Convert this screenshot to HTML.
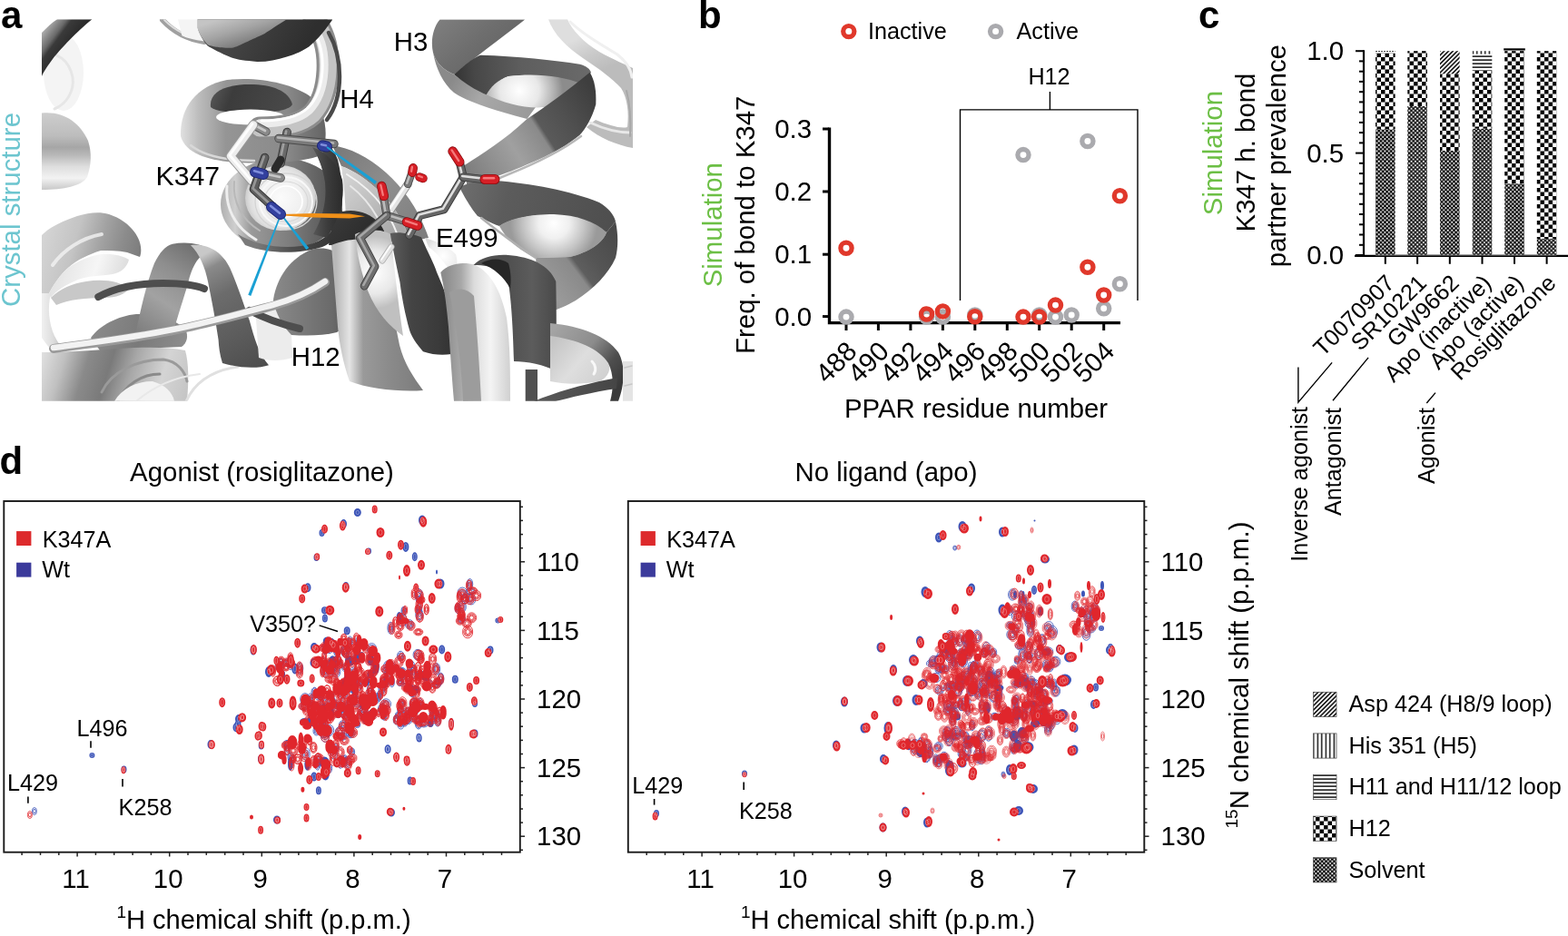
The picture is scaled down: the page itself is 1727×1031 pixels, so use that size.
<!DOCTYPE html>
<html><head><meta charset="utf-8"><style>
html,body{margin:0;padding:0;background:#fff;overflow:hidden;}
svg{display:block;font-family:'Liberation Sans', Arial, Helvetica, sans-serif;}
</style></head><body>
<svg width="1727" height="1031" viewBox="0 0 1727 1031">
<defs><clipPath id="clipA"><rect x="46" y="21.3" width="651" height="420.5"/></clipPath><linearGradient id="gFR" gradientUnits="userSpaceOnUse" x1="640" y1="40" x2="660" y2="80"><stop offset="0" stop-color="#dedede"/><stop offset="0.5" stop-color="#cacaca"/><stop offset="1" stop-color="#bcbcbc"/></linearGradient><linearGradient id="gH3a" gradientUnits="userSpaceOnUse" x1="480" y1="25" x2="540" y2="90"><stop offset="0" stop-color="#7e7e7e"/><stop offset="0.5" stop-color="#6e6e6e"/><stop offset="1" stop-color="#626262"/></linearGradient><linearGradient id="gH3r" gradientUnits="userSpaceOnUse" x1="500" y1="85" x2="580" y2="130"><stop offset="0" stop-color="#8a8a8a"/><stop offset="0.4" stop-color="#a8a8a8"/><stop offset="1" stop-color="#9a9a9a"/></linearGradient><linearGradient id="gH3b" gradientUnits="userSpaceOnUse" x1="500" y1="80" x2="650" y2="70"><stop offset="0" stop-color="#333333"/><stop offset="0.15" stop-color="#474747"/><stop offset="0.5" stop-color="#5e5e5e"/><stop offset="1" stop-color="#6a6a6a"/></linearGradient><radialGradient id="gH3h" gradientUnits="userSpaceOnUse" cx="572" cy="100" r="48"><stop offset="0" stop-color="#ffffff"/><stop offset="0.45" stop-color="#e8e8e8"/><stop offset="0.8" stop-color="#b0b0b0"/><stop offset="1" stop-color="#8c8c8c"/></radialGradient><linearGradient id="gH3c" gradientUnits="userSpaceOnUse" x1="660" y1="110" x2="520" y2="200"><stop offset="0" stop-color="#3e3e3e"/><stop offset="0.25" stop-color="#505050"/><stop offset="0.42" stop-color="#5a5a5a"/><stop offset="0.45" stop-color="#8a8a8a"/><stop offset="0.65" stop-color="#a0a0a0"/><stop offset="0.85" stop-color="#8c8c8c"/><stop offset="1" stop-color="#7c7c7c"/></linearGradient><linearGradient id="gTL" gradientUnits="userSpaceOnUse" x1="48" y1="30" x2="75" y2="50"><stop offset="0" stop-color="#b8b8b8"/><stop offset="0.45" stop-color="#6a6a6a"/><stop offset="0.6" stop-color="#3a3a3a"/><stop offset="1" stop-color="#2c2c2c"/></linearGradient><linearGradient id="gLD" gradientUnits="userSpaceOnUse" x1="46" y1="124" x2="46" y2="209"><stop offset="0" stop-color="#cdcdcd"/><stop offset="0.3" stop-color="#bdbdbd"/><stop offset="0.45" stop-color="#a6a6a6"/><stop offset="0.55" stop-color="#b8b8b8"/><stop offset="0.7" stop-color="#dedede"/><stop offset="0.85" stop-color="#f2f2f2"/><stop offset="1" stop-color="#c8c8c8"/></linearGradient><linearGradient id="gLR" gradientUnits="userSpaceOnUse" x1="243" y1="0" x2="377" y2="0"><stop offset="0" stop-color="#b0b0b0"/><stop offset="0.12" stop-color="#cfcfcf"/><stop offset="0.25" stop-color="#9a9a9a"/><stop offset="0.6" stop-color="#7a7a7a"/><stop offset="1" stop-color="#4a4a4a"/></linearGradient><linearGradient id="gLRd" gradientUnits="userSpaceOnUse" x1="280" y1="250" x2="377" y2="240"><stop offset="0" stop-color="#7a7a7a"/><stop offset="0.4" stop-color="#4e4e4e"/><stop offset="1" stop-color="#2e2e2e"/></linearGradient><radialGradient id="gLRh" gradientUnits="userSpaceOnUse" cx="309" cy="218" r="40"><stop offset="0" stop-color="#fbfbfb"/><stop offset="0.6" stop-color="#f0f0f0"/><stop offset="0.85" stop-color="#dedede"/><stop offset="1" stop-color="#c8c8c8"/></radialGradient><linearGradient id="gH4R" gradientUnits="userSpaceOnUse" x1="345" y1="0" x2="377" y2="0"><stop offset="0" stop-color="#6a6a6a"/><stop offset="0.35" stop-color="#4a4a4a"/><stop offset="1" stop-color="#2c2c2c"/></linearGradient><linearGradient id="gRing" gradientUnits="userSpaceOnUse" x1="199" y1="0" x2="365" y2="0"><stop offset="0" stop-color="#e0e0e0"/><stop offset="0.12" stop-color="#bcbcbc"/><stop offset="0.3" stop-color="#959595"/><stop offset="0.7" stop-color="#8a8a8a"/><stop offset="1" stop-color="#5e5e5e"/></linearGradient><linearGradient id="gRingIn" gradientUnits="userSpaceOnUse" x1="230" y1="90" x2="320" y2="125"><stop offset="0" stop-color="#5e5e5e"/><stop offset="0.3" stop-color="#3c3c3c"/><stop offset="1" stop-color="#4a4a4a"/></linearGradient><linearGradient id="gTD" gradientUnits="userSpaceOnUse" x1="260" y1="30" x2="330" y2="65"><stop offset="0" stop-color="#454545"/><stop offset="1" stop-color="#2e2e2e"/></linearGradient><linearGradient id="gTDl" gradientUnits="userSpaceOnUse" x1="240" y1="22" x2="250" y2="55"><stop offset="0" stop-color="#c4c4c4"/><stop offset="0.5" stop-color="#a4a4a4"/><stop offset="1" stop-color="#7c7c7c"/></linearGradient><linearGradient id="gL1" gradientUnits="userSpaceOnUse" x1="508" y1="200" x2="677" y2="245"><stop offset="0" stop-color="#6e6e6e"/><stop offset="0.3" stop-color="#5c5c5c"/><stop offset="1" stop-color="#4e4e4e"/></linearGradient><radialGradient id="gL2" gradientUnits="userSpaceOnUse" cx="610" cy="246" r="48"><stop offset="0" stop-color="#ffffff"/><stop offset="0.35" stop-color="#f0f0f0"/><stop offset="0.7" stop-color="#c4c4c4"/><stop offset="1" stop-color="#9a9a9a"/></radialGradient><linearGradient id="gL3" gradientUnits="userSpaceOnUse" x1="678" y1="260" x2="585" y2="330"><stop offset="0" stop-color="#4a4a4a"/><stop offset="0.3" stop-color="#555555"/><stop offset="0.45" stop-color="#5e5e5e"/><stop offset="0.5" stop-color="#8a8a8a"/><stop offset="0.8" stop-color="#9a9a9a"/><stop offset="1" stop-color="#8a8a8a"/></linearGradient><linearGradient id="gBL1" gradientUnits="userSpaceOnUse" x1="46" y1="250" x2="155" y2="280"><stop offset="0" stop-color="#d6d6d6"/><stop offset="0.35" stop-color="#c4c4c4"/><stop offset="0.6" stop-color="#a2a2a2"/><stop offset="0.8" stop-color="#8c8c8c"/><stop offset="1" stop-color="#7c7c7c"/></linearGradient><linearGradient id="gBL2" gradientUnits="userSpaceOnUse" x1="54" y1="300" x2="145" y2="330"><stop offset="0" stop-color="#e0e0e0"/><stop offset="0.5" stop-color="#f6f6f6"/><stop offset="1" stop-color="#d0d0d0"/></linearGradient><linearGradient id="gBL3" gradientUnits="userSpaceOnUse" x1="46" y1="0" x2="72" y2="0"><stop offset="0" stop-color="#f0f0f0"/><stop offset="0.5" stop-color="#dcdcdc"/><stop offset="1" stop-color="#b4b4b4"/></linearGradient><linearGradient id="gBL4" gradientUnits="userSpaceOnUse" x1="110" y1="345" x2="206" y2="380"><stop offset="0" stop-color="#8a8a8a"/><stop offset="0.5" stop-color="#7a7a7a"/><stop offset="1" stop-color="#8e8e8e"/></linearGradient><linearGradient id="gBL5" gradientUnits="userSpaceOnUse" x1="46" y1="390" x2="206" y2="440"><stop offset="0" stop-color="#e0e0e0"/><stop offset="0.15" stop-color="#c0c0c0"/><stop offset="0.3" stop-color="#8a8a8a"/><stop offset="0.45" stop-color="#7a7a7a"/><stop offset="0.6" stop-color="#a8a8a8"/><stop offset="0.8" stop-color="#d4d4d4"/><stop offset="1" stop-color="#c4c4c4"/></linearGradient><linearGradient id="gH12b" gradientUnits="userSpaceOnUse" x1="150" y1="370" x2="215" y2="270"><stop offset="0" stop-color="#7a7a7a"/><stop offset="0.4" stop-color="#a2a2a2"/><stop offset="0.7" stop-color="#8e8e8e"/><stop offset="1" stop-color="#6e6e6e"/></linearGradient><linearGradient id="gH12f" gradientUnits="userSpaceOnUse" x1="225" y1="280" x2="290" y2="400"><stop offset="0" stop-color="#c8c8c8"/><stop offset="0.12" stop-color="#8a8a8a"/><stop offset="0.35" stop-color="#6c6c6c"/><stop offset="0.75" stop-color="#5a5a5a"/><stop offset="1" stop-color="#4e4e4e"/></linearGradient><linearGradient id="gH12r" gradientUnits="userSpaceOnUse" x1="300" y1="300" x2="382" y2="300"><stop offset="0" stop-color="#8a8a8a"/><stop offset="0.4" stop-color="#7a7a7a"/><stop offset="0.8" stop-color="#6a6a6a"/><stop offset="1" stop-color="#5a5a5a"/></linearGradient><linearGradient id="gArc" gradientUnits="userSpaceOnUse" x1="370" y1="165" x2="470" y2="255"><stop offset="0" stop-color="#7a7a7a"/><stop offset="0.5" stop-color="#8e8e8e"/><stop offset="1" stop-color="#7e7e7e"/></linearGradient><linearGradient id="gArcIn" gradientUnits="userSpaceOnUse" x1="377" y1="185" x2="440" y2="250"><stop offset="0" stop-color="#d8d8d8"/><stop offset="0.5" stop-color="#c0c0c0"/><stop offset="1" stop-color="#a8a8a8"/></linearGradient><linearGradient id="gArcD" gradientUnits="userSpaceOnUse" x1="372" y1="230" x2="420" y2="268"><stop offset="0" stop-color="#3a3a3a"/><stop offset="1" stop-color="#262626"/></linearGradient><linearGradient id="gRT" gradientUnits="userSpaceOnUse" x1="343" y1="0" x2="378" y2="0"><stop offset="0" stop-color="#5a5a5a"/><stop offset="0.5" stop-color="#3c3c3c"/><stop offset="1" stop-color="#2a2a2a"/></linearGradient><linearGradient id="gBR1" gradientUnits="userSpaceOnUse" x1="370" y1="0" x2="470" y2="0"><stop offset="0" stop-color="#b8b8b8"/><stop offset="0.15" stop-color="#e4e4e4"/><stop offset="0.3" stop-color="#9a9a9a"/><stop offset="0.6" stop-color="#8a8a8a"/><stop offset="1" stop-color="#7a7a7a"/></linearGradient><radialGradient id="gBR2" gradientUnits="userSpaceOnUse" cx="412" cy="300" r="40"><stop offset="0" stop-color="#ffffff"/><stop offset="0.6" stop-color="#e8e8e8"/><stop offset="1" stop-color="#c0c0c0"/></radialGradient><linearGradient id="gBR3" gradientUnits="userSpaceOnUse" x1="430" y1="0" x2="507" y2="0"><stop offset="0" stop-color="#5e5e5e"/><stop offset="0.3" stop-color="#444444"/><stop offset="0.7" stop-color="#3a3a3a"/><stop offset="1" stop-color="#2e2e2e"/></linearGradient><radialGradient id="gBR4" gradientUnits="userSpaceOnUse" cx="488" cy="282" r="22"><stop offset="0" stop-color="#ffffff"/><stop offset="0.7" stop-color="#eeeeee"/><stop offset="1" stop-color="#dddddd"/></radialGradient><linearGradient id="gBR5" gradientUnits="userSpaceOnUse" x1="490" y1="0" x2="562" y2="0"><stop offset="0" stop-color="#8c8c8c"/><stop offset="0.25" stop-color="#a8a8a8"/><stop offset="0.45" stop-color="#dcdcdc"/><stop offset="0.7" stop-color="#f4f4f4"/><stop offset="1" stop-color="#d0d0d0"/></linearGradient><linearGradient id="gBR6" gradientUnits="userSpaceOnUse" x1="560" y1="0" x2="612" y2="0"><stop offset="0" stop-color="#505050"/><stop offset="0.5" stop-color="#5c5c5c"/><stop offset="1" stop-color="#4a4a4a"/></linearGradient><linearGradient id="gBR8i" gradientUnits="userSpaceOnUse" x1="612" y1="372" x2="668" y2="420"><stop offset="0" stop-color="#c4c4c4"/><stop offset="0.5" stop-color="#dedede"/><stop offset="1" stop-color="#cfcfcf"/></linearGradient><linearGradient id="gBR8" gradientUnits="userSpaceOnUse" x1="612" y1="360" x2="686" y2="420"><stop offset="0" stop-color="#a4a4a4"/><stop offset="0.45" stop-color="#8c8c8c"/><stop offset="0.75" stop-color="#4e4e4e"/><stop offset="1" stop-color="#3a3a3a"/></linearGradient><linearGradient id="gBR9" gradientUnits="userSpaceOnUse" x1="590" y1="440" x2="684" y2="420"><stop offset="0" stop-color="#5a5a5a"/><stop offset="1" stop-color="#444444"/></linearGradient></defs>
<g clip-path="url(#clipA)"><path d="M604,21.3 L625,21.3 C630,33 642,46 660,57 C676,66 689,71 697,75 L697,163 C680,160 660,152 646,140 L656,132 C670,138 684,142 691,140 C693,124 691,108 684,97 C674,86 660,76 642,64 C624,52 610,38 604,21.3 Z" fill="url(#gFR)" />
<path d="M628,24 C640,36 660,48 680,60 C690,68 695,76 696,85" fill="none" stroke="#f0f0f0" stroke-width="3" stroke-linecap="round" stroke-linejoin="round" />
<path d="M650,135 C665,142 680,146 694,146" fill="none" stroke="#e8e8e8" stroke-width="3" stroke-linecap="round" stroke-linejoin="round" />
<path d="M690,100 C694,115 695,130 694,150" fill="none" stroke="#a8a8a8" stroke-width="2" stroke-linecap="round" stroke-linejoin="round" />
<path d="M484.5,21.5 L578.2,21.5 C560,36 530,58 500.2,82 C490,78 480,70 477,58 C474,45 477,30 484.5,21.5 Z" fill="url(#gH3a)" />
<path d="M477,58 C480,75 488,92 500,102 C515,112 540,120 580.5,131 L590,118 C560,110 530,100 512,90 C505,86 502,84 500.2,82 C490,78 480,70 477,58 Z" fill="url(#gH3r)" />
<path d="M500.2,82 C512,72 520,64 529.2,60.7 C570,62 610,66 638.5,70.8 C646,73 650,76 651,80 L640,92 C610,85 580,82 560,84 C548,88 540,100 535.8,104.2 C525,100 512,92 500.2,82 Z" fill="url(#gH3b)" />
<path d="M535.8,104.2 C540,96 548,88 560,84 C590,80 620,84 640,92 C636,104 620,112 600,118 C580,120 555,114 535.8,104.2 Z" fill="url(#gH3h)" />
<path d="M649.6,79.7 C655,88 657,100 656.3,115 C652,130 645,142 638.5,148.8 C625,160 610,168 593.8,175.6 C575,184 560,190 549.2,193.5 C535,200 522,208 515.8,215.8 L511.3,182.3 C530,170 555,155 580.5,131 C600,118 625,100 649.6,79.7 Z" fill="url(#gH3c)" />
<path d="M640,150 C620,165 595,178 560,192 C540,200 525,208 516,216" fill="none" stroke="#b8b8b8" stroke-width="2.5" stroke-linecap="round" stroke-linejoin="round" />
<ellipse cx="70" cy="80" rx="22" ry="42" fill="#f4f4f4" />
<path d="M50,62 C62,56 76,66 80,85 C82,100 74,114 60,120" fill="none" stroke="#e6e6e6" stroke-width="3" stroke-linecap="round" stroke-linejoin="round" />
<path d="M63,21.3 L101.5,21.3 C90,30 70,50 58,65 C52,73 48,79 46,84 L46,36 C52,30 57,25 63,21.3 Z" fill="url(#gTL)" />
<path d="M46,124.5 C70,122 88,135 97,155 C101,168 101,180 96,195 C90,205 70,209 46,209 Z" fill="url(#gLD)" />
<path d="M179,22 C190,34 205,43 225,46" fill="none" stroke="#a0a0a0" stroke-width="6" stroke-linecap="round" stroke-linejoin="round" />
<path d="M181,22 C192,33 206,41 225,43.5" fill="none" stroke="#dedede" stroke-width="1.8" stroke-linecap="round" stroke-linejoin="round" />
<ellipse cx="310" cy="225" rx="67" ry="51" fill="url(#gLR)" />
<path d="M262,258 C285,272 320,276 345,268 C362,262 374,248 377,228 C378,250 372,265 355,272 C330,280 295,280 270,270 Z" fill="url(#gLRd)" />
<path d="M250,205 C248,228 258,250 282,264" fill="none" stroke="#eeeeee" stroke-width="3" stroke-linecap="round" stroke-linejoin="round" />
<path d="M258,200 C256,222 266,242 286,254" fill="none" stroke="#b8b8b8" stroke-width="2" stroke-linecap="round" stroke-linejoin="round" />
<ellipse cx="309" cy="218" rx="39" ry="36" fill="url(#gLRh)" />
<ellipse cx="315" cy="222" rx="34" ry="31" fill="none" stroke="#d4d4d4" stroke-width="1.4"/>
<ellipse cx="315" cy="222" rx="29" ry="27" fill="none" stroke="#f8f8f8" stroke-width="2"/>
<ellipse cx="315" cy="222" rx="24" ry="22" fill="none" stroke="#d8d8d8" stroke-width="1.2"/>
<ellipse cx="315" cy="222" rx="18" ry="17" fill="none" stroke="#ffffff" stroke-width="1.6"/>
<path d="M342,146 C356,150 366,160 372,176 C378,200 378,225 374,245 L356,250 C362,225 360,195 350,172 C346,164 342,156 342,146 Z" fill="url(#gH4R)" />
<path d="M199,150 C198,120 215,95 250,88 C285,84 320,92 340,105 C360,120 362,150 355,170 C340,178 300,181 262,179 C230,177 205,170 199,150 Z" fill="url(#gRing)" />
<path d="M232,118 C230,100 250,93 275,93 C300,93 318,100 322,115 C318,122 300,124 280,124 C260,124 240,124 232,118 Z" fill="url(#gRingIn)" />
<ellipse cx="276" cy="129" rx="38" ry="8.5" fill="#ffffff" />
<path d="M210,160 C225,172 250,177 280,177" fill="none" stroke="#d8d8d8" stroke-width="2.5" stroke-linecap="round" stroke-linejoin="round" />
<path d="M346,22 C358,38 362,58 361,78 C360,98 355,114 344,126 C332,137 312,141 286,141" fill="none" stroke="#8c8c8c" stroke-width="25" stroke-linecap="round" stroke-linejoin="round" />
<path d="M346,22 C358,38 362,58 361,78 C360,98 355,114 344,126 C332,137 312,141 286,141" fill="none" stroke="#c4c4c4" stroke-width="19" stroke-linecap="round" stroke-linejoin="round" />
<path d="M347,33 C355,45 358,60 357,78 C356,96 351,111 340,122 C329,132 310,136 286,136" fill="none" stroke="#ececec" stroke-width="9" stroke-linecap="round" stroke-linejoin="round" />
<path d="M346,36 C353,47 356,61 355,78 C354,95 349,109 339,119 C328,129 310,133 288,133" fill="none" stroke="#ffffff" stroke-width="3" stroke-linecap="round" stroke-linejoin="round" />
<path d="M362,36 C370,50 374,66 374,84 C374,104 369,120 360,132" fill="none" stroke="#4a4a4a" stroke-width="4.5" stroke-linecap="round" stroke-linejoin="round" />
<path d="M217.4,21.3 L366,21.3 L365.8,22.3 C355,38 345,48 340.2,51.5 C330,58 322,61 315.9,62.4 C305,66 295,68 283.1,67.9 C270,67 262,66 255.1,63.6 C242,58 234,54 228.4,50.3 C222,43 219,37 217.4,30.8 Z" fill="url(#gTD)" />
<path d="M217.4,21.3 L315.9,21.3 C305,28 298,33 291.6,36.9 C283,41 278,43 273.4,45.4 C265,49 260,52 255.1,52.7 C245,53 240,52 236.9,51.5 C232,50.5 230,50 228.4,49 C222,42 219,36 217.4,30.8 Z" fill="url(#gTDl)" />
<path d="M196,21.3 L217.4,21.3 L217.4,30.8 C219,36 222,42 224.7,45.4 C214,44 206,42 200.4,39.3 Z" fill="#f4f4f4" />
<path d="M506,206 C520,200 532,198 545,199 C585,202 628,210 660,223 C670,229 676,236 678,244 L668,256 C650,244 622,237 595,237 C575,238 560,243 550,249 C540,246 532,240 526,238 C518,228 512,218 506,206 Z" fill="url(#gL1)" />
<path d="M550,249 C562,240 585,236 610,236 C635,237 656,244 668,256 C664,268 648,278 628,283 L590,284 C572,276 558,264 550,249 Z" fill="url(#gL2)" />
<path d="M678,244 C681,258 681,272 678,284 C670,302 654,318 634,331 C624,337 615,340 608,343 L586,336 C590,320 592,300 590,284 L628,283 C648,278 664,268 668,256 Z" fill="url(#gL3)" />
<path d="M530,240 C545,252 565,268 590,284" fill="none" stroke="#b0b0b0" stroke-width="2.5" stroke-linecap="round" stroke-linejoin="round" />
<path d="M46,259 C55,250 68,244 85,238 C98,234 110,233 120,236 C135,241 146,250 152,262 C156,270 156,278 154,283 L140,278 C130,276 120,276 111,276 C98,280 85,286 75,295 C66,303 60,312 54,323 L46,323 Z" fill="url(#gBL1)" />
<path d="M58,292 C70,275 90,262 112,258" fill="none" stroke="#f2f2f2" stroke-width="4" stroke-linecap="round" stroke-linejoin="round" opacity="0.8"/>
<path d="M54,323 C60,312 66,303 75,295 C85,288 98,282 111,280 C122,279 134,281 142,286 C140,294 134,300 124,302 C110,304 96,304 86,308 C72,314 62,320 56,328 Z" fill="url(#gBL2)" />
<path d="M56,328 C66,318 80,312 95,310 C115,307 132,310 142,318 C138,324 128,328 115,328 C95,328 75,330 62,336 Z" fill="#c8c8c8" />
<path d="M46,323 L56,323 C52,340 54,356 60,370 C64,378 68,383 72,386 L60,388 C54,383 50,378 46,372 Z" fill="url(#gBL3)" />
<path d="M100,372 C110,358 130,348 150,346 C170,345 190,350 204,362 C208,370 206,378 200,382 L110,386 Z" fill="url(#gBL4)" />
<path d="M46,388 C70,388 100,386 130,384 C160,382 185,382 204,386 C208,400 208,420 206,442 L46,442 Z" fill="url(#gBL5)" />
<path d="M112,432 C122,410 150,396 180,396 C196,398 204,410 206,420" fill="none" stroke="#9a9a9a" stroke-width="3" stroke-linecap="round" stroke-linejoin="round" />
<path d="M130,442 C138,424 156,412 176,412" fill="none" stroke="#8a8a8a" stroke-width="3" stroke-linecap="round" stroke-linejoin="round" />
<path d="M126,442 C134,428 150,420 168,420 C182,424 190,432 192,442 Z" fill="#f2f2f2" />
<path d="M205,442 C215,420 235,408 262,404" fill="none" stroke="#e0e0e0" stroke-width="3" stroke-linecap="round" stroke-linejoin="round" />
<path d="M150,442 C170,425 195,415 220,412" fill="none" stroke="#e8e8e8" stroke-width="2" stroke-linecap="round" stroke-linejoin="round" />
<path d="M148.9,370 C155,340 162,310 170,290 C176,278 182,271 190,268.8 C205,266 222,268 232,276 C220,280 212,290 206.5,314.6 C200,335 194,355 189.4,370 Z" fill="url(#gH12b)" />
<path d="M108.3,327 C125,318 150,312 180,312 C200,312 215,314 225,318" fill="none" stroke="#4e4e4e" stroke-width="8" stroke-linecap="round"/>
<path d="M210,270 C230,268 245,278 253.4,295.4 C262,315 270,340 274.8,353 C280,372 285,390 296,402.2 C285,406 265,406 245,400 C242,390 241,382 240.6,374.4 C237,350 233,330 229,310 C226,295 220,280 210,270 Z" fill="url(#gH12f)" />
<path d="M281,337 C290,334 305,334 320,338 L322,394 C310,398 295,398 285,394 Z" fill="#ececec" />
<path d="M301,330 C305,305 320,284 343,275 C355,272 366,274 372,280 C378,292 382,310 382,330 C382,350 378,362 371,366 C355,370 338,370 321,369 C312,360 303,345 301,330 Z" fill="url(#gH12r)" />
<path d="M275,342 C290,350 305,356 330,362" fill="none" stroke="#4e4e4e" stroke-width="8" stroke-linecap="round" stroke-linejoin="round" />
<path d="M59,384 C100,378 140,374 190,364 C230,356 270,345 300,337 C325,330 345,320 358,311" fill="none" stroke="#9a9a9a" stroke-width="10" stroke-linecap="round" stroke-linejoin="round" />
<path d="M59,383 C100,377 140,373 190,363 C230,355 270,344 300,336 C325,329 345,319 358,310" fill="none" stroke="#f2f2f2" stroke-width="6.5" stroke-linecap="round" stroke-linejoin="round" />
<path d="M366,160 C385,163 405,172 425,190 C445,208 462,232 472,262 L452,266 C445,245 435,228 420,213 C405,198 390,188 376,183 Z" fill="url(#gArc)" />
<path d="M376,183 C390,188 405,198 420,213 C435,228 445,245 452,266 L380,266 C382,240 380,210 376,183 Z" fill="url(#gArcIn)" />
<path d="M382,192 C395,200 410,212 422,228 C430,240 436,252 440,266" fill="none" stroke="#f2f2f2" stroke-width="2" stroke-linecap="round" stroke-linejoin="round" />
<path d="M386,205 C398,214 408,226 416,240" fill="none" stroke="#e8e8e8" stroke-width="2" stroke-linecap="round" stroke-linejoin="round" />
<path d="M368,236 C385,228 405,232 418,246 C424,254 426,262 426,270 L362,270 C364,258 366,246 368,236 Z" fill="url(#gArcD)" />
<path d="M344,162 C360,168 372,180 377,198 C380,220 374,240 360,262 L345,258 C356,240 360,220 358,200 C356,185 350,172 344,162 Z" fill="url(#gRT)" />
<path d="M365,270 C385,262 400,262 412,268 C425,300 432,340 440,380 C445,400 455,415 466,430 C440,432 405,428 385,420 C378,400 374,380 372,360 Z" fill="url(#gBR1)" />
<path d="M391,258 C405,252 420,252 430,258 C434,290 438,330 444,370 C430,360 415,345 405,320 C398,300 393,280 391,258 Z" fill="url(#gBR2)" />
<path d="M429.8,257 C440,255 455,258 464,261.3 C472,280 478,290 481,299.7 C490,320 495,335 498,353 C502,368 505,378 506.6,387.2 C495,392 480,392 466,387.2 C458,378 453,370 451.1,363.7 C446,345 443,330 440.4,310.4 C436,290 432,270 429.8,257 Z" fill="url(#gBR3)" />
<path d="M468,262 C480,266 492,270 502,280 C505,290 503,298 498,300 C490,292 484,280 472,272 Z" fill="url(#gBR4)" />
<path d="M485.3,300 C495,290 510,288 523.7,292 C540,300 552,320 558,350 C562,380 562,410 562,442 L500,442 C498,420 496,390 494,360 C492,340 490,320 485.3,300 Z" fill="url(#gBR5)" />
<path d="M495,322 C505,316 515,318 522,326 C525,360 528,400 530,442 L510,442 C508,400 503,360 495,322 Z" fill="#9c9c9c" />
<path d="M521.5,292 C530,283 545,280 560,281 C585,283 605,292 612.3,310 C613,340 613,380 612.3,408.6 C600,402 580,398 566,398 C565,360 563,330 560,312 C555,298 545,292 521.5,292 Z" fill="url(#gBR6)" />
<path d="M530,290 C540,284 552,284 560,290 C563,300 563,310 562,318 C555,305 545,296 530,290 Z" fill="#262626" />
<path d="M606,368 C636,372 658,382 670,396 C674,406 670,416 660,420 C640,424 620,423 606,420 Z" fill="url(#gBR8i)" />
<path d="M652,398 C656,402 657,408 654,412" fill="none" stroke="#f8f8f8" stroke-width="3" stroke-linecap="round" stroke-linejoin="round" />
<path d="M606,356 C640,359 668,370 681,388 C689,402 688,424 681,442 L672,442 C676,428 676,412 670,400 C660,384 636,374 606,370 Z" fill="url(#gBR8)" fill-rule="evenodd"/>
<path d="M588,442 C612,432 640,424 670,418 L680,416 L679,428 C652,432 628,438 612,442 Z" fill="url(#gBR9)" />
<path d="M686,398 L697,398 L697,442 L686,442 Z" fill="#e4e4e4" />
<path d="M688,405 L696,403" fill="none" stroke="#c8c8c8" stroke-width="1.5" stroke-linecap="round" stroke-linejoin="round" />
<path d="M688,425 L696,423" fill="none" stroke="#c8c8c8" stroke-width="1.5" stroke-linecap="round" stroke-linejoin="round" />
<path d="M578.7,407 L592,407 L592,442 L578.7,442 Z" fill="#505050" />
<path d="M293,145 L279,137.5" fill="none" stroke="#5a5a5a" stroke-width="9.5" stroke-linecap="round" stroke-linejoin="round" />
<path d="M293,145 L279,137.5" fill="none" stroke="#8a8a8a" stroke-width="7.6000000000000005" stroke-linecap="round" stroke-linejoin="round" />
<path d="M293,145 L279,137.5" fill="none" stroke="#d0d0d0" stroke-width="2.66" stroke-linecap="round" stroke-linejoin="round" opacity="0.85" transform="translate(-1,-1)"/>
<path d="M279,137.5 L254,172 L277.7,199.6" fill="none" stroke="#9a9a9a" stroke-width="10.5" stroke-linecap="round" stroke-linejoin="round" />
<path d="M279,137.5 L254,172 L277.7,199.6" fill="none" stroke="#ededed" stroke-width="8.4" stroke-linecap="round" stroke-linejoin="round" />
<path d="M279,137.5 L254,172 L277.7,199.6" fill="none" stroke="#ffffff" stroke-width="2.9400000000000004" stroke-linecap="round" stroke-linejoin="round" opacity="0.85" transform="translate(-1,-1)"/>
<path d="M316.2,145.5 L309,180" fill="none" stroke="#3a3a3a" stroke-width="9.5" stroke-linecap="round" stroke-linejoin="round" />
<path d="M316.2,145.5 L309,180" fill="none" stroke="#6a6a6a" stroke-width="7.6000000000000005" stroke-linecap="round" stroke-linejoin="round" />
<path d="M316.2,145.5 L309,180" fill="none" stroke="#a8a8a8" stroke-width="2.66" stroke-linecap="round" stroke-linejoin="round" opacity="0.85" transform="translate(-1,-1)"/>
<path d="M309,176 L303,186" fill="none" stroke="#2a2a2a" stroke-width="9" stroke-linecap="round" stroke-linejoin="round" />
<path d="M291.7,173.5 L279.5,208.4 L300.4,227.6" fill="none" stroke="#333333" stroke-width="9.5" stroke-linecap="round" stroke-linejoin="round" />
<path d="M291.7,173.5 L279.5,208.4 L300.4,227.6" fill="none" stroke="#5e5e5e" stroke-width="7.6000000000000005" stroke-linecap="round" stroke-linejoin="round" />
<path d="M291.7,173.5 L279.5,208.4 L300.4,227.6" fill="none" stroke="#a0a0a0" stroke-width="2.66" stroke-linecap="round" stroke-linejoin="round" opacity="0.85" transform="translate(-1,-1)"/>
<path d="M307,152.5 L368,158.5" fill="none" stroke="#4a4a4a" stroke-width="9.5" stroke-linecap="round" stroke-linejoin="round" />
<path d="M307,152.5 L368,158.5" fill="none" stroke="#7a7a7a" stroke-width="7.6000000000000005" stroke-linecap="round" stroke-linejoin="round" />
<path d="M307,152.5 L368,158.5" fill="none" stroke="#c0c0c0" stroke-width="2.66" stroke-linecap="round" stroke-linejoin="round" opacity="0.85" transform="translate(-1,-1)"/>
<path d="M355,160.5 L360,161.5" fill="none" stroke="#1c2570" stroke-width="12" stroke-linecap="round" stroke-linejoin="round" />
<path d="M355,160.5 L360,161.5" fill="none" stroke="#33409e" stroke-width="10.2" stroke-linecap="round" stroke-linejoin="round" />
<path d="M355,160.5 L360,161.5" fill="none" stroke="#9aa8f0" stroke-width="2.64" stroke-linecap="round" stroke-linejoin="round" opacity="0.75" transform="translate(-1,-1.2)"/>
<path d="M288,191.5 L309.2,196" fill="none" stroke="#5a5a5a" stroke-width="9.5" stroke-linecap="round" stroke-linejoin="round" />
<path d="M288,191.5 L309.2,196" fill="none" stroke="#8a8a8a" stroke-width="7.6000000000000005" stroke-linecap="round" stroke-linejoin="round" />
<path d="M288,191.5 L309.2,196" fill="none" stroke="#d0d0d0" stroke-width="2.66" stroke-linecap="round" stroke-linejoin="round" opacity="0.85" transform="translate(-1,-1)"/>
<path d="M281,189.5 L290,192" fill="none" stroke="#1c2570" stroke-width="12" stroke-linecap="round" stroke-linejoin="round" />
<path d="M281,189.5 L290,192" fill="none" stroke="#33409e" stroke-width="10.2" stroke-linecap="round" stroke-linejoin="round" />
<path d="M281,189.5 L290,192" fill="none" stroke="#9aa8f0" stroke-width="2.64" stroke-linecap="round" stroke-linejoin="round" opacity="0.75" transform="translate(-1,-1.2)"/>
<path d="M450.8,258.9 L462.4,237.4 L488.8,230.8 L510.2,195" fill="none" stroke="#3a3a3a" stroke-width="9.2" stroke-linecap="round" stroke-linejoin="round" />
<path d="M450.8,258.9 L462.4,237.4 L488.8,230.8 L510.2,195" fill="none" stroke="#666666" stroke-width="7.359999999999999" stroke-linecap="round" stroke-linejoin="round" />
<path d="M450.8,258.9 L462.4,237.4 L488.8,230.8 L510.2,195" fill="none" stroke="#f4f4f4" stroke-width="2.576" stroke-linecap="round" stroke-linejoin="round" opacity="0.85" transform="translate(-1,-1)"/>
<path d="M510.2,195 L506.2,178.3" fill="none" stroke="#3a3a3a" stroke-width="9.2" stroke-linecap="round" stroke-linejoin="round" />
<path d="M510.2,195 L506.2,178.3" fill="none" stroke="#666666" stroke-width="7.359999999999999" stroke-linecap="round" stroke-linejoin="round" />
<path d="M510.2,195 L506.2,178.3" fill="none" stroke="#f4f4f4" stroke-width="2.576" stroke-linecap="round" stroke-linejoin="round" opacity="0.85" transform="translate(-1,-1)"/>
<path d="M506.2,178.3 L498.6,166.6" fill="none" stroke="#8a0c10" stroke-width="10.5" stroke-linecap="round" stroke-linejoin="round" />
<path d="M506.2,178.3 L498.6,166.6" fill="none" stroke="#d61f26" stroke-width="8.924999999999999" stroke-linecap="round" stroke-linejoin="round" />
<path d="M506.2,178.3 L498.6,166.6" fill="none" stroke="#ff9a9a" stroke-width="2.31" stroke-linecap="round" stroke-linejoin="round" opacity="0.75" transform="translate(-1,-1.2)"/>
<path d="M510.2,195 L532,197.5" fill="none" stroke="#3a3a3a" stroke-width="9.2" stroke-linecap="round" stroke-linejoin="round" />
<path d="M510.2,195 L532,197.5" fill="none" stroke="#666666" stroke-width="7.359999999999999" stroke-linecap="round" stroke-linejoin="round" />
<path d="M510.2,195 L532,197.5" fill="none" stroke="#f4f4f4" stroke-width="2.576" stroke-linecap="round" stroke-linejoin="round" opacity="0.85" transform="translate(-1,-1)"/>
<path d="M534,197.5 L545,197.5" fill="none" stroke="#8a0c10" stroke-width="11" stroke-linecap="round" stroke-linejoin="round" />
<path d="M534,197.5 L545,197.5" fill="none" stroke="#d61f26" stroke-width="9.35" stroke-linecap="round" stroke-linejoin="round" />
<path d="M534,197.5 L545,197.5" fill="none" stroke="#ff9a9a" stroke-width="2.42" stroke-linecap="round" stroke-linejoin="round" opacity="0.75" transform="translate(-1,-1.2)"/>
<path d="M426,237.4 L449.2,202.8" fill="none" stroke="#8a8a8a" stroke-width="9" stroke-linecap="round" stroke-linejoin="round" />
<path d="M426,237.4 L449.2,202.8" fill="none" stroke="#e4e4e4" stroke-width="7.2" stroke-linecap="round" stroke-linejoin="round" />
<path d="M426,237.4 L449.2,202.8" fill="none" stroke="#ffffff" stroke-width="2.5200000000000005" stroke-linecap="round" stroke-linejoin="round" opacity="0.85" transform="translate(-1,-1)"/>
<path d="M449.2,202.8 L453,192" fill="none" stroke="#4a4a4a" stroke-width="8.5" stroke-linecap="round" stroke-linejoin="round" />
<path d="M449.2,202.8 L453,192" fill="none" stroke="#7a7a7a" stroke-width="6.800000000000001" stroke-linecap="round" stroke-linejoin="round" />
<path d="M449.2,202.8 L453,192" fill="none" stroke="#c8c8c8" stroke-width="2.3800000000000003" stroke-linecap="round" stroke-linejoin="round" opacity="0.85" transform="translate(-1,-1)"/>
<path d="M454.1,190 L455,185" fill="none" stroke="#8a0c10" stroke-width="10" stroke-linecap="round" stroke-linejoin="round" />
<path d="M454.1,190 L455,185" fill="none" stroke="#d61f26" stroke-width="8.5" stroke-linecap="round" stroke-linejoin="round" />
<path d="M454.1,190 L455,185" fill="none" stroke="#ff9a9a" stroke-width="2.2" stroke-linecap="round" stroke-linejoin="round" opacity="0.75" transform="translate(-1,-1.2)"/>
<path d="M462,195 L466,196.5" fill="none" stroke="#8a0c10" stroke-width="9.5" stroke-linecap="round" stroke-linejoin="round" />
<path d="M462,195 L466,196.5" fill="none" stroke="#d61f26" stroke-width="8.075" stroke-linecap="round" stroke-linejoin="round" />
<path d="M462,195 L466,196.5" fill="none" stroke="#ff9a9a" stroke-width="2.09" stroke-linecap="round" stroke-linejoin="round" opacity="0.75" transform="translate(-1,-1.2)"/>
<path d="M426,237.4 L422.8,219.3" fill="none" stroke="#4a4a4a" stroke-width="9" stroke-linecap="round" stroke-linejoin="round" />
<path d="M426,237.4 L422.8,219.3" fill="none" stroke="#7a7a7a" stroke-width="7.2" stroke-linecap="round" stroke-linejoin="round" />
<path d="M426,237.4 L422.8,219.3" fill="none" stroke="#c8c8c8" stroke-width="2.5200000000000005" stroke-linecap="round" stroke-linejoin="round" opacity="0.85" transform="translate(-1,-1)"/>
<path d="M422.8,216 L420.3,205" fill="none" stroke="#8a0c10" stroke-width="10.5" stroke-linecap="round" stroke-linejoin="round" />
<path d="M422.8,216 L420.3,205" fill="none" stroke="#d61f26" stroke-width="8.924999999999999" stroke-linecap="round" stroke-linejoin="round" />
<path d="M422.8,216 L420.3,205" fill="none" stroke="#ff9a9a" stroke-width="2.31" stroke-linecap="round" stroke-linejoin="round" opacity="0.75" transform="translate(-1,-1.2)"/>
<path d="M426,237.4 L446,243.5" fill="none" stroke="#4a4a4a" stroke-width="9" stroke-linecap="round" stroke-linejoin="round" />
<path d="M426,237.4 L446,243.5" fill="none" stroke="#7a7a7a" stroke-width="7.2" stroke-linecap="round" stroke-linejoin="round" />
<path d="M426,237.4 L446,243.5" fill="none" stroke="#c8c8c8" stroke-width="2.5200000000000005" stroke-linecap="round" stroke-linejoin="round" opacity="0.85" transform="translate(-1,-1)"/>
<path d="M448,244.5 L460,248.5" fill="none" stroke="#8a0c10" stroke-width="10.5" stroke-linecap="round" stroke-linejoin="round" />
<path d="M448,244.5 L460,248.5" fill="none" stroke="#d61f26" stroke-width="8.924999999999999" stroke-linecap="round" stroke-linejoin="round" />
<path d="M448,244.5 L460,248.5" fill="none" stroke="#ff9a9a" stroke-width="2.31" stroke-linecap="round" stroke-linejoin="round" opacity="0.75" transform="translate(-1,-1.2)"/>
<path d="M426,237.4 L396.4,262.2 L412.9,293.5 L401.3,315" fill="none" stroke="#3e3e3e" stroke-width="9" stroke-linecap="round" stroke-linejoin="round" />
<path d="M426,237.4 L396.4,262.2 L412.9,293.5 L401.3,315" fill="none" stroke="#6e6e6e" stroke-width="7.2" stroke-linecap="round" stroke-linejoin="round" />
<path d="M426,237.4 L396.4,262.2 L412.9,293.5 L401.3,315" fill="none" stroke="#b0b0b0" stroke-width="2.5200000000000005" stroke-linecap="round" stroke-linejoin="round" opacity="0.85" transform="translate(-1,-1)"/>
<path d="M421,287 L431,272" fill="none" stroke="#aaaaaa" stroke-width="7" stroke-linecap="round" stroke-linejoin="round" />
<path d="M421,287 L431,272" fill="none" stroke="#e0e0e0" stroke-width="5.6000000000000005" stroke-linecap="round" stroke-linejoin="round" />
<path d="M421,287 L431,272" fill="none" stroke="#ffffff" stroke-width="1.9600000000000002" stroke-linecap="round" stroke-linejoin="round" opacity="0.85" transform="translate(-1,-1)"/>
<path d="M308.3,236.7 L273.3,324.7 L276.3,325.9 L309.7,237.3 Z" fill="#1aa0d4"/>
<path d="M310.4,238.5 L337.4,275.2 L340.2,273.0 L311.6,237.5 Z" fill="#1aa0d4"/>
<path d="M359.5,162.7 L412.9,203.0 L415.1,200.0 L360.5,161.3 Z" fill="#1aa0d4"/>
<path d="M312,236 L345,235 L385,235.6 L402,238.3 L385,240.6 L345,239.4 L312,237.6 Z" fill="#f09018"/>
<path d="M299,228 L309,236" fill="none" stroke="#1c2570" stroke-width="12" stroke-linecap="round" stroke-linejoin="round" />
<path d="M299,228 L309,236" fill="none" stroke="#33409e" stroke-width="10.2" stroke-linecap="round" stroke-linejoin="round" />
<path d="M299,228 L309,236" fill="none" stroke="#9aa8f0" stroke-width="2.64" stroke-linecap="round" stroke-linejoin="round" opacity="0.75" transform="translate(-1,-1.2)"/></g>
<text x="1.0" y="30.5" font-size="42" text-anchor="start" fill="#000" font-weight="bold" >a</text>
<text x="22.3" y="231.0" font-size="29.4" text-anchor="middle" fill="#6cc5cf" transform="rotate(-90 22.3 231.0)" >Crystal structure</text>
<text x="433.7" y="55.7" font-size="29.4" text-anchor="start" fill="#000" >H3</text>
<text x="374.3" y="119.3" font-size="29.4" text-anchor="start" fill="#000" >H4</text>
<text x="171.5" y="204.0" font-size="30.2" text-anchor="start" fill="#000" >K347</text>
<text x="480.0" y="272.0" font-size="29.4" text-anchor="start" fill="#000" >E499</text>
<text x="320.8" y="403.2" font-size="29.4" text-anchor="start" fill="#000" >H12</text>
<text x="769.0" y="31.0" font-size="42" text-anchor="start" fill="#000" font-weight="bold" >b</text>
<circle cx="934.8" cy="34.6" r="6.1" fill="none" stroke="#e0382b" stroke-width="5.2"/>
<text x="956.0" y="43.4" font-size="25.2" text-anchor="start" fill="#000" >Inactive</text>
<circle cx="1096.6" cy="34.6" r="6.1" fill="none" stroke="#aaaaae" stroke-width="5.2"/>
<text x="1119.5" y="43.4" font-size="25.2" text-anchor="start" fill="#000" >Active</text>
<path d="M1057.5 331 V120.9 H1253 V331 M1156.4 120.9 V101" fill="none" stroke="#000" stroke-width="1.4"/>
<text x="1155.5" y="93.4" font-size="25.2" text-anchor="middle" fill="#000" >H12</text>
<path d="M913.5 140.5 V357.3 M912 355.6 H1234" fill="none" stroke="#000" stroke-width="3.4"/>
<path d="M906 142 H913" stroke="#000" stroke-width="3"/>
<text x="894.0" y="152.0" font-size="29.4" text-anchor="end" fill="#000" >0.3</text>
<path d="M906 211 H913" stroke="#000" stroke-width="3"/>
<text x="894.0" y="221.0" font-size="29.4" text-anchor="end" fill="#000" >0.2</text>
<path d="M906 280.2 H913" stroke="#000" stroke-width="3"/>
<text x="894.0" y="290.2" font-size="29.4" text-anchor="end" fill="#000" >0.1</text>
<path d="M906 348.6 H913" stroke="#000" stroke-width="3"/>
<text x="894.0" y="358.6" font-size="29.4" text-anchor="end" fill="#000" >0.0</text>
<path d="M932.0 355 V364" stroke="#000" stroke-width="3"/>
<text x="945.4" y="388.7" font-size="29.5" text-anchor="end" fill="#000" transform="rotate(-45 945.4 388.7)" >488</text>
<path d="M967.4 355 V364" stroke="#000" stroke-width="3"/>
<text x="980.8" y="388.7" font-size="29.5" text-anchor="end" fill="#000" transform="rotate(-45 980.8 388.7)" >490</text>
<path d="M1002.9 355 V364" stroke="#000" stroke-width="3"/>
<text x="1016.3" y="388.7" font-size="29.5" text-anchor="end" fill="#000" transform="rotate(-45 1016.3 388.7)" >492</text>
<path d="M1038.4 355 V364" stroke="#000" stroke-width="3"/>
<text x="1051.8" y="388.7" font-size="29.5" text-anchor="end" fill="#000" transform="rotate(-45 1051.8 388.7)" >494</text>
<path d="M1073.8 355 V364" stroke="#000" stroke-width="3"/>
<text x="1087.2" y="388.7" font-size="29.5" text-anchor="end" fill="#000" transform="rotate(-45 1087.2 388.7)" >496</text>
<path d="M1109.3 355 V364" stroke="#000" stroke-width="3"/>
<text x="1122.7" y="388.7" font-size="29.5" text-anchor="end" fill="#000" transform="rotate(-45 1122.7 388.7)" >498</text>
<path d="M1144.7 355 V364" stroke="#000" stroke-width="3"/>
<text x="1158.1" y="388.7" font-size="29.5" text-anchor="end" fill="#000" transform="rotate(-45 1158.1 388.7)" >500</text>
<path d="M1180.2 355 V364" stroke="#000" stroke-width="3"/>
<text x="1193.6" y="388.7" font-size="29.5" text-anchor="end" fill="#000" transform="rotate(-45 1193.6 388.7)" >502</text>
<path d="M1215.7 355 V364" stroke="#000" stroke-width="3"/>
<text x="1229.1" y="388.7" font-size="29.5" text-anchor="end" fill="#000" transform="rotate(-45 1229.1 388.7)" >504</text>
<text x="1075.0" y="460.0" font-size="29.4" text-anchor="middle" fill="#000" >PPAR residue number</text>
<text x="795.5" y="247.7" font-size="29.4" text-anchor="middle" fill="#6cbf45" transform="rotate(-90 795.5 247.7)" >Simulation</text>
<text x="831.3" y="247.8" font-size="29.4" text-anchor="middle" fill="#000" transform="rotate(-90 831.3 247.8)" >Freq. of bond to K347</text>
<circle cx="932.0" cy="349.1" r="6.1" fill="none" stroke="#aaaaae" stroke-width="5.3"/>
<circle cx="932.0" cy="273.3" r="6.1" fill="none" stroke="#e0382b" stroke-width="5.3"/>
<circle cx="1020.6" cy="349.1" r="6.1" fill="none" stroke="#aaaaae" stroke-width="5.3"/>
<circle cx="1020.6" cy="346.0" r="6.1" fill="none" stroke="#e0382b" stroke-width="5.3"/>
<circle cx="1038.4" cy="349.1" r="6.1" fill="none" stroke="#aaaaae" stroke-width="5.3"/>
<circle cx="1038.4" cy="342.9" r="6.1" fill="none" stroke="#e0382b" stroke-width="5.3"/>
<circle cx="1073.8" cy="347.0" r="6.1" fill="none" stroke="#aaaaae" stroke-width="5.3"/>
<circle cx="1073.8" cy="348.8" r="6.1" fill="none" stroke="#e0382b" stroke-width="5.3"/>
<circle cx="1127.0" cy="349.1" r="6.1" fill="none" stroke="#e0382b" stroke-width="5.3"/>
<circle cx="1144.7" cy="347.0" r="6.1" fill="none" stroke="#aaaaae" stroke-width="5.3"/>
<circle cx="1144.7" cy="349.1" r="6.1" fill="none" stroke="#e0382b" stroke-width="5.3"/>
<circle cx="1162.5" cy="349.1" r="6.1" fill="none" stroke="#aaaaae" stroke-width="5.3"/>
<circle cx="1162.5" cy="336.1" r="6.1" fill="none" stroke="#e0382b" stroke-width="5.3"/>
<circle cx="1180.2" cy="347.0" r="6.1" fill="none" stroke="#aaaaae" stroke-width="5.3"/>
<circle cx="1127.0" cy="170.6" r="6.1" fill="none" stroke="#aaaaae" stroke-width="5.3"/>
<circle cx="1197.9" cy="155.5" r="6.1" fill="none" stroke="#aaaaae" stroke-width="5.3"/>
<circle cx="1197.9" cy="294.3" r="6.1" fill="none" stroke="#e0382b" stroke-width="5.3"/>
<circle cx="1215.7" cy="339.8" r="6.1" fill="none" stroke="#aaaaae" stroke-width="5.3"/>
<circle cx="1215.7" cy="325.0" r="6.1" fill="none" stroke="#e0382b" stroke-width="5.3"/>
<circle cx="1233.4" cy="312.7" r="6.1" fill="none" stroke="#aaaaae" stroke-width="5.3"/>
<circle cx="1233.4" cy="215.8" r="6.1" fill="none" stroke="#e0382b" stroke-width="5.3"/>
<defs>
<pattern id="pSol" width="4.47" height="4.47" patternUnits="userSpaceOnUse"><rect width="4.47" height="4.47" fill="#000"/><rect x="0.2" y="0.2" width="1.9" height="1.9" fill="#fff"/><rect x="2.43" y="2.43" width="1.9" height="1.9" fill="#fff"/></pattern>
<pattern id="pH12" width="9" height="9" patternUnits="userSpaceOnUse"><rect width="9" height="9" fill="#fff"/><rect width="4.5" height="4.5" fill="#000"/><rect x="4.5" y="4.5" width="4.5" height="4.5" fill="#000"/></pattern>
<pattern id="pH11" width="9" height="4" patternUnits="userSpaceOnUse"><rect width="9" height="4" fill="#fff"/><rect y="1.4" width="9" height="1.4" fill="#000"/></pattern>
<pattern id="pHis" width="4.5" height="9" patternUnits="userSpaceOnUse"><rect width="4.5" height="9" fill="#fff"/><rect x="1.6" width="1.4" height="9" fill="#000"/></pattern>
<pattern id="pAsp" width="3.4" height="3.4" patternUnits="userSpaceOnUse" patternTransform="rotate(45)"><rect width="3.4" height="3.4" fill="#fff"/><rect x="1.0" width="1.5" height="3.4" fill="#000"/></pattern>
</defs>
<text x="1320.0" y="31.0" font-size="42" text-anchor="start" fill="#000" font-weight="bold" >c</text>
<path d="M1502 55.2 V282.5" stroke="#000" stroke-width="2.2"/>
<path d="M1493 281.0 H1502" stroke="#000" stroke-width="2"/>
<path d="M1497 269.8 H1502" stroke="#000" stroke-width="2"/>
<path d="M1497 258.5 H1502" stroke="#000" stroke-width="2"/>
<path d="M1497 247.3 H1502" stroke="#000" stroke-width="2"/>
<path d="M1497 236.0 H1502" stroke="#000" stroke-width="2"/>
<path d="M1497 224.8 H1502" stroke="#000" stroke-width="2"/>
<path d="M1497 213.6 H1502" stroke="#000" stroke-width="2"/>
<path d="M1497 202.3 H1502" stroke="#000" stroke-width="2"/>
<path d="M1497 191.1 H1502" stroke="#000" stroke-width="2"/>
<path d="M1497 179.8 H1502" stroke="#000" stroke-width="2"/>
<path d="M1493 168.6 H1502" stroke="#000" stroke-width="2"/>
<path d="M1497 157.4 H1502" stroke="#000" stroke-width="2"/>
<path d="M1497 146.1 H1502" stroke="#000" stroke-width="2"/>
<path d="M1497 134.9 H1502" stroke="#000" stroke-width="2"/>
<path d="M1497 123.6 H1502" stroke="#000" stroke-width="2"/>
<path d="M1497 112.4 H1502" stroke="#000" stroke-width="2"/>
<path d="M1497 101.2 H1502" stroke="#000" stroke-width="2"/>
<path d="M1497 89.9 H1502" stroke="#000" stroke-width="2"/>
<path d="M1497 78.7 H1502" stroke="#000" stroke-width="2"/>
<path d="M1497 67.4 H1502" stroke="#000" stroke-width="2"/>
<path d="M1493 56.2 H1502" stroke="#000" stroke-width="2"/>
<text x="1480.0" y="66.4" font-size="29.4" text-anchor="end" fill="#000" >1.0</text>
<text x="1480.0" y="178.8" font-size="29.4" text-anchor="end" fill="#000" >0.5</text>
<text x="1480.0" y="291.2" font-size="29.4" text-anchor="end" fill="#000" >0.0</text>
<path d="M1492 281.8 H1727" stroke="#000" stroke-width="2.2"/>
<rect x="1515.0" y="142.30" width="21.6" height="138.70" fill="url(#pSol)"/>
<rect x="1515.0" y="58.45" width="21.6" height="83.85" fill="url(#pH12)"/>
<path d="M1525.8 282 V290.8" stroke="#000" stroke-width="2"/>
<rect x="1550.3" y="116.90" width="21.6" height="164.10" fill="url(#pSol)"/>
<rect x="1550.3" y="56.20" width="21.6" height="60.70" fill="url(#pH12)"/>
<path d="M1561.1 282 V290.8" stroke="#000" stroke-width="2"/>
<rect x="1586.0" y="165.90" width="21.6" height="115.10" fill="url(#pSol)"/>
<rect x="1586.0" y="81.38" width="21.6" height="84.52" fill="url(#pH12)"/>
<rect x="1586.0" y="56.20" width="21.6" height="25.18" fill="url(#pAsp)"/>
<path d="M1596.8 282 V290.8" stroke="#000" stroke-width="2"/>
<rect x="1621.7" y="141.62" width="21.6" height="139.38" fill="url(#pSol)"/>
<rect x="1621.7" y="78.01" width="21.6" height="63.62" fill="url(#pH12)"/>
<rect x="1621.7" y="59.57" width="21.6" height="18.43" fill="url(#pH11)"/>
<rect x="1621.7" y="56.20" width="21.6" height="3.37" fill="url(#pHis)"/>
<path d="M1632.5 282 V290.8" stroke="#000" stroke-width="2"/>
<rect x="1657.2" y="202.32" width="21.6" height="78.68" fill="url(#pSol)"/>
<rect x="1657.2" y="56.20" width="21.6" height="146.12" fill="url(#pH12)"/>
<path d="M1668.0 282 V290.8" stroke="#000" stroke-width="2"/>
<rect x="1692.8" y="263.02" width="21.6" height="17.98" fill="url(#pSol)"/>
<rect x="1692.8" y="56.20" width="21.6" height="206.82" fill="url(#pH12)"/>
<path d="M1703.6 282 V290.8" stroke="#000" stroke-width="2"/>
<path d="M1515.0 56.6 h21.6" stroke="#000" stroke-width="0.8" stroke-dasharray="2 1"/>
<path d="M1656.2 54.4 h23.6" stroke="#000" stroke-width="2.2"/>
<path d="M1515.0 281 H1714.4" stroke="#888" stroke-width="1"/>
<text x="1537.3" y="313.3" font-size="25.2" text-anchor="end" fill="#000" transform="rotate(-45 1537.3 313.3)" >T0070907</text>
<text x="1572.6" y="313.3" font-size="25.2" text-anchor="end" fill="#000" transform="rotate(-45 1572.6 313.3)" >SR10221</text>
<text x="1608.3" y="313.3" font-size="25.2" text-anchor="end" fill="#000" transform="rotate(-45 1608.3 313.3)" >GW9662</text>
<text x="1644.0" y="313.3" font-size="25.2" text-anchor="end" fill="#000" transform="rotate(-45 1644.0 313.3)" >Apo (inactive)</text>
<text x="1679.5" y="313.3" font-size="25.2" text-anchor="end" fill="#000" transform="rotate(-45 1679.5 313.3)" >Apo (active)</text>
<text x="1715.1" y="313.3" font-size="25.2" text-anchor="end" fill="#000" transform="rotate(-45 1715.1 313.3)" >Rosiglitazone</text>
<path d="M1429.9 404.4 V443.1 L1467.1 399.4 M1468 441.3 L1507.1 393.9 M1571.3 444 L1581 432.6" fill="none" stroke="#000" stroke-width="1.4"/>
<text x="1439.8" y="533.3" font-size="25.2" text-anchor="middle" fill="#000" transform="rotate(-90 1439.8 533.3)" >Inverse agonist</text>
<text x="1476.6" y="508.5" font-size="25.2" text-anchor="middle" fill="#000" transform="rotate(-90 1476.6 508.5)" >Antagonist</text>
<text x="1580.4" y="491.1" font-size="25.2" text-anchor="middle" fill="#000" transform="rotate(-90 1580.4 491.1)" >Agonist</text>
<text x="1346.5" y="168.6" font-size="29.4" text-anchor="middle" fill="#6cbf45" transform="rotate(-90 1346.5 168.6)" >Simulation</text>
<text x="1381.8" y="168.0" font-size="29.4" text-anchor="middle" fill="#000" transform="rotate(-90 1381.8 168.0)" >K347 h. bond</text>
<text x="1415.8" y="171.6" font-size="29.4" text-anchor="middle" fill="#000" transform="rotate(-90 1415.8 171.6)" >partner prevalence</text>
<rect x="1446.5" y="762.3" width="25.5" height="27.2" fill="url(#pAsp)" stroke="#444" stroke-width="0.7"/>
<text x="1485.5" y="784.1" font-size="25.2" text-anchor="start" fill="#000" >Asp 424 (H8/9 loop)</text>
<rect x="1446.5" y="807.9" width="25.5" height="27.2" fill="url(#pHis)" stroke="#444" stroke-width="0.7"/>
<text x="1485.5" y="829.7" font-size="25.2" text-anchor="start" fill="#000" >His 351 (H5)</text>
<rect x="1446.5" y="853.5" width="25.5" height="27.2" fill="url(#pH11)" stroke="#444" stroke-width="0.7"/>
<text x="1485.5" y="875.3" font-size="25.2" text-anchor="start" fill="#000" >H11 and H11/12 loop</text>
<rect x="1446.5" y="899.1" width="25.5" height="27.2" fill="url(#pH12)" stroke="#444" stroke-width="0.7"/>
<text x="1485.5" y="920.9" font-size="25.2" text-anchor="start" fill="#000" >H12</text>
<rect x="1446.5" y="944.7" width="25.5" height="27.2" fill="url(#pSol)" stroke="#444" stroke-width="0.7"/>
<text x="1485.5" y="966.5" font-size="25.2" text-anchor="start" fill="#000" >Solvent</text>
<text x="-0.5" y="522.0" font-size="42" text-anchor="start" fill="#000" font-weight="bold" >d</text>
<rect x="4.3" y="552.0" width="568.5" height="386.7" fill="none" stroke="#1a1a1a" stroke-width="1.9"/>
<path d="M24.1 938.7 V941.9" stroke="#222" stroke-width="1.5"/>
<path d="M44.5 938.7 V941.9" stroke="#222" stroke-width="1.5"/>
<path d="M64.8 938.7 V941.9" stroke="#222" stroke-width="1.5"/>
<path d="M85.1 938.7 V943.5" stroke="#222" stroke-width="1.5"/>
<text x="83.6" y="977.5" font-size="29.4" text-anchor="middle" fill="#000" >11</text>
<path d="M105.4 938.7 V941.9" stroke="#222" stroke-width="1.5"/>
<path d="M125.7 938.7 V941.9" stroke="#222" stroke-width="1.5"/>
<path d="M146.1 938.7 V941.9" stroke="#222" stroke-width="1.5"/>
<path d="M166.4 938.7 V941.9" stroke="#222" stroke-width="1.5"/>
<path d="M186.7 938.7 V943.5" stroke="#222" stroke-width="1.5"/>
<text x="185.2" y="977.5" font-size="29.4" text-anchor="middle" fill="#000" >10</text>
<path d="M207.0 938.7 V941.9" stroke="#222" stroke-width="1.5"/>
<path d="M227.3 938.7 V941.9" stroke="#222" stroke-width="1.5"/>
<path d="M247.7 938.7 V941.9" stroke="#222" stroke-width="1.5"/>
<path d="M268.0 938.7 V941.9" stroke="#222" stroke-width="1.5"/>
<path d="M288.3 938.7 V943.5" stroke="#222" stroke-width="1.5"/>
<text x="286.8" y="977.5" font-size="29.4" text-anchor="middle" fill="#000" >9</text>
<path d="M308.6 938.7 V941.9" stroke="#222" stroke-width="1.5"/>
<path d="M328.9 938.7 V941.9" stroke="#222" stroke-width="1.5"/>
<path d="M349.3 938.7 V941.9" stroke="#222" stroke-width="1.5"/>
<path d="M369.6 938.7 V941.9" stroke="#222" stroke-width="1.5"/>
<path d="M389.9 938.7 V943.5" stroke="#222" stroke-width="1.5"/>
<text x="388.4" y="977.5" font-size="29.4" text-anchor="middle" fill="#000" >8</text>
<path d="M410.2 938.7 V941.9" stroke="#222" stroke-width="1.5"/>
<path d="M430.5 938.7 V941.9" stroke="#222" stroke-width="1.5"/>
<path d="M450.9 938.7 V941.9" stroke="#222" stroke-width="1.5"/>
<path d="M471.2 938.7 V941.9" stroke="#222" stroke-width="1.5"/>
<path d="M491.5 938.7 V943.5" stroke="#222" stroke-width="1.5"/>
<text x="490.0" y="977.5" font-size="29.4" text-anchor="middle" fill="#000" >7</text>
<path d="M511.8 938.7 V941.9" stroke="#222" stroke-width="1.5"/>
<path d="M532.1 938.7 V941.9" stroke="#222" stroke-width="1.5"/>
<path d="M552.5 938.7 V941.9" stroke="#222" stroke-width="1.5"/>
<path d="M572.8 558.3 H576.0" stroke="#222" stroke-width="1.5"/>
<path d="M572.8 573.4 H576.0" stroke="#222" stroke-width="1.5"/>
<path d="M572.8 588.6 H576.0" stroke="#222" stroke-width="1.5"/>
<path d="M572.8 603.7 H576.0" stroke="#222" stroke-width="1.5"/>
<path d="M572.8 618.8 H578.0" stroke="#222" stroke-width="1.5"/>
<text x="591.1" y="629.0" font-size="29.4" text-anchor="start" fill="#000" >110</text>
<path d="M572.8 633.9 H576.0" stroke="#222" stroke-width="1.5"/>
<path d="M572.8 649.0 H576.0" stroke="#222" stroke-width="1.5"/>
<path d="M572.8 664.2 H576.0" stroke="#222" stroke-width="1.5"/>
<path d="M572.8 679.3 H576.0" stroke="#222" stroke-width="1.5"/>
<path d="M572.8 694.4 H578.0" stroke="#222" stroke-width="1.5"/>
<text x="591.1" y="704.6" font-size="29.4" text-anchor="start" fill="#000" >115</text>
<path d="M572.8 709.5 H576.0" stroke="#222" stroke-width="1.5"/>
<path d="M572.8 724.6 H576.0" stroke="#222" stroke-width="1.5"/>
<path d="M572.8 739.8 H576.0" stroke="#222" stroke-width="1.5"/>
<path d="M572.8 754.9 H576.0" stroke="#222" stroke-width="1.5"/>
<path d="M572.8 770.0 H578.0" stroke="#222" stroke-width="1.5"/>
<text x="591.1" y="780.2" font-size="29.4" text-anchor="start" fill="#000" >120</text>
<path d="M572.8 785.1 H576.0" stroke="#222" stroke-width="1.5"/>
<path d="M572.8 800.2 H576.0" stroke="#222" stroke-width="1.5"/>
<path d="M572.8 815.4 H576.0" stroke="#222" stroke-width="1.5"/>
<path d="M572.8 830.5 H576.0" stroke="#222" stroke-width="1.5"/>
<path d="M572.8 845.6 H578.0" stroke="#222" stroke-width="1.5"/>
<text x="591.1" y="855.8" font-size="29.4" text-anchor="start" fill="#000" >125</text>
<path d="M572.8 860.7 H576.0" stroke="#222" stroke-width="1.5"/>
<path d="M572.8 875.8 H576.0" stroke="#222" stroke-width="1.5"/>
<path d="M572.8 891.0 H576.0" stroke="#222" stroke-width="1.5"/>
<path d="M572.8 906.1 H576.0" stroke="#222" stroke-width="1.5"/>
<path d="M572.8 921.2 H578.0" stroke="#222" stroke-width="1.5"/>
<text x="591.1" y="931.4" font-size="29.4" text-anchor="start" fill="#000" >130</text>
<path d="M572.8 936.3 H576.0" stroke="#222" stroke-width="1.5"/>
<text x="288.5" y="529.5" font-size="29.4" text-anchor="middle" fill="#000" >Agonist (rosiglitazone)</text>
<text x="290.5" y="1023.0" font-size="29.1" text-anchor="middle" fill="#000" ><tspan font-size="19" dy="-12">1</tspan><tspan dy="12">H chemical shift (p.p.m.)</tspan></text>
<rect x="18.1" y="585.1" width="16.3" height="15.9" fill="#dd2a2c"/>
<rect x="18.1" y="619.7" width="16.3" height="15.9" fill="#3b3a9b"/>
<text x="46.8" y="603.4" font-size="25.2" text-anchor="start" fill="#000" >K347A</text>
<text x="46.3" y="635.9" font-size="25.2" text-anchor="start" fill="#000" >Wt</text>
<rect x="691.8" y="552.0" width="568.5" height="386.7" fill="none" stroke="#1a1a1a" stroke-width="1.9"/>
<path d="M712.2 938.7 V941.9" stroke="#222" stroke-width="1.5"/>
<path d="M732.5 938.7 V941.9" stroke="#222" stroke-width="1.5"/>
<path d="M752.8 938.7 V941.9" stroke="#222" stroke-width="1.5"/>
<path d="M773.1 938.7 V943.5" stroke="#222" stroke-width="1.5"/>
<text x="771.6" y="977.5" font-size="29.4" text-anchor="middle" fill="#000" >11</text>
<path d="M793.4 938.7 V941.9" stroke="#222" stroke-width="1.5"/>
<path d="M813.7 938.7 V941.9" stroke="#222" stroke-width="1.5"/>
<path d="M834.0 938.7 V941.9" stroke="#222" stroke-width="1.5"/>
<path d="M854.3 938.7 V941.9" stroke="#222" stroke-width="1.5"/>
<path d="M874.6 938.7 V943.5" stroke="#222" stroke-width="1.5"/>
<text x="873.1" y="977.5" font-size="29.4" text-anchor="middle" fill="#000" >10</text>
<path d="M895.0 938.7 V941.9" stroke="#222" stroke-width="1.5"/>
<path d="M915.3 938.7 V941.9" stroke="#222" stroke-width="1.5"/>
<path d="M935.6 938.7 V941.9" stroke="#222" stroke-width="1.5"/>
<path d="M955.9 938.7 V941.9" stroke="#222" stroke-width="1.5"/>
<path d="M976.2 938.7 V943.5" stroke="#222" stroke-width="1.5"/>
<text x="974.7" y="977.5" font-size="29.4" text-anchor="middle" fill="#000" >9</text>
<path d="M996.5 938.7 V941.9" stroke="#222" stroke-width="1.5"/>
<path d="M1016.8 938.7 V941.9" stroke="#222" stroke-width="1.5"/>
<path d="M1037.1 938.7 V941.9" stroke="#222" stroke-width="1.5"/>
<path d="M1057.4 938.7 V941.9" stroke="#222" stroke-width="1.5"/>
<path d="M1077.8 938.7 V943.5" stroke="#222" stroke-width="1.5"/>
<text x="1076.2" y="977.5" font-size="29.4" text-anchor="middle" fill="#000" >8</text>
<path d="M1098.1 938.7 V941.9" stroke="#222" stroke-width="1.5"/>
<path d="M1118.4 938.7 V941.9" stroke="#222" stroke-width="1.5"/>
<path d="M1138.7 938.7 V941.9" stroke="#222" stroke-width="1.5"/>
<path d="M1159.0 938.7 V941.9" stroke="#222" stroke-width="1.5"/>
<path d="M1179.3 938.7 V943.5" stroke="#222" stroke-width="1.5"/>
<text x="1177.8" y="977.5" font-size="29.4" text-anchor="middle" fill="#000" >7</text>
<path d="M1199.6 938.7 V941.9" stroke="#222" stroke-width="1.5"/>
<path d="M1219.9 938.7 V941.9" stroke="#222" stroke-width="1.5"/>
<path d="M1240.2 938.7 V941.9" stroke="#222" stroke-width="1.5"/>
<path d="M1260.3 558.3 H1263.5" stroke="#222" stroke-width="1.5"/>
<path d="M1260.3 573.4 H1263.5" stroke="#222" stroke-width="1.5"/>
<path d="M1260.3 588.6 H1263.5" stroke="#222" stroke-width="1.5"/>
<path d="M1260.3 603.7 H1263.5" stroke="#222" stroke-width="1.5"/>
<path d="M1260.3 618.8 H1265.5" stroke="#222" stroke-width="1.5"/>
<text x="1278.6" y="629.0" font-size="29.4" text-anchor="start" fill="#000" >110</text>
<path d="M1260.3 633.9 H1263.5" stroke="#222" stroke-width="1.5"/>
<path d="M1260.3 649.0 H1263.5" stroke="#222" stroke-width="1.5"/>
<path d="M1260.3 664.2 H1263.5" stroke="#222" stroke-width="1.5"/>
<path d="M1260.3 679.3 H1263.5" stroke="#222" stroke-width="1.5"/>
<path d="M1260.3 694.4 H1265.5" stroke="#222" stroke-width="1.5"/>
<text x="1278.6" y="704.6" font-size="29.4" text-anchor="start" fill="#000" >115</text>
<path d="M1260.3 709.5 H1263.5" stroke="#222" stroke-width="1.5"/>
<path d="M1260.3 724.6 H1263.5" stroke="#222" stroke-width="1.5"/>
<path d="M1260.3 739.8 H1263.5" stroke="#222" stroke-width="1.5"/>
<path d="M1260.3 754.9 H1263.5" stroke="#222" stroke-width="1.5"/>
<path d="M1260.3 770.0 H1265.5" stroke="#222" stroke-width="1.5"/>
<text x="1278.6" y="780.2" font-size="29.4" text-anchor="start" fill="#000" >120</text>
<path d="M1260.3 785.1 H1263.5" stroke="#222" stroke-width="1.5"/>
<path d="M1260.3 800.2 H1263.5" stroke="#222" stroke-width="1.5"/>
<path d="M1260.3 815.4 H1263.5" stroke="#222" stroke-width="1.5"/>
<path d="M1260.3 830.5 H1263.5" stroke="#222" stroke-width="1.5"/>
<path d="M1260.3 845.6 H1265.5" stroke="#222" stroke-width="1.5"/>
<text x="1278.6" y="855.8" font-size="29.4" text-anchor="start" fill="#000" >125</text>
<path d="M1260.3 860.7 H1263.5" stroke="#222" stroke-width="1.5"/>
<path d="M1260.3 875.8 H1263.5" stroke="#222" stroke-width="1.5"/>
<path d="M1260.3 891.0 H1263.5" stroke="#222" stroke-width="1.5"/>
<path d="M1260.3 906.1 H1263.5" stroke="#222" stroke-width="1.5"/>
<path d="M1260.3 921.2 H1265.5" stroke="#222" stroke-width="1.5"/>
<text x="1278.6" y="931.4" font-size="29.4" text-anchor="start" fill="#000" >130</text>
<path d="M1260.3 936.3 H1263.5" stroke="#222" stroke-width="1.5"/>
<text x="976.0" y="529.5" font-size="29.4" text-anchor="middle" fill="#000" >No ligand (apo)</text>
<text x="978.0" y="1023.0" font-size="29.1" text-anchor="middle" fill="#000" ><tspan font-size="19" dy="-12">1</tspan><tspan dy="12">H chemical shift (p.p.m.)</tspan></text>
<rect x="705.6" y="585.1" width="16.3" height="15.9" fill="#dd2a2c"/>
<rect x="705.6" y="619.7" width="16.3" height="15.9" fill="#3b3a9b"/>
<text x="734.3" y="603.4" font-size="25.2" text-anchor="start" fill="#000" >K347A</text>
<text x="733.8" y="635.9" font-size="25.2" text-anchor="start" fill="#000" >Wt</text>
<g><path d="M404.4,728.3a4.2,5.0 0 1,0 8.4,0a4.2,5.0 0 1,0 -8.4,0M355.9,706.8a4.4,4.7 0 1,0 8.7,0a4.4,4.7 0 1,0 -8.7,0M394.9,724.2a3.5,5.2 0 1,0 6.9,0a3.5,5.2 0 1,0 -6.9,0M409.8,734.7a4.0,6.9 0 1,0 7.9,0a4.0,6.9 0 1,0 -7.9,0M362.1,728.0a4.2,5.6 0 1,0 8.5,0a4.2,5.6 0 1,0 -8.5,0M380.1,727.9a5.1,5.1 0 1,0 10.1,0a5.1,5.1 0 1,0 -10.1,0M389.3,723.7a4.6,6.1 0 1,0 9.1,0a4.6,6.1 0 1,0 -9.1,0M405.3,725.8a3.0,4.6 0 1,0 6.0,0a3.0,4.6 0 1,0 -6.0,0M404.3,742.5a4.2,4.8 0 1,0 8.4,0a4.2,4.8 0 1,0 -8.4,0M452.8,759.6a5.0,4.5 0 1,0 10.0,0a5.0,4.5 0 1,0 -10.0,0M446.3,758.6a4.9,5.5 0 1,0 9.8,0a4.9,5.5 0 1,0 -9.8,0M463.4,744.0a5.4,6.0 0 1,0 10.8,0a5.4,6.0 0 1,0 -10.8,0M422.2,749.6a2.8,4.6 0 1,0 5.6,0a2.8,4.6 0 1,0 -5.6,0M362.7,785.8a2.7,5.1 0 1,0 5.3,0a2.7,5.1 0 1,0 -5.3,0M370.4,778.4a4.0,5.0 0 1,0 8.0,0a4.0,5.0 0 1,0 -8.0,0M387.4,772.0a2.9,4.4 0 1,0 5.9,0a2.9,4.4 0 1,0 -5.9,0M362.9,768.1a2.8,6.4 0 1,0 5.6,0a2.8,6.4 0 1,0 -5.6,0M396.1,777.9a5.4,4.2 0 1,0 10.8,0a5.4,4.2 0 1,0 -10.8,0M341.7,790.7a3.4,6.8 0 1,0 6.8,0a3.4,6.8 0 1,0 -6.8,0M337.7,794.4a5.4,5.6 0 1,0 10.8,0a5.4,5.6 0 1,0 -10.8,0M330.3,795.1a5.1,3.7 0 1,0 10.1,0a5.1,3.7 0 1,0 -10.1,0M338.8,786.6a5.1,6.0 0 1,0 10.2,0a5.1,6.0 0 1,0 -10.2,0M354.2,779.0a2.6,3.7 0 1,0 5.2,0a2.6,3.7 0 1,0 -5.2,0M403.0,789.3a3.4,5.4 0 1,0 6.8,0a3.4,5.4 0 1,0 -6.8,0M402.9,789.9a4.9,4.5 0 1,0 9.7,0a4.9,4.5 0 1,0 -9.7,0M386.7,759.6a3.7,5.1 0 1,0 7.3,0a3.7,5.1 0 1,0 -7.3,0M471.0,796.0a3.4,4.3 0 1,0 6.7,0a3.4,4.3 0 1,0 -6.7,0M450.4,783.4a5.2,5.3 0 1,0 10.5,0a5.2,5.3 0 1,0 -10.5,0M419.7,754.2a3.4,3.5 0 1,0 6.8,0a3.4,3.5 0 1,0 -6.8,0M378.5,749.1a4.3,6.7 0 1,0 8.6,0a4.3,6.7 0 1,0 -8.6,0M375.7,754.0a5.0,6.8 0 1,0 10.0,0a5.0,6.8 0 1,0 -10.0,0M401.1,750.2a3.0,5.2 0 1,0 6.1,0a3.0,5.2 0 1,0 -6.1,0M368.1,759.3a2.9,4.9 0 1,0 5.8,0a2.9,4.9 0 1,0 -5.8,0M354.3,852.5a4.2,6.9 0 1,0 8.5,0a4.2,6.9 0 1,0 -8.5,0M352.0,839.7a5.3,5.4 0 1,0 10.5,0a5.3,5.4 0 1,0 -10.5,0M335.3,842.0a3.1,6.7 0 1,0 6.3,0a3.1,6.7 0 1,0 -6.3,0M317.1,841.3a2.8,6.3 0 1,0 5.5,0a2.8,6.3 0 1,0 -5.5,0M307.3,742.8a3.4,5.0 0 1,0 6.8,0a3.4,5.0 0 1,0 -6.8,0M436.6,679.8a3.1,5.9 0 1,0 6.2,0a3.1,5.9 0 1,0 -6.2,0M389.8,564.5a4.0,4.5 0 1,0 8.0,0a4.0,4.5 0 1,0 -8.0,0M351.5,587.1a3.0,4.0 0 1,0 6.0,0a3.0,4.0 0 1,0 -6.0,0M375.0,577.0a3.5,5.0 0 1,0 7.0,0a3.5,5.0 0 1,0 -7.0,0M345.5,614.0a3.0,4.0 0 1,0 6.0,0a3.0,4.0 0 1,0 -6.0,0M403.0,607.0a3.0,3.5 0 1,0 6.0,0a3.0,3.5 0 1,0 -6.0,0M335.5,647.2a3.5,5.0 0 1,0 7.0,0a3.5,5.0 0 1,0 -7.0,0M377.5,646.0a3.5,5.0 0 1,0 7.0,0a3.5,5.0 0 1,0 -7.0,0M354.0,672.2a3.5,4.0 0 1,0 7.0,0a3.5,4.0 0 1,0 -7.0,0M354.9,680.9a3.0,4.5 0 1,0 6.0,0a3.0,4.5 0 1,0 -6.0,0M378.7,694.7a3.5,4.5 0 1,0 7.0,0a3.5,4.5 0 1,0 -7.0,0M461.0,573.0a4.0,5.5 0 1,0 8.0,0a4.0,5.5 0 1,0 -8.0,0M443.4,602.4a3.5,5.5 0 1,0 7.0,0a3.5,5.5 0 1,0 -7.0,0M453.8,613.3a3.0,5.0 0 1,0 6.0,0a3.0,5.0 0 1,0 -6.0,0M480.5,643.0a4.5,5.5 0 1,0 9.0,0a4.5,5.5 0 1,0 -9.0,0M545.4,683.6a3.0,3.0 0 1,0 6.0,0a3.0,3.0 0 1,0 -6.0,0M480.0,630.0a1.0,2.5 0 1,0 2.0,0a1.0,2.5 0 1,0 -2.0,0M275.5,716.0a3.5,5.5 0 1,0 7.0,0a3.5,5.5 0 1,0 -7.0,0M292.0,740.0a4.0,6.0 0 1,0 8.0,0a4.0,6.0 0 1,0 -8.0,0M321.3,736.6a3.5,6.0 0 1,0 7.0,0a3.5,6.0 0 1,0 -7.0,0M342.0,713.0a4.0,5.0 0 1,0 8.0,0a4.0,5.0 0 1,0 -8.0,0M341.5,730.0a4.5,5.0 0 1,0 9.0,0a4.5,5.0 0 1,0 -9.0,0M361.0,708.0a4.0,5.0 0 1,0 8.0,0a4.0,5.0 0 1,0 -8.0,0M259.0,792.0a4.0,5.0 0 1,0 8.0,0a4.0,5.0 0 1,0 -8.0,0M256.5,801.3a3.5,5.0 0 1,0 7.0,0a3.5,5.0 0 1,0 -7.0,0M284.7,821.0a3.0,4.5 0 1,0 6.0,0a3.0,4.5 0 1,0 -6.0,0M228.5,820.0a3.5,5.0 0 1,0 7.0,0a3.5,5.0 0 1,0 -7.0,0M536.5,716.0a3.5,4.5 0 1,0 7.0,0a3.5,4.5 0 1,0 -7.0,0M497.8,748.2a3.5,4.5 0 1,0 7.0,0a3.5,4.5 0 1,0 -7.0,0M520.0,775.0a3.0,4.0 0 1,0 6.0,0a3.0,4.0 0 1,0 -6.0,0M519.5,808.0a3.5,4.5 0 1,0 7.0,0a3.5,4.5 0 1,0 -7.0,0M494.0,797.0a3.0,6.0 0 1,0 6.0,0a3.0,6.0 0 1,0 -6.0,0M483.2,715.5a3.5,5.0 0 1,0 7.0,0a3.5,5.0 0 1,0 -7.0,0M458.3,812.2a3.0,4.5 0 1,0 6.0,0a3.0,4.5 0 1,0 -6.0,0M423.6,825.3a3.5,4.5 0 1,0 7.0,0a3.5,4.5 0 1,0 -7.0,0M258.5,798.0a3.5,5.0 0 1,0 7.0,0a3.5,5.0 0 1,0 -7.0,0M284.0,836.0a3.5,5.0 0 1,0 7.0,0a3.5,5.0 0 1,0 -7.0,0M301.0,903.0a4.0,4.5 0 1,0 8.0,0a4.0,4.5 0 1,0 -8.0,0M347.9,870.7a3.0,4.5 0 1,0 6.0,0a3.0,4.5 0 1,0 -6.0,0M342.4,855.6a3.5,5.0 0 1,0 7.0,0a3.5,5.0 0 1,0 -7.0,0M427.0,895.0a4.0,4.5 0 1,0 8.0,0a4.0,4.5 0 1,0 -8.0,0M448.6,859.9a3.0,4.5 0 1,0 6.0,0a3.0,4.5 0 1,0 -6.0,0M423.6,825.3a3.5,5.0 0 1,0 7.0,0a3.5,5.0 0 1,0 -7.0,0M458.7,812.9a3.0,4.5 0 1,0 6.0,0a3.0,4.5 0 1,0 -6.0,0M98.4,832.0a3.0,3.0 0 1,0 6.0,0a3.0,3.0 0 1,0 -6.0,0M133.5,847.5a3.0,4.0 0 1,0 6.0,0a3.0,4.0 0 1,0 -6.0,0" fill="#3d55b8"/><path d="M405.2,722.1a4.8,3.5 0 1,0 9.6,0a4.8,3.5 0 1,0 -9.6,0M406.6,722.1a3.4,2.5 0 1,0 6.7,0a3.4,2.5 0 1,0 -6.7,0M408.1,722.1a1.9,1.4 0 1,0 3.8,0a1.9,1.4 0 1,0 -3.8,0M379.3,748.4a3.6,4.3 0 1,0 7.3,0a3.6,4.3 0 1,0 -7.3,0M380.4,748.4a2.6,3.0 0 1,0 5.1,0a2.6,3.0 0 1,0 -5.1,0M381.5,748.4a1.5,1.7 0 1,0 2.9,0a1.5,1.7 0 1,0 -2.9,0M355.1,714.7a3.2,5.1 0 1,0 6.3,0a3.2,5.1 0 1,0 -6.3,0M356.0,714.7a2.2,3.6 0 1,0 4.4,0a2.2,3.6 0 1,0 -4.4,0M357.0,714.7a1.3,2.0 0 1,0 2.5,0a1.3,2.0 0 1,0 -2.5,0M365.6,739.4a4.6,6.8 0 1,0 9.3,0a4.6,6.8 0 1,0 -9.3,0M367.0,739.4a3.2,4.7 0 1,0 6.5,0a3.2,4.7 0 1,0 -6.5,0M368.4,739.4a1.9,2.7 0 1,0 3.7,0a1.9,2.7 0 1,0 -3.7,0M350.9,729.6a4.6,5.9 0 1,0 9.2,0a4.6,5.9 0 1,0 -9.2,0M352.3,729.6a3.2,4.1 0 1,0 6.5,0a3.2,4.1 0 1,0 -6.5,0M353.7,729.6a1.8,2.3 0 1,0 3.7,0a1.8,2.3 0 1,0 -3.7,0M376.0,716.6a4.1,6.8 0 1,0 8.3,0a4.1,6.8 0 1,0 -8.3,0M377.2,716.6a2.9,4.8 0 1,0 5.8,0a2.9,4.8 0 1,0 -5.8,0M378.5,716.6a1.7,2.7 0 1,0 3.3,0a1.7,2.7 0 1,0 -3.3,0M404.1,714.7a5.3,6.1 0 1,0 10.6,0a5.3,6.1 0 1,0 -10.6,0M405.7,714.7a3.7,4.3 0 1,0 7.4,0a3.7,4.3 0 1,0 -7.4,0M407.3,714.7a2.1,2.4 0 1,0 4.3,0a2.1,2.4 0 1,0 -4.3,0M367.6,717.1a3.1,5.9 0 1,0 6.2,0a3.1,5.9 0 1,0 -6.2,0M368.5,717.1a2.2,4.1 0 1,0 4.4,0a2.2,4.1 0 1,0 -4.4,0M369.5,717.1a1.2,2.3 0 1,0 2.5,0a1.2,2.3 0 1,0 -2.5,0M375.4,717.1a5.1,6.6 0 1,0 10.2,0a5.1,6.6 0 1,0 -10.2,0M376.9,717.1a3.6,4.7 0 1,0 7.2,0a3.6,4.7 0 1,0 -7.2,0M378.4,717.1a2.0,2.7 0 1,0 4.1,0a2.0,2.7 0 1,0 -4.1,0M353.9,739.4a4.3,6.4 0 1,0 8.6,0a4.3,6.4 0 1,0 -8.6,0M355.2,739.4a3.0,4.5 0 1,0 6.0,0a3.0,4.5 0 1,0 -6.0,0M356.5,739.4a1.7,2.6 0 1,0 3.4,0a1.7,2.6 0 1,0 -3.4,0M351.8,731.1a2.8,3.6 0 1,0 5.6,0a2.8,3.6 0 1,0 -5.6,0M352.7,731.1a2.0,2.5 0 1,0 3.9,0a2.0,2.5 0 1,0 -3.9,0M353.5,731.1a1.1,1.5 0 1,0 2.3,0a1.1,1.5 0 1,0 -2.3,0M385.5,740.5a3.6,5.5 0 1,0 7.3,0a3.6,5.5 0 1,0 -7.3,0M386.6,740.5a2.5,3.8 0 1,0 5.1,0a2.5,3.8 0 1,0 -5.1,0M387.7,740.5a1.5,2.2 0 1,0 2.9,0a1.5,2.2 0 1,0 -2.9,0M391.5,708.2a2.8,6.6 0 1,0 5.7,0a2.8,6.6 0 1,0 -5.7,0M392.3,708.2a2.0,4.6 0 1,0 4.0,0a2.0,4.6 0 1,0 -4.0,0M393.2,708.2a1.1,2.6 0 1,0 2.3,0a1.1,2.6 0 1,0 -2.3,0M363.9,734.4a3.8,4.6 0 1,0 7.7,0a3.8,4.6 0 1,0 -7.7,0M365.0,734.4a2.7,3.2 0 1,0 5.4,0a2.7,3.2 0 1,0 -5.4,0M366.2,734.4a1.5,1.8 0 1,0 3.1,0a1.5,1.8 0 1,0 -3.1,0M358.2,731.6a3.4,4.4 0 1,0 6.8,0a3.4,4.4 0 1,0 -6.8,0M359.2,731.6a2.4,3.1 0 1,0 4.8,0a2.4,3.1 0 1,0 -4.8,0M360.3,731.6a1.4,1.7 0 1,0 2.7,0a1.4,1.7 0 1,0 -2.7,0M388.9,751.7a3.7,4.6 0 1,0 7.3,0a3.7,4.6 0 1,0 -7.3,0M390.0,751.7a2.6,3.2 0 1,0 5.1,0a2.6,3.2 0 1,0 -5.1,0M391.1,751.7a1.5,1.8 0 1,0 2.9,0a1.5,1.8 0 1,0 -2.9,0M380.8,744.8a2.7,6.8 0 1,0 5.5,0a2.7,6.8 0 1,0 -5.5,0M381.6,744.8a1.9,4.8 0 1,0 3.8,0a1.9,4.8 0 1,0 -3.8,0M382.4,744.8a1.1,2.7 0 1,0 2.2,0a1.1,2.7 0 1,0 -2.2,0M370.8,729.5a2.7,4.7 0 1,0 5.4,0a2.7,4.7 0 1,0 -5.4,0M371.6,729.5a1.9,3.3 0 1,0 3.8,0a1.9,3.3 0 1,0 -3.8,0M372.4,729.5a1.1,1.9 0 1,0 2.1,0a1.1,1.9 0 1,0 -2.1,0M358.7,713.4a4.2,6.2 0 1,0 8.4,0a4.2,6.2 0 1,0 -8.4,0M360.0,713.4a2.9,4.3 0 1,0 5.9,0a2.9,4.3 0 1,0 -5.9,0M361.3,713.4a1.7,2.5 0 1,0 3.4,0a1.7,2.5 0 1,0 -3.4,0M380.8,751.5a4.8,6.9 0 1,0 9.6,0a4.8,6.9 0 1,0 -9.6,0M382.3,751.5a3.3,4.8 0 1,0 6.7,0a3.3,4.8 0 1,0 -6.7,0M383.7,751.5a1.9,2.8 0 1,0 3.8,0a1.9,2.8 0 1,0 -3.8,0M367.1,728.0a2.5,5.0 0 1,0 5.0,0a2.5,5.0 0 1,0 -5.0,0M367.8,728.0a1.8,3.5 0 1,0 3.5,0a1.8,3.5 0 1,0 -3.5,0M368.6,728.0a1.0,2.0 0 1,0 2.0,0a1.0,2.0 0 1,0 -2.0,0M376.6,735.2a3.6,4.2 0 1,0 7.3,0a3.6,4.2 0 1,0 -7.3,0M377.7,735.2a2.5,2.9 0 1,0 5.1,0a2.5,2.9 0 1,0 -5.1,0M378.8,735.2a1.5,1.7 0 1,0 2.9,0a1.5,1.7 0 1,0 -2.9,0M380.2,754.8a3.9,6.4 0 1,0 7.8,0a3.9,6.4 0 1,0 -7.8,0M381.4,754.8a2.7,4.5 0 1,0 5.4,0a2.7,4.5 0 1,0 -5.4,0M382.5,754.8a1.6,2.6 0 1,0 3.1,0a1.6,2.6 0 1,0 -3.1,0M387.7,728.1a3.6,3.5 0 1,0 7.2,0a3.6,3.5 0 1,0 -7.2,0M388.7,728.1a2.5,2.5 0 1,0 5.0,0a2.5,2.5 0 1,0 -5.0,0M389.8,728.1a1.4,1.4 0 1,0 2.9,0a1.4,1.4 0 1,0 -2.9,0M359.7,737.7a5.1,5.4 0 1,0 10.2,0a5.1,5.4 0 1,0 -10.2,0M361.2,737.7a3.6,3.8 0 1,0 7.2,0a3.6,3.8 0 1,0 -7.2,0M362.8,737.7a2.0,2.2 0 1,0 4.1,0a2.0,2.2 0 1,0 -4.1,0M355.2,711.9a5.2,4.4 0 1,0 10.3,0a5.2,4.4 0 1,0 -10.3,0M356.8,711.9a3.6,3.1 0 1,0 7.2,0a3.6,3.1 0 1,0 -7.2,0M358.3,711.9a2.1,1.8 0 1,0 4.1,0a2.1,1.8 0 1,0 -4.1,0M356.3,734.7a3.0,6.9 0 1,0 6.0,0a3.0,6.9 0 1,0 -6.0,0M357.2,734.7a2.1,4.8 0 1,0 4.2,0a2.1,4.8 0 1,0 -4.2,0M358.1,734.7a1.2,2.8 0 1,0 2.4,0a1.2,2.8 0 1,0 -2.4,0M382.5,706.9a2.9,6.0 0 1,0 5.8,0a2.9,6.0 0 1,0 -5.8,0M383.3,706.9a2.0,4.2 0 1,0 4.1,0a2.0,4.2 0 1,0 -4.1,0M384.2,706.9a1.2,2.4 0 1,0 2.3,0a1.2,2.4 0 1,0 -2.3,0M437.5,722.5a3.7,5.2 0 1,0 7.4,0a3.7,5.2 0 1,0 -7.4,0M438.6,722.5a2.6,3.7 0 1,0 5.2,0a2.6,3.7 0 1,0 -5.2,0M439.7,722.5a1.5,2.1 0 1,0 3.0,0a1.5,2.1 0 1,0 -3.0,0M466.2,753.9a5.4,5.6 0 1,0 10.8,0a5.4,5.6 0 1,0 -10.8,0M467.8,753.9a3.8,4.0 0 1,0 7.5,0a3.8,4.0 0 1,0 -7.5,0M469.4,753.9a2.2,2.3 0 1,0 4.3,0a2.2,2.3 0 1,0 -4.3,0M447.1,741.6a3.6,4.1 0 1,0 7.3,0a3.6,4.1 0 1,0 -7.3,0M448.2,741.6a2.5,2.9 0 1,0 5.1,0a2.5,2.9 0 1,0 -5.1,0M449.3,741.6a1.5,1.6 0 1,0 2.9,0a1.5,1.6 0 1,0 -2.9,0M429.0,751.0a2.7,4.8 0 1,0 5.3,0a2.7,4.8 0 1,0 -5.3,0M429.8,751.0a1.9,3.4 0 1,0 3.7,0a1.9,3.4 0 1,0 -3.7,0M430.6,751.0a1.1,1.9 0 1,0 2.1,0a1.1,1.9 0 1,0 -2.1,0M440.9,749.9a5.4,5.7 0 1,0 10.8,0a5.4,5.7 0 1,0 -10.8,0M442.5,749.9a3.8,4.0 0 1,0 7.6,0a3.8,4.0 0 1,0 -7.6,0M444.1,749.9a2.2,2.3 0 1,0 4.3,0a2.2,2.3 0 1,0 -4.3,0M458.7,743.1a4.1,3.7 0 1,0 8.1,0a4.1,3.7 0 1,0 -8.1,0M459.9,743.1a2.8,2.6 0 1,0 5.7,0a2.8,2.6 0 1,0 -5.7,0M461.1,743.1a1.6,1.5 0 1,0 3.3,0a1.6,1.5 0 1,0 -3.3,0M426.2,735.3a4.6,6.6 0 1,0 9.2,0a4.6,6.6 0 1,0 -9.2,0M427.6,735.3a3.2,4.6 0 1,0 6.5,0a3.2,4.6 0 1,0 -6.5,0M429.0,735.3a1.8,2.6 0 1,0 3.7,0a1.8,2.6 0 1,0 -3.7,0M421.1,738.4a4.7,4.6 0 1,0 9.4,0a4.7,4.6 0 1,0 -9.4,0M422.5,738.4a3.3,3.2 0 1,0 6.6,0a3.3,3.2 0 1,0 -6.6,0M423.9,738.4a1.9,1.8 0 1,0 3.8,0a1.9,1.8 0 1,0 -3.8,0M448.1,733.1a4.2,4.7 0 1,0 8.3,0a4.2,4.7 0 1,0 -8.3,0M449.4,733.1a2.9,3.3 0 1,0 5.8,0a2.9,3.3 0 1,0 -5.8,0M450.6,733.1a1.7,1.9 0 1,0 3.3,0a1.7,1.9 0 1,0 -3.3,0M455.1,721.2a4.9,5.8 0 1,0 9.9,0a4.9,5.8 0 1,0 -9.9,0M456.6,721.2a3.5,4.0 0 1,0 6.9,0a3.5,4.0 0 1,0 -6.9,0M458.1,721.2a2.0,2.3 0 1,0 4.0,0a2.0,2.3 0 1,0 -4.0,0M452.3,741.0a2.9,6.7 0 1,0 5.9,0a2.9,6.7 0 1,0 -5.9,0M453.1,741.0a2.1,4.7 0 1,0 4.1,0a2.1,4.7 0 1,0 -4.1,0M454.0,741.0a1.2,2.7 0 1,0 2.4,0a1.2,2.7 0 1,0 -2.4,0M450.4,763.4a4.1,4.1 0 1,0 8.2,0a4.1,4.1 0 1,0 -8.2,0M451.7,763.4a2.9,2.9 0 1,0 5.7,0a2.9,2.9 0 1,0 -5.7,0M452.9,763.4a1.6,1.6 0 1,0 3.3,0a1.6,1.6 0 1,0 -3.3,0M422.7,733.3a4.4,5.3 0 1,0 8.8,0a4.4,5.3 0 1,0 -8.8,0M424.1,733.3a3.1,3.7 0 1,0 6.2,0a3.1,3.7 0 1,0 -6.2,0M425.4,733.3a1.8,2.1 0 1,0 3.5,0a1.8,2.1 0 1,0 -3.5,0M476.9,736.8a3.9,6.3 0 1,0 7.8,0a3.9,6.3 0 1,0 -7.8,0M478.1,736.8a2.7,4.4 0 1,0 5.5,0a2.7,4.4 0 1,0 -5.5,0M479.2,736.8a1.6,2.5 0 1,0 3.1,0a1.6,2.5 0 1,0 -3.1,0M425.0,737.4a3.7,3.6 0 1,0 7.5,0a3.7,3.6 0 1,0 -7.5,0M426.1,737.4a2.6,2.5 0 1,0 5.2,0a2.6,2.5 0 1,0 -5.2,0M427.2,737.4a1.5,1.4 0 1,0 3.0,0a1.5,1.4 0 1,0 -3.0,0M424.1,743.2a3.8,5.9 0 1,0 7.5,0a3.8,5.9 0 1,0 -7.5,0M425.2,743.2a2.6,4.1 0 1,0 5.3,0a2.6,4.1 0 1,0 -5.3,0M426.3,743.2a1.5,2.3 0 1,0 3.0,0a1.5,2.3 0 1,0 -3.0,0M476.6,753.6a4.5,3.8 0 1,0 9.1,0a4.5,3.8 0 1,0 -9.1,0M478.0,753.6a3.2,2.7 0 1,0 6.3,0a3.2,2.7 0 1,0 -6.3,0M479.4,753.6a1.8,1.5 0 1,0 3.6,0a1.8,1.5 0 1,0 -3.6,0M437.7,740.9a5.2,5.4 0 1,0 10.4,0a5.2,5.4 0 1,0 -10.4,0M439.3,740.9a3.6,3.8 0 1,0 7.3,0a3.6,3.8 0 1,0 -7.3,0M440.8,740.9a2.1,2.2 0 1,0 4.1,0a2.1,2.2 0 1,0 -4.1,0M437.2,751.6a3.7,4.0 0 1,0 7.5,0a3.7,4.0 0 1,0 -7.5,0M438.4,751.6a2.6,2.8 0 1,0 5.2,0a2.6,2.8 0 1,0 -5.2,0M439.5,751.6a1.5,1.6 0 1,0 3.0,0a1.5,1.6 0 1,0 -3.0,0M478.7,751.3a4.1,3.7 0 1,0 8.2,0a4.1,3.7 0 1,0 -8.2,0M479.9,751.3a2.9,2.6 0 1,0 5.7,0a2.9,2.6 0 1,0 -5.7,0M481.1,751.3a1.6,1.5 0 1,0 3.3,0a1.6,1.5 0 1,0 -3.3,0M438.7,739.7a3.5,3.9 0 1,0 7.0,0a3.5,3.9 0 1,0 -7.0,0M439.8,739.7a2.4,2.8 0 1,0 4.9,0a2.4,2.8 0 1,0 -4.9,0M440.8,739.7a1.4,1.6 0 1,0 2.8,0a1.4,1.6 0 1,0 -2.8,0M459.1,744.2a2.6,4.7 0 1,0 5.1,0a2.6,4.7 0 1,0 -5.1,0M459.8,744.2a1.8,3.3 0 1,0 3.6,0a1.8,3.3 0 1,0 -3.6,0M460.6,744.2a1.0,1.9 0 1,0 2.1,0a1.0,1.9 0 1,0 -2.1,0M482.3,747.2a3.2,5.9 0 1,0 6.5,0a3.2,5.9 0 1,0 -6.5,0M483.3,747.2a2.3,4.1 0 1,0 4.5,0a2.3,4.1 0 1,0 -4.5,0M484.3,747.2a1.3,2.4 0 1,0 2.6,0a1.3,2.4 0 1,0 -2.6,0M344.1,777.9a4.1,4.4 0 1,0 8.3,0a4.1,4.4 0 1,0 -8.3,0M345.3,777.9a2.9,3.1 0 1,0 5.8,0a2.9,3.1 0 1,0 -5.8,0M346.6,777.9a1.7,1.8 0 1,0 3.3,0a1.7,1.8 0 1,0 -3.3,0M354.8,791.5a3.0,6.7 0 1,0 5.9,0a3.0,6.7 0 1,0 -5.9,0M355.7,791.5a2.1,4.7 0 1,0 4.2,0a2.1,4.7 0 1,0 -4.2,0M356.6,791.5a1.2,2.7 0 1,0 2.4,0a1.2,2.7 0 1,0 -2.4,0M354.9,803.4a3.0,6.5 0 1,0 6.0,0a3.0,6.5 0 1,0 -6.0,0M355.8,803.4a2.1,4.5 0 1,0 4.2,0a2.1,4.5 0 1,0 -4.2,0M356.7,803.4a1.2,2.6 0 1,0 2.4,0a1.2,2.6 0 1,0 -2.4,0M381.2,775.3a4.2,6.6 0 1,0 8.4,0a4.2,6.6 0 1,0 -8.4,0M382.5,775.3a2.9,4.6 0 1,0 5.9,0a2.9,4.6 0 1,0 -5.9,0M383.7,775.3a1.7,2.6 0 1,0 3.3,0a1.7,2.6 0 1,0 -3.3,0M364.1,775.3a3.4,6.4 0 1,0 6.8,0a3.4,6.4 0 1,0 -6.8,0M365.2,775.3a2.4,4.4 0 1,0 4.7,0a2.4,4.4 0 1,0 -4.7,0M366.2,775.3a1.4,2.5 0 1,0 2.7,0a1.4,2.5 0 1,0 -2.7,0M382.7,806.5a3.0,5.7 0 1,0 6.0,0a3.0,5.7 0 1,0 -6.0,0M383.6,806.5a2.1,4.0 0 1,0 4.2,0a2.1,4.0 0 1,0 -4.2,0M384.5,806.5a1.2,2.3 0 1,0 2.4,0a1.2,2.3 0 1,0 -2.4,0M353.6,810.2a4.5,6.2 0 1,0 8.9,0a4.5,6.2 0 1,0 -8.9,0M354.9,810.2a3.1,4.4 0 1,0 6.3,0a3.1,4.4 0 1,0 -6.3,0M356.3,810.2a1.8,2.5 0 1,0 3.6,0a1.8,2.5 0 1,0 -3.6,0M338.2,775.9a2.8,3.6 0 1,0 5.7,0a2.8,3.6 0 1,0 -5.7,0M339.0,775.9a2.0,2.5 0 1,0 4.0,0a2.0,2.5 0 1,0 -4.0,0M339.9,775.9a1.1,1.4 0 1,0 2.3,0a1.1,1.4 0 1,0 -2.3,0M346.0,765.6a4.9,5.4 0 1,0 9.8,0a4.9,5.4 0 1,0 -9.8,0M347.4,765.6a3.4,3.8 0 1,0 6.9,0a3.4,3.8 0 1,0 -6.9,0M348.9,765.6a2.0,2.2 0 1,0 3.9,0a2.0,2.2 0 1,0 -3.9,0M388.3,772.8a4.5,5.6 0 1,0 9.1,0a4.5,5.6 0 1,0 -9.1,0M389.7,772.8a3.2,3.9 0 1,0 6.4,0a3.2,3.9 0 1,0 -6.4,0M391.1,772.8a1.8,2.2 0 1,0 3.6,0a1.8,2.2 0 1,0 -3.6,0M389.0,766.7a2.5,3.9 0 1,0 5.0,0a2.5,3.9 0 1,0 -5.0,0M389.7,766.7a1.8,2.7 0 1,0 3.5,0a1.8,2.7 0 1,0 -3.5,0M390.5,766.7a1.0,1.6 0 1,0 2.0,0a1.0,1.6 0 1,0 -2.0,0M394.7,782.0a5.3,6.7 0 1,0 10.5,0a5.3,6.7 0 1,0 -10.5,0M396.3,782.0a3.7,4.7 0 1,0 7.4,0a3.7,4.7 0 1,0 -7.4,0M397.9,782.0a2.1,2.7 0 1,0 4.2,0a2.1,2.7 0 1,0 -4.2,0M356.8,804.4a5.4,6.2 0 1,0 10.9,0a5.4,6.2 0 1,0 -10.9,0M358.4,804.4a3.8,4.4 0 1,0 7.6,0a3.8,4.4 0 1,0 -7.6,0M360.1,804.4a2.2,2.5 0 1,0 4.4,0a2.2,2.5 0 1,0 -4.4,0M399.2,791.0a3.7,6.7 0 1,0 7.4,0a3.7,6.7 0 1,0 -7.4,0M400.3,791.0a2.6,4.7 0 1,0 5.2,0a2.6,4.7 0 1,0 -5.2,0M401.4,791.0a1.5,2.7 0 1,0 2.9,0a1.5,2.7 0 1,0 -2.9,0M351.0,805.4a4.9,6.2 0 1,0 9.7,0a4.9,6.2 0 1,0 -9.7,0M352.4,805.4a3.4,4.4 0 1,0 6.8,0a3.4,4.4 0 1,0 -6.8,0M353.9,805.4a1.9,2.5 0 1,0 3.9,0a1.9,2.5 0 1,0 -3.9,0M373.2,753.6a5.2,4.7 0 1,0 10.4,0a5.2,4.7 0 1,0 -10.4,0M374.8,753.6a3.6,3.3 0 1,0 7.3,0a3.6,3.3 0 1,0 -7.3,0M376.4,753.6a2.1,1.9 0 1,0 4.2,0a2.1,1.9 0 1,0 -4.2,0M338.4,770.6a3.1,6.6 0 1,0 6.3,0a3.1,6.6 0 1,0 -6.3,0M339.3,770.6a2.2,4.6 0 1,0 4.4,0a2.2,4.6 0 1,0 -4.4,0M340.3,770.6a1.3,2.7 0 1,0 2.5,0a1.3,2.7 0 1,0 -2.5,0M405.5,787.2a4.2,5.7 0 1,0 8.4,0a4.2,5.7 0 1,0 -8.4,0M406.8,787.2a3.0,4.0 0 1,0 5.9,0a3.0,4.0 0 1,0 -5.9,0M408.1,787.2a1.7,2.3 0 1,0 3.4,0a1.7,2.3 0 1,0 -3.4,0M350.3,796.8a3.3,4.2 0 1,0 6.6,0a3.3,4.2 0 1,0 -6.6,0M351.3,796.8a2.3,3.0 0 1,0 4.6,0a2.3,3.0 0 1,0 -4.6,0M352.3,796.8a1.3,1.7 0 1,0 2.6,0a1.3,1.7 0 1,0 -2.6,0M330.7,770.2a5.3,6.5 0 1,0 10.6,0a5.3,6.5 0 1,0 -10.6,0M332.3,770.2a3.7,4.6 0 1,0 7.4,0a3.7,4.6 0 1,0 -7.4,0M333.9,770.2a2.1,2.6 0 1,0 4.2,0a2.1,2.6 0 1,0 -4.2,0M407.6,769.6a5.4,6.0 0 1,0 10.8,0a5.4,6.0 0 1,0 -10.8,0M409.2,769.6a3.8,4.2 0 1,0 7.5,0a3.8,4.2 0 1,0 -7.5,0M410.8,769.6a2.2,2.4 0 1,0 4.3,0a2.2,2.4 0 1,0 -4.3,0M350.3,782.8a2.5,6.2 0 1,0 5.1,0a2.5,6.2 0 1,0 -5.1,0M351.1,782.8a1.8,4.3 0 1,0 3.5,0a1.8,4.3 0 1,0 -3.5,0M351.9,782.8a1.0,2.5 0 1,0 2.0,0a1.0,2.5 0 1,0 -2.0,0M373.5,798.1a4.3,4.4 0 1,0 8.6,0a4.3,4.4 0 1,0 -8.6,0M374.8,798.1a3.0,3.1 0 1,0 6.1,0a3.0,3.1 0 1,0 -6.1,0M376.1,798.1a1.7,1.8 0 1,0 3.5,0a1.7,1.8 0 1,0 -3.5,0M390.1,798.0a3.4,3.6 0 1,0 6.8,0a3.4,3.6 0 1,0 -6.8,0M391.2,798.0a2.4,2.5 0 1,0 4.8,0a2.4,2.5 0 1,0 -4.8,0M392.2,798.0a1.4,1.4 0 1,0 2.7,0a1.4,1.4 0 1,0 -2.7,0M368.9,786.2a3.6,4.5 0 1,0 7.2,0a3.6,4.5 0 1,0 -7.2,0M370.0,786.2a2.5,3.2 0 1,0 5.0,0a2.5,3.2 0 1,0 -5.0,0M371.0,786.2a1.4,1.8 0 1,0 2.9,0a1.4,1.8 0 1,0 -2.9,0M375.2,787.3a4.4,4.4 0 1,0 8.8,0a4.4,4.4 0 1,0 -8.8,0M376.5,787.3a3.1,3.0 0 1,0 6.1,0a3.1,3.0 0 1,0 -6.1,0M377.9,787.3a1.8,1.7 0 1,0 3.5,0a1.8,1.7 0 1,0 -3.5,0M384.5,770.7a4.0,5.9 0 1,0 8.0,0a4.0,5.9 0 1,0 -8.0,0M385.7,770.7a2.8,4.1 0 1,0 5.6,0a2.8,4.1 0 1,0 -5.6,0M386.9,770.7a1.6,2.3 0 1,0 3.2,0a1.6,2.3 0 1,0 -3.2,0M343.0,762.6a3.4,5.4 0 1,0 6.8,0a3.4,5.4 0 1,0 -6.8,0M344.1,762.6a2.4,3.8 0 1,0 4.7,0a2.4,3.8 0 1,0 -4.7,0M345.1,762.6a1.4,2.2 0 1,0 2.7,0a1.4,2.2 0 1,0 -2.7,0M371.6,779.9a3.5,4.9 0 1,0 7.0,0a3.5,4.9 0 1,0 -7.0,0M372.6,779.9a2.4,3.4 0 1,0 4.9,0a2.4,3.4 0 1,0 -4.9,0M373.7,779.9a1.4,2.0 0 1,0 2.8,0a1.4,2.0 0 1,0 -2.8,0M349.0,765.6a3.8,4.4 0 1,0 7.5,0a3.8,4.4 0 1,0 -7.5,0M350.2,765.6a2.6,3.1 0 1,0 5.3,0a2.6,3.1 0 1,0 -5.3,0M351.3,765.6a1.5,1.7 0 1,0 3.0,0a1.5,1.7 0 1,0 -3.0,0M398.7,790.3a4.3,6.5 0 1,0 8.7,0a4.3,6.5 0 1,0 -8.7,0M400.0,790.3a3.0,4.6 0 1,0 6.1,0a3.0,4.6 0 1,0 -6.1,0M401.3,790.3a1.7,2.6 0 1,0 3.5,0a1.7,2.6 0 1,0 -3.5,0M369.2,806.5a5.3,6.1 0 1,0 10.6,0a5.3,6.1 0 1,0 -10.6,0M370.8,806.5a3.7,4.3 0 1,0 7.4,0a3.7,4.3 0 1,0 -7.4,0M372.4,806.5a2.1,2.5 0 1,0 4.2,0a2.1,2.5 0 1,0 -4.2,0M372.5,811.1a4.7,4.2 0 1,0 9.4,0a4.7,4.2 0 1,0 -9.4,0M373.9,811.1a3.3,2.9 0 1,0 6.5,0a3.3,2.9 0 1,0 -6.5,0M375.3,811.1a1.9,1.7 0 1,0 3.7,0a1.9,1.7 0 1,0 -3.7,0M393.4,787.3a4.5,4.7 0 1,0 9.0,0a4.5,4.7 0 1,0 -9.0,0M394.8,787.3a3.1,3.3 0 1,0 6.3,0a3.1,3.3 0 1,0 -6.3,0M396.1,787.3a1.8,1.9 0 1,0 3.6,0a1.8,1.9 0 1,0 -3.6,0M345.0,805.1a3.5,4.9 0 1,0 7.0,0a3.5,4.9 0 1,0 -7.0,0M346.1,805.1a2.4,3.4 0 1,0 4.9,0a2.4,3.4 0 1,0 -4.9,0M347.1,805.1a1.4,2.0 0 1,0 2.8,0a1.4,2.0 0 1,0 -2.8,0M358.1,807.4a2.9,4.3 0 1,0 5.8,0a2.9,4.3 0 1,0 -5.8,0M359.0,807.4a2.0,3.0 0 1,0 4.1,0a2.0,3.0 0 1,0 -4.1,0M359.9,807.4a1.2,1.7 0 1,0 2.3,0a1.2,1.7 0 1,0 -2.3,0M370.5,777.2a5.1,5.5 0 1,0 10.2,0a5.1,5.5 0 1,0 -10.2,0M372.0,777.2a3.6,3.9 0 1,0 7.2,0a3.6,3.9 0 1,0 -7.2,0M373.5,777.2a2.0,2.2 0 1,0 4.1,0a2.0,2.2 0 1,0 -4.1,0M343.7,795.5a2.9,4.2 0 1,0 5.8,0a2.9,4.2 0 1,0 -5.8,0M344.5,795.5a2.0,3.0 0 1,0 4.1,0a2.0,3.0 0 1,0 -4.1,0M345.4,795.5a1.2,1.7 0 1,0 2.3,0a1.2,1.7 0 1,0 -2.3,0M383.4,804.4a2.8,5.8 0 1,0 5.5,0a2.8,5.8 0 1,0 -5.5,0M384.2,804.4a1.9,4.0 0 1,0 3.9,0a1.9,4.0 0 1,0 -3.9,0M385.1,804.4a1.1,2.3 0 1,0 2.2,0a1.1,2.3 0 1,0 -2.2,0M352.4,773.0a5.0,4.4 0 1,0 10.0,0a5.0,4.4 0 1,0 -10.0,0M353.9,773.0a3.5,3.1 0 1,0 7.0,0a3.5,3.1 0 1,0 -7.0,0M355.4,773.0a2.0,1.8 0 1,0 4.0,0a2.0,1.8 0 1,0 -4.0,0M329.6,778.2a5.3,4.3 0 1,0 10.6,0a5.3,4.3 0 1,0 -10.6,0M331.2,778.2a3.7,3.0 0 1,0 7.4,0a3.7,3.0 0 1,0 -7.4,0M332.7,778.2a2.1,1.7 0 1,0 4.2,0a2.1,1.7 0 1,0 -4.2,0M381.4,807.3a4.9,5.5 0 1,0 9.8,0a4.9,5.5 0 1,0 -9.8,0M382.9,807.3a3.4,3.8 0 1,0 6.8,0a3.4,3.8 0 1,0 -6.8,0M384.4,807.3a2.0,2.2 0 1,0 3.9,0a2.0,2.2 0 1,0 -3.9,0M378.3,785.0a5.5,7.0 0 1,0 10.9,0a5.5,7.0 0 1,0 -10.9,0M380.0,785.0a3.8,4.9 0 1,0 7.6,0a3.8,4.9 0 1,0 -7.6,0M381.6,785.0a2.2,2.8 0 1,0 4.4,0a2.2,2.8 0 1,0 -4.4,0M473.0,786.6a5.2,3.9 0 1,0 10.3,0a5.2,3.9 0 1,0 -10.3,0M474.5,786.6a3.6,2.7 0 1,0 7.2,0a3.6,2.7 0 1,0 -7.2,0M476.1,786.6a2.1,1.5 0 1,0 4.1,0a2.1,1.5 0 1,0 -4.1,0M419.8,775.4a5.4,5.6 0 1,0 10.8,0a5.4,5.6 0 1,0 -10.8,0M421.4,775.4a3.8,3.9 0 1,0 7.6,0a3.8,3.9 0 1,0 -7.6,0M423.0,775.4a2.2,2.3 0 1,0 4.3,0a2.2,2.3 0 1,0 -4.3,0M437.6,782.6a3.3,3.5 0 1,0 6.7,0a3.3,3.5 0 1,0 -6.7,0M438.6,782.6a2.3,2.5 0 1,0 4.7,0a2.3,2.5 0 1,0 -4.7,0M439.6,782.6a1.3,1.4 0 1,0 2.7,0a1.3,1.4 0 1,0 -2.7,0M433.2,792.8a3.0,5.2 0 1,0 6.0,0a3.0,5.2 0 1,0 -6.0,0M434.1,792.8a2.1,3.6 0 1,0 4.2,0a2.1,3.6 0 1,0 -4.2,0M435.0,792.8a1.2,2.1 0 1,0 2.4,0a1.2,2.1 0 1,0 -2.4,0M444.2,783.7a4.1,4.3 0 1,0 8.2,0a4.1,4.3 0 1,0 -8.2,0M445.4,783.7a2.9,3.0 0 1,0 5.8,0a2.9,3.0 0 1,0 -5.8,0M446.6,783.7a1.6,1.7 0 1,0 3.3,0a1.6,1.7 0 1,0 -3.3,0M478.4,793.2a3.5,6.8 0 1,0 7.0,0a3.5,6.8 0 1,0 -7.0,0M479.5,793.2a2.4,4.8 0 1,0 4.9,0a2.4,4.8 0 1,0 -4.9,0M480.5,793.2a1.4,2.7 0 1,0 2.8,0a1.4,2.7 0 1,0 -2.8,0M454.7,792.7a5.0,4.3 0 1,0 10.0,0a5.0,4.3 0 1,0 -10.0,0M456.2,792.7a3.5,3.0 0 1,0 7.0,0a3.5,3.0 0 1,0 -7.0,0M457.7,792.7a2.0,1.7 0 1,0 4.0,0a2.0,1.7 0 1,0 -4.0,0M443.2,795.2a2.8,4.9 0 1,0 5.6,0a2.8,4.9 0 1,0 -5.6,0M444.1,795.2a1.9,3.4 0 1,0 3.9,0a1.9,3.4 0 1,0 -3.9,0M444.9,795.2a1.1,2.0 0 1,0 2.2,0a1.1,2.0 0 1,0 -2.2,0M419.9,789.2a2.9,4.0 0 1,0 5.8,0a2.9,4.0 0 1,0 -5.8,0M420.8,789.2a2.0,2.8 0 1,0 4.0,0a2.0,2.8 0 1,0 -4.0,0M421.7,789.2a1.2,1.6 0 1,0 2.3,0a1.2,1.6 0 1,0 -2.3,0M438.9,775.5a3.2,5.2 0 1,0 6.4,0a3.2,5.2 0 1,0 -6.4,0M439.8,775.5a2.2,3.7 0 1,0 4.5,0a2.2,3.7 0 1,0 -4.5,0M440.8,775.5a1.3,2.1 0 1,0 2.6,0a1.3,2.1 0 1,0 -2.6,0M418.0,782.2a2.9,6.6 0 1,0 5.8,0a2.9,6.6 0 1,0 -5.8,0M418.9,782.2a2.0,4.6 0 1,0 4.1,0a2.0,4.6 0 1,0 -4.1,0M419.8,782.2a1.2,2.7 0 1,0 2.3,0a1.2,2.7 0 1,0 -2.3,0M435.2,788.1a3.1,3.7 0 1,0 6.2,0a3.1,3.7 0 1,0 -6.2,0M436.1,788.1a2.2,2.6 0 1,0 4.4,0a2.2,2.6 0 1,0 -4.4,0M437.1,788.1a1.2,1.5 0 1,0 2.5,0a1.2,1.5 0 1,0 -2.5,0M451.0,775.8a4.9,6.4 0 1,0 9.9,0a4.9,6.4 0 1,0 -9.9,0M452.5,775.8a3.5,4.5 0 1,0 6.9,0a3.5,4.5 0 1,0 -6.9,0M454.0,775.8a2.0,2.5 0 1,0 4.0,0a2.0,2.5 0 1,0 -4.0,0M445.1,789.6a4.1,5.5 0 1,0 8.1,0a4.1,5.5 0 1,0 -8.1,0M446.3,789.6a2.8,3.9 0 1,0 5.7,0a2.8,3.9 0 1,0 -5.7,0M447.5,789.6a1.6,2.2 0 1,0 3.3,0a1.6,2.2 0 1,0 -3.3,0M419.7,782.9a3.9,3.6 0 1,0 7.8,0a3.9,3.6 0 1,0 -7.8,0M420.9,782.9a2.7,2.5 0 1,0 5.5,0a2.7,2.5 0 1,0 -5.5,0M422.0,782.9a1.6,1.4 0 1,0 3.1,0a1.6,1.4 0 1,0 -3.1,0M458.0,775.8a4.0,6.7 0 1,0 8.1,0a4.0,6.7 0 1,0 -8.1,0M459.2,775.8a2.8,4.7 0 1,0 5.7,0a2.8,4.7 0 1,0 -5.7,0M460.4,775.8a1.6,2.7 0 1,0 3.2,0a1.6,2.7 0 1,0 -3.2,0M443.9,792.2a5.2,5.4 0 1,0 10.5,0a5.2,5.4 0 1,0 -10.5,0M445.5,792.2a3.7,3.8 0 1,0 7.3,0a3.7,3.8 0 1,0 -7.3,0M447.1,792.2a2.1,2.2 0 1,0 4.2,0a2.1,2.2 0 1,0 -4.2,0M452.3,778.9a4.9,4.1 0 1,0 9.7,0a4.9,4.1 0 1,0 -9.7,0M453.7,778.9a3.4,2.8 0 1,0 6.8,0a3.4,2.8 0 1,0 -6.8,0M455.2,778.9a1.9,1.6 0 1,0 3.9,0a1.9,1.6 0 1,0 -3.9,0M454.8,778.8a2.9,5.5 0 1,0 5.8,0a2.9,5.5 0 1,0 -5.8,0M455.6,778.8a2.0,3.9 0 1,0 4.1,0a2.0,3.9 0 1,0 -4.1,0M456.5,778.8a1.2,2.2 0 1,0 2.3,0a1.2,2.2 0 1,0 -2.3,0M457.2,796.5a3.8,6.5 0 1,0 7.6,0a3.8,6.5 0 1,0 -7.6,0M458.3,796.5a2.7,4.5 0 1,0 5.3,0a2.7,4.5 0 1,0 -5.3,0M459.4,796.5a1.5,2.6 0 1,0 3.0,0a1.5,2.6 0 1,0 -3.0,0M438.0,798.0a3.5,4.3 0 1,0 6.9,0a3.5,4.3 0 1,0 -6.9,0M439.0,798.0a2.4,3.0 0 1,0 4.9,0a2.4,3.0 0 1,0 -4.9,0M440.1,798.0a1.4,1.7 0 1,0 2.8,0a1.4,1.7 0 1,0 -2.8,0M461.9,797.4a4.8,3.5 0 1,0 9.7,0a4.8,3.5 0 1,0 -9.7,0M463.4,797.4a3.4,2.5 0 1,0 6.8,0a3.4,2.5 0 1,0 -6.8,0M464.9,797.4a1.9,1.4 0 1,0 3.9,0a1.9,1.4 0 1,0 -3.9,0M473.8,787.8a5.2,6.0 0 1,0 10.3,0a5.2,6.0 0 1,0 -10.3,0M475.3,787.8a3.6,4.2 0 1,0 7.2,0a3.6,4.2 0 1,0 -7.2,0M476.9,787.8a2.1,2.4 0 1,0 4.1,0a2.1,2.4 0 1,0 -4.1,0M416.4,781.1a4.3,5.7 0 1,0 8.7,0a4.3,5.7 0 1,0 -8.7,0M417.7,781.1a3.0,4.0 0 1,0 6.1,0a3.0,4.0 0 1,0 -6.1,0M419.0,781.1a1.7,2.3 0 1,0 3.5,0a1.7,2.3 0 1,0 -3.5,0M418.9,751.5a4.4,6.6 0 1,0 8.8,0a4.4,6.6 0 1,0 -8.8,0M420.2,751.5a3.1,4.6 0 1,0 6.1,0a3.1,4.6 0 1,0 -6.1,0M421.6,751.5a1.8,2.6 0 1,0 3.5,0a1.8,2.6 0 1,0 -3.5,0M416.9,758.5a3.4,6.7 0 1,0 6.9,0a3.4,6.7 0 1,0 -6.9,0M418.0,758.5a2.4,4.7 0 1,0 4.8,0a2.4,4.7 0 1,0 -4.8,0M419.0,758.5a1.4,2.7 0 1,0 2.8,0a1.4,2.7 0 1,0 -2.8,0M380.4,757.4a4.6,5.4 0 1,0 9.3,0a4.6,5.4 0 1,0 -9.3,0M381.8,757.4a3.3,3.8 0 1,0 6.5,0a3.3,3.8 0 1,0 -6.5,0M383.2,757.4a1.9,2.2 0 1,0 3.7,0a1.9,2.2 0 1,0 -3.7,0M392.2,754.3a3.2,6.5 0 1,0 6.5,0a3.2,6.5 0 1,0 -6.5,0M393.1,754.3a2.3,4.6 0 1,0 4.5,0a2.3,4.6 0 1,0 -4.5,0M394.1,754.3a1.3,2.6 0 1,0 2.6,0a1.3,2.6 0 1,0 -2.6,0M369.1,758.2a3.1,3.5 0 1,0 6.2,0a3.1,3.5 0 1,0 -6.2,0M370.1,758.2a2.2,2.5 0 1,0 4.3,0a2.2,2.5 0 1,0 -4.3,0M371.0,758.2a1.2,1.4 0 1,0 2.5,0a1.2,1.4 0 1,0 -2.5,0M415.0,766.7a2.6,5.6 0 1,0 5.2,0a2.6,5.6 0 1,0 -5.2,0M415.8,766.7a1.8,3.9 0 1,0 3.7,0a1.8,3.9 0 1,0 -3.7,0M416.6,766.7a1.0,2.2 0 1,0 2.1,0a1.0,2.2 0 1,0 -2.1,0M407.8,765.3a2.7,4.7 0 1,0 5.4,0a2.7,4.7 0 1,0 -5.4,0M408.6,765.3a1.9,3.3 0 1,0 3.8,0a1.9,3.3 0 1,0 -3.8,0M409.4,765.3a1.1,1.9 0 1,0 2.2,0a1.1,1.9 0 1,0 -2.2,0M373.5,763.8a4.6,6.1 0 1,0 9.3,0a4.6,6.1 0 1,0 -9.3,0M374.9,763.8a3.3,4.2 0 1,0 6.5,0a3.3,4.2 0 1,0 -6.5,0M376.3,763.8a1.9,2.4 0 1,0 3.7,0a1.9,2.4 0 1,0 -3.7,0M404.2,761.6a3.2,6.1 0 1,0 6.3,0a3.2,6.1 0 1,0 -6.3,0M405.2,761.6a2.2,4.3 0 1,0 4.4,0a2.2,4.3 0 1,0 -4.4,0M406.1,761.6a1.3,2.4 0 1,0 2.5,0a1.3,2.4 0 1,0 -2.5,0M332.4,830.3a4.4,5.9 0 1,0 8.7,0a4.4,5.9 0 1,0 -8.7,0M333.7,830.3a3.0,4.1 0 1,0 6.1,0a3.0,4.1 0 1,0 -6.1,0M335.0,830.3a1.7,2.4 0 1,0 3.5,0a1.7,2.4 0 1,0 -3.5,0M377.5,838.0a2.6,5.3 0 1,0 5.1,0a2.6,5.3 0 1,0 -5.1,0M378.3,838.0a1.8,3.7 0 1,0 3.6,0a1.8,3.7 0 1,0 -3.6,0M379.0,838.0a1.0,2.1 0 1,0 2.1,0a1.0,2.1 0 1,0 -2.1,0M365.3,824.0a4.0,4.5 0 1,0 8.1,0a4.0,4.5 0 1,0 -8.1,0M366.5,824.0a2.8,3.1 0 1,0 5.6,0a2.8,3.1 0 1,0 -5.6,0M367.7,824.0a1.6,1.8 0 1,0 3.2,0a1.6,1.8 0 1,0 -3.2,0M346.7,842.5a3.1,5.6 0 1,0 6.2,0a3.1,5.6 0 1,0 -6.2,0M347.6,842.5a2.2,3.9 0 1,0 4.4,0a2.2,3.9 0 1,0 -4.4,0M348.5,842.5a1.2,2.2 0 1,0 2.5,0a1.2,2.2 0 1,0 -2.5,0M356.4,846.3a4.6,6.2 0 1,0 9.3,0a4.6,6.2 0 1,0 -9.3,0M357.8,846.3a3.2,4.3 0 1,0 6.5,0a3.2,4.3 0 1,0 -6.5,0M359.2,846.3a1.9,2.5 0 1,0 3.7,0a1.9,2.5 0 1,0 -3.7,0M313.5,823.8a3.0,6.7 0 1,0 5.9,0a3.0,6.7 0 1,0 -5.9,0M314.4,823.8a2.1,4.7 0 1,0 4.2,0a2.1,4.7 0 1,0 -4.2,0M315.3,823.8a1.2,2.7 0 1,0 2.4,0a1.2,2.7 0 1,0 -2.4,0M329.4,824.0a2.8,4.9 0 1,0 5.6,0a2.8,4.9 0 1,0 -5.6,0M330.3,824.0a2.0,3.4 0 1,0 3.9,0a2.0,3.4 0 1,0 -3.9,0M331.1,824.0a1.1,2.0 0 1,0 2.3,0a1.1,2.0 0 1,0 -2.3,0M363.2,828.8a4.3,6.2 0 1,0 8.5,0a4.3,6.2 0 1,0 -8.5,0M364.5,828.8a3.0,4.3 0 1,0 6.0,0a3.0,4.3 0 1,0 -6.0,0M365.8,828.8a1.7,2.5 0 1,0 3.4,0a1.7,2.5 0 1,0 -3.4,0M378.4,839.8a4.3,6.2 0 1,0 8.6,0a4.3,6.2 0 1,0 -8.6,0M379.7,839.8a3.0,4.3 0 1,0 6.0,0a3.0,4.3 0 1,0 -6.0,0M381.0,839.8a1.7,2.5 0 1,0 3.4,0a1.7,2.5 0 1,0 -3.4,0M384.7,828.2a2.9,4.1 0 1,0 5.9,0a2.9,4.1 0 1,0 -5.9,0M385.6,828.2a2.1,2.9 0 1,0 4.1,0a2.1,2.9 0 1,0 -4.1,0M386.5,828.2a1.2,1.6 0 1,0 2.4,0a1.2,1.6 0 1,0 -2.4,0M345.4,837.4a4.3,6.8 0 1,0 8.6,0a4.3,6.8 0 1,0 -8.6,0M346.7,837.4a3.0,4.8 0 1,0 6.0,0a3.0,4.8 0 1,0 -6.0,0M348.0,837.4a1.7,2.7 0 1,0 3.5,0a1.7,2.7 0 1,0 -3.5,0M317.0,834.0a3.3,4.5 0 1,0 6.6,0a3.3,4.5 0 1,0 -6.6,0M318.0,834.0a2.3,3.1 0 1,0 4.6,0a2.3,3.1 0 1,0 -4.6,0M319.0,834.0a1.3,1.8 0 1,0 2.6,0a1.3,1.8 0 1,0 -2.6,0M311.9,819.7a4.0,4.2 0 1,0 8.1,0a4.0,4.2 0 1,0 -8.1,0M313.1,819.7a2.8,2.9 0 1,0 5.7,0a2.8,2.9 0 1,0 -5.7,0M314.3,819.7a1.6,1.7 0 1,0 3.2,0a1.6,1.7 0 1,0 -3.2,0M372.6,836.5a4.9,4.1 0 1,0 9.8,0a4.9,4.1 0 1,0 -9.8,0M374.1,836.5a3.4,2.8 0 1,0 6.8,0a3.4,2.8 0 1,0 -6.8,0M375.6,836.5a2.0,1.6 0 1,0 3.9,0a2.0,1.6 0 1,0 -3.9,0M371.6,839.6a3.3,6.7 0 1,0 6.6,0a3.3,6.7 0 1,0 -6.6,0M372.5,839.6a2.3,4.7 0 1,0 4.6,0a2.3,4.7 0 1,0 -4.6,0M373.5,839.6a1.3,2.7 0 1,0 2.6,0a1.3,2.7 0 1,0 -2.6,0M326.8,736.2a3.5,6.3 0 1,0 7.0,0a3.5,6.3 0 1,0 -7.0,0M327.9,736.2a2.4,4.4 0 1,0 4.9,0a2.4,4.4 0 1,0 -4.9,0M328.9,736.2a1.4,2.5 0 1,0 2.8,0a1.4,2.5 0 1,0 -2.8,0M316.7,732.2a3.4,5.5 0 1,0 6.9,0a3.4,5.5 0 1,0 -6.9,0M317.7,732.2a2.4,3.8 0 1,0 4.8,0a2.4,3.8 0 1,0 -4.8,0M318.7,732.2a1.4,2.2 0 1,0 2.7,0a1.4,2.2 0 1,0 -2.7,0M305.3,729.9a3.5,4.6 0 1,0 7.0,0a3.5,4.6 0 1,0 -7.0,0M306.3,729.9a2.5,3.2 0 1,0 4.9,0a2.5,3.2 0 1,0 -4.9,0M307.4,729.9a1.4,1.8 0 1,0 2.8,0a1.4,1.8 0 1,0 -2.8,0M303.0,734.3a4.9,4.7 0 1,0 9.8,0a4.9,4.7 0 1,0 -9.8,0M304.5,734.3a3.4,3.3 0 1,0 6.9,0a3.4,3.3 0 1,0 -6.9,0M305.9,734.3a2.0,1.9 0 1,0 3.9,0a2.0,1.9 0 1,0 -3.9,0M312.6,730.0a4.9,4.5 0 1,0 9.8,0a4.9,4.5 0 1,0 -9.8,0M314.0,730.0a3.4,3.2 0 1,0 6.8,0a3.4,3.2 0 1,0 -6.8,0M315.5,730.0a2.0,1.8 0 1,0 3.9,0a2.0,1.8 0 1,0 -3.9,0M458.5,670.8a3.1,5.3 0 1,0 6.2,0a3.1,5.3 0 1,0 -6.2,0M459.4,670.8a2.2,3.7 0 1,0 4.4,0a2.2,3.7 0 1,0 -4.4,0M460.3,670.8a1.2,2.1 0 1,0 2.5,0a1.2,2.1 0 1,0 -2.5,0M458.0,660.4a3.4,3.7 0 1,0 6.8,0a3.4,3.7 0 1,0 -6.8,0M459.1,660.4a2.4,2.6 0 1,0 4.7,0a2.4,2.6 0 1,0 -4.7,0M460.1,660.4a1.4,1.5 0 1,0 2.7,0a1.4,1.5 0 1,0 -2.7,0M442.0,673.2a2.5,4.8 0 1,0 5.0,0a2.5,4.8 0 1,0 -5.0,0M442.8,673.2a1.8,3.4 0 1,0 3.5,0a1.8,3.4 0 1,0 -3.5,0M443.5,673.2a1.0,1.9 0 1,0 2.0,0a1.0,1.9 0 1,0 -2.0,0M457.8,676.9a4.1,6.0 0 1,0 8.2,0a4.1,6.0 0 1,0 -8.2,0M459.0,676.9a2.9,4.2 0 1,0 5.7,0a2.9,4.2 0 1,0 -5.7,0M460.2,676.9a1.6,2.4 0 1,0 3.3,0a1.6,2.4 0 1,0 -3.3,0M456.6,654.8a4.3,6.4 0 1,0 8.6,0a4.3,6.4 0 1,0 -8.6,0M457.9,654.8a3.0,4.5 0 1,0 6.0,0a3.0,4.5 0 1,0 -6.0,0M459.2,654.8a1.7,2.5 0 1,0 3.4,0a1.7,2.5 0 1,0 -3.4,0M514.3,659.9a4.7,5.3 0 1,0 9.3,0a4.7,5.3 0 1,0 -9.3,0M515.7,659.9a3.3,3.7 0 1,0 6.5,0a3.3,3.7 0 1,0 -6.5,0M517.1,659.9a1.9,2.1 0 1,0 3.7,0a1.9,2.1 0 1,0 -3.7,0M504.2,653.0a5.1,5.2 0 1,0 10.1,0a5.1,5.2 0 1,0 -10.1,0M505.7,653.0a3.5,3.6 0 1,0 7.1,0a3.5,3.6 0 1,0 -7.1,0M507.3,653.0a2.0,2.1 0 1,0 4.1,0a2.0,2.1 0 1,0 -4.1,0M513.0,651.4a5.1,3.6 0 1,0 10.2,0a5.1,3.6 0 1,0 -10.2,0M514.6,651.4a3.6,2.5 0 1,0 7.1,0a3.6,2.5 0 1,0 -7.1,0M516.1,651.4a2.0,1.5 0 1,0 4.1,0a2.0,1.5 0 1,0 -4.1,0M507.5,659.5a4.3,5.2 0 1,0 8.7,0a4.3,5.2 0 1,0 -8.7,0M508.8,659.5a3.0,3.6 0 1,0 6.1,0a3.0,3.6 0 1,0 -6.1,0M510.1,659.5a1.7,2.1 0 1,0 3.5,0a1.7,2.1 0 1,0 -3.5,0M514.3,643.4a3.2,5.9 0 1,0 6.4,0a3.2,5.9 0 1,0 -6.4,0M515.3,643.4a2.2,4.1 0 1,0 4.5,0a2.2,4.1 0 1,0 -4.5,0M516.2,643.4a1.3,2.4 0 1,0 2.6,0a1.3,2.4 0 1,0 -2.6,0M504.2,668.5a4.5,6.2 0 1,0 9.1,0a4.5,6.2 0 1,0 -9.1,0M505.6,668.5a3.2,4.3 0 1,0 6.4,0a3.2,4.3 0 1,0 -6.4,0M507.0,668.5a1.8,2.5 0 1,0 3.6,0a1.8,2.5 0 1,0 -3.6,0M504.1,682.2a4.3,4.3 0 1,0 8.6,0a4.3,4.3 0 1,0 -8.6,0M505.4,682.2a3.0,3.0 0 1,0 6.0,0a3.0,3.0 0 1,0 -6.0,0M506.7,682.2a1.7,1.7 0 1,0 3.4,0a1.7,1.7 0 1,0 -3.4,0M501.1,670.1a3.0,5.5 0 1,0 6.1,0a3.0,5.5 0 1,0 -6.1,0M502.1,670.1a2.1,3.8 0 1,0 4.3,0a2.1,3.8 0 1,0 -4.3,0M503.0,670.1a1.2,2.2 0 1,0 2.4,0a1.2,2.2 0 1,0 -2.4,0M437.3,682.7a5.2,6.1 0 1,0 10.3,0a5.2,6.1 0 1,0 -10.3,0M438.8,682.7a3.6,4.3 0 1,0 7.2,0a3.6,4.3 0 1,0 -7.2,0M440.4,682.7a2.1,2.4 0 1,0 4.1,0a2.1,2.4 0 1,0 -4.1,0M446.4,687.8a4.5,5.1 0 1,0 9.0,0a4.5,5.1 0 1,0 -9.0,0M447.8,687.8a3.1,3.6 0 1,0 6.3,0a3.1,3.6 0 1,0 -6.3,0M449.1,687.8a1.8,2.1 0 1,0 3.6,0a1.8,2.1 0 1,0 -3.6,0M426.9,691.8a3.3,6.4 0 1,0 6.7,0a3.3,6.4 0 1,0 -6.7,0M427.9,691.8a2.3,4.5 0 1,0 4.7,0a2.3,4.5 0 1,0 -4.7,0M429.0,691.8a1.3,2.6 0 1,0 2.7,0a1.3,2.6 0 1,0 -2.7,0M35.4,893.5a2.5,4.0 0 1,0 5.0,0a2.5,4.0 0 1,0 -5.0,0M36.5,893.5a1.4,2.2 0 1,0 2.8,0a1.4,2.2 0 1,0 -2.8,0" fill="none" stroke="#3d55b8" stroke-width="0.85"/><path d="M399.1,714.3a4.0,5.1 0 1,0 8.0,0a4.0,5.1 0 1,0 -8.0,0M399.9,714.3a3.2,4.1 0 1,0 6.4,0a3.2,4.1 0 1,0 -6.4,0M400.7,714.3a2.4,3.0 0 1,0 4.8,0a2.4,3.0 0 1,0 -4.8,0M401.5,714.3a1.6,2.0 0 1,0 3.2,0a1.6,2.0 0 1,0 -3.2,0M404.1,723.5a4.8,3.5 0 1,0 9.6,0a4.8,3.5 0 1,0 -9.6,0M405.0,723.5a3.8,2.8 0 1,0 7.7,0a3.8,2.8 0 1,0 -7.7,0M406.0,723.5a2.9,2.1 0 1,0 5.7,0a2.9,2.1 0 1,0 -5.7,0M406.9,723.5a1.9,1.4 0 1,0 3.8,0a1.9,1.4 0 1,0 -3.8,0M381.7,749.8a3.6,4.3 0 1,0 7.3,0a3.6,4.3 0 1,0 -7.3,0M382.4,749.8a2.9,3.4 0 1,0 5.8,0a2.9,3.4 0 1,0 -5.8,0M383.1,749.8a2.2,2.6 0 1,0 4.4,0a2.2,2.6 0 1,0 -4.4,0M383.9,749.8a1.5,1.7 0 1,0 2.9,0a1.5,1.7 0 1,0 -2.9,0M357.5,713.0a3.2,5.1 0 1,0 6.3,0a3.2,5.1 0 1,0 -6.3,0M358.1,713.0a2.5,4.1 0 1,0 5.1,0a2.5,4.1 0 1,0 -5.1,0M358.8,713.0a1.9,3.1 0 1,0 3.8,0a1.9,3.1 0 1,0 -3.8,0M359.4,713.0a1.3,2.0 0 1,0 2.5,0a1.3,2.0 0 1,0 -2.5,0M364.0,738.5a4.6,6.8 0 1,0 9.3,0a4.6,6.8 0 1,0 -9.3,0M364.9,738.5a3.7,5.4 0 1,0 7.4,0a3.7,5.4 0 1,0 -7.4,0M365.8,738.5a2.8,4.1 0 1,0 5.6,0a2.8,4.1 0 1,0 -5.6,0M366.8,738.5a1.9,2.7 0 1,0 3.7,0a1.9,2.7 0 1,0 -3.7,0M379.8,731.6a2.6,4.3 0 1,0 5.2,0a2.6,4.3 0 1,0 -5.2,0M380.3,731.6a2.1,3.5 0 1,0 4.2,0a2.1,3.5 0 1,0 -4.2,0M380.9,731.6a1.6,2.6 0 1,0 3.1,0a1.6,2.6 0 1,0 -3.1,0M381.4,731.6a1.0,1.7 0 1,0 2.1,0a1.0,1.7 0 1,0 -2.1,0M351.2,729.5a4.6,5.9 0 1,0 9.2,0a4.6,5.9 0 1,0 -9.2,0M352.2,729.5a3.7,4.7 0 1,0 7.4,0a3.7,4.7 0 1,0 -7.4,0M353.1,729.5a2.8,3.5 0 1,0 5.5,0a2.8,3.5 0 1,0 -5.5,0M354.0,729.5a1.8,2.3 0 1,0 3.7,0a1.8,2.3 0 1,0 -3.7,0M370.9,726.5a2.6,3.7 0 1,0 5.2,0a2.6,3.7 0 1,0 -5.2,0M371.4,726.5a2.1,2.9 0 1,0 4.1,0a2.1,2.9 0 1,0 -4.1,0M371.9,726.5a1.6,2.2 0 1,0 3.1,0a1.6,2.2 0 1,0 -3.1,0M372.4,726.5a1.0,1.5 0 1,0 2.1,0a1.0,1.5 0 1,0 -2.1,0M386.4,721.5a3.0,5.3 0 1,0 6.0,0a3.0,5.3 0 1,0 -6.0,0M387.0,721.5a2.4,4.2 0 1,0 4.8,0a2.4,4.2 0 1,0 -4.8,0M387.6,721.5a1.8,3.2 0 1,0 3.6,0a1.8,3.2 0 1,0 -3.6,0M388.3,721.5a1.2,2.1 0 1,0 2.4,0a1.2,2.1 0 1,0 -2.4,0M382.0,745.7a3.2,5.3 0 1,0 6.4,0a3.2,5.3 0 1,0 -6.4,0M382.6,745.7a2.6,4.2 0 1,0 5.1,0a2.6,4.2 0 1,0 -5.1,0M383.3,745.7a1.9,3.2 0 1,0 3.8,0a1.9,3.2 0 1,0 -3.8,0M383.9,745.7a1.3,2.1 0 1,0 2.6,0a1.3,2.1 0 1,0 -2.6,0M374.6,715.0a4.1,6.8 0 1,0 8.3,0a4.1,6.8 0 1,0 -8.3,0M375.4,715.0a3.3,5.5 0 1,0 6.6,0a3.3,5.5 0 1,0 -6.6,0M376.2,715.0a2.5,4.1 0 1,0 5.0,0a2.5,4.1 0 1,0 -5.0,0M377.1,715.0a1.7,2.7 0 1,0 3.3,0a1.7,2.7 0 1,0 -3.3,0M402.5,728.0a4.2,5.0 0 1,0 8.4,0a4.2,5.0 0 1,0 -8.4,0M403.4,728.0a3.3,4.0 0 1,0 6.7,0a3.3,4.0 0 1,0 -6.7,0M404.2,728.0a2.5,3.0 0 1,0 5.0,0a2.5,3.0 0 1,0 -5.0,0M405.1,728.0a1.7,2.0 0 1,0 3.3,0a1.7,2.0 0 1,0 -3.3,0M377.3,719.6a3.5,5.4 0 1,0 7.1,0a3.5,5.4 0 1,0 -7.1,0M378.0,719.6a2.8,4.3 0 1,0 5.7,0a2.8,4.3 0 1,0 -5.7,0M378.7,719.6a2.1,3.2 0 1,0 4.2,0a2.1,3.2 0 1,0 -4.2,0M379.4,719.6a1.4,2.2 0 1,0 2.8,0a1.4,2.2 0 1,0 -2.8,0M375.5,702.5a3.2,4.1 0 1,0 6.4,0a3.2,4.1 0 1,0 -6.4,0M376.1,702.5a2.6,3.3 0 1,0 5.1,0a2.6,3.3 0 1,0 -5.1,0M376.7,702.5a1.9,2.5 0 1,0 3.8,0a1.9,2.5 0 1,0 -3.8,0M377.4,702.5a1.3,1.6 0 1,0 2.6,0a1.3,1.6 0 1,0 -2.6,0M400.9,742.4a4.9,4.4 0 1,0 9.9,0a4.9,4.4 0 1,0 -9.9,0M401.9,742.4a4.0,3.5 0 1,0 7.9,0a4.0,3.5 0 1,0 -7.9,0M402.9,742.4a3.0,2.6 0 1,0 5.9,0a3.0,2.6 0 1,0 -5.9,0M403.9,742.4a2.0,1.8 0 1,0 4.0,0a2.0,1.8 0 1,0 -4.0,0M378.9,712.6a4.4,4.9 0 1,0 8.9,0a4.4,4.9 0 1,0 -8.9,0M379.8,712.6a3.6,3.9 0 1,0 7.1,0a3.6,3.9 0 1,0 -7.1,0M380.7,712.6a2.7,2.9 0 1,0 5.3,0a2.7,2.9 0 1,0 -5.3,0M381.5,712.6a1.8,2.0 0 1,0 3.6,0a1.8,2.0 0 1,0 -3.6,0M389.1,704.1a3.4,6.9 0 1,0 6.8,0a3.4,6.9 0 1,0 -6.8,0M389.8,704.1a2.7,5.5 0 1,0 5.4,0a2.7,5.5 0 1,0 -5.4,0M390.4,704.1a2.0,4.1 0 1,0 4.1,0a2.0,4.1 0 1,0 -4.1,0M391.1,704.1a1.4,2.8 0 1,0 2.7,0a1.4,2.8 0 1,0 -2.7,0M382.5,709.9a5.1,6.9 0 1,0 10.2,0a5.1,6.9 0 1,0 -10.2,0M383.5,709.9a4.1,5.5 0 1,0 8.2,0a4.1,5.5 0 1,0 -8.2,0M384.6,709.9a3.1,4.1 0 1,0 6.1,0a3.1,4.1 0 1,0 -6.1,0M385.6,709.9a2.0,2.8 0 1,0 4.1,0a2.0,2.8 0 1,0 -4.1,0M376.9,717.9a5.1,6.6 0 1,0 10.2,0a5.1,6.6 0 1,0 -10.2,0M377.9,717.9a4.1,5.3 0 1,0 8.2,0a4.1,5.3 0 1,0 -8.2,0M378.9,717.9a3.1,4.0 0 1,0 6.1,0a3.1,4.0 0 1,0 -6.1,0M379.9,717.9a2.0,2.7 0 1,0 4.1,0a2.0,2.7 0 1,0 -4.1,0M364.6,712.1a4.5,6.4 0 1,0 9.0,0a4.5,6.4 0 1,0 -9.0,0M365.5,712.1a3.6,5.1 0 1,0 7.2,0a3.6,5.1 0 1,0 -7.2,0M366.4,712.1a2.7,3.9 0 1,0 5.4,0a2.7,3.9 0 1,0 -5.4,0M367.3,712.1a1.8,2.6 0 1,0 3.6,0a1.8,2.6 0 1,0 -3.6,0M408.6,736.7a4.0,6.9 0 1,0 7.9,0a4.0,6.9 0 1,0 -7.9,0M409.4,736.7a3.2,5.6 0 1,0 6.3,0a3.2,5.6 0 1,0 -6.3,0M410.2,736.7a2.4,4.2 0 1,0 4.7,0a2.4,4.2 0 1,0 -4.7,0M411.0,736.7a1.6,2.8 0 1,0 3.2,0a1.6,2.8 0 1,0 -3.2,0M354.7,740.5a4.3,6.4 0 1,0 8.6,0a4.3,6.4 0 1,0 -8.6,0M355.6,740.5a3.4,5.2 0 1,0 6.9,0a3.4,5.2 0 1,0 -6.9,0M356.5,740.5a2.6,3.9 0 1,0 5.2,0a2.6,3.9 0 1,0 -5.2,0M357.3,740.5a1.7,2.6 0 1,0 3.4,0a1.7,2.6 0 1,0 -3.4,0M350.0,729.7a2.8,3.6 0 1,0 5.6,0a2.8,3.6 0 1,0 -5.6,0M350.6,729.7a2.3,2.9 0 1,0 4.5,0a2.3,2.9 0 1,0 -4.5,0M351.1,729.7a1.7,2.2 0 1,0 3.4,0a1.7,2.2 0 1,0 -3.4,0M351.7,729.7a1.1,1.5 0 1,0 2.3,0a1.1,1.5 0 1,0 -2.3,0M387.6,741.7a3.6,5.5 0 1,0 7.3,0a3.6,5.5 0 1,0 -7.3,0M388.3,741.7a2.9,4.4 0 1,0 5.8,0a2.9,4.4 0 1,0 -5.8,0M389.0,741.7a2.2,3.3 0 1,0 4.4,0a2.2,3.3 0 1,0 -4.4,0M389.8,741.7a1.5,2.2 0 1,0 2.9,0a1.5,2.2 0 1,0 -2.9,0M350.7,713.6a4.7,3.9 0 1,0 9.5,0a4.7,3.9 0 1,0 -9.5,0M351.6,713.6a3.8,3.1 0 1,0 7.6,0a3.8,3.1 0 1,0 -7.6,0M352.6,713.6a2.8,2.3 0 1,0 5.7,0a2.8,2.3 0 1,0 -5.7,0M353.5,713.6a1.9,1.5 0 1,0 3.8,0a1.9,1.5 0 1,0 -3.8,0M353.8,733.1a5.4,5.4 0 1,0 10.9,0a5.4,5.4 0 1,0 -10.9,0M354.9,733.1a4.4,4.3 0 1,0 8.7,0a4.4,4.3 0 1,0 -8.7,0M356.0,733.1a3.3,3.2 0 1,0 6.5,0a3.3,3.2 0 1,0 -6.5,0M357.0,733.1a2.2,2.2 0 1,0 4.4,0a2.2,2.2 0 1,0 -4.4,0M359.3,729.2a3.4,4.4 0 1,0 6.8,0a3.4,4.4 0 1,0 -6.8,0M360.0,729.2a2.7,3.5 0 1,0 5.5,0a2.7,3.5 0 1,0 -5.5,0M360.7,729.2a2.1,2.6 0 1,0 4.1,0a2.1,2.6 0 1,0 -4.1,0M361.4,729.2a1.4,1.7 0 1,0 2.7,0a1.4,1.7 0 1,0 -2.7,0M389.8,749.9a3.7,4.6 0 1,0 7.3,0a3.7,4.6 0 1,0 -7.3,0M390.5,749.9a2.9,3.7 0 1,0 5.9,0a2.9,3.7 0 1,0 -5.9,0M391.3,749.9a2.2,2.7 0 1,0 4.4,0a2.2,2.7 0 1,0 -4.4,0M392.0,749.9a1.5,1.8 0 1,0 2.9,0a1.5,1.8 0 1,0 -2.9,0M364.5,729.3a4.2,5.6 0 1,0 8.5,0a4.2,5.6 0 1,0 -8.5,0M365.4,729.3a3.4,4.5 0 1,0 6.8,0a3.4,4.5 0 1,0 -6.8,0M366.2,729.3a2.5,3.4 0 1,0 5.1,0a2.5,3.4 0 1,0 -5.1,0M367.1,729.3a1.7,2.2 0 1,0 3.4,0a1.7,2.2 0 1,0 -3.4,0M379.4,742.3a2.7,6.8 0 1,0 5.5,0a2.7,6.8 0 1,0 -5.5,0M379.9,742.3a2.2,5.5 0 1,0 4.4,0a2.2,5.5 0 1,0 -4.4,0M380.5,742.3a1.6,4.1 0 1,0 3.3,0a1.6,4.1 0 1,0 -3.3,0M381.0,742.3a1.1,2.7 0 1,0 2.2,0a1.1,2.7 0 1,0 -2.2,0M362.4,748.0a4.9,6.7 0 1,0 9.8,0a4.9,6.7 0 1,0 -9.8,0M363.4,748.0a3.9,5.3 0 1,0 7.9,0a3.9,5.3 0 1,0 -7.9,0M364.3,748.0a2.9,4.0 0 1,0 5.9,0a2.9,4.0 0 1,0 -5.9,0M365.3,748.0a2.0,2.7 0 1,0 3.9,0a2.0,2.7 0 1,0 -3.9,0M393.4,710.3a3.8,4.1 0 1,0 7.6,0a3.8,4.1 0 1,0 -7.6,0M394.1,710.3a3.0,3.2 0 1,0 6.1,0a3.0,3.2 0 1,0 -6.1,0M394.9,710.3a2.3,2.4 0 1,0 4.6,0a2.3,2.4 0 1,0 -4.6,0M395.6,710.3a1.5,1.6 0 1,0 3.0,0a1.5,1.6 0 1,0 -3.0,0M380.9,729.2a5.1,5.1 0 1,0 10.1,0a5.1,5.1 0 1,0 -10.1,0M381.9,729.2a4.0,4.1 0 1,0 8.1,0a4.0,4.1 0 1,0 -8.1,0M382.9,729.2a3.0,3.1 0 1,0 6.1,0a3.0,3.1 0 1,0 -6.1,0M383.9,729.2a2.0,2.0 0 1,0 4.0,0a2.0,2.0 0 1,0 -4.0,0M372.6,730.7a2.7,4.7 0 1,0 5.4,0a2.7,4.7 0 1,0 -5.4,0M373.2,730.7a2.1,3.8 0 1,0 4.3,0a2.1,3.8 0 1,0 -4.3,0M373.7,730.7a1.6,2.8 0 1,0 3.2,0a1.6,2.8 0 1,0 -3.2,0M374.3,730.7a1.1,1.9 0 1,0 2.1,0a1.1,1.9 0 1,0 -2.1,0M370.9,732.8a3.2,3.5 0 1,0 6.4,0a3.2,3.5 0 1,0 -6.4,0M371.5,732.8a2.6,2.8 0 1,0 5.1,0a2.6,2.8 0 1,0 -5.1,0M372.2,732.8a1.9,2.1 0 1,0 3.8,0a1.9,2.1 0 1,0 -3.8,0M372.8,732.8a1.3,1.4 0 1,0 2.6,0a1.3,1.4 0 1,0 -2.6,0M389.3,723.8a4.6,6.1 0 1,0 9.1,0a4.6,6.1 0 1,0 -9.1,0M390.3,723.8a3.6,4.8 0 1,0 7.3,0a3.6,4.8 0 1,0 -7.3,0M391.2,723.8a2.7,3.6 0 1,0 5.5,0a2.7,3.6 0 1,0 -5.5,0M392.1,723.8a1.8,2.4 0 1,0 3.6,0a1.8,2.4 0 1,0 -3.6,0M342.6,727.6a5.1,4.1 0 1,0 10.3,0a5.1,4.1 0 1,0 -10.3,0M343.6,727.6a4.1,3.2 0 1,0 8.2,0a4.1,3.2 0 1,0 -8.2,0M344.6,727.6a3.1,2.4 0 1,0 6.2,0a3.1,2.4 0 1,0 -6.2,0M345.7,727.6a2.1,1.6 0 1,0 4.1,0a2.1,1.6 0 1,0 -4.1,0M361.9,737.0a5.0,4.8 0 1,0 10.1,0a5.0,4.8 0 1,0 -10.1,0M362.9,737.0a4.0,3.8 0 1,0 8.1,0a4.0,3.8 0 1,0 -8.1,0M363.9,737.0a3.0,2.9 0 1,0 6.1,0a3.0,2.9 0 1,0 -6.1,0M364.9,737.0a2.0,1.9 0 1,0 4.0,0a2.0,1.9 0 1,0 -4.0,0M357.8,712.3a4.2,6.2 0 1,0 8.4,0a4.2,6.2 0 1,0 -8.4,0M358.7,712.3a3.4,4.9 0 1,0 6.7,0a3.4,4.9 0 1,0 -6.7,0M359.5,712.3a2.5,3.7 0 1,0 5.1,0a2.5,3.7 0 1,0 -5.1,0M360.4,712.3a1.7,2.5 0 1,0 3.4,0a1.7,2.5 0 1,0 -3.4,0M352.6,739.0a2.6,6.9 0 1,0 5.2,0a2.6,6.9 0 1,0 -5.2,0M353.1,739.0a2.1,5.5 0 1,0 4.2,0a2.1,5.5 0 1,0 -4.2,0M353.6,739.0a1.6,4.2 0 1,0 3.1,0a1.6,4.2 0 1,0 -3.1,0M354.1,739.0a1.0,2.8 0 1,0 2.1,0a1.0,2.8 0 1,0 -2.1,0M358.0,748.5a5.4,4.0 0 1,0 10.8,0a5.4,4.0 0 1,0 -10.8,0M359.1,748.5a4.3,3.2 0 1,0 8.6,0a4.3,3.2 0 1,0 -8.6,0M360.2,748.5a3.2,2.4 0 1,0 6.5,0a3.2,2.4 0 1,0 -6.5,0M361.3,748.5a2.2,1.6 0 1,0 4.3,0a2.2,1.6 0 1,0 -4.3,0M390.9,737.4a3.8,6.7 0 1,0 7.7,0a3.8,6.7 0 1,0 -7.7,0M391.7,737.4a3.1,5.4 0 1,0 6.1,0a3.1,5.4 0 1,0 -6.1,0M392.5,737.4a2.3,4.0 0 1,0 4.6,0a2.3,4.0 0 1,0 -4.6,0M393.2,737.4a1.5,2.7 0 1,0 3.1,0a1.5,2.7 0 1,0 -3.1,0M403.2,723.5a3.0,4.6 0 1,0 6.0,0a3.0,4.6 0 1,0 -6.0,0M403.8,723.5a2.4,3.7 0 1,0 4.8,0a2.4,3.7 0 1,0 -4.8,0M404.4,723.5a1.8,2.8 0 1,0 3.6,0a1.8,2.8 0 1,0 -3.6,0M405.0,723.5a1.2,1.9 0 1,0 2.4,0a1.2,1.9 0 1,0 -2.4,0M354.6,723.8a2.6,5.7 0 1,0 5.1,0a2.6,5.7 0 1,0 -5.1,0M355.1,723.8a2.1,4.6 0 1,0 4.1,0a2.1,4.6 0 1,0 -4.1,0M355.6,723.8a1.5,3.4 0 1,0 3.1,0a1.5,3.4 0 1,0 -3.1,0M356.2,723.8a1.0,2.3 0 1,0 2.1,0a1.0,2.3 0 1,0 -2.1,0M391.8,742.1a4.9,6.9 0 1,0 9.9,0a4.9,6.9 0 1,0 -9.9,0M392.7,742.1a3.9,5.5 0 1,0 7.9,0a3.9,5.5 0 1,0 -7.9,0M393.7,742.1a3.0,4.1 0 1,0 5.9,0a3.0,4.1 0 1,0 -5.9,0M394.7,742.1a2.0,2.8 0 1,0 3.9,0a2.0,2.8 0 1,0 -3.9,0M406.2,741.0a4.2,4.8 0 1,0 8.4,0a4.2,4.8 0 1,0 -8.4,0M407.1,741.0a3.4,3.9 0 1,0 6.7,0a3.4,3.9 0 1,0 -6.7,0M407.9,741.0a2.5,2.9 0 1,0 5.1,0a2.5,2.9 0 1,0 -5.1,0M408.8,741.0a1.7,1.9 0 1,0 3.4,0a1.7,1.9 0 1,0 -3.4,0M380.8,751.2a4.8,6.9 0 1,0 9.6,0a4.8,6.9 0 1,0 -9.6,0M381.8,751.2a3.8,5.5 0 1,0 7.7,0a3.8,5.5 0 1,0 -7.7,0M382.8,751.2a2.9,4.1 0 1,0 5.7,0a2.9,4.1 0 1,0 -5.7,0M383.7,751.2a1.9,2.8 0 1,0 3.8,0a1.9,2.8 0 1,0 -3.8,0M368.0,728.5a2.5,5.0 0 1,0 5.0,0a2.5,5.0 0 1,0 -5.0,0M368.5,728.5a2.0,4.0 0 1,0 4.0,0a2.0,4.0 0 1,0 -4.0,0M369.0,728.5a1.5,3.0 0 1,0 3.0,0a1.5,3.0 0 1,0 -3.0,0M369.5,728.5a1.0,2.0 0 1,0 2.0,0a1.0,2.0 0 1,0 -2.0,0M377.8,734.7a3.6,4.2 0 1,0 7.3,0a3.6,4.2 0 1,0 -7.3,0M378.5,734.7a2.9,3.4 0 1,0 5.8,0a2.9,3.4 0 1,0 -5.8,0M379.2,734.7a2.2,2.5 0 1,0 4.4,0a2.2,2.5 0 1,0 -4.4,0M379.9,734.7a1.5,1.7 0 1,0 2.9,0a1.5,1.7 0 1,0 -2.9,0M388.0,728.6a3.6,3.5 0 1,0 7.2,0a3.6,3.5 0 1,0 -7.2,0M388.7,728.6a2.9,2.8 0 1,0 5.7,0a2.9,2.8 0 1,0 -5.7,0M389.5,728.6a2.1,2.1 0 1,0 4.3,0a2.1,2.1 0 1,0 -4.3,0M390.2,728.6a1.4,1.4 0 1,0 2.9,0a1.4,1.4 0 1,0 -2.9,0M396.0,747.7a4.7,5.2 0 1,0 9.5,0a4.7,5.2 0 1,0 -9.5,0M396.9,747.7a3.8,4.2 0 1,0 7.6,0a3.8,4.2 0 1,0 -7.6,0M397.9,747.7a2.8,3.1 0 1,0 5.7,0a2.8,3.1 0 1,0 -5.7,0M398.8,747.7a1.9,2.1 0 1,0 3.8,0a1.9,2.1 0 1,0 -3.8,0M390.2,733.7a3.7,5.7 0 1,0 7.4,0a3.7,5.7 0 1,0 -7.4,0M390.9,733.7a3.0,4.6 0 1,0 6.0,0a3.0,4.6 0 1,0 -6.0,0M391.7,733.7a2.2,3.4 0 1,0 4.5,0a2.2,3.4 0 1,0 -4.5,0M392.4,733.7a1.5,2.3 0 1,0 3.0,0a1.5,2.3 0 1,0 -3.0,0M399.8,745.0a4.8,6.4 0 1,0 9.6,0a4.8,6.4 0 1,0 -9.6,0M400.8,745.0a3.8,5.1 0 1,0 7.7,0a3.8,5.1 0 1,0 -7.7,0M401.7,745.0a2.9,3.8 0 1,0 5.8,0a2.9,3.8 0 1,0 -5.8,0M402.7,745.0a1.9,2.5 0 1,0 3.8,0a1.9,2.5 0 1,0 -3.8,0M378.0,750.2a4.6,4.9 0 1,0 9.1,0a4.6,4.9 0 1,0 -9.1,0M378.9,750.2a3.7,3.9 0 1,0 7.3,0a3.7,3.9 0 1,0 -7.3,0M379.8,750.2a2.7,2.9 0 1,0 5.5,0a2.7,2.9 0 1,0 -5.5,0M380.7,750.2a1.8,2.0 0 1,0 3.7,0a1.8,2.0 0 1,0 -3.7,0M353.6,711.8a5.2,4.4 0 1,0 10.3,0a5.2,4.4 0 1,0 -10.3,0M354.6,711.8a4.1,3.6 0 1,0 8.3,0a4.1,3.6 0 1,0 -8.3,0M355.6,711.8a3.1,2.7 0 1,0 6.2,0a3.1,2.7 0 1,0 -6.2,0M356.6,711.8a2.1,1.8 0 1,0 4.1,0a2.1,1.8 0 1,0 -4.1,0M386.6,713.1a4.2,4.1 0 1,0 8.4,0a4.2,4.1 0 1,0 -8.4,0M387.4,713.1a3.3,3.3 0 1,0 6.7,0a3.3,3.3 0 1,0 -6.7,0M388.3,713.1a2.5,2.5 0 1,0 5.0,0a2.5,2.5 0 1,0 -5.0,0M389.1,713.1a1.7,1.6 0 1,0 3.3,0a1.7,1.6 0 1,0 -3.3,0M410.5,733.4a3.4,5.0 0 1,0 6.9,0a3.4,5.0 0 1,0 -6.9,0M411.2,733.4a2.8,4.0 0 1,0 5.5,0a2.8,4.0 0 1,0 -5.5,0M411.9,733.4a2.1,3.0 0 1,0 4.1,0a2.1,3.0 0 1,0 -4.1,0M412.6,733.4a1.4,2.0 0 1,0 2.8,0a1.4,2.0 0 1,0 -2.8,0M381.2,708.2a2.9,6.0 0 1,0 5.8,0a2.9,6.0 0 1,0 -5.8,0M381.8,708.2a2.3,4.8 0 1,0 4.7,0a2.3,4.8 0 1,0 -4.7,0M382.4,708.2a1.7,3.6 0 1,0 3.5,0a1.7,3.6 0 1,0 -3.5,0M383.0,708.2a1.2,2.4 0 1,0 2.3,0a1.2,2.4 0 1,0 -2.3,0M439.1,724.7a3.7,5.2 0 1,0 7.4,0a3.7,5.2 0 1,0 -7.4,0M439.8,724.7a3.0,4.2 0 1,0 5.9,0a3.0,4.2 0 1,0 -5.9,0M440.6,724.7a2.2,3.1 0 1,0 4.4,0a2.2,3.1 0 1,0 -4.4,0M441.3,724.7a1.5,2.1 0 1,0 3.0,0a1.5,2.1 0 1,0 -3.0,0M472.8,757.7a3.5,4.8 0 1,0 6.9,0a3.5,4.8 0 1,0 -6.9,0M473.5,757.7a2.8,3.9 0 1,0 5.5,0a2.8,3.9 0 1,0 -5.5,0M474.2,757.7a2.1,2.9 0 1,0 4.2,0a2.1,2.9 0 1,0 -4.2,0M474.8,757.7a1.4,1.9 0 1,0 2.8,0a1.4,1.9 0 1,0 -2.8,0M419.1,748.1a4.7,5.9 0 1,0 9.5,0a4.7,5.9 0 1,0 -9.5,0M420.1,748.1a3.8,4.7 0 1,0 7.6,0a3.8,4.7 0 1,0 -7.6,0M421.0,748.1a2.8,3.5 0 1,0 5.7,0a2.8,3.5 0 1,0 -5.7,0M422.0,748.1a1.9,2.4 0 1,0 3.8,0a1.9,2.4 0 1,0 -3.8,0M443.1,747.8a5.4,5.7 0 1,0 10.8,0a5.4,5.7 0 1,0 -10.8,0M444.2,747.8a4.3,4.6 0 1,0 8.7,0a4.3,4.6 0 1,0 -8.7,0M445.3,747.8a3.2,3.4 0 1,0 6.5,0a3.2,3.4 0 1,0 -6.5,0M446.3,747.8a2.2,2.3 0 1,0 4.3,0a2.2,2.3 0 1,0 -4.3,0M459.1,744.7a4.1,3.7 0 1,0 8.1,0a4.1,3.7 0 1,0 -8.1,0M459.9,744.7a3.3,3.0 0 1,0 6.5,0a3.3,3.0 0 1,0 -6.5,0M460.7,744.7a2.4,2.2 0 1,0 4.9,0a2.4,2.2 0 1,0 -4.9,0M461.5,744.7a1.6,1.5 0 1,0 3.3,0a1.6,1.5 0 1,0 -3.3,0M462.3,751.4a4.7,6.0 0 1,0 9.5,0a4.7,6.0 0 1,0 -9.5,0M463.3,751.4a3.8,4.8 0 1,0 7.6,0a3.8,4.8 0 1,0 -7.6,0M464.2,751.4a2.8,3.6 0 1,0 5.7,0a2.8,3.6 0 1,0 -5.7,0M465.2,751.4a1.9,2.4 0 1,0 3.8,0a1.9,2.4 0 1,0 -3.8,0M448.4,736.3a5.5,3.6 0 1,0 10.9,0a5.5,3.6 0 1,0 -10.9,0M449.5,736.3a4.4,2.9 0 1,0 8.7,0a4.4,2.9 0 1,0 -8.7,0M450.6,736.3a3.3,2.2 0 1,0 6.5,0a3.3,2.2 0 1,0 -6.5,0M451.7,736.3a2.2,1.5 0 1,0 4.4,0a2.2,1.5 0 1,0 -4.4,0M419.6,736.9a4.7,4.6 0 1,0 9.4,0a4.7,4.6 0 1,0 -9.4,0M420.6,736.9a3.8,3.7 0 1,0 7.5,0a3.8,3.7 0 1,0 -7.5,0M421.5,736.9a2.8,2.8 0 1,0 5.6,0a2.8,2.8 0 1,0 -5.6,0M422.4,736.9a1.9,1.8 0 1,0 3.8,0a1.9,1.8 0 1,0 -3.8,0M460.9,739.7a5.5,6.0 0 1,0 10.9,0a5.5,6.0 0 1,0 -10.9,0M462.0,739.7a4.4,4.8 0 1,0 8.7,0a4.4,4.8 0 1,0 -8.7,0M463.1,739.7a3.3,3.6 0 1,0 6.6,0a3.3,3.6 0 1,0 -6.6,0M464.2,739.7a2.2,2.4 0 1,0 4.4,0a2.2,2.4 0 1,0 -4.4,0M453.4,759.5a5.0,4.5 0 1,0 10.0,0a5.0,4.5 0 1,0 -10.0,0M454.4,759.5a4.0,3.6 0 1,0 8.0,0a4.0,3.6 0 1,0 -8.0,0M455.4,759.5a3.0,2.7 0 1,0 6.0,0a3.0,2.7 0 1,0 -6.0,0M456.4,759.5a2.0,1.8 0 1,0 4.0,0a2.0,1.8 0 1,0 -4.0,0M456.1,721.9a4.9,5.8 0 1,0 9.9,0a4.9,5.8 0 1,0 -9.9,0M457.1,721.9a4.0,4.6 0 1,0 7.9,0a4.0,4.6 0 1,0 -7.9,0M458.1,721.9a3.0,3.5 0 1,0 5.9,0a3.0,3.5 0 1,0 -5.9,0M459.1,721.9a2.0,2.3 0 1,0 4.0,0a2.0,2.3 0 1,0 -4.0,0M453.1,743.1a2.9,6.7 0 1,0 5.9,0a2.9,6.7 0 1,0 -5.9,0M453.7,743.1a2.4,5.4 0 1,0 4.7,0a2.4,5.4 0 1,0 -4.7,0M454.3,743.1a1.8,4.0 0 1,0 3.5,0a1.8,4.0 0 1,0 -3.5,0M454.9,743.1a1.2,2.7 0 1,0 2.4,0a1.2,2.7 0 1,0 -2.4,0M472.4,725.9a4.1,5.5 0 1,0 8.1,0a4.1,5.5 0 1,0 -8.1,0M473.2,725.9a3.3,4.4 0 1,0 6.5,0a3.3,4.4 0 1,0 -6.5,0M474.1,725.9a2.4,3.3 0 1,0 4.9,0a2.4,3.3 0 1,0 -4.9,0M474.9,725.9a1.6,2.2 0 1,0 3.3,0a1.6,2.2 0 1,0 -3.3,0M466.2,752.9a3.6,6.8 0 1,0 7.2,0a3.6,6.8 0 1,0 -7.2,0M466.9,752.9a2.9,5.4 0 1,0 5.7,0a2.9,5.4 0 1,0 -5.7,0M467.6,752.9a2.2,4.1 0 1,0 4.3,0a2.2,4.1 0 1,0 -4.3,0M468.4,752.9a1.4,2.7 0 1,0 2.9,0a1.4,2.7 0 1,0 -2.9,0M447.3,752.0a2.7,3.8 0 1,0 5.3,0a2.7,3.8 0 1,0 -5.3,0M447.8,752.0a2.1,3.1 0 1,0 4.2,0a2.1,3.1 0 1,0 -4.2,0M448.4,752.0a1.6,2.3 0 1,0 3.2,0a1.6,2.3 0 1,0 -3.2,0M448.9,752.0a1.1,1.5 0 1,0 2.1,0a1.1,1.5 0 1,0 -2.1,0M442.4,757.3a4.6,4.5 0 1,0 9.3,0a4.6,4.5 0 1,0 -9.3,0M443.3,757.3a3.7,3.6 0 1,0 7.4,0a3.7,3.6 0 1,0 -7.4,0M444.3,757.3a2.8,2.7 0 1,0 5.6,0a2.8,2.7 0 1,0 -5.6,0M445.2,757.3a1.9,1.8 0 1,0 3.7,0a1.9,1.8 0 1,0 -3.7,0M446.8,749.7a4.1,6.8 0 1,0 8.3,0a4.1,6.8 0 1,0 -8.3,0M447.6,749.7a3.3,5.4 0 1,0 6.6,0a3.3,5.4 0 1,0 -6.6,0M448.5,749.7a2.5,4.1 0 1,0 5.0,0a2.5,4.1 0 1,0 -5.0,0M449.3,749.7a1.7,2.7 0 1,0 3.3,0a1.7,2.7 0 1,0 -3.3,0M434.7,728.9a4.7,6.2 0 1,0 9.5,0a4.7,6.2 0 1,0 -9.5,0M435.7,728.9a3.8,5.0 0 1,0 7.6,0a3.8,5.0 0 1,0 -7.6,0M436.6,728.9a2.8,3.7 0 1,0 5.7,0a2.8,3.7 0 1,0 -5.7,0M437.6,728.9a1.9,2.5 0 1,0 3.8,0a1.9,2.5 0 1,0 -3.8,0M444.6,758.8a4.9,5.5 0 1,0 9.8,0a4.9,5.5 0 1,0 -9.8,0M445.5,758.8a3.9,4.4 0 1,0 7.8,0a3.9,4.4 0 1,0 -7.8,0M446.5,758.8a2.9,3.3 0 1,0 5.9,0a2.9,3.3 0 1,0 -5.9,0M447.5,758.8a2.0,2.2 0 1,0 3.9,0a2.0,2.2 0 1,0 -3.9,0M425.0,733.3a5.2,6.1 0 1,0 10.3,0a5.2,6.1 0 1,0 -10.3,0M426.0,733.3a4.1,4.9 0 1,0 8.3,0a4.1,4.9 0 1,0 -8.3,0M427.1,733.3a3.1,3.7 0 1,0 6.2,0a3.1,3.7 0 1,0 -6.2,0M428.1,733.3a2.1,2.4 0 1,0 4.1,0a2.1,2.4 0 1,0 -4.1,0M456.8,744.3a4.1,5.4 0 1,0 8.2,0a4.1,5.4 0 1,0 -8.2,0M457.6,744.3a3.3,4.3 0 1,0 6.5,0a3.3,4.3 0 1,0 -6.5,0M458.4,744.3a2.4,3.2 0 1,0 4.9,0a2.4,3.2 0 1,0 -4.9,0M459.3,744.3a1.6,2.2 0 1,0 3.3,0a1.6,2.2 0 1,0 -3.3,0M446.3,747.7a3.4,4.6 0 1,0 6.8,0a3.4,4.6 0 1,0 -6.8,0M447.0,747.7a2.7,3.6 0 1,0 5.5,0a2.7,3.6 0 1,0 -5.5,0M447.7,747.7a2.1,2.7 0 1,0 4.1,0a2.1,2.7 0 1,0 -4.1,0M448.4,747.7a1.4,1.8 0 1,0 2.7,0a1.4,1.8 0 1,0 -2.7,0M456.4,763.0a3.0,5.7 0 1,0 6.0,0a3.0,5.7 0 1,0 -6.0,0M457.0,763.0a2.4,4.6 0 1,0 4.8,0a2.4,4.6 0 1,0 -4.8,0M457.6,763.0a1.8,3.4 0 1,0 3.6,0a1.8,3.4 0 1,0 -3.6,0M458.2,763.0a1.2,2.3 0 1,0 2.4,0a1.2,2.3 0 1,0 -2.4,0M456.8,736.2a3.7,6.8 0 1,0 7.4,0a3.7,6.8 0 1,0 -7.4,0M457.5,736.2a3.0,5.4 0 1,0 5.9,0a3.0,5.4 0 1,0 -5.9,0M458.3,736.2a2.2,4.1 0 1,0 4.4,0a2.2,4.1 0 1,0 -4.4,0M459.0,736.2a1.5,2.7 0 1,0 3.0,0a1.5,2.7 0 1,0 -3.0,0M475.7,736.9a3.9,6.3 0 1,0 7.8,0a3.9,6.3 0 1,0 -7.8,0M476.4,736.9a3.1,5.0 0 1,0 6.2,0a3.1,5.0 0 1,0 -6.2,0M477.2,736.9a2.3,3.8 0 1,0 4.7,0a2.3,3.8 0 1,0 -4.7,0M478.0,736.9a1.6,2.5 0 1,0 3.1,0a1.6,2.5 0 1,0 -3.1,0M426.2,735.6a3.7,3.6 0 1,0 7.5,0a3.7,3.6 0 1,0 -7.5,0M426.9,735.6a3.0,2.9 0 1,0 6.0,0a3.0,2.9 0 1,0 -6.0,0M427.7,735.6a2.2,2.1 0 1,0 4.5,0a2.2,2.1 0 1,0 -4.5,0M428.4,735.6a1.5,1.4 0 1,0 3.0,0a1.5,1.4 0 1,0 -3.0,0M452.4,752.5a4.6,5.0 0 1,0 9.1,0a4.6,5.0 0 1,0 -9.1,0M453.3,752.5a3.7,4.0 0 1,0 7.3,0a3.7,4.0 0 1,0 -7.3,0M454.2,752.5a2.7,3.0 0 1,0 5.5,0a2.7,3.0 0 1,0 -5.5,0M455.1,752.5a1.8,2.0 0 1,0 3.7,0a1.8,2.0 0 1,0 -3.7,0M433.9,741.1a5.4,4.9 0 1,0 10.7,0a5.4,4.9 0 1,0 -10.7,0M434.9,741.1a4.3,3.9 0 1,0 8.6,0a4.3,3.9 0 1,0 -8.6,0M436.0,741.1a3.2,2.9 0 1,0 6.4,0a3.2,2.9 0 1,0 -6.4,0M437.1,741.1a2.1,2.0 0 1,0 4.3,0a2.1,2.0 0 1,0 -4.3,0M422.6,746.9a5.5,5.4 0 1,0 11.0,0a5.5,5.4 0 1,0 -11.0,0M423.7,746.9a4.4,4.3 0 1,0 8.8,0a4.4,4.3 0 1,0 -8.8,0M424.8,746.9a3.3,3.3 0 1,0 6.6,0a3.3,3.3 0 1,0 -6.6,0M425.9,746.9a2.2,2.2 0 1,0 4.4,0a2.2,2.2 0 1,0 -4.4,0M425.3,744.3a3.8,5.9 0 1,0 7.5,0a3.8,5.9 0 1,0 -7.5,0M426.0,744.3a3.0,4.7 0 1,0 6.0,0a3.0,4.7 0 1,0 -6.0,0M426.8,744.3a2.3,3.5 0 1,0 4.5,0a2.3,3.5 0 1,0 -4.5,0M427.5,744.3a1.5,2.3 0 1,0 3.0,0a1.5,2.3 0 1,0 -3.0,0M475.8,754.6a4.5,3.8 0 1,0 9.1,0a4.5,3.8 0 1,0 -9.1,0M476.7,754.6a3.6,3.0 0 1,0 7.2,0a3.6,3.0 0 1,0 -7.2,0M477.6,754.6a2.7,2.3 0 1,0 5.4,0a2.7,2.3 0 1,0 -5.4,0M478.5,754.6a1.8,1.5 0 1,0 3.6,0a1.8,1.5 0 1,0 -3.6,0M424.0,737.0a5.2,4.2 0 1,0 10.4,0a5.2,4.2 0 1,0 -10.4,0M425.0,737.0a4.2,3.4 0 1,0 8.3,0a4.2,3.4 0 1,0 -8.3,0M426.1,737.0a3.1,2.5 0 1,0 6.3,0a3.1,2.5 0 1,0 -6.3,0M427.1,737.0a2.1,1.7 0 1,0 4.2,0a2.1,1.7 0 1,0 -4.2,0M436.4,743.8a3.8,6.2 0 1,0 7.6,0a3.8,6.2 0 1,0 -7.6,0M437.1,743.8a3.1,4.9 0 1,0 6.1,0a3.1,4.9 0 1,0 -6.1,0M437.9,743.8a2.3,3.7 0 1,0 4.6,0a2.3,3.7 0 1,0 -4.6,0M438.7,743.8a1.5,2.5 0 1,0 3.1,0a1.5,2.5 0 1,0 -3.1,0M436.9,751.1a3.7,4.0 0 1,0 7.5,0a3.7,4.0 0 1,0 -7.5,0M437.7,751.1a3.0,3.2 0 1,0 6.0,0a3.0,3.2 0 1,0 -6.0,0M438.4,751.1a2.2,2.4 0 1,0 4.5,0a2.2,2.4 0 1,0 -4.5,0M439.2,751.1a1.5,1.6 0 1,0 3.0,0a1.5,1.6 0 1,0 -3.0,0M459.7,726.5a3.7,4.5 0 1,0 7.5,0a3.7,4.5 0 1,0 -7.5,0M460.4,726.5a3.0,3.6 0 1,0 6.0,0a3.0,3.6 0 1,0 -6.0,0M461.2,726.5a2.2,2.7 0 1,0 4.5,0a2.2,2.7 0 1,0 -4.5,0M461.9,726.5a1.5,1.8 0 1,0 3.0,0a1.5,1.8 0 1,0 -3.0,0M477.7,750.5a4.1,3.7 0 1,0 8.2,0a4.1,3.7 0 1,0 -8.2,0M478.6,750.5a3.3,3.0 0 1,0 6.6,0a3.3,3.0 0 1,0 -6.6,0M479.4,750.5a2.5,2.2 0 1,0 4.9,0a2.5,2.2 0 1,0 -4.9,0M480.2,750.5a1.6,1.5 0 1,0 3.3,0a1.6,1.5 0 1,0 -3.3,0M440.0,741.7a3.5,3.9 0 1,0 7.0,0a3.5,3.9 0 1,0 -7.0,0M440.7,741.7a2.8,3.2 0 1,0 5.6,0a2.8,3.2 0 1,0 -5.6,0M441.4,741.7a2.1,2.4 0 1,0 4.2,0a2.1,2.4 0 1,0 -4.2,0M442.0,741.7a1.4,1.6 0 1,0 2.8,0a1.4,1.6 0 1,0 -2.8,0M457.1,750.1a3.2,4.2 0 1,0 6.4,0a3.2,4.2 0 1,0 -6.4,0M457.7,750.1a2.5,3.4 0 1,0 5.1,0a2.5,3.4 0 1,0 -5.1,0M458.4,750.1a1.9,2.5 0 1,0 3.8,0a1.9,2.5 0 1,0 -3.8,0M459.0,750.1a1.3,1.7 0 1,0 2.5,0a1.3,1.7 0 1,0 -2.5,0M460.7,723.7a3.2,5.9 0 1,0 6.3,0a3.2,5.9 0 1,0 -6.3,0M461.3,723.7a2.5,4.7 0 1,0 5.1,0a2.5,4.7 0 1,0 -5.1,0M461.9,723.7a1.9,3.5 0 1,0 3.8,0a1.9,3.5 0 1,0 -3.8,0M462.6,723.7a1.3,2.4 0 1,0 2.5,0a1.3,2.4 0 1,0 -2.5,0M424.5,751.9a2.8,4.6 0 1,0 5.6,0a2.8,4.6 0 1,0 -5.6,0M425.0,751.9a2.2,3.7 0 1,0 4.5,0a2.2,3.7 0 1,0 -4.5,0M425.6,751.9a1.7,2.8 0 1,0 3.4,0a1.7,2.8 0 1,0 -3.4,0M426.1,751.9a1.1,1.8 0 1,0 2.2,0a1.1,1.8 0 1,0 -2.2,0M482.3,748.1a3.2,5.9 0 1,0 6.5,0a3.2,5.9 0 1,0 -6.5,0M482.9,748.1a2.6,4.7 0 1,0 5.2,0a2.6,4.7 0 1,0 -5.2,0M483.6,748.1a1.9,3.5 0 1,0 3.9,0a1.9,3.5 0 1,0 -3.9,0M484.2,748.1a1.3,2.4 0 1,0 2.6,0a1.3,2.4 0 1,0 -2.6,0M471.6,748.2a5.0,5.6 0 1,0 10.1,0a5.0,5.6 0 1,0 -10.1,0M472.6,748.2a4.0,4.5 0 1,0 8.0,0a4.0,4.5 0 1,0 -8.0,0M473.6,748.2a3.0,3.4 0 1,0 6.0,0a3.0,3.4 0 1,0 -6.0,0M474.6,748.2a2.0,2.2 0 1,0 4.0,0a2.0,2.2 0 1,0 -4.0,0M383.0,789.2a4.1,5.5 0 1,0 8.2,0a4.1,5.5 0 1,0 -8.2,0M383.8,789.2a3.3,4.4 0 1,0 6.5,0a3.3,4.4 0 1,0 -6.5,0M384.6,789.2a2.4,3.3 0 1,0 4.9,0a2.4,3.3 0 1,0 -4.9,0M385.4,789.2a1.6,2.2 0 1,0 3.3,0a1.6,2.2 0 1,0 -3.3,0M357.2,791.3a4.1,5.4 0 1,0 8.3,0a4.1,5.4 0 1,0 -8.3,0M358.1,791.3a3.3,4.3 0 1,0 6.6,0a3.3,4.3 0 1,0 -6.6,0M358.9,791.3a2.5,3.2 0 1,0 5.0,0a2.5,3.2 0 1,0 -5.0,0M359.7,791.3a1.7,2.2 0 1,0 3.3,0a1.7,2.2 0 1,0 -3.3,0M352.9,792.9a3.0,6.7 0 1,0 5.9,0a3.0,6.7 0 1,0 -5.9,0M353.5,792.9a2.4,5.4 0 1,0 4.7,0a2.4,5.4 0 1,0 -4.7,0M354.1,792.9a1.8,4.0 0 1,0 3.6,0a1.8,4.0 0 1,0 -3.6,0M354.7,792.9a1.2,2.7 0 1,0 2.4,0a1.2,2.7 0 1,0 -2.4,0M381.7,800.0a4.3,3.5 0 1,0 8.6,0a4.3,3.5 0 1,0 -8.6,0M382.6,800.0a3.4,2.8 0 1,0 6.9,0a3.4,2.8 0 1,0 -6.9,0M383.4,800.0a2.6,2.1 0 1,0 5.2,0a2.6,2.1 0 1,0 -5.2,0M384.3,800.0a1.7,1.4 0 1,0 3.4,0a1.7,1.4 0 1,0 -3.4,0M379.8,774.8a4.2,6.6 0 1,0 8.4,0a4.2,6.6 0 1,0 -8.4,0M380.7,774.8a3.3,5.3 0 1,0 6.7,0a3.3,5.3 0 1,0 -6.7,0M381.5,774.8a2.5,4.0 0 1,0 5.0,0a2.5,4.0 0 1,0 -5.0,0M382.3,774.8a1.7,2.6 0 1,0 3.3,0a1.7,2.6 0 1,0 -3.3,0M338.2,782.5a3.6,4.4 0 1,0 7.1,0a3.6,4.4 0 1,0 -7.1,0M338.9,782.5a2.9,3.6 0 1,0 5.7,0a2.9,3.6 0 1,0 -5.7,0M339.6,782.5a2.1,2.7 0 1,0 4.3,0a2.1,2.7 0 1,0 -4.3,0M340.3,782.5a1.4,1.8 0 1,0 2.9,0a1.4,1.8 0 1,0 -2.9,0M374.3,773.5a3.0,6.2 0 1,0 6.0,0a3.0,6.2 0 1,0 -6.0,0M374.9,773.5a2.4,5.0 0 1,0 4.8,0a2.4,5.0 0 1,0 -4.8,0M375.5,773.5a1.8,3.7 0 1,0 3.6,0a1.8,3.7 0 1,0 -3.6,0M376.0,773.5a1.2,2.5 0 1,0 2.4,0a1.2,2.5 0 1,0 -2.4,0M353.7,810.2a4.5,6.2 0 1,0 8.9,0a4.5,6.2 0 1,0 -8.9,0M354.6,810.2a3.6,5.0 0 1,0 7.2,0a3.6,5.0 0 1,0 -7.2,0M355.5,810.2a2.7,3.7 0 1,0 5.4,0a2.7,3.7 0 1,0 -5.4,0M356.4,810.2a1.8,2.5 0 1,0 3.6,0a1.8,2.5 0 1,0 -3.6,0M342.2,778.4a4.1,5.5 0 1,0 8.3,0a4.1,5.5 0 1,0 -8.3,0M343.0,778.4a3.3,4.4 0 1,0 6.6,0a3.3,4.4 0 1,0 -6.6,0M343.8,778.4a2.5,3.3 0 1,0 5.0,0a2.5,3.3 0 1,0 -5.0,0M344.6,778.4a1.7,2.2 0 1,0 3.3,0a1.7,2.2 0 1,0 -3.3,0M339.8,774.6a2.8,3.6 0 1,0 5.7,0a2.8,3.6 0 1,0 -5.7,0M340.3,774.6a2.3,2.9 0 1,0 4.5,0a2.3,2.9 0 1,0 -4.5,0M340.9,774.6a1.7,2.2 0 1,0 3.4,0a1.7,2.2 0 1,0 -3.4,0M341.5,774.6a1.1,1.4 0 1,0 2.3,0a1.1,1.4 0 1,0 -2.3,0M358.6,790.0a4.7,6.7 0 1,0 9.4,0a4.7,6.7 0 1,0 -9.4,0M359.5,790.0a3.8,5.4 0 1,0 7.5,0a3.8,5.4 0 1,0 -7.5,0M360.5,790.0a2.8,4.0 0 1,0 5.6,0a2.8,4.0 0 1,0 -5.6,0M361.4,790.0a1.9,2.7 0 1,0 3.8,0a1.9,2.7 0 1,0 -3.8,0M382.4,772.5a3.2,6.2 0 1,0 6.4,0a3.2,6.2 0 1,0 -6.4,0M383.1,772.5a2.6,5.0 0 1,0 5.1,0a2.6,5.0 0 1,0 -5.1,0M383.7,772.5a1.9,3.7 0 1,0 3.9,0a1.9,3.7 0 1,0 -3.9,0M384.3,772.5a1.3,2.5 0 1,0 2.6,0a1.3,2.5 0 1,0 -2.6,0M340.7,787.1a4.0,5.0 0 1,0 8.1,0a4.0,5.0 0 1,0 -8.1,0M341.5,787.1a3.2,4.0 0 1,0 6.5,0a3.2,4.0 0 1,0 -6.5,0M342.3,787.1a2.4,3.0 0 1,0 4.8,0a2.4,3.0 0 1,0 -4.8,0M343.1,787.1a1.6,2.0 0 1,0 3.2,0a1.6,2.0 0 1,0 -3.2,0M391.0,759.1a4.4,4.9 0 1,0 8.9,0a4.4,4.9 0 1,0 -8.9,0M391.9,759.1a3.5,3.9 0 1,0 7.1,0a3.5,3.9 0 1,0 -7.1,0M392.8,759.1a2.7,2.9 0 1,0 5.3,0a2.7,2.9 0 1,0 -5.3,0M393.7,759.1a1.8,1.9 0 1,0 3.5,0a1.8,1.9 0 1,0 -3.5,0M367.0,810.7a3.2,3.5 0 1,0 6.4,0a3.2,3.5 0 1,0 -6.4,0M367.7,810.7a2.6,2.8 0 1,0 5.1,0a2.6,2.8 0 1,0 -5.1,0M368.3,810.7a1.9,2.1 0 1,0 3.9,0a1.9,2.1 0 1,0 -3.9,0M368.9,810.7a1.3,1.4 0 1,0 2.6,0a1.3,1.4 0 1,0 -2.6,0M349.1,776.9a4.3,7.0 0 1,0 8.6,0a4.3,7.0 0 1,0 -8.6,0M349.9,776.9a3.4,5.6 0 1,0 6.9,0a3.4,5.6 0 1,0 -6.9,0M350.8,776.9a2.6,4.2 0 1,0 5.1,0a2.6,4.2 0 1,0 -5.1,0M351.6,776.9a1.7,2.8 0 1,0 3.4,0a1.7,2.8 0 1,0 -3.4,0M370.9,778.9a4.0,5.0 0 1,0 8.0,0a4.0,5.0 0 1,0 -8.0,0M371.7,778.9a3.2,4.0 0 1,0 6.4,0a3.2,4.0 0 1,0 -6.4,0M372.5,778.9a2.4,3.0 0 1,0 4.8,0a2.4,3.0 0 1,0 -4.8,0M373.3,778.9a1.6,2.0 0 1,0 3.2,0a1.6,2.0 0 1,0 -3.2,0M356.0,761.1a4.2,6.5 0 1,0 8.4,0a4.2,6.5 0 1,0 -8.4,0M356.9,761.1a3.4,5.2 0 1,0 6.7,0a3.4,5.2 0 1,0 -6.7,0M357.7,761.1a2.5,3.9 0 1,0 5.0,0a2.5,3.9 0 1,0 -5.0,0M358.6,761.1a1.7,2.6 0 1,0 3.4,0a1.7,2.6 0 1,0 -3.4,0M346.3,763.8a4.9,5.4 0 1,0 9.8,0a4.9,5.4 0 1,0 -9.8,0M347.3,763.8a3.9,4.3 0 1,0 7.8,0a3.9,4.3 0 1,0 -7.8,0M348.3,763.8a2.9,3.2 0 1,0 5.9,0a2.9,3.2 0 1,0 -5.9,0M349.3,763.8a2.0,2.2 0 1,0 3.9,0a2.0,2.2 0 1,0 -3.9,0M388.1,775.0a4.5,5.6 0 1,0 9.1,0a4.5,5.6 0 1,0 -9.1,0M389.1,775.0a3.6,4.5 0 1,0 7.3,0a3.6,4.5 0 1,0 -7.3,0M390.0,775.0a2.7,3.3 0 1,0 5.5,0a2.7,3.3 0 1,0 -5.5,0M390.9,775.0a1.8,2.2 0 1,0 3.6,0a1.8,2.2 0 1,0 -3.6,0M364.0,769.4a4.9,5.6 0 1,0 9.9,0a4.9,5.6 0 1,0 -9.9,0M365.0,769.4a3.9,4.5 0 1,0 7.9,0a3.9,4.5 0 1,0 -7.9,0M366.0,769.4a3.0,3.3 0 1,0 5.9,0a3.0,3.3 0 1,0 -5.9,0M367.0,769.4a2.0,2.2 0 1,0 3.9,0a2.0,2.2 0 1,0 -3.9,0M387.7,767.3a2.5,3.9 0 1,0 5.0,0a2.5,3.9 0 1,0 -5.0,0M388.2,767.3a2.0,3.1 0 1,0 4.0,0a2.0,3.1 0 1,0 -4.0,0M388.7,767.3a1.5,2.4 0 1,0 3.0,0a1.5,2.4 0 1,0 -3.0,0M389.2,767.3a1.0,1.6 0 1,0 2.0,0a1.0,1.6 0 1,0 -2.0,0M348.0,790.3a4.5,6.7 0 1,0 9.0,0a4.5,6.7 0 1,0 -9.0,0M348.9,790.3a3.6,5.4 0 1,0 7.2,0a3.6,5.4 0 1,0 -7.2,0M349.8,790.3a2.7,4.0 0 1,0 5.4,0a2.7,4.0 0 1,0 -5.4,0M350.7,790.3a1.8,2.7 0 1,0 3.6,0a1.8,2.7 0 1,0 -3.6,0M393.9,784.3a5.3,6.7 0 1,0 10.5,0a5.3,6.7 0 1,0 -10.5,0M394.9,784.3a4.2,5.3 0 1,0 8.4,0a4.2,5.3 0 1,0 -8.4,0M396.0,784.3a3.2,4.0 0 1,0 6.3,0a3.2,4.0 0 1,0 -6.3,0M397.0,784.3a2.1,2.7 0 1,0 4.2,0a2.1,2.7 0 1,0 -4.2,0M367.1,811.4a5.0,4.9 0 1,0 10.0,0a5.0,4.9 0 1,0 -10.0,0M368.1,811.4a4.0,3.9 0 1,0 8.0,0a4.0,3.9 0 1,0 -8.0,0M369.1,811.4a3.0,2.9 0 1,0 6.0,0a3.0,2.9 0 1,0 -6.0,0M370.1,811.4a2.0,2.0 0 1,0 4.0,0a2.0,2.0 0 1,0 -4.0,0M397.1,790.8a3.7,6.7 0 1,0 7.4,0a3.7,6.7 0 1,0 -7.4,0M397.8,790.8a2.9,5.3 0 1,0 5.9,0a2.9,5.3 0 1,0 -5.9,0M398.5,790.8a2.2,4.0 0 1,0 4.4,0a2.2,4.0 0 1,0 -4.4,0M399.3,790.8a1.5,2.7 0 1,0 2.9,0a1.5,2.7 0 1,0 -2.9,0M362.4,787.3a3.5,4.0 0 1,0 6.9,0a3.5,4.0 0 1,0 -6.9,0M363.1,787.3a2.8,3.2 0 1,0 5.5,0a2.8,3.2 0 1,0 -5.5,0M363.8,787.3a2.1,2.4 0 1,0 4.1,0a2.1,2.4 0 1,0 -4.1,0M364.5,787.3a1.4,1.6 0 1,0 2.8,0a1.4,1.6 0 1,0 -2.8,0M373.0,752.9a5.2,4.7 0 1,0 10.4,0a5.2,4.7 0 1,0 -10.4,0M374.0,752.9a4.2,3.7 0 1,0 8.3,0a4.2,3.7 0 1,0 -8.3,0M375.1,752.9a3.1,2.8 0 1,0 6.2,0a3.1,2.8 0 1,0 -6.2,0M376.1,752.9a2.1,1.9 0 1,0 4.2,0a2.1,1.9 0 1,0 -4.2,0M340.4,771.5a3.1,6.6 0 1,0 6.3,0a3.1,6.6 0 1,0 -6.3,0M341.0,771.5a2.5,5.3 0 1,0 5.0,0a2.5,5.3 0 1,0 -5.0,0M341.6,771.5a1.9,4.0 0 1,0 3.8,0a1.9,4.0 0 1,0 -3.8,0M342.2,771.5a1.3,2.7 0 1,0 2.5,0a1.3,2.7 0 1,0 -2.5,0M350.4,795.6a3.3,4.2 0 1,0 6.6,0a3.3,4.2 0 1,0 -6.6,0M351.1,795.6a2.6,3.4 0 1,0 5.3,0a2.6,3.4 0 1,0 -5.3,0M351.8,795.6a2.0,2.5 0 1,0 3.9,0a2.0,2.5 0 1,0 -3.9,0M352.4,795.6a1.3,1.7 0 1,0 2.6,0a1.3,1.7 0 1,0 -2.6,0M351.3,797.0a5.2,3.6 0 1,0 10.3,0a5.2,3.6 0 1,0 -10.3,0M352.4,797.0a4.1,2.9 0 1,0 8.3,0a4.1,2.9 0 1,0 -8.3,0M353.4,797.0a3.1,2.2 0 1,0 6.2,0a3.1,2.2 0 1,0 -6.2,0M354.4,797.0a2.1,1.5 0 1,0 4.1,0a2.1,1.5 0 1,0 -4.1,0M377.2,791.9a5.4,5.0 0 1,0 10.7,0a5.4,5.0 0 1,0 -10.7,0M378.3,791.9a4.3,4.0 0 1,0 8.6,0a4.3,4.0 0 1,0 -8.6,0M379.3,791.9a3.2,3.0 0 1,0 6.4,0a3.2,3.0 0 1,0 -6.4,0M380.4,791.9a2.1,2.0 0 1,0 4.3,0a2.1,2.0 0 1,0 -4.3,0M331.6,777.2a4.6,6.3 0 1,0 9.2,0a4.6,6.3 0 1,0 -9.2,0M332.5,777.2a3.7,5.1 0 1,0 7.4,0a3.7,5.1 0 1,0 -7.4,0M333.5,777.2a2.8,3.8 0 1,0 5.5,0a2.8,3.8 0 1,0 -5.5,0M334.4,777.2a1.8,2.5 0 1,0 3.7,0a1.8,2.5 0 1,0 -3.7,0M373.3,785.0a4.0,5.2 0 1,0 8.0,0a4.0,5.2 0 1,0 -8.0,0M374.1,785.0a3.2,4.1 0 1,0 6.4,0a3.2,4.1 0 1,0 -6.4,0M374.9,785.0a2.4,3.1 0 1,0 4.8,0a2.4,3.1 0 1,0 -4.8,0M375.7,785.0a1.6,2.1 0 1,0 3.2,0a1.6,2.1 0 1,0 -3.2,0M398.1,779.0a3.9,6.4 0 1,0 7.8,0a3.9,6.4 0 1,0 -7.8,0M398.9,779.0a3.1,5.1 0 1,0 6.3,0a3.1,5.1 0 1,0 -6.3,0M399.7,779.0a2.3,3.8 0 1,0 4.7,0a2.3,3.8 0 1,0 -4.7,0M400.4,779.0a1.6,2.6 0 1,0 3.1,0a1.6,2.6 0 1,0 -3.1,0M373.0,800.3a4.3,4.4 0 1,0 8.6,0a4.3,4.4 0 1,0 -8.6,0M373.9,800.3a3.5,3.5 0 1,0 6.9,0a3.5,3.5 0 1,0 -6.9,0M374.7,800.3a2.6,2.6 0 1,0 5.2,0a2.6,2.6 0 1,0 -5.2,0M375.6,800.3a1.7,1.8 0 1,0 3.5,0a1.7,1.8 0 1,0 -3.5,0M344.9,778.6a4.6,6.7 0 1,0 9.2,0a4.6,6.7 0 1,0 -9.2,0M345.8,778.6a3.7,5.4 0 1,0 7.4,0a3.7,5.4 0 1,0 -7.4,0M346.7,778.6a2.8,4.0 0 1,0 5.5,0a2.8,4.0 0 1,0 -5.5,0M347.7,778.6a1.8,2.7 0 1,0 3.7,0a1.8,2.7 0 1,0 -3.7,0M335.4,793.4a5.4,5.6 0 1,0 10.8,0a5.4,5.6 0 1,0 -10.8,0M336.5,793.4a4.3,4.5 0 1,0 8.6,0a4.3,4.5 0 1,0 -8.6,0M337.6,793.4a3.2,3.4 0 1,0 6.5,0a3.2,3.4 0 1,0 -6.5,0M338.6,793.4a2.2,2.3 0 1,0 4.3,0a2.2,2.3 0 1,0 -4.3,0M376.7,789.1a4.4,4.4 0 1,0 8.8,0a4.4,4.4 0 1,0 -8.8,0M377.5,789.1a3.5,3.5 0 1,0 7.0,0a3.5,3.5 0 1,0 -7.0,0M378.4,789.1a2.6,2.6 0 1,0 5.3,0a2.6,2.6 0 1,0 -5.3,0M379.3,789.1a1.8,1.7 0 1,0 3.5,0a1.8,1.7 0 1,0 -3.5,0M385.2,770.4a4.0,5.9 0 1,0 8.0,0a4.0,5.9 0 1,0 -8.0,0M386.0,770.4a3.2,4.7 0 1,0 6.4,0a3.2,4.7 0 1,0 -6.4,0M386.8,770.4a2.4,3.5 0 1,0 4.8,0a2.4,3.5 0 1,0 -4.8,0M387.6,770.4a1.6,2.3 0 1,0 3.2,0a1.6,2.3 0 1,0 -3.2,0M333.3,781.5a4.0,6.5 0 1,0 8.0,0a4.0,6.5 0 1,0 -8.0,0M334.1,781.5a3.2,5.2 0 1,0 6.4,0a3.2,5.2 0 1,0 -6.4,0M334.9,781.5a2.4,3.9 0 1,0 4.8,0a2.4,3.9 0 1,0 -4.8,0M335.7,781.5a1.6,2.6 0 1,0 3.2,0a1.6,2.6 0 1,0 -3.2,0M350.3,767.1a3.8,4.4 0 1,0 7.5,0a3.8,4.4 0 1,0 -7.5,0M351.0,767.1a3.0,3.5 0 1,0 6.0,0a3.0,3.5 0 1,0 -6.0,0M351.8,767.1a2.3,2.6 0 1,0 4.5,0a2.3,2.6 0 1,0 -4.5,0M352.5,767.1a1.5,1.7 0 1,0 3.0,0a1.5,1.7 0 1,0 -3.0,0M399.1,791.6a4.3,6.5 0 1,0 8.7,0a4.3,6.5 0 1,0 -8.7,0M400.0,791.6a3.5,5.2 0 1,0 7.0,0a3.5,5.2 0 1,0 -7.0,0M400.8,791.6a2.6,3.9 0 1,0 5.2,0a2.6,3.9 0 1,0 -5.2,0M401.7,791.6a1.7,2.6 0 1,0 3.5,0a1.7,2.6 0 1,0 -3.5,0M403.7,788.3a2.8,3.8 0 1,0 5.7,0a2.8,3.8 0 1,0 -5.7,0M404.2,788.3a2.3,3.0 0 1,0 4.5,0a2.3,3.0 0 1,0 -4.5,0M404.8,788.3a1.7,2.3 0 1,0 3.4,0a1.7,2.3 0 1,0 -3.4,0M405.4,788.3a1.1,1.5 0 1,0 2.3,0a1.1,1.5 0 1,0 -2.3,0M369.4,807.2a5.3,6.1 0 1,0 10.6,0a5.3,6.1 0 1,0 -10.6,0M370.5,807.2a4.2,4.9 0 1,0 8.5,0a4.2,4.9 0 1,0 -8.5,0M371.5,807.2a3.2,3.7 0 1,0 6.4,0a3.2,3.7 0 1,0 -6.4,0M372.6,807.2a2.1,2.5 0 1,0 4.2,0a2.1,2.5 0 1,0 -4.2,0M377.0,766.1a4.4,4.1 0 1,0 8.9,0a4.4,4.1 0 1,0 -8.9,0M377.9,766.1a3.5,3.3 0 1,0 7.1,0a3.5,3.3 0 1,0 -7.1,0M378.8,766.1a2.7,2.5 0 1,0 5.3,0a2.7,2.5 0 1,0 -5.3,0M379.6,766.1a1.8,1.6 0 1,0 3.5,0a1.8,1.6 0 1,0 -3.5,0M360.8,785.0a5.2,6.7 0 1,0 10.3,0a5.2,6.7 0 1,0 -10.3,0M361.9,785.0a4.1,5.4 0 1,0 8.3,0a4.1,5.4 0 1,0 -8.3,0M362.9,785.0a3.1,4.0 0 1,0 6.2,0a3.1,4.0 0 1,0 -6.2,0M363.9,785.0a2.1,2.7 0 1,0 4.1,0a2.1,2.7 0 1,0 -4.1,0M370.2,811.1a4.7,4.2 0 1,0 9.4,0a4.7,4.2 0 1,0 -9.4,0M371.2,811.1a3.7,3.3 0 1,0 7.5,0a3.7,3.3 0 1,0 -7.5,0M372.1,811.1a2.8,2.5 0 1,0 5.6,0a2.8,2.5 0 1,0 -5.6,0M373.0,811.1a1.9,1.7 0 1,0 3.7,0a1.9,1.7 0 1,0 -3.7,0M391.2,789.6a4.5,4.7 0 1,0 9.0,0a4.5,4.7 0 1,0 -9.0,0M392.1,789.6a3.6,3.8 0 1,0 7.2,0a3.6,3.8 0 1,0 -7.2,0M393.0,789.6a2.7,2.8 0 1,0 5.4,0a2.7,2.8 0 1,0 -5.4,0M393.9,789.6a1.8,1.9 0 1,0 3.6,0a1.8,1.9 0 1,0 -3.6,0M358.1,805.4a2.9,4.3 0 1,0 5.8,0a2.9,4.3 0 1,0 -5.8,0M358.6,805.4a2.3,3.4 0 1,0 4.7,0a2.3,3.4 0 1,0 -4.7,0M359.2,805.4a1.8,2.6 0 1,0 3.5,0a1.8,2.6 0 1,0 -3.5,0M359.8,805.4a1.2,1.7 0 1,0 2.3,0a1.2,1.7 0 1,0 -2.3,0M344.3,797.8a2.9,4.2 0 1,0 5.8,0a2.9,4.2 0 1,0 -5.8,0M344.9,797.8a2.3,3.4 0 1,0 4.6,0a2.3,3.4 0 1,0 -4.6,0M345.5,797.8a1.7,2.5 0 1,0 3.5,0a1.7,2.5 0 1,0 -3.5,0M346.1,797.8a1.2,1.7 0 1,0 2.3,0a1.2,1.7 0 1,0 -2.3,0M384.2,804.0a2.8,5.8 0 1,0 5.5,0a2.8,5.8 0 1,0 -5.5,0M384.7,804.0a2.2,4.6 0 1,0 4.4,0a2.2,4.6 0 1,0 -4.4,0M385.3,804.0a1.7,3.5 0 1,0 3.3,0a1.7,3.5 0 1,0 -3.3,0M385.8,804.0a1.1,2.3 0 1,0 2.2,0a1.1,2.3 0 1,0 -2.2,0M353.9,780.8a2.6,3.7 0 1,0 5.2,0a2.6,3.7 0 1,0 -5.2,0M354.5,780.8a2.1,2.9 0 1,0 4.2,0a2.1,2.9 0 1,0 -4.2,0M355.0,780.8a1.6,2.2 0 1,0 3.1,0a1.6,2.2 0 1,0 -3.1,0M355.5,780.8a1.0,1.5 0 1,0 2.1,0a1.0,1.5 0 1,0 -2.1,0M386.8,786.0a5.5,5.6 0 1,0 11.0,0a5.5,5.6 0 1,0 -11.0,0M387.9,786.0a4.4,4.5 0 1,0 8.8,0a4.4,4.5 0 1,0 -8.8,0M389.0,786.0a3.3,3.4 0 1,0 6.6,0a3.3,3.4 0 1,0 -6.6,0M390.1,786.0a2.2,2.2 0 1,0 4.4,0a2.2,2.2 0 1,0 -4.4,0M367.7,776.9a2.7,3.7 0 1,0 5.4,0a2.7,3.7 0 1,0 -5.4,0M368.2,776.9a2.2,3.0 0 1,0 4.3,0a2.2,3.0 0 1,0 -4.3,0M368.8,776.9a1.6,2.2 0 1,0 3.3,0a1.6,2.2 0 1,0 -3.3,0M369.3,776.9a1.1,1.5 0 1,0 2.2,0a1.1,1.5 0 1,0 -2.2,0M352.5,770.8a5.0,4.4 0 1,0 10.0,0a5.0,4.4 0 1,0 -10.0,0M353.5,770.8a4.0,3.5 0 1,0 8.0,0a4.0,3.5 0 1,0 -8.0,0M354.5,770.8a3.0,2.6 0 1,0 6.0,0a3.0,2.6 0 1,0 -6.0,0M355.5,770.8a2.0,1.8 0 1,0 4.0,0a2.0,1.8 0 1,0 -4.0,0M328.8,777.9a5.3,4.3 0 1,0 10.6,0a5.3,4.3 0 1,0 -10.6,0M329.9,777.9a4.2,3.4 0 1,0 8.5,0a4.2,3.4 0 1,0 -8.5,0M330.9,777.9a3.2,2.6 0 1,0 6.3,0a3.2,2.6 0 1,0 -6.3,0M332.0,777.9a2.1,1.7 0 1,0 4.2,0a2.1,1.7 0 1,0 -4.2,0M383.2,771.4a3.6,4.9 0 1,0 7.1,0a3.6,4.9 0 1,0 -7.1,0M383.9,771.4a2.8,3.9 0 1,0 5.7,0a2.8,3.9 0 1,0 -5.7,0M384.6,771.4a2.1,2.9 0 1,0 4.3,0a2.1,2.9 0 1,0 -4.3,0M385.3,771.4a1.4,2.0 0 1,0 2.8,0a1.4,2.0 0 1,0 -2.8,0M386.6,766.9a4.7,3.6 0 1,0 9.4,0a4.7,3.6 0 1,0 -9.4,0M387.6,766.9a3.8,2.9 0 1,0 7.6,0a3.8,2.9 0 1,0 -7.6,0M388.5,766.9a2.8,2.2 0 1,0 5.7,0a2.8,2.2 0 1,0 -5.7,0M389.5,766.9a1.9,1.5 0 1,0 3.8,0a1.9,1.5 0 1,0 -3.8,0M383.9,807.0a4.9,5.5 0 1,0 9.8,0a4.9,5.5 0 1,0 -9.8,0M384.9,807.0a3.9,4.4 0 1,0 7.8,0a3.9,4.4 0 1,0 -7.8,0M385.8,807.0a2.9,3.3 0 1,0 5.9,0a2.9,3.3 0 1,0 -5.9,0M386.8,807.0a2.0,2.2 0 1,0 3.9,0a2.0,2.2 0 1,0 -3.9,0M341.2,787.3a2.7,6.0 0 1,0 5.3,0a2.7,6.0 0 1,0 -5.3,0M341.8,787.3a2.1,4.8 0 1,0 4.2,0a2.1,4.8 0 1,0 -4.2,0M342.3,787.3a1.6,3.6 0 1,0 3.2,0a1.6,3.6 0 1,0 -3.2,0M342.8,787.3a1.1,2.4 0 1,0 2.1,0a1.1,2.4 0 1,0 -2.1,0M384.4,791.7a3.4,3.8 0 1,0 6.8,0a3.4,3.8 0 1,0 -6.8,0M385.0,791.7a2.7,3.0 0 1,0 5.5,0a2.7,3.0 0 1,0 -5.5,0M385.7,791.7a2.0,2.3 0 1,0 4.1,0a2.0,2.3 0 1,0 -4.1,0M386.4,791.7a1.4,1.5 0 1,0 2.7,0a1.4,1.5 0 1,0 -2.7,0M338.6,778.5a5.0,6.8 0 1,0 10.0,0a5.0,6.8 0 1,0 -10.0,0M339.6,778.5a4.0,5.5 0 1,0 8.0,0a4.0,5.5 0 1,0 -8.0,0M340.6,778.5a3.0,4.1 0 1,0 6.0,0a3.0,4.1 0 1,0 -6.0,0M341.6,778.5a2.0,2.7 0 1,0 4.0,0a2.0,2.7 0 1,0 -4.0,0M403.2,789.0a3.4,5.4 0 1,0 6.8,0a3.4,5.4 0 1,0 -6.8,0M403.8,789.0a2.7,4.4 0 1,0 5.5,0a2.7,4.4 0 1,0 -5.5,0M404.5,789.0a2.1,3.3 0 1,0 4.1,0a2.1,3.3 0 1,0 -4.1,0M405.2,789.0a1.4,2.2 0 1,0 2.7,0a1.4,2.2 0 1,0 -2.7,0M405.4,787.5a4.9,4.5 0 1,0 9.7,0a4.9,4.5 0 1,0 -9.7,0M406.3,787.5a3.9,3.6 0 1,0 7.8,0a3.9,3.6 0 1,0 -7.8,0M407.3,787.5a2.9,2.7 0 1,0 5.8,0a2.9,2.7 0 1,0 -5.8,0M408.3,787.5a1.9,1.8 0 1,0 3.9,0a1.9,1.8 0 1,0 -3.9,0M380.6,796.1a4.4,5.0 0 1,0 8.7,0a4.4,5.0 0 1,0 -8.7,0M381.5,796.1a3.5,4.0 0 1,0 7.0,0a3.5,4.0 0 1,0 -7.0,0M382.4,796.1a2.6,3.0 0 1,0 5.2,0a2.6,3.0 0 1,0 -5.2,0M383.3,796.1a1.7,2.0 0 1,0 3.5,0a1.7,2.0 0 1,0 -3.5,0M473.1,784.5a5.2,3.9 0 1,0 10.3,0a5.2,3.9 0 1,0 -10.3,0M474.1,784.5a4.1,3.1 0 1,0 8.3,0a4.1,3.1 0 1,0 -8.3,0M475.2,784.5a3.1,2.3 0 1,0 6.2,0a3.1,2.3 0 1,0 -6.2,0M476.2,784.5a2.1,1.5 0 1,0 4.1,0a2.1,1.5 0 1,0 -4.1,0M421.0,787.1a3.8,6.6 0 1,0 7.6,0a3.8,6.6 0 1,0 -7.6,0M421.8,787.1a3.0,5.3 0 1,0 6.1,0a3.0,5.3 0 1,0 -6.1,0M422.5,787.1a2.3,4.0 0 1,0 4.5,0a2.3,4.0 0 1,0 -4.5,0M423.3,787.1a1.5,2.6 0 1,0 3.0,0a1.5,2.6 0 1,0 -3.0,0M418.2,776.8a5.4,5.6 0 1,0 10.8,0a5.4,5.6 0 1,0 -10.8,0M419.3,776.8a4.3,4.5 0 1,0 8.7,0a4.3,4.5 0 1,0 -8.7,0M420.4,776.8a3.2,3.4 0 1,0 6.5,0a3.2,3.4 0 1,0 -6.5,0M421.5,776.8a2.2,2.3 0 1,0 4.3,0a2.2,2.3 0 1,0 -4.3,0M437.9,781.4a3.3,3.5 0 1,0 6.7,0a3.3,3.5 0 1,0 -6.7,0M438.5,781.4a2.7,2.8 0 1,0 5.3,0a2.7,2.8 0 1,0 -5.3,0M439.2,781.4a2.0,2.1 0 1,0 4.0,0a2.0,2.1 0 1,0 -4.0,0M439.9,781.4a1.3,1.4 0 1,0 2.7,0a1.3,1.4 0 1,0 -2.7,0M433.4,792.6a3.0,5.2 0 1,0 6.0,0a3.0,5.2 0 1,0 -6.0,0M434.0,792.6a2.4,4.2 0 1,0 4.8,0a2.4,4.2 0 1,0 -4.8,0M434.6,792.6a1.8,3.1 0 1,0 3.6,0a1.8,3.1 0 1,0 -3.6,0M435.2,792.6a1.2,2.1 0 1,0 2.4,0a1.2,2.1 0 1,0 -2.4,0M450.9,789.5a4.7,4.6 0 1,0 9.3,0a4.7,4.6 0 1,0 -9.3,0M451.9,789.5a3.7,3.7 0 1,0 7.5,0a3.7,3.7 0 1,0 -7.5,0M452.8,789.5a2.8,2.8 0 1,0 5.6,0a2.8,2.8 0 1,0 -5.6,0M453.7,789.5a1.9,1.8 0 1,0 3.7,0a1.9,1.8 0 1,0 -3.7,0M445.7,783.2a4.1,4.3 0 1,0 8.2,0a4.1,4.3 0 1,0 -8.2,0M446.5,783.2a3.3,3.4 0 1,0 6.6,0a3.3,3.4 0 1,0 -6.6,0M447.3,783.2a2.5,2.6 0 1,0 4.9,0a2.5,2.6 0 1,0 -4.9,0M448.1,783.2a1.6,1.7 0 1,0 3.3,0a1.6,1.7 0 1,0 -3.3,0M479.1,792.8a3.5,6.8 0 1,0 7.0,0a3.5,6.8 0 1,0 -7.0,0M479.8,792.8a2.8,5.4 0 1,0 5.6,0a2.8,5.4 0 1,0 -5.6,0M480.5,792.8a2.1,4.1 0 1,0 4.2,0a2.1,4.1 0 1,0 -4.2,0M481.2,792.8a1.4,2.7 0 1,0 2.8,0a1.4,2.7 0 1,0 -2.8,0M470.0,795.2a3.4,4.3 0 1,0 6.7,0a3.4,4.3 0 1,0 -6.7,0M470.7,795.2a2.7,3.4 0 1,0 5.4,0a2.7,3.4 0 1,0 -5.4,0M471.3,795.2a2.0,2.6 0 1,0 4.0,0a2.0,2.6 0 1,0 -4.0,0M472.0,795.2a1.3,1.7 0 1,0 2.7,0a1.3,1.7 0 1,0 -2.7,0M454.1,793.3a5.0,4.3 0 1,0 10.0,0a5.0,4.3 0 1,0 -10.0,0M455.1,793.3a4.0,3.4 0 1,0 8.0,0a4.0,3.4 0 1,0 -8.0,0M456.1,793.3a3.0,2.6 0 1,0 6.0,0a3.0,2.6 0 1,0 -6.0,0M457.1,793.3a2.0,1.7 0 1,0 4.0,0a2.0,1.7 0 1,0 -4.0,0M443.1,794.0a2.8,4.9 0 1,0 5.6,0a2.8,4.9 0 1,0 -5.6,0M443.6,794.0a2.2,3.9 0 1,0 4.4,0a2.2,3.9 0 1,0 -4.4,0M444.2,794.0a1.7,3.0 0 1,0 3.3,0a1.7,3.0 0 1,0 -3.3,0M444.7,794.0a1.1,2.0 0 1,0 2.2,0a1.1,2.0 0 1,0 -2.2,0M419.1,784.4a4.1,5.7 0 1,0 8.3,0a4.1,5.7 0 1,0 -8.3,0M420.0,784.4a3.3,4.6 0 1,0 6.6,0a3.3,4.6 0 1,0 -6.6,0M420.8,784.4a2.5,3.4 0 1,0 5.0,0a2.5,3.4 0 1,0 -5.0,0M421.6,784.4a1.7,2.3 0 1,0 3.3,0a1.7,2.3 0 1,0 -3.3,0M436.8,777.5a3.2,5.2 0 1,0 6.4,0a3.2,5.2 0 1,0 -6.4,0M437.4,777.5a2.6,4.2 0 1,0 5.1,0a2.6,4.2 0 1,0 -5.1,0M438.0,777.5a1.9,3.1 0 1,0 3.8,0a1.9,3.1 0 1,0 -3.8,0M438.7,777.5a1.3,2.1 0 1,0 2.6,0a1.3,2.1 0 1,0 -2.6,0M420.2,782.4a2.9,6.6 0 1,0 5.8,0a2.9,6.6 0 1,0 -5.8,0M420.8,782.4a2.3,5.3 0 1,0 4.7,0a2.3,5.3 0 1,0 -4.7,0M421.4,782.4a1.7,4.0 0 1,0 3.5,0a1.7,4.0 0 1,0 -3.5,0M422.0,782.4a1.2,2.7 0 1,0 2.3,0a1.2,2.7 0 1,0 -2.3,0M438.6,775.7a4.7,7.0 0 1,0 9.3,0a4.7,7.0 0 1,0 -9.3,0M439.5,775.7a3.7,5.6 0 1,0 7.4,0a3.7,5.6 0 1,0 -7.4,0M440.4,775.7a2.8,4.2 0 1,0 5.6,0a2.8,4.2 0 1,0 -5.6,0M441.4,775.7a1.9,2.8 0 1,0 3.7,0a1.9,2.8 0 1,0 -3.7,0M460.4,776.7a3.6,4.7 0 1,0 7.2,0a3.6,4.7 0 1,0 -7.2,0M461.1,776.7a2.9,3.8 0 1,0 5.8,0a2.9,3.8 0 1,0 -5.8,0M461.9,776.7a2.2,2.8 0 1,0 4.3,0a2.2,2.8 0 1,0 -4.3,0M462.6,776.7a1.4,1.9 0 1,0 2.9,0a1.4,1.9 0 1,0 -2.9,0M437.6,787.3a3.1,3.7 0 1,0 6.2,0a3.1,3.7 0 1,0 -6.2,0M438.2,787.3a2.5,3.0 0 1,0 5.0,0a2.5,3.0 0 1,0 -5.0,0M438.8,787.3a1.9,2.2 0 1,0 3.7,0a1.9,2.2 0 1,0 -3.7,0M439.5,787.3a1.2,1.5 0 1,0 2.5,0a1.2,1.5 0 1,0 -2.5,0M451.3,774.4a4.9,6.4 0 1,0 9.9,0a4.9,6.4 0 1,0 -9.9,0M452.3,774.4a4.0,5.1 0 1,0 7.9,0a4.0,5.1 0 1,0 -7.9,0M453.3,774.4a3.0,3.8 0 1,0 5.9,0a3.0,3.8 0 1,0 -5.9,0M454.3,774.4a2.0,2.5 0 1,0 4.0,0a2.0,2.5 0 1,0 -4.0,0M443.4,790.9a4.1,5.5 0 1,0 8.1,0a4.1,5.5 0 1,0 -8.1,0M444.2,790.9a3.3,4.4 0 1,0 6.5,0a3.3,4.4 0 1,0 -6.5,0M445.0,790.9a2.4,3.3 0 1,0 4.9,0a2.4,3.3 0 1,0 -4.9,0M445.8,790.9a1.6,2.2 0 1,0 3.3,0a1.6,2.2 0 1,0 -3.3,0M418.2,780.5a3.9,3.6 0 1,0 7.8,0a3.9,3.6 0 1,0 -7.8,0M419.0,780.5a3.1,2.9 0 1,0 6.3,0a3.1,2.9 0 1,0 -6.3,0M419.8,780.5a2.4,2.2 0 1,0 4.7,0a2.4,2.2 0 1,0 -4.7,0M420.6,780.5a1.6,1.4 0 1,0 3.1,0a1.6,1.4 0 1,0 -3.1,0M454.9,775.5a4.1,5.9 0 1,0 8.2,0a4.1,5.9 0 1,0 -8.2,0M455.7,775.5a3.3,4.7 0 1,0 6.6,0a3.3,4.7 0 1,0 -6.6,0M456.5,775.5a2.5,3.5 0 1,0 4.9,0a2.5,3.5 0 1,0 -4.9,0M457.4,775.5a1.6,2.3 0 1,0 3.3,0a1.6,2.3 0 1,0 -3.3,0M449.3,783.7a5.2,5.3 0 1,0 10.5,0a5.2,5.3 0 1,0 -10.5,0M450.3,783.7a4.2,4.3 0 1,0 8.4,0a4.2,4.3 0 1,0 -8.4,0M451.4,783.7a3.1,3.2 0 1,0 6.3,0a3.1,3.2 0 1,0 -6.3,0M452.4,783.7a2.1,2.1 0 1,0 4.2,0a2.1,2.1 0 1,0 -4.2,0M459.0,775.3a4.0,6.7 0 1,0 8.1,0a4.0,6.7 0 1,0 -8.1,0M459.8,775.3a3.2,5.4 0 1,0 6.5,0a3.2,5.4 0 1,0 -6.5,0M460.6,775.3a2.4,4.0 0 1,0 4.8,0a2.4,4.0 0 1,0 -4.8,0M461.4,775.3a1.6,2.7 0 1,0 3.2,0a1.6,2.7 0 1,0 -3.2,0M438.3,774.1a4.3,4.5 0 1,0 8.6,0a4.3,4.5 0 1,0 -8.6,0M439.2,774.1a3.4,3.6 0 1,0 6.9,0a3.4,3.6 0 1,0 -6.9,0M440.0,774.1a2.6,2.7 0 1,0 5.1,0a2.6,2.7 0 1,0 -5.1,0M440.9,774.1a1.7,1.8 0 1,0 3.4,0a1.7,1.8 0 1,0 -3.4,0M446.0,786.9a3.3,4.1 0 1,0 6.6,0a3.3,4.1 0 1,0 -6.6,0M446.6,786.9a2.6,3.3 0 1,0 5.3,0a2.6,3.3 0 1,0 -5.3,0M447.3,786.9a2.0,2.5 0 1,0 4.0,0a2.0,2.5 0 1,0 -4.0,0M447.9,786.9a1.3,1.6 0 1,0 2.6,0a1.3,1.6 0 1,0 -2.6,0M453.6,777.7a4.0,5.8 0 1,0 8.1,0a4.0,5.8 0 1,0 -8.1,0M454.4,777.7a3.2,4.6 0 1,0 6.4,0a3.2,4.6 0 1,0 -6.4,0M455.2,777.7a2.4,3.5 0 1,0 4.8,0a2.4,3.5 0 1,0 -4.8,0M456.0,777.7a1.6,2.3 0 1,0 3.2,0a1.6,2.3 0 1,0 -3.2,0M440.0,790.8a4.3,5.2 0 1,0 8.6,0a4.3,5.2 0 1,0 -8.6,0M440.8,790.8a3.4,4.1 0 1,0 6.9,0a3.4,4.1 0 1,0 -6.9,0M441.7,790.8a2.6,3.1 0 1,0 5.1,0a2.6,3.1 0 1,0 -5.1,0M442.6,790.8a1.7,2.1 0 1,0 3.4,0a1.7,2.1 0 1,0 -3.4,0M471.5,779.7a5.0,6.3 0 1,0 10.0,0a5.0,6.3 0 1,0 -10.0,0M472.5,779.7a4.0,5.0 0 1,0 8.0,0a4.0,5.0 0 1,0 -8.0,0M473.5,779.7a3.0,3.8 0 1,0 6.0,0a3.0,3.8 0 1,0 -6.0,0M474.5,779.7a2.0,2.5 0 1,0 4.0,0a2.0,2.5 0 1,0 -4.0,0M441.5,792.0a5.2,5.4 0 1,0 10.5,0a5.2,5.4 0 1,0 -10.5,0M442.6,792.0a4.2,4.3 0 1,0 8.4,0a4.2,4.3 0 1,0 -8.4,0M443.6,792.0a3.1,3.2 0 1,0 6.3,0a3.1,3.2 0 1,0 -6.3,0M444.7,792.0a2.1,2.2 0 1,0 4.2,0a2.1,2.2 0 1,0 -4.2,0M414.5,785.0a2.5,4.4 0 1,0 5.1,0a2.5,4.4 0 1,0 -5.1,0M415.0,785.0a2.0,3.5 0 1,0 4.1,0a2.0,3.5 0 1,0 -4.1,0M415.5,785.0a1.5,2.7 0 1,0 3.0,0a1.5,2.7 0 1,0 -3.0,0M416.0,785.0a1.0,1.8 0 1,0 2.0,0a1.0,1.8 0 1,0 -2.0,0M451.6,775.9a4.6,5.6 0 1,0 9.1,0a4.6,5.6 0 1,0 -9.1,0M452.5,775.9a3.6,4.5 0 1,0 7.3,0a3.6,4.5 0 1,0 -7.3,0M453.4,775.9a2.7,3.4 0 1,0 5.5,0a2.7,3.4 0 1,0 -5.5,0M454.3,775.9a1.8,2.2 0 1,0 3.6,0a1.8,2.2 0 1,0 -3.6,0M480.0,784.6a4.3,5.4 0 1,0 8.7,0a4.3,5.4 0 1,0 -8.7,0M480.9,784.6a3.5,4.3 0 1,0 6.9,0a3.5,4.3 0 1,0 -6.9,0M481.8,784.6a2.6,3.2 0 1,0 5.2,0a2.6,3.2 0 1,0 -5.2,0M482.6,784.6a1.7,2.1 0 1,0 3.5,0a1.7,2.1 0 1,0 -3.5,0M450.4,780.9a4.9,4.1 0 1,0 9.7,0a4.9,4.1 0 1,0 -9.7,0M451.4,780.9a3.9,3.3 0 1,0 7.8,0a3.9,3.3 0 1,0 -7.8,0M452.4,780.9a2.9,2.4 0 1,0 5.8,0a2.9,2.4 0 1,0 -5.8,0M453.4,780.9a1.9,1.6 0 1,0 3.9,0a1.9,1.6 0 1,0 -3.9,0M457.9,794.4a3.8,6.5 0 1,0 7.6,0a3.8,6.5 0 1,0 -7.6,0M458.6,794.4a3.0,5.2 0 1,0 6.1,0a3.0,5.2 0 1,0 -6.1,0M459.4,794.4a2.3,3.9 0 1,0 4.5,0a2.3,3.9 0 1,0 -4.5,0M460.2,794.4a1.5,2.6 0 1,0 3.0,0a1.5,2.6 0 1,0 -3.0,0M460.6,796.4a4.8,3.5 0 1,0 9.7,0a4.8,3.5 0 1,0 -9.7,0M461.5,796.4a3.9,2.8 0 1,0 7.8,0a3.9,2.8 0 1,0 -7.8,0M462.5,796.4a2.9,2.1 0 1,0 5.8,0a2.9,2.1 0 1,0 -5.8,0M463.5,796.4a1.9,1.4 0 1,0 3.9,0a1.9,1.4 0 1,0 -3.9,0M470.6,790.9a3.6,3.6 0 1,0 7.3,0a3.6,3.6 0 1,0 -7.3,0M471.3,790.9a2.9,2.9 0 1,0 5.8,0a2.9,2.9 0 1,0 -5.8,0M472.1,790.9a2.2,2.2 0 1,0 4.4,0a2.2,2.2 0 1,0 -4.4,0M472.8,790.9a1.5,1.4 0 1,0 2.9,0a1.5,1.4 0 1,0 -2.9,0M473.7,789.8a5.2,6.0 0 1,0 10.3,0a5.2,6.0 0 1,0 -10.3,0M474.7,789.8a4.1,4.8 0 1,0 8.3,0a4.1,4.8 0 1,0 -8.3,0M475.8,789.8a3.1,3.6 0 1,0 6.2,0a3.1,3.6 0 1,0 -6.2,0M476.8,789.8a2.1,2.4 0 1,0 4.1,0a2.1,2.4 0 1,0 -4.1,0M421.4,782.3a4.4,5.6 0 1,0 8.9,0a4.4,5.6 0 1,0 -8.9,0M422.3,782.3a3.5,4.5 0 1,0 7.1,0a3.5,4.5 0 1,0 -7.1,0M423.2,782.3a2.7,3.3 0 1,0 5.3,0a2.7,3.3 0 1,0 -5.3,0M424.1,782.3a1.8,2.2 0 1,0 3.5,0a1.8,2.2 0 1,0 -3.5,0M417.6,780.6a4.3,5.7 0 1,0 8.7,0a4.3,5.7 0 1,0 -8.7,0M418.4,780.6a3.5,4.6 0 1,0 7.0,0a3.5,4.6 0 1,0 -7.0,0M419.3,780.6a2.6,3.4 0 1,0 5.2,0a2.6,3.4 0 1,0 -5.2,0M420.2,780.6a1.7,2.3 0 1,0 3.5,0a1.7,2.3 0 1,0 -3.5,0M371.9,763.8a3.0,6.0 0 1,0 5.9,0a3.0,6.0 0 1,0 -5.9,0M372.5,763.8a2.4,4.8 0 1,0 4.7,0a2.4,4.8 0 1,0 -4.7,0M373.0,763.8a1.8,3.6 0 1,0 3.6,0a1.8,3.6 0 1,0 -3.6,0M373.6,763.8a1.2,2.4 0 1,0 2.4,0a1.2,2.4 0 1,0 -2.4,0M396.3,765.2a3.2,3.6 0 1,0 6.4,0a3.2,3.6 0 1,0 -6.4,0M396.9,765.2a2.6,2.9 0 1,0 5.1,0a2.6,2.9 0 1,0 -5.1,0M397.6,765.2a1.9,2.2 0 1,0 3.8,0a1.9,2.2 0 1,0 -3.8,0M398.2,765.2a1.3,1.4 0 1,0 2.6,0a1.3,1.4 0 1,0 -2.6,0M368.2,761.1a5.2,3.8 0 1,0 10.4,0a5.2,3.8 0 1,0 -10.4,0M369.2,761.1a4.2,3.0 0 1,0 8.3,0a4.2,3.0 0 1,0 -8.3,0M370.3,761.1a3.1,2.3 0 1,0 6.2,0a3.1,2.3 0 1,0 -6.2,0M371.3,761.1a2.1,1.5 0 1,0 4.2,0a2.1,1.5 0 1,0 -4.2,0M367.5,752.4a3.4,5.4 0 1,0 6.8,0a3.4,5.4 0 1,0 -6.8,0M368.2,752.4a2.7,4.3 0 1,0 5.5,0a2.7,4.3 0 1,0 -5.5,0M368.8,752.4a2.1,3.2 0 1,0 4.1,0a2.1,3.2 0 1,0 -4.1,0M369.5,752.4a1.4,2.2 0 1,0 2.7,0a1.4,2.2 0 1,0 -2.7,0M418.4,749.1a4.4,6.6 0 1,0 8.8,0a4.4,6.6 0 1,0 -8.8,0M419.3,749.1a3.5,5.3 0 1,0 7.0,0a3.5,5.3 0 1,0 -7.0,0M420.2,749.1a2.6,3.9 0 1,0 5.3,0a2.6,3.9 0 1,0 -5.3,0M421.0,749.1a1.8,2.6 0 1,0 3.5,0a1.8,2.6 0 1,0 -3.5,0M375.2,751.2a3.1,4.1 0 1,0 6.2,0a3.1,4.1 0 1,0 -6.2,0M375.8,751.2a2.5,3.3 0 1,0 5.0,0a2.5,3.3 0 1,0 -5.0,0M376.5,751.2a1.9,2.4 0 1,0 3.7,0a1.9,2.4 0 1,0 -3.7,0M377.1,751.2a1.2,1.6 0 1,0 2.5,0a1.2,1.6 0 1,0 -2.5,0M419.2,759.9a3.4,6.7 0 1,0 6.9,0a3.4,6.7 0 1,0 -6.9,0M419.9,759.9a2.8,5.3 0 1,0 5.5,0a2.8,5.3 0 1,0 -5.5,0M420.6,759.9a2.1,4.0 0 1,0 4.1,0a2.1,4.0 0 1,0 -4.1,0M421.3,759.9a1.4,2.7 0 1,0 2.8,0a1.4,2.7 0 1,0 -2.8,0M383.5,750.3a4.4,5.3 0 1,0 8.8,0a4.4,5.3 0 1,0 -8.8,0M384.4,750.3a3.5,4.2 0 1,0 7.1,0a3.5,4.2 0 1,0 -7.1,0M385.2,750.3a2.6,3.2 0 1,0 5.3,0a2.6,3.2 0 1,0 -5.3,0M386.1,750.3a1.8,2.1 0 1,0 3.5,0a1.8,2.1 0 1,0 -3.5,0M393.7,752.3a3.2,6.5 0 1,0 6.5,0a3.2,6.5 0 1,0 -6.5,0M394.3,752.3a2.6,5.2 0 1,0 5.2,0a2.6,5.2 0 1,0 -5.2,0M395.0,752.3a1.9,3.9 0 1,0 3.9,0a1.9,3.9 0 1,0 -3.9,0M395.6,752.3a1.3,2.6 0 1,0 2.6,0a1.3,2.6 0 1,0 -2.6,0M377.5,756.4a5.0,6.8 0 1,0 10.0,0a5.0,6.8 0 1,0 -10.0,0M378.5,756.4a4.0,5.5 0 1,0 8.0,0a4.0,5.5 0 1,0 -8.0,0M379.5,756.4a3.0,4.1 0 1,0 6.0,0a3.0,4.1 0 1,0 -6.0,0M380.5,756.4a2.0,2.7 0 1,0 4.0,0a2.0,2.7 0 1,0 -4.0,0M370.3,757.9a3.1,3.5 0 1,0 6.2,0a3.1,3.5 0 1,0 -6.2,0M371.0,757.9a2.5,2.8 0 1,0 4.9,0a2.5,2.8 0 1,0 -4.9,0M371.6,757.9a1.9,2.1 0 1,0 3.7,0a1.9,2.1 0 1,0 -3.7,0M372.2,757.9a1.2,1.4 0 1,0 2.5,0a1.2,1.4 0 1,0 -2.5,0M384.6,750.3a3.7,6.6 0 1,0 7.4,0a3.7,6.6 0 1,0 -7.4,0M385.3,750.3a3.0,5.3 0 1,0 5.9,0a3.0,5.3 0 1,0 -5.9,0M386.1,750.3a2.2,3.9 0 1,0 4.4,0a2.2,3.9 0 1,0 -4.4,0M386.8,750.3a1.5,2.6 0 1,0 3.0,0a1.5,2.6 0 1,0 -3.0,0M369.3,761.5a2.9,4.9 0 1,0 5.8,0a2.9,4.9 0 1,0 -5.8,0M369.8,761.5a2.3,4.0 0 1,0 4.6,0a2.3,4.0 0 1,0 -4.6,0M370.4,761.5a1.7,3.0 0 1,0 3.5,0a1.7,3.0 0 1,0 -3.5,0M371.0,761.5a1.2,2.0 0 1,0 2.3,0a1.2,2.0 0 1,0 -2.3,0M416.6,765.1a2.6,5.6 0 1,0 5.2,0a2.6,5.6 0 1,0 -5.2,0M417.2,765.1a2.1,4.4 0 1,0 4.2,0a2.1,4.4 0 1,0 -4.2,0M417.7,765.1a1.6,3.3 0 1,0 3.1,0a1.6,3.3 0 1,0 -3.1,0M418.2,765.1a1.0,2.2 0 1,0 2.1,0a1.0,2.2 0 1,0 -2.1,0M407.7,765.9a2.7,4.7 0 1,0 5.4,0a2.7,4.7 0 1,0 -5.4,0M408.3,765.9a2.2,3.7 0 1,0 4.3,0a2.2,3.7 0 1,0 -4.3,0M408.8,765.9a1.6,2.8 0 1,0 3.2,0a1.6,2.8 0 1,0 -3.2,0M409.3,765.9a1.1,1.9 0 1,0 2.2,0a1.1,1.9 0 1,0 -2.2,0M416.9,755.6a5.3,4.7 0 1,0 10.7,0a5.3,4.7 0 1,0 -10.7,0M417.9,755.6a4.3,3.8 0 1,0 8.5,0a4.3,3.8 0 1,0 -8.5,0M419.0,755.6a3.2,2.8 0 1,0 6.4,0a3.2,2.8 0 1,0 -6.4,0M420.1,755.6a2.1,1.9 0 1,0 4.3,0a2.1,1.9 0 1,0 -4.3,0M389.3,759.9a2.8,5.9 0 1,0 5.6,0a2.8,5.9 0 1,0 -5.6,0M389.9,759.9a2.3,4.7 0 1,0 4.5,0a2.3,4.7 0 1,0 -4.5,0M390.5,759.9a1.7,3.5 0 1,0 3.4,0a1.7,3.5 0 1,0 -3.4,0M391.0,759.9a1.1,2.4 0 1,0 2.3,0a1.1,2.4 0 1,0 -2.3,0M368.6,755.1a4.3,3.7 0 1,0 8.5,0a4.3,3.7 0 1,0 -8.5,0M369.4,755.1a3.4,3.0 0 1,0 6.8,0a3.4,3.0 0 1,0 -6.8,0M370.3,755.1a2.6,2.2 0 1,0 5.1,0a2.6,2.2 0 1,0 -5.1,0M371.1,755.1a1.7,1.5 0 1,0 3.4,0a1.7,1.5 0 1,0 -3.4,0M402.7,763.3a5.3,5.1 0 1,0 10.7,0a5.3,5.1 0 1,0 -10.7,0M403.8,763.3a4.3,4.1 0 1,0 8.5,0a4.3,4.1 0 1,0 -8.5,0M404.8,763.3a3.2,3.1 0 1,0 6.4,0a3.2,3.1 0 1,0 -6.4,0M405.9,763.3a2.1,2.0 0 1,0 4.3,0a2.1,2.0 0 1,0 -4.3,0M404.9,760.9a3.2,6.1 0 1,0 6.3,0a3.2,6.1 0 1,0 -6.3,0M405.5,760.9a2.5,4.9 0 1,0 5.1,0a2.5,4.9 0 1,0 -5.1,0M406.1,760.9a1.9,3.7 0 1,0 3.8,0a1.9,3.7 0 1,0 -3.8,0M406.8,760.9a1.3,2.4 0 1,0 2.5,0a1.3,2.4 0 1,0 -2.5,0M370.2,828.8a4.5,6.4 0 1,0 9.0,0a4.5,6.4 0 1,0 -9.0,0M371.1,828.8a3.6,5.1 0 1,0 7.2,0a3.6,5.1 0 1,0 -7.2,0M372.0,828.8a2.7,3.9 0 1,0 5.4,0a2.7,3.9 0 1,0 -5.4,0M372.9,828.8a1.8,2.6 0 1,0 3.6,0a1.8,2.6 0 1,0 -3.6,0M330.5,831.7a4.4,5.9 0 1,0 8.7,0a4.4,5.9 0 1,0 -8.7,0M331.4,831.7a3.5,4.7 0 1,0 7.0,0a3.5,4.7 0 1,0 -7.0,0M332.3,831.7a2.6,3.5 0 1,0 5.2,0a2.6,3.5 0 1,0 -5.2,0M333.1,831.7a1.7,2.4 0 1,0 3.5,0a1.7,2.4 0 1,0 -3.5,0M379.6,837.6a5.4,5.0 0 1,0 10.8,0a5.4,5.0 0 1,0 -10.8,0M380.7,837.6a4.3,4.0 0 1,0 8.7,0a4.3,4.0 0 1,0 -8.7,0M381.7,837.6a3.2,3.0 0 1,0 6.5,0a3.2,3.0 0 1,0 -6.5,0M382.8,837.6a2.2,2.0 0 1,0 4.3,0a2.2,2.0 0 1,0 -4.3,0M363.2,826.1a4.0,4.5 0 1,0 8.1,0a4.0,4.5 0 1,0 -8.1,0M364.0,826.1a3.2,3.6 0 1,0 6.5,0a3.2,3.6 0 1,0 -6.5,0M364.8,826.1a2.4,2.7 0 1,0 4.8,0a2.4,2.7 0 1,0 -4.8,0M365.6,826.1a1.6,1.8 0 1,0 3.2,0a1.6,1.8 0 1,0 -3.2,0M318.0,826.9a5.0,5.3 0 1,0 10.0,0a5.0,5.3 0 1,0 -10.0,0M319.0,826.9a4.0,4.2 0 1,0 8.0,0a4.0,4.2 0 1,0 -8.0,0M320.0,826.9a3.0,3.2 0 1,0 6.0,0a3.0,3.2 0 1,0 -6.0,0M321.0,826.9a2.0,2.1 0 1,0 4.0,0a2.0,2.1 0 1,0 -4.0,0M366.3,820.6a3.5,6.0 0 1,0 7.1,0a3.5,6.0 0 1,0 -7.1,0M367.0,820.6a2.8,4.8 0 1,0 5.7,0a2.8,4.8 0 1,0 -5.7,0M367.7,820.6a2.1,3.6 0 1,0 4.3,0a2.1,3.6 0 1,0 -4.3,0M368.5,820.6a1.4,2.4 0 1,0 2.8,0a1.4,2.4 0 1,0 -2.8,0M338.0,815.6a2.8,5.4 0 1,0 5.6,0a2.8,5.4 0 1,0 -5.6,0M338.5,815.6a2.2,4.3 0 1,0 4.5,0a2.2,4.3 0 1,0 -4.5,0M339.1,815.6a1.7,3.3 0 1,0 3.3,0a1.7,3.3 0 1,0 -3.3,0M339.6,815.6a1.1,2.2 0 1,0 2.2,0a1.1,2.2 0 1,0 -2.2,0M344.7,840.6a3.1,5.6 0 1,0 6.2,0a3.1,5.6 0 1,0 -6.2,0M345.3,840.6a2.5,4.5 0 1,0 5.0,0a2.5,4.5 0 1,0 -5.0,0M345.9,840.6a1.9,3.4 0 1,0 3.7,0a1.9,3.4 0 1,0 -3.7,0M346.5,840.6a1.2,2.2 0 1,0 2.5,0a1.2,2.2 0 1,0 -2.5,0M341.5,823.4a3.8,6.0 0 1,0 7.6,0a3.8,6.0 0 1,0 -7.6,0M342.3,823.4a3.0,4.8 0 1,0 6.1,0a3.0,4.8 0 1,0 -6.1,0M343.0,823.4a2.3,3.6 0 1,0 4.5,0a2.3,3.6 0 1,0 -4.5,0M343.8,823.4a1.5,2.4 0 1,0 3.0,0a1.5,2.4 0 1,0 -3.0,0M354.7,848.1a4.6,6.2 0 1,0 9.3,0a4.6,6.2 0 1,0 -9.3,0M355.6,848.1a3.7,5.0 0 1,0 7.4,0a3.7,5.0 0 1,0 -7.4,0M356.5,848.1a2.8,3.7 0 1,0 5.6,0a2.8,3.7 0 1,0 -5.6,0M357.5,848.1a1.9,2.5 0 1,0 3.7,0a1.9,2.5 0 1,0 -3.7,0M313.0,824.2a3.0,6.7 0 1,0 5.9,0a3.0,6.7 0 1,0 -5.9,0M313.6,824.2a2.4,5.3 0 1,0 4.7,0a2.4,5.3 0 1,0 -4.7,0M314.2,824.2a1.8,4.0 0 1,0 3.6,0a1.8,4.0 0 1,0 -3.6,0M314.8,824.2a1.2,2.7 0 1,0 2.4,0a1.2,2.7 0 1,0 -2.4,0M363.5,825.7a4.1,4.4 0 1,0 8.3,0a4.1,4.4 0 1,0 -8.3,0M364.3,825.7a3.3,3.6 0 1,0 6.6,0a3.3,3.6 0 1,0 -6.6,0M365.1,825.7a2.5,2.7 0 1,0 5.0,0a2.5,2.7 0 1,0 -5.0,0M366.0,825.7a1.7,1.8 0 1,0 3.3,0a1.7,1.8 0 1,0 -3.3,0M363.2,836.0a3.4,6.2 0 1,0 6.7,0a3.4,6.2 0 1,0 -6.7,0M363.8,836.0a2.7,5.0 0 1,0 5.4,0a2.7,5.0 0 1,0 -5.4,0M364.5,836.0a2.0,3.7 0 1,0 4.0,0a2.0,3.7 0 1,0 -4.0,0M365.2,836.0a1.3,2.5 0 1,0 2.7,0a1.3,2.5 0 1,0 -2.7,0M361.3,827.3a4.3,6.2 0 1,0 8.5,0a4.3,6.2 0 1,0 -8.5,0M362.2,827.3a3.4,4.9 0 1,0 6.8,0a3.4,4.9 0 1,0 -6.8,0M363.0,827.3a2.6,3.7 0 1,0 5.1,0a2.6,3.7 0 1,0 -5.1,0M363.9,827.3a1.7,2.5 0 1,0 3.4,0a1.7,2.5 0 1,0 -3.4,0M341.3,838.2a4.5,5.0 0 1,0 8.9,0a4.5,5.0 0 1,0 -8.9,0M342.2,838.2a3.6,4.0 0 1,0 7.1,0a3.6,4.0 0 1,0 -7.1,0M343.1,838.2a2.7,3.0 0 1,0 5.3,0a2.7,3.0 0 1,0 -5.3,0M343.9,838.2a1.8,2.0 0 1,0 3.6,0a1.8,2.0 0 1,0 -3.6,0M378.9,842.1a4.3,6.2 0 1,0 8.6,0a4.3,6.2 0 1,0 -8.6,0M379.8,842.1a3.4,4.9 0 1,0 6.9,0a3.4,4.9 0 1,0 -6.9,0M380.6,842.1a2.6,3.7 0 1,0 5.1,0a2.6,3.7 0 1,0 -5.1,0M381.5,842.1a1.7,2.5 0 1,0 3.4,0a1.7,2.5 0 1,0 -3.4,0M346.3,835.0a5.0,4.1 0 1,0 9.9,0a5.0,4.1 0 1,0 -9.9,0M347.3,835.0a4.0,3.3 0 1,0 8.0,0a4.0,3.3 0 1,0 -8.0,0M348.3,835.0a3.0,2.4 0 1,0 6.0,0a3.0,2.4 0 1,0 -6.0,0M349.3,835.0a2.0,1.6 0 1,0 4.0,0a2.0,1.6 0 1,0 -4.0,0M353.4,851.0a3.3,5.9 0 1,0 6.5,0a3.3,5.9 0 1,0 -6.5,0M354.0,851.0a2.6,4.7 0 1,0 5.2,0a2.6,4.7 0 1,0 -5.2,0M354.7,851.0a2.0,3.5 0 1,0 3.9,0a2.0,3.5 0 1,0 -3.9,0M355.3,851.0a1.3,2.4 0 1,0 2.6,0a1.3,2.4 0 1,0 -2.6,0M382.3,826.1a2.9,4.1 0 1,0 5.9,0a2.9,4.1 0 1,0 -5.9,0M382.9,826.1a2.4,3.3 0 1,0 4.7,0a2.4,3.3 0 1,0 -4.7,0M383.5,826.1a1.8,2.5 0 1,0 3.5,0a1.8,2.5 0 1,0 -3.5,0M384.0,826.1a1.2,1.6 0 1,0 2.4,0a1.2,1.6 0 1,0 -2.4,0M346.0,836.3a4.3,6.8 0 1,0 8.6,0a4.3,6.8 0 1,0 -8.6,0M346.8,836.3a3.5,5.5 0 1,0 6.9,0a3.5,5.5 0 1,0 -6.9,0M347.7,836.3a2.6,4.1 0 1,0 5.2,0a2.6,4.1 0 1,0 -5.2,0M348.5,836.3a1.7,2.7 0 1,0 3.5,0a1.7,2.7 0 1,0 -3.5,0M319.5,835.9a3.3,4.5 0 1,0 6.6,0a3.3,4.5 0 1,0 -6.6,0M320.1,835.9a2.6,3.6 0 1,0 5.3,0a2.6,3.6 0 1,0 -5.3,0M320.8,835.9a2.0,2.7 0 1,0 4.0,0a2.0,2.7 0 1,0 -4.0,0M321.4,835.9a1.3,1.8 0 1,0 2.6,0a1.3,1.8 0 1,0 -2.6,0M383.0,835.0a5.0,4.1 0 1,0 9.9,0a5.0,4.1 0 1,0 -9.9,0M384.0,835.0a4.0,3.2 0 1,0 7.9,0a4.0,3.2 0 1,0 -7.9,0M385.0,835.0a3.0,2.4 0 1,0 6.0,0a3.0,2.4 0 1,0 -6.0,0M386.0,835.0a2.0,1.6 0 1,0 4.0,0a2.0,1.6 0 1,0 -4.0,0M374.3,815.6a5.0,4.9 0 1,0 10.0,0a5.0,4.9 0 1,0 -10.0,0M375.3,815.6a4.0,3.9 0 1,0 8.0,0a4.0,3.9 0 1,0 -8.0,0M376.3,815.6a3.0,2.9 0 1,0 6.0,0a3.0,2.9 0 1,0 -6.0,0M377.2,815.6a2.0,2.0 0 1,0 4.0,0a2.0,2.0 0 1,0 -4.0,0M327.2,821.4a5.3,6.8 0 1,0 10.6,0a5.3,6.8 0 1,0 -10.6,0M328.3,821.4a4.2,5.5 0 1,0 8.5,0a4.2,5.5 0 1,0 -8.5,0M329.3,821.4a3.2,4.1 0 1,0 6.4,0a3.2,4.1 0 1,0 -6.4,0M330.4,821.4a2.1,2.7 0 1,0 4.2,0a2.1,2.7 0 1,0 -4.2,0M323.0,836.2a4.8,5.3 0 1,0 9.7,0a4.8,5.3 0 1,0 -9.7,0M324.0,836.2a3.9,4.2 0 1,0 7.7,0a3.9,4.2 0 1,0 -7.7,0M325.0,836.2a2.9,3.2 0 1,0 5.8,0a2.9,3.2 0 1,0 -5.8,0M325.9,836.2a1.9,2.1 0 1,0 3.9,0a1.9,2.1 0 1,0 -3.9,0M336.7,841.4a3.1,6.7 0 1,0 6.3,0a3.1,6.7 0 1,0 -6.3,0M337.4,841.4a2.5,5.4 0 1,0 5.0,0a2.5,5.4 0 1,0 -5.0,0M338.0,841.4a1.9,4.0 0 1,0 3.8,0a1.9,4.0 0 1,0 -3.8,0M338.6,841.4a1.3,2.7 0 1,0 2.5,0a1.3,2.7 0 1,0 -2.5,0M310.2,821.0a4.0,4.2 0 1,0 8.1,0a4.0,4.2 0 1,0 -8.1,0M311.0,821.0a3.2,3.4 0 1,0 6.5,0a3.2,3.4 0 1,0 -6.5,0M311.8,821.0a2.4,2.5 0 1,0 4.9,0a2.4,2.5 0 1,0 -4.9,0M312.6,821.0a1.6,1.7 0 1,0 3.2,0a1.6,1.7 0 1,0 -3.2,0M318.5,841.6a2.8,6.3 0 1,0 5.5,0a2.8,6.3 0 1,0 -5.5,0M319.0,841.6a2.2,5.0 0 1,0 4.4,0a2.2,5.0 0 1,0 -4.4,0M319.6,841.6a1.7,3.8 0 1,0 3.3,0a1.7,3.8 0 1,0 -3.3,0M320.1,841.6a1.1,2.5 0 1,0 2.2,0a1.1,2.5 0 1,0 -2.2,0M371.0,837.3a4.9,4.1 0 1,0 9.8,0a4.9,4.1 0 1,0 -9.8,0M371.9,837.3a3.9,3.3 0 1,0 7.8,0a3.9,3.3 0 1,0 -7.8,0M372.9,837.3a2.9,2.4 0 1,0 5.9,0a2.9,2.4 0 1,0 -5.9,0M373.9,837.3a2.0,1.6 0 1,0 3.9,0a2.0,1.6 0 1,0 -3.9,0M370.6,838.7a3.3,6.7 0 1,0 6.6,0a3.3,6.7 0 1,0 -6.6,0M371.3,838.7a2.6,5.3 0 1,0 5.2,0a2.6,5.3 0 1,0 -5.2,0M371.9,838.7a2.0,4.0 0 1,0 3.9,0a2.0,4.0 0 1,0 -3.9,0M372.6,838.7a1.3,2.7 0 1,0 2.6,0a1.3,2.7 0 1,0 -2.6,0M326.4,735.2a3.5,6.3 0 1,0 7.0,0a3.5,6.3 0 1,0 -7.0,0M327.1,735.2a2.8,5.0 0 1,0 5.6,0a2.8,5.0 0 1,0 -5.6,0M327.8,735.2a2.1,3.8 0 1,0 4.2,0a2.1,3.8 0 1,0 -4.2,0M328.5,735.2a1.4,2.5 0 1,0 2.8,0a1.4,2.5 0 1,0 -2.8,0M311.8,735.5a3.3,3.6 0 1,0 6.7,0a3.3,3.6 0 1,0 -6.7,0M312.4,735.5a2.7,2.9 0 1,0 5.4,0a2.7,2.9 0 1,0 -5.4,0M313.1,735.5a2.0,2.2 0 1,0 4.0,0a2.0,2.2 0 1,0 -4.0,0M313.8,735.5a1.3,1.4 0 1,0 2.7,0a1.3,1.4 0 1,0 -2.7,0M300.7,750.2a4.8,5.4 0 1,0 9.6,0a4.8,5.4 0 1,0 -9.6,0M301.6,750.2a3.9,4.3 0 1,0 7.7,0a3.9,4.3 0 1,0 -7.7,0M302.6,750.2a2.9,3.2 0 1,0 5.8,0a2.9,3.2 0 1,0 -5.8,0M303.5,750.2a1.9,2.1 0 1,0 3.9,0a1.9,2.1 0 1,0 -3.9,0M316.9,725.4a3.0,5.6 0 1,0 5.9,0a3.0,5.6 0 1,0 -5.9,0M317.5,725.4a2.4,4.4 0 1,0 4.7,0a2.4,4.4 0 1,0 -4.7,0M318.1,725.4a1.8,3.3 0 1,0 3.5,0a1.8,3.3 0 1,0 -3.5,0M318.7,725.4a1.2,2.2 0 1,0 2.4,0a1.2,2.2 0 1,0 -2.4,0M326.1,740.8a3.7,6.2 0 1,0 7.5,0a3.7,6.2 0 1,0 -7.5,0M326.9,740.8a3.0,5.0 0 1,0 6.0,0a3.0,5.0 0 1,0 -6.0,0M327.6,740.8a2.2,3.7 0 1,0 4.5,0a2.2,3.7 0 1,0 -4.5,0M328.4,740.8a1.5,2.5 0 1,0 3.0,0a1.5,2.5 0 1,0 -3.0,0M317.7,730.7a3.4,5.5 0 1,0 6.9,0a3.4,5.5 0 1,0 -6.9,0M318.4,730.7a2.7,4.4 0 1,0 5.5,0a2.7,4.4 0 1,0 -5.5,0M319.0,730.7a2.1,3.3 0 1,0 4.1,0a2.1,3.3 0 1,0 -4.1,0M319.7,730.7a1.4,2.2 0 1,0 2.7,0a1.4,2.2 0 1,0 -2.7,0M306.2,727.8a3.5,4.6 0 1,0 7.0,0a3.5,4.6 0 1,0 -7.0,0M306.9,727.8a2.8,3.7 0 1,0 5.6,0a2.8,3.7 0 1,0 -5.6,0M307.6,727.8a2.1,2.8 0 1,0 4.2,0a2.1,2.8 0 1,0 -4.2,0M308.3,727.8a1.4,1.8 0 1,0 2.8,0a1.4,1.8 0 1,0 -2.8,0M303.6,733.4a4.9,4.7 0 1,0 9.8,0a4.9,4.7 0 1,0 -9.8,0M304.5,733.4a3.9,3.7 0 1,0 7.8,0a3.9,3.7 0 1,0 -7.8,0M305.5,733.4a2.9,2.8 0 1,0 5.9,0a2.9,2.8 0 1,0 -5.9,0M306.5,733.4a2.0,1.9 0 1,0 3.9,0a2.0,1.9 0 1,0 -3.9,0M310.7,729.1a5.2,3.6 0 1,0 10.3,0a5.2,3.6 0 1,0 -10.3,0M311.7,729.1a4.1,2.9 0 1,0 8.3,0a4.1,2.9 0 1,0 -8.3,0M312.7,729.1a3.1,2.2 0 1,0 6.2,0a3.1,2.2 0 1,0 -6.2,0M313.8,729.1a2.1,1.5 0 1,0 4.1,0a2.1,1.5 0 1,0 -4.1,0M297.6,739.0a3.0,6.3 0 1,0 6.0,0a3.0,6.3 0 1,0 -6.0,0M298.2,739.0a2.4,5.1 0 1,0 4.8,0a2.4,5.1 0 1,0 -4.8,0M298.8,739.0a1.8,3.8 0 1,0 3.6,0a1.8,3.8 0 1,0 -3.6,0M299.4,739.0a1.2,2.5 0 1,0 2.4,0a1.2,2.5 0 1,0 -2.4,0M314.9,730.5a4.9,4.5 0 1,0 9.8,0a4.9,4.5 0 1,0 -9.8,0M315.8,730.5a3.9,3.6 0 1,0 7.8,0a3.9,3.6 0 1,0 -7.8,0M316.8,730.5a2.9,2.7 0 1,0 5.9,0a2.9,2.7 0 1,0 -5.9,0M317.8,730.5a2.0,1.8 0 1,0 3.9,0a2.0,1.8 0 1,0 -3.9,0M458.0,665.8a3.8,6.7 0 1,0 7.6,0a3.8,6.7 0 1,0 -7.6,0M458.8,665.8a3.0,5.3 0 1,0 6.1,0a3.0,5.3 0 1,0 -6.1,0M459.6,665.8a2.3,4.0 0 1,0 4.6,0a2.3,4.0 0 1,0 -4.6,0M460.3,665.8a1.5,2.7 0 1,0 3.0,0a1.5,2.7 0 1,0 -3.0,0M457.0,671.3a3.1,5.3 0 1,0 6.2,0a3.1,5.3 0 1,0 -6.2,0M457.6,671.3a2.5,4.2 0 1,0 5.0,0a2.5,4.2 0 1,0 -5.0,0M458.2,671.3a1.9,3.2 0 1,0 3.7,0a1.9,3.2 0 1,0 -3.7,0M458.9,671.3a1.2,2.1 0 1,0 2.5,0a1.2,2.1 0 1,0 -2.5,0M467.0,671.2a2.7,5.7 0 1,0 5.4,0a2.7,5.7 0 1,0 -5.4,0M467.5,671.2a2.2,4.6 0 1,0 4.3,0a2.2,4.6 0 1,0 -4.3,0M468.1,671.2a1.6,3.4 0 1,0 3.3,0a1.6,3.4 0 1,0 -3.3,0M468.6,671.2a1.1,2.3 0 1,0 2.2,0a1.1,2.3 0 1,0 -2.2,0M461.4,660.7a3.3,3.8 0 1,0 6.6,0a3.3,3.8 0 1,0 -6.6,0M462.0,660.7a2.6,3.0 0 1,0 5.2,0a2.6,3.0 0 1,0 -5.2,0M462.7,660.7a2.0,2.3 0 1,0 3.9,0a2.0,2.3 0 1,0 -3.9,0M463.4,660.7a1.3,1.5 0 1,0 2.6,0a1.3,1.5 0 1,0 -2.6,0M459.3,661.9a3.4,3.7 0 1,0 6.8,0a3.4,3.7 0 1,0 -6.8,0M459.9,661.9a2.7,3.0 0 1,0 5.4,0a2.7,3.0 0 1,0 -5.4,0M460.6,661.9a2.0,2.2 0 1,0 4.1,0a2.0,2.2 0 1,0 -4.1,0M461.3,661.9a1.4,1.5 0 1,0 2.7,0a1.4,1.5 0 1,0 -2.7,0M443.7,672.2a2.5,4.8 0 1,0 5.0,0a2.5,4.8 0 1,0 -5.0,0M444.2,672.2a2.0,3.9 0 1,0 4.0,0a2.0,3.9 0 1,0 -4.0,0M444.7,672.2a1.5,2.9 0 1,0 3.0,0a1.5,2.9 0 1,0 -3.0,0M445.2,672.2a1.0,1.9 0 1,0 2.0,0a1.0,1.9 0 1,0 -2.0,0M458.2,679.3a4.1,6.0 0 1,0 8.2,0a4.1,6.0 0 1,0 -8.2,0M459.1,679.3a3.3,4.8 0 1,0 6.5,0a3.3,4.8 0 1,0 -6.5,0M459.9,679.3a2.5,3.6 0 1,0 4.9,0a2.5,3.6 0 1,0 -4.9,0M460.7,679.3a1.6,2.4 0 1,0 3.3,0a1.6,2.4 0 1,0 -3.3,0M455.8,696.2a5.0,3.7 0 1,0 10.0,0a5.0,3.7 0 1,0 -10.0,0M456.8,696.2a4.0,2.9 0 1,0 8.0,0a4.0,2.9 0 1,0 -8.0,0M457.8,696.2a3.0,2.2 0 1,0 6.0,0a3.0,2.2 0 1,0 -6.0,0M458.8,696.2a2.0,1.5 0 1,0 4.0,0a2.0,1.5 0 1,0 -4.0,0M453.2,654.3a2.8,5.1 0 1,0 5.5,0a2.8,5.1 0 1,0 -5.5,0M453.7,654.3a2.2,4.1 0 1,0 4.4,0a2.2,4.1 0 1,0 -4.4,0M454.3,654.3a1.7,3.0 0 1,0 3.3,0a1.7,3.0 0 1,0 -3.3,0M454.8,654.3a1.1,2.0 0 1,0 2.2,0a1.1,2.0 0 1,0 -2.2,0M457.7,656.0a4.3,6.4 0 1,0 8.6,0a4.3,6.4 0 1,0 -8.6,0M458.5,656.0a3.4,5.1 0 1,0 6.9,0a3.4,5.1 0 1,0 -6.9,0M459.4,656.0a2.6,3.8 0 1,0 5.1,0a2.6,3.8 0 1,0 -5.1,0M460.2,656.0a1.7,2.5 0 1,0 3.4,0a1.7,2.5 0 1,0 -3.4,0M512.5,659.7a4.7,5.3 0 1,0 9.3,0a4.7,5.3 0 1,0 -9.3,0M513.4,659.7a3.7,4.2 0 1,0 7.5,0a3.7,4.2 0 1,0 -7.5,0M514.4,659.7a2.8,3.2 0 1,0 5.6,0a2.8,3.2 0 1,0 -5.6,0M515.3,659.7a1.9,2.1 0 1,0 3.7,0a1.9,2.1 0 1,0 -3.7,0M503.1,657.3a3.0,5.8 0 1,0 6.0,0a3.0,5.8 0 1,0 -6.0,0M503.7,657.3a2.4,4.6 0 1,0 4.8,0a2.4,4.6 0 1,0 -4.8,0M504.3,657.3a1.8,3.5 0 1,0 3.6,0a1.8,3.5 0 1,0 -3.6,0M504.9,657.3a1.2,2.3 0 1,0 2.4,0a1.2,2.3 0 1,0 -2.4,0M504.6,676.1a3.6,6.2 0 1,0 7.3,0a3.6,6.2 0 1,0 -7.3,0M505.3,676.1a2.9,5.0 0 1,0 5.8,0a2.9,5.0 0 1,0 -5.8,0M506.0,676.1a2.2,3.7 0 1,0 4.4,0a2.2,3.7 0 1,0 -4.4,0M506.7,676.1a1.5,2.5 0 1,0 2.9,0a1.5,2.5 0 1,0 -2.9,0M519.5,656.1a5.1,4.9 0 1,0 10.1,0a5.1,4.9 0 1,0 -10.1,0M520.5,656.1a4.0,3.9 0 1,0 8.1,0a4.0,3.9 0 1,0 -8.1,0M521.5,656.1a3.0,3.0 0 1,0 6.1,0a3.0,3.0 0 1,0 -6.1,0M522.5,656.1a2.0,2.0 0 1,0 4.0,0a2.0,2.0 0 1,0 -4.0,0M503.8,654.8a5.1,5.2 0 1,0 10.1,0a5.1,5.2 0 1,0 -10.1,0M504.8,654.8a4.1,4.2 0 1,0 8.1,0a4.1,4.2 0 1,0 -8.1,0M505.8,654.8a3.0,3.1 0 1,0 6.1,0a3.0,3.1 0 1,0 -6.1,0M506.8,654.8a2.0,2.1 0 1,0 4.1,0a2.0,2.1 0 1,0 -4.1,0M515.5,650.5a5.1,3.6 0 1,0 10.2,0a5.1,3.6 0 1,0 -10.2,0M516.5,650.5a4.1,2.9 0 1,0 8.1,0a4.1,2.9 0 1,0 -8.1,0M517.5,650.5a3.1,2.2 0 1,0 6.1,0a3.1,2.2 0 1,0 -6.1,0M518.6,650.5a2.0,1.5 0 1,0 4.1,0a2.0,1.5 0 1,0 -4.1,0M507.8,660.0a4.3,5.2 0 1,0 8.7,0a4.3,5.2 0 1,0 -8.7,0M508.7,660.0a3.5,4.2 0 1,0 6.9,0a3.5,4.2 0 1,0 -6.9,0M509.6,660.0a2.6,3.1 0 1,0 5.2,0a2.6,3.1 0 1,0 -5.2,0M510.4,660.0a1.7,2.1 0 1,0 3.5,0a1.7,2.1 0 1,0 -3.5,0M514.2,680.4a5.2,5.5 0 1,0 10.5,0a5.2,5.5 0 1,0 -10.5,0M515.3,680.4a4.2,4.4 0 1,0 8.4,0a4.2,4.4 0 1,0 -8.4,0M516.3,680.4a3.1,3.3 0 1,0 6.3,0a3.1,3.3 0 1,0 -6.3,0M517.3,680.4a2.1,2.2 0 1,0 4.2,0a2.1,2.2 0 1,0 -4.2,0M513.4,644.8a3.2,5.9 0 1,0 6.4,0a3.2,5.9 0 1,0 -6.4,0M514.0,644.8a2.6,4.7 0 1,0 5.1,0a2.6,4.7 0 1,0 -5.1,0M514.7,644.8a1.9,3.5 0 1,0 3.8,0a1.9,3.5 0 1,0 -3.8,0M515.3,644.8a1.3,2.4 0 1,0 2.6,0a1.3,2.4 0 1,0 -2.6,0M509.0,686.6a5.1,4.8 0 1,0 10.2,0a5.1,4.8 0 1,0 -10.2,0M510.1,686.6a4.1,3.9 0 1,0 8.2,0a4.1,3.9 0 1,0 -8.2,0M511.1,686.6a3.1,2.9 0 1,0 6.1,0a3.1,2.9 0 1,0 -6.1,0M512.1,686.6a2.0,1.9 0 1,0 4.1,0a2.0,1.9 0 1,0 -4.1,0M501.9,668.2a4.5,6.2 0 1,0 9.1,0a4.5,6.2 0 1,0 -9.1,0M502.8,668.2a3.6,4.9 0 1,0 7.3,0a3.6,4.9 0 1,0 -7.3,0M503.7,668.2a2.7,3.7 0 1,0 5.4,0a2.7,3.7 0 1,0 -5.4,0M504.6,668.2a1.8,2.5 0 1,0 3.6,0a1.8,2.5 0 1,0 -3.6,0M506.6,678.7a2.9,6.0 0 1,0 5.8,0a2.9,6.0 0 1,0 -5.8,0M507.2,678.7a2.3,4.8 0 1,0 4.6,0a2.3,4.8 0 1,0 -4.6,0M507.8,678.7a1.7,3.6 0 1,0 3.5,0a1.7,3.6 0 1,0 -3.5,0M508.3,678.7a1.2,2.4 0 1,0 2.3,0a1.2,2.4 0 1,0 -2.3,0M502.3,683.9a4.3,4.3 0 1,0 8.6,0a4.3,4.3 0 1,0 -8.6,0M503.2,683.9a3.4,3.4 0 1,0 6.9,0a3.4,3.4 0 1,0 -6.9,0M504.1,683.9a2.6,2.6 0 1,0 5.2,0a2.6,2.6 0 1,0 -5.2,0M504.9,683.9a1.7,1.7 0 1,0 3.4,0a1.7,1.7 0 1,0 -3.4,0M503.7,679.0a3.2,4.2 0 1,0 6.5,0a3.2,4.2 0 1,0 -6.5,0M504.3,679.0a2.6,3.3 0 1,0 5.2,0a2.6,3.3 0 1,0 -5.2,0M505.0,679.0a1.9,2.5 0 1,0 3.9,0a1.9,2.5 0 1,0 -3.9,0M505.6,679.0a1.3,1.7 0 1,0 2.6,0a1.3,1.7 0 1,0 -2.6,0M509.7,696.0a5.5,6.1 0 1,0 10.9,0a5.5,6.1 0 1,0 -10.9,0M510.8,696.0a4.4,4.9 0 1,0 8.8,0a4.4,4.9 0 1,0 -8.8,0M511.9,696.0a3.3,3.7 0 1,0 6.6,0a3.3,3.7 0 1,0 -6.6,0M513.0,696.0a2.2,2.5 0 1,0 4.4,0a2.2,2.5 0 1,0 -4.4,0M500.9,669.7a3.0,5.5 0 1,0 6.1,0a3.0,5.5 0 1,0 -6.1,0M501.5,669.7a2.4,4.4 0 1,0 4.9,0a2.4,4.4 0 1,0 -4.9,0M502.1,669.7a1.8,3.3 0 1,0 3.6,0a1.8,3.3 0 1,0 -3.6,0M502.7,669.7a1.2,2.2 0 1,0 2.4,0a1.2,2.2 0 1,0 -2.4,0M437.6,682.4a5.2,6.1 0 1,0 10.3,0a5.2,6.1 0 1,0 -10.3,0M438.6,682.4a4.1,4.9 0 1,0 8.2,0a4.1,4.9 0 1,0 -8.2,0M439.6,682.4a3.1,3.7 0 1,0 6.2,0a3.1,3.7 0 1,0 -6.2,0M440.7,682.4a2.1,2.4 0 1,0 4.1,0a2.1,2.4 0 1,0 -4.1,0M448.1,689.3a4.5,5.1 0 1,0 9.0,0a4.5,5.1 0 1,0 -9.0,0M449.0,689.3a3.6,4.1 0 1,0 7.2,0a3.6,4.1 0 1,0 -7.2,0M449.9,689.3a2.7,3.1 0 1,0 5.4,0a2.7,3.1 0 1,0 -5.4,0M450.8,689.3a1.8,2.1 0 1,0 3.6,0a1.8,2.1 0 1,0 -3.6,0M428.3,692.2a3.3,6.4 0 1,0 6.7,0a3.3,6.4 0 1,0 -6.7,0M429.0,692.2a2.7,5.1 0 1,0 5.4,0a2.7,5.1 0 1,0 -5.4,0M429.6,692.2a2.0,3.8 0 1,0 4.0,0a2.0,3.8 0 1,0 -4.0,0M430.3,692.2a1.3,2.6 0 1,0 2.7,0a1.3,2.6 0 1,0 -2.7,0M437.6,681.2a3.1,5.9 0 1,0 6.2,0a3.1,5.9 0 1,0 -6.2,0M438.3,681.2a2.5,4.8 0 1,0 5.0,0a2.5,4.8 0 1,0 -5.0,0M438.9,681.2a1.9,3.6 0 1,0 3.7,0a1.9,3.6 0 1,0 -3.7,0M439.5,681.2a1.2,2.4 0 1,0 2.5,0a1.2,2.4 0 1,0 -2.5,0M432.6,684.9a2.8,5.3 0 1,0 5.6,0a2.8,5.3 0 1,0 -5.6,0M433.2,684.9a2.3,4.2 0 1,0 4.5,0a2.3,4.2 0 1,0 -4.5,0M433.7,684.9a1.7,3.2 0 1,0 3.4,0a1.7,3.2 0 1,0 -3.4,0M434.3,684.9a1.1,2.1 0 1,0 2.3,0a1.1,2.1 0 1,0 -2.3,0M436.7,689.7a4.1,5.0 0 1,0 8.3,0a4.1,5.0 0 1,0 -8.3,0M437.6,689.7a3.3,4.0 0 1,0 6.6,0a3.3,4.0 0 1,0 -6.6,0M438.4,689.7a2.5,3.0 0 1,0 5.0,0a2.5,3.0 0 1,0 -5.0,0M439.2,689.7a1.7,2.0 0 1,0 3.3,0a1.7,2.0 0 1,0 -3.3,0M434.9,699.3a4.1,3.5 0 1,0 8.1,0a4.1,3.5 0 1,0 -8.1,0M435.7,699.3a3.2,2.8 0 1,0 6.5,0a3.2,2.8 0 1,0 -6.5,0M436.5,699.3a2.4,2.1 0 1,0 4.9,0a2.4,2.1 0 1,0 -4.9,0M437.3,699.3a1.6,1.4 0 1,0 3.2,0a1.6,1.4 0 1,0 -3.2,0M30.4,897.5a2.5,4.0 0 1,0 5.0,0a2.5,4.0 0 1,0 -5.0,0M31.5,897.5a1.4,2.2 0 1,0 2.8,0a1.4,2.2 0 1,0 -2.8,0" fill="none" stroke="#e0262c" stroke-width="0.85"/><path d="M357.6,706.7a4.4,4.7 0 1,0 8.7,0a4.4,4.7 0 1,0 -8.7,0M395.5,724.6a3.5,5.2 0 1,0 6.9,0a3.5,5.2 0 1,0 -6.9,0M410.9,727.5a3.1,5.6 0 1,0 6.3,0a3.1,5.6 0 1,0 -6.3,0M394.9,709.3a4.6,5.9 0 1,0 9.2,0a4.6,5.9 0 1,0 -9.2,0M405.4,717.1a5.3,6.1 0 1,0 10.6,0a5.3,6.1 0 1,0 -10.6,0M369.1,719.0a3.1,5.9 0 1,0 6.2,0a3.1,5.9 0 1,0 -6.2,0M412.7,724.8a3.3,6.3 0 1,0 6.7,0a3.3,6.3 0 1,0 -6.7,0M392.8,705.8a2.8,6.6 0 1,0 5.7,0a2.8,6.6 0 1,0 -5.7,0M361.6,714.2a3.9,3.9 0 1,0 7.9,0a3.9,3.9 0 1,0 -7.9,0M361.8,732.0a3.8,4.6 0 1,0 7.7,0a3.8,4.6 0 1,0 -7.7,0M388.0,716.1a4.9,5.2 0 1,0 9.8,0a4.9,5.2 0 1,0 -9.8,0M345.3,727.7a5.3,4.5 0 1,0 10.5,0a5.3,4.5 0 1,0 -10.5,0M381.6,748.2a5.3,4.5 0 1,0 10.5,0a5.3,4.5 0 1,0 -10.5,0M384.4,745.5a5.2,6.9 0 1,0 10.4,0a5.2,6.9 0 1,0 -10.4,0M371.3,707.1a3.4,4.4 0 1,0 6.8,0a3.4,4.4 0 1,0 -6.8,0M354.4,715.8a4.1,4.5 0 1,0 8.3,0a4.1,4.5 0 1,0 -8.3,0M379.0,752.3a3.9,6.4 0 1,0 7.8,0a3.9,6.4 0 1,0 -7.8,0M358.0,737.8a5.1,5.4 0 1,0 10.2,0a5.1,5.4 0 1,0 -10.2,0M379.1,739.7a3.8,4.7 0 1,0 7.5,0a3.8,4.7 0 1,0 -7.5,0M396.5,709.8a4.5,6.0 0 1,0 8.9,0a4.5,6.0 0 1,0 -8.9,0M363.0,712.6a5.4,6.0 0 1,0 10.8,0a5.4,6.0 0 1,0 -10.8,0M354.2,733.5a3.0,6.9 0 1,0 6.0,0a3.0,6.9 0 1,0 -6.0,0M464.5,755.9a5.4,5.6 0 1,0 10.8,0a5.4,5.6 0 1,0 -10.8,0M445.5,741.8a3.6,4.1 0 1,0 7.3,0a3.6,4.1 0 1,0 -7.3,0M466.3,734.5a4.3,6.7 0 1,0 8.6,0a4.3,6.7 0 1,0 -8.6,0M444.4,758.7a4.8,4.0 0 1,0 9.6,0a4.8,4.0 0 1,0 -9.6,0M429.2,749.3a2.7,4.8 0 1,0 5.3,0a2.7,4.8 0 1,0 -5.3,0M426.1,737.4a4.6,6.6 0 1,0 9.2,0a4.6,6.6 0 1,0 -9.2,0M446.7,730.8a4.2,4.7 0 1,0 8.3,0a4.2,4.7 0 1,0 -8.3,0M449.5,763.1a4.1,4.1 0 1,0 8.2,0a4.1,4.1 0 1,0 -8.2,0M424.9,731.5a4.4,5.3 0 1,0 8.8,0a4.4,5.3 0 1,0 -8.8,0M465.2,741.6a5.4,6.0 0 1,0 10.8,0a5.4,6.0 0 1,0 -10.8,0M436.4,741.7a5.2,5.4 0 1,0 10.4,0a5.2,5.4 0 1,0 -10.4,0M432.7,736.2a3.9,4.7 0 1,0 7.8,0a3.9,4.7 0 1,0 -7.8,0M460.3,742.8a2.6,4.7 0 1,0 5.1,0a2.6,4.7 0 1,0 -5.1,0M401.3,790.0a4.1,3.7 0 1,0 8.3,0a4.1,3.7 0 1,0 -8.3,0M343.9,778.1a4.1,4.4 0 1,0 8.3,0a4.1,4.4 0 1,0 -8.3,0M355.2,805.3a3.0,6.5 0 1,0 6.0,0a3.0,6.5 0 1,0 -6.0,0M361.6,788.3a2.7,5.1 0 1,0 5.3,0a2.7,5.1 0 1,0 -5.3,0M380.0,800.1a5.0,4.4 0 1,0 9.9,0a5.0,4.4 0 1,0 -9.9,0M399.4,772.8a4.5,7.0 0 1,0 8.9,0a4.5,7.0 0 1,0 -8.9,0M363.1,774.6a3.4,6.4 0 1,0 6.8,0a3.4,6.4 0 1,0 -6.8,0M383.5,805.5a3.0,5.7 0 1,0 6.0,0a3.0,5.7 0 1,0 -6.0,0M400.4,775.0a5.0,4.1 0 1,0 10.0,0a5.0,4.1 0 1,0 -10.0,0M348.8,761.3a5.4,6.4 0 1,0 10.8,0a5.4,6.4 0 1,0 -10.8,0M386.3,794.0a4.6,5.8 0 1,0 9.1,0a4.6,5.8 0 1,0 -9.1,0M388.5,772.2a2.9,4.4 0 1,0 5.9,0a2.9,4.4 0 1,0 -5.9,0M358.5,763.8a4.4,3.8 0 1,0 8.8,0a4.4,3.8 0 1,0 -8.8,0M348.5,791.7a5.5,4.7 0 1,0 10.9,0a5.5,4.7 0 1,0 -10.9,0M385.5,772.9a4.1,3.8 0 1,0 8.2,0a4.1,3.8 0 1,0 -8.2,0M394.7,770.9a4.9,6.8 0 1,0 9.9,0a4.9,6.8 0 1,0 -9.9,0M398.5,790.0a3.2,4.2 0 1,0 6.5,0a3.2,4.2 0 1,0 -6.5,0M401.1,794.5a5.0,4.8 0 1,0 9.9,0a5.0,4.8 0 1,0 -9.9,0M362.6,768.3a2.8,6.4 0 1,0 5.6,0a2.8,6.4 0 1,0 -5.6,0M407.3,787.7a3.1,5.3 0 1,0 6.1,0a3.1,5.3 0 1,0 -6.1,0M354.8,804.6a5.4,6.2 0 1,0 10.9,0a5.4,6.2 0 1,0 -10.9,0M348.5,803.9a4.9,6.2 0 1,0 9.7,0a4.9,6.2 0 1,0 -9.7,0M379.4,802.8a3.8,5.3 0 1,0 7.7,0a3.8,5.3 0 1,0 -7.7,0M378.5,754.3a2.7,5.7 0 1,0 5.4,0a2.7,5.7 0 1,0 -5.4,0M407.2,785.0a4.2,5.7 0 1,0 8.4,0a4.2,5.7 0 1,0 -8.4,0M331.0,770.9a5.3,6.5 0 1,0 10.6,0a5.3,6.5 0 1,0 -10.6,0M397.9,777.5a5.4,4.2 0 1,0 10.8,0a5.4,4.2 0 1,0 -10.8,0M405.4,772.1a5.4,6.0 0 1,0 10.8,0a5.4,6.0 0 1,0 -10.8,0M348.8,785.1a2.5,6.2 0 1,0 5.1,0a2.5,6.2 0 1,0 -5.1,0M350.6,781.4a3.6,4.9 0 1,0 7.2,0a3.6,4.9 0 1,0 -7.2,0M341.9,793.1a3.4,6.8 0 1,0 6.8,0a3.4,6.8 0 1,0 -6.8,0M357.8,778.2a4.4,4.7 0 1,0 8.9,0a4.4,4.7 0 1,0 -8.9,0M389.7,796.5a3.4,3.6 0 1,0 6.8,0a3.4,3.6 0 1,0 -6.8,0M368.8,786.4a3.6,4.5 0 1,0 7.2,0a3.6,4.5 0 1,0 -7.2,0M352.4,788.2a4.3,4.5 0 1,0 8.5,0a4.3,4.5 0 1,0 -8.5,0M358.5,765.8a2.8,5.3 0 1,0 5.6,0a2.8,5.3 0 1,0 -5.6,0M330.1,795.9a5.1,3.7 0 1,0 10.1,0a5.1,3.7 0 1,0 -10.1,0M344.4,764.0a3.4,5.4 0 1,0 6.8,0a3.4,5.4 0 1,0 -6.8,0M373.2,779.2a3.5,4.9 0 1,0 7.0,0a3.5,4.9 0 1,0 -7.0,0M333.1,799.7a5.1,4.0 0 1,0 10.3,0a5.1,4.0 0 1,0 -10.3,0M355.1,787.4a3.8,6.3 0 1,0 7.7,0a3.8,6.3 0 1,0 -7.7,0M344.2,796.8a2.8,6.8 0 1,0 5.7,0a2.8,6.8 0 1,0 -5.7,0M339.0,786.0a5.1,6.0 0 1,0 10.2,0a5.1,6.0 0 1,0 -10.2,0M347.3,802.9a3.5,4.9 0 1,0 7.0,0a3.5,4.9 0 1,0 -7.0,0M370.4,777.9a5.1,5.5 0 1,0 10.2,0a5.1,5.5 0 1,0 -10.2,0M399.6,775.8a3.8,6.4 0 1,0 7.7,0a3.8,6.4 0 1,0 -7.7,0M342.0,781.4a2.5,4.3 0 1,0 5.1,0a2.5,4.3 0 1,0 -5.1,0M379.5,782.6a5.5,7.0 0 1,0 10.9,0a5.5,7.0 0 1,0 -10.9,0M387.0,757.8a3.7,5.1 0 1,0 7.3,0a3.7,5.1 0 1,0 -7.3,0M484.4,784.7a3.7,6.7 0 1,0 7.3,0a3.7,6.7 0 1,0 -7.3,0M453.8,777.7a4.8,5.4 0 1,0 9.7,0a4.8,5.4 0 1,0 -9.7,0M418.5,788.2a2.9,4.0 0 1,0 5.8,0a2.9,4.0 0 1,0 -5.8,0M462.9,778.4a5.2,3.5 0 1,0 10.5,0a5.2,3.5 0 1,0 -10.5,0M471.0,777.9a4.9,6.3 0 1,0 9.8,0a4.9,6.3 0 1,0 -9.8,0M461.0,790.2a5.2,6.2 0 1,0 10.4,0a5.2,6.2 0 1,0 -10.4,0M476.8,782.6a2.8,3.9 0 1,0 5.6,0a2.8,3.9 0 1,0 -5.6,0M453.0,779.9a2.9,5.5 0 1,0 5.8,0a2.9,5.5 0 1,0 -5.8,0M455.7,780.3a3.9,5.0 0 1,0 7.8,0a3.9,5.0 0 1,0 -7.8,0M437.0,795.6a3.5,4.3 0 1,0 6.9,0a3.5,4.3 0 1,0 -6.9,0M450.4,784.0a4.8,5.7 0 1,0 9.5,0a4.8,5.7 0 1,0 -9.5,0M405.5,766.9a4.8,5.1 0 1,0 9.6,0a4.8,5.1 0 1,0 -9.6,0M414.0,754.8a5.4,3.6 0 1,0 10.8,0a5.4,3.6 0 1,0 -10.8,0M417.8,752.7a3.4,3.5 0 1,0 6.8,0a3.4,3.5 0 1,0 -6.8,0M378.1,757.6a4.6,5.4 0 1,0 9.3,0a4.6,5.4 0 1,0 -9.3,0M379.3,750.1a4.3,6.7 0 1,0 8.6,0a4.3,6.7 0 1,0 -8.6,0M399.1,751.7a3.0,5.2 0 1,0 6.1,0a3.0,5.2 0 1,0 -6.1,0M366.4,758.7a3.1,5.3 0 1,0 6.1,0a3.1,5.3 0 1,0 -6.1,0M371.0,756.5a2.7,6.4 0 1,0 5.3,0a2.7,6.4 0 1,0 -5.3,0M407.0,751.6a4.3,6.2 0 1,0 8.5,0a4.3,6.2 0 1,0 -8.5,0M374.0,761.5a4.6,6.1 0 1,0 9.3,0a4.6,6.1 0 1,0 -9.3,0M375.0,839.4a2.6,5.3 0 1,0 5.1,0a2.6,5.3 0 1,0 -5.1,0M306.0,831.7a4.4,4.1 0 1,0 8.7,0a4.4,4.1 0 1,0 -8.7,0M328.8,823.8a4.1,6.6 0 1,0 8.3,0a4.1,6.6 0 1,0 -8.3,0M328.1,846.6a3.0,7.0 0 1,0 6.0,0a3.0,7.0 0 1,0 -6.0,0M328.7,814.6a2.7,6.9 0 1,0 5.3,0a2.7,6.9 0 1,0 -5.3,0M353.2,850.8a4.2,6.9 0 1,0 8.5,0a4.2,6.9 0 1,0 -8.5,0M353.6,842.2a5.3,5.4 0 1,0 10.5,0a5.3,5.4 0 1,0 -10.5,0M328.3,824.9a2.8,4.9 0 1,0 5.6,0a2.8,4.9 0 1,0 -5.6,0M344.6,842.4a2.6,3.8 0 1,0 5.2,0a2.6,3.8 0 1,0 -5.2,0M310.4,836.9a2.6,5.0 0 1,0 5.3,0a2.6,5.0 0 1,0 -5.3,0M358.4,822.3a5.1,6.8 0 1,0 10.1,0a5.1,6.8 0 1,0 -10.1,0M308.4,833.3a2.8,3.8 0 1,0 5.6,0a2.8,3.8 0 1,0 -5.6,0M336.5,839.2a2.8,5.0 0 1,0 5.6,0a2.8,5.0 0 1,0 -5.6,0M334.2,813.6a4.5,5.0 0 1,0 9.0,0a4.5,5.0 0 1,0 -9.0,0M316.7,817.7a5.3,6.7 0 1,0 10.5,0a5.3,6.7 0 1,0 -10.5,0M306.1,735.7a2.7,6.3 0 1,0 5.5,0a2.7,6.3 0 1,0 -5.5,0M306.7,741.8a3.4,5.0 0 1,0 6.8,0a3.4,5.0 0 1,0 -6.8,0M303.9,735.8a3.8,6.0 0 1,0 7.6,0a3.8,6.0 0 1,0 -7.6,0M440.9,684.0a5.0,3.6 0 1,0 10.0,0a5.0,3.6 0 1,0 -10.0,0M409.7,560.9a3.0,4.5 0 1,0 6.0,0a3.0,4.5 0 1,0 -6.0,0M354.0,582.7a3.5,5.0 0 1,0 7.0,0a3.5,5.0 0 1,0 -7.0,0M373.9,579.1a3.5,5.5 0 1,0 7.0,0a3.5,5.5 0 1,0 -7.0,0M414.5,586.5a4.5,5.5 0 1,0 9.0,0a4.5,5.5 0 1,0 -9.0,0M346.2,613.3a3.0,4.0 0 1,0 6.0,0a3.0,4.0 0 1,0 -6.0,0M402.0,607.5a3.0,3.5 0 1,0 6.0,0a3.0,3.5 0 1,0 -6.0,0M331.6,648.6a4.0,5.0 0 1,0 8.0,0a4.0,5.0 0 1,0 -8.0,0M329.2,659.4a3.5,5.0 0 1,0 7.0,0a3.5,5.0 0 1,0 -7.0,0M376.7,647.2a4.0,5.5 0 1,0 8.0,0a4.0,5.5 0 1,0 -8.0,0M358.3,672.2a5.0,5.5 0 1,0 10.0,0a5.0,5.5 0 1,0 -10.0,0M413.3,673.6a4.5,6.0 0 1,0 9.0,0a4.5,6.0 0 1,0 -9.0,0M462.2,574.7a4.0,6.0 0 1,0 8.0,0a4.0,6.0 0 1,0 -8.0,0M438.0,600.2a3.5,5.5 0 1,0 7.0,0a3.5,5.5 0 1,0 -7.0,0M425.3,611.8a3.5,5.0 0 1,0 7.0,0a3.5,5.0 0 1,0 -7.0,0M460.0,622.3a4.0,5.5 0 1,0 8.0,0a4.0,5.5 0 1,0 -8.0,0M444.0,628.6a4.0,6.5 0 1,0 8.0,0a4.0,6.5 0 1,0 -8.0,0M478.4,643.1a4.5,5.5 0 1,0 9.0,0a4.5,5.5 0 1,0 -9.0,0M471.7,659.1a4.0,6.0 0 1,0 8.0,0a4.0,6.0 0 1,0 -8.0,0M455.2,647.5a3.0,5.0 0 1,0 6.0,0a3.0,5.0 0 1,0 -6.0,0M548.3,682.4a3.0,3.5 0 1,0 6.0,0a3.0,3.5 0 1,0 -6.0,0M439.0,636.0a1.0,2.5 0 1,0 2.0,0a1.0,2.5 0 1,0 -2.0,0M324.2,708.2a3.5,5.5 0 1,0 7.0,0a3.5,5.5 0 1,0 -7.0,0M275.9,715.5a3.5,5.5 0 1,0 7.0,0a3.5,5.5 0 1,0 -7.0,0M294.1,738.0a4.5,6.0 0 1,0 9.0,0a4.5,6.0 0 1,0 -9.0,0M301.4,727.8a3.0,5.0 0 1,0 6.0,0a3.0,5.0 0 1,0 -6.0,0M316.9,727.8a3.5,7.0 0 1,0 7.0,0a3.5,7.0 0 1,0 -7.0,0M304.8,748.2a4.0,6.0 0 1,0 8.0,0a4.0,6.0 0 1,0 -8.0,0M312.5,748.2a3.5,5.5 0 1,0 7.0,0a3.5,5.5 0 1,0 -7.0,0M327.3,752.6a4.0,4.0 0 1,0 8.0,0a4.0,4.0 0 1,0 -8.0,0M340.7,747.5a3.0,5.0 0 1,0 6.0,0a3.0,5.0 0 1,0 -6.0,0M343.0,714.7a5.0,5.0 0 1,0 10.0,0a5.0,5.0 0 1,0 -10.0,0M343.0,731.5a5.0,5.0 0 1,0 10.0,0a5.0,5.0 0 1,0 -10.0,0M362.0,710.4a5.0,6.0 0 1,0 10.0,0a5.0,6.0 0 1,0 -10.0,0M376.0,708.0a4.0,5.0 0 1,0 8.0,0a4.0,5.0 0 1,0 -8.0,0M241.2,773.7a3.5,5.5 0 1,0 7.0,0a3.5,5.5 0 1,0 -7.0,0M262.1,790.4a4.5,5.0 0 1,0 9.0,0a4.5,5.0 0 1,0 -9.0,0M259.7,803.5a4.0,5.5 0 1,0 8.0,0a4.0,5.5 0 1,0 -8.0,0M286.3,800.6a3.5,5.0 0 1,0 7.0,0a3.5,5.0 0 1,0 -7.0,0M280.5,810.8a3.5,5.0 0 1,0 7.0,0a3.5,5.0 0 1,0 -7.0,0M229.6,820.2a3.5,5.0 0 1,0 7.0,0a3.5,5.0 0 1,0 -7.0,0M295.3,774.4a4.0,6.0 0 1,0 8.0,0a4.0,6.0 0 1,0 -8.0,0M304.5,774.4a3.5,5.0 0 1,0 7.0,0a3.5,5.0 0 1,0 -7.0,0M318.6,774.4a4.0,8.0 0 1,0 8.0,0a4.0,8.0 0 1,0 -8.0,0M284.2,835.5a3.5,5.0 0 1,0 7.0,0a3.5,5.0 0 1,0 -7.0,0M533.7,719.1a4.0,5.0 0 1,0 8.0,0a4.0,5.0 0 1,0 -8.0,0M513.8,756.9a3.5,5.0 0 1,0 7.0,0a3.5,5.0 0 1,0 -7.0,0M521.1,749.6a3.5,4.5 0 1,0 7.0,0a3.5,4.5 0 1,0 -7.0,0M518.9,772.2a3.5,5.0 0 1,0 7.0,0a3.5,5.0 0 1,0 -7.0,0M517.7,808.6a4.0,5.0 0 1,0 8.0,0a4.0,5.0 0 1,0 -8.0,0M490.5,825.3a3.5,5.5 0 1,0 7.0,0a3.5,5.5 0 1,0 -7.0,0M494.0,797.7a3.0,7.0 0 1,0 6.0,0a3.0,7.0 0 1,0 -6.0,0M489.3,723.5a4.0,6.0 0 1,0 8.0,0a4.0,6.0 0 1,0 -8.0,0M464.6,706.0a4.0,5.5 0 1,0 8.0,0a4.0,5.5 0 1,0 -8.0,0M472.3,715.5a5.0,5.0 0 1,0 10.0,0a5.0,5.0 0 1,0 -10.0,0M444.9,711.8a4.0,6.0 0 1,0 8.0,0a4.0,6.0 0 1,0 -8.0,0M418.0,806.4a4.0,5.0 0 1,0 8.0,0a4.0,5.0 0 1,0 -8.0,0M433.1,834.0a3.5,5.5 0 1,0 7.0,0a3.5,5.5 0 1,0 -7.0,0M444.5,837.0a3.5,4.5 0 1,0 7.0,0a3.5,4.5 0 1,0 -7.0,0M229.9,820.3a3.5,5.0 0 1,0 7.0,0a3.5,5.0 0 1,0 -7.0,0M263.5,790.0a3.5,4.5 0 1,0 7.0,0a3.5,4.5 0 1,0 -7.0,0M284.6,800.1a3.5,5.0 0 1,0 7.0,0a3.5,5.0 0 1,0 -7.0,0M281.9,810.2a3.5,5.0 0 1,0 7.0,0a3.5,5.0 0 1,0 -7.0,0M285.1,820.3a3.0,4.5 0 1,0 6.0,0a3.0,4.5 0 1,0 -6.0,0M284.3,837.1a3.5,5.0 0 1,0 7.0,0a3.5,5.0 0 1,0 -7.0,0M275.0,899.9a2.0,2.5 0 1,0 4.0,0a2.0,2.5 0 1,0 -4.0,0M302.1,903.6a3.5,4.0 0 1,0 7.0,0a3.5,4.0 0 1,0 -7.0,0M284.1,914.3a3.0,4.5 0 1,0 6.0,0a3.0,4.5 0 1,0 -6.0,0M334.5,889.1a3.0,4.0 0 1,0 6.0,0a3.0,4.0 0 1,0 -6.0,0M334.5,900.9a3.0,4.5 0 1,0 6.0,0a3.0,4.5 0 1,0 -6.0,0M331.4,869.7a2.0,3.0 0 1,0 4.0,0a2.0,3.0 0 1,0 -4.0,0M337.3,858.9a3.5,5.0 0 1,0 7.0,0a3.5,5.0 0 1,0 -7.0,0M347.9,855.6a3.0,4.5 0 1,0 6.0,0a3.0,4.5 0 1,0 -6.0,0M355.3,850.5a4.0,5.5 0 1,0 8.0,0a4.0,5.5 0 1,0 -8.0,0M367.0,840.4a4.0,5.0 0 1,0 8.0,0a4.0,5.0 0 1,0 -8.0,0M378.8,851.5a4.0,5.0 0 1,0 8.0,0a4.0,5.0 0 1,0 -8.0,0M391.6,848.8a3.0,4.5 0 1,0 6.0,0a3.0,4.5 0 1,0 -6.0,0M412.7,852.2a3.0,4.0 0 1,0 6.0,0a3.0,4.0 0 1,0 -6.0,0M394.2,922.0a2.0,3.0 0 1,0 4.0,0a2.0,3.0 0 1,0 -4.0,0M425.8,894.2a4.0,4.5 0 1,0 8.0,0a4.0,4.5 0 1,0 -8.0,0M443.4,890.8a1.5,2.0 0 1,0 3.0,0a1.5,2.0 0 1,0 -3.0,0M452.0,860.6a3.0,4.5 0 1,0 6.0,0a3.0,4.5 0 1,0 -6.0,0M444.8,838.8a3.5,5.0 0 1,0 7.0,0a3.5,5.0 0 1,0 -7.0,0M433.0,833.7a3.5,5.0 0 1,0 7.0,0a3.5,5.0 0 1,0 -7.0,0M490.6,826.0a3.0,4.5 0 1,0 6.0,0a3.0,4.5 0 1,0 -6.0,0M517.0,808.5a3.5,4.5 0 1,0 7.0,0a3.5,4.5 0 1,0 -7.0,0M133.5,848.2a2.5,4.0 0 1,0 5.0,0a2.5,4.0 0 1,0 -5.0,0" fill="#e0262c"/><path d="M392.1,564.5a1.7,2.2 0 1,0 3.4,0a1.7,2.2 0 1,0 -3.4,0M411.4,560.9a1.3,2.2 0 1,0 2.5,0a1.3,2.2 0 1,0 -2.5,0M353.2,587.1a1.3,2.0 0 1,0 2.5,0a1.3,2.0 0 1,0 -2.5,0M356.0,582.7a1.5,2.5 0 1,0 2.9,0a1.5,2.5 0 1,0 -2.9,0M377.0,577.0a1.5,2.5 0 1,0 2.9,0a1.5,2.5 0 1,0 -2.9,0M375.9,579.1a1.5,2.8 0 1,0 2.9,0a1.5,2.8 0 1,0 -2.9,0M417.1,586.5a1.9,2.8 0 1,0 3.8,0a1.9,2.8 0 1,0 -3.8,0M347.2,614.0a1.3,2.0 0 1,0 2.5,0a1.3,2.0 0 1,0 -2.5,0M347.9,613.3a1.3,2.0 0 1,0 2.5,0a1.3,2.0 0 1,0 -2.5,0M404.7,607.0a1.3,1.8 0 1,0 2.5,0a1.3,1.8 0 1,0 -2.5,0M403.7,607.5a1.3,1.8 0 1,0 2.5,0a1.3,1.8 0 1,0 -2.5,0M337.5,647.2a1.5,2.5 0 1,0 2.9,0a1.5,2.5 0 1,0 -2.9,0M333.9,648.6a1.7,2.5 0 1,0 3.4,0a1.7,2.5 0 1,0 -3.4,0M331.2,659.4a1.5,2.5 0 1,0 2.9,0a1.5,2.5 0 1,0 -2.9,0M379.5,646.0a1.5,2.5 0 1,0 2.9,0a1.5,2.5 0 1,0 -2.9,0M379.0,647.2a1.7,2.8 0 1,0 3.4,0a1.7,2.8 0 1,0 -3.4,0M356.0,672.2a1.5,2.0 0 1,0 2.9,0a1.5,2.0 0 1,0 -2.9,0M361.2,672.2a2.1,2.8 0 1,0 4.2,0a2.1,2.8 0 1,0 -4.2,0M356.6,680.9a1.3,2.2 0 1,0 2.5,0a1.3,2.2 0 1,0 -2.5,0M380.7,694.7a1.5,2.2 0 1,0 2.9,0a1.5,2.2 0 1,0 -2.9,0M415.9,673.6a1.9,3.0 0 1,0 3.8,0a1.9,3.0 0 1,0 -3.8,0M463.3,573.0a1.7,2.8 0 1,0 3.4,0a1.7,2.8 0 1,0 -3.4,0M464.5,574.7a1.7,3.0 0 1,0 3.4,0a1.7,3.0 0 1,0 -3.4,0M440.0,600.2a1.5,2.8 0 1,0 2.9,0a1.5,2.8 0 1,0 -2.9,0M445.4,602.4a1.5,2.8 0 1,0 2.9,0a1.5,2.8 0 1,0 -2.9,0M427.3,611.8a1.5,2.5 0 1,0 2.9,0a1.5,2.5 0 1,0 -2.9,0M455.5,613.3a1.3,2.5 0 1,0 2.5,0a1.3,2.5 0 1,0 -2.5,0M462.3,622.3a1.7,2.8 0 1,0 3.4,0a1.7,2.8 0 1,0 -3.4,0M446.3,628.6a1.7,3.2 0 1,0 3.4,0a1.7,3.2 0 1,0 -3.4,0M483.1,643.0a1.9,2.8 0 1,0 3.8,0a1.9,2.8 0 1,0 -3.8,0M481.0,643.1a1.9,2.8 0 1,0 3.8,0a1.9,2.8 0 1,0 -3.8,0M474.0,659.1a1.7,3.0 0 1,0 3.4,0a1.7,3.0 0 1,0 -3.4,0M456.9,647.5a1.3,2.5 0 1,0 2.5,0a1.3,2.5 0 1,0 -2.5,0M547.1,683.6a1.3,1.5 0 1,0 2.5,0a1.3,1.5 0 1,0 -2.5,0M550.0,682.4a1.3,1.8 0 1,0 2.5,0a1.3,1.8 0 1,0 -2.5,0M326.2,708.2a1.5,2.8 0 1,0 2.9,0a1.5,2.8 0 1,0 -2.9,0M277.5,716.0a1.5,2.8 0 1,0 2.9,0a1.5,2.8 0 1,0 -2.9,0M277.9,715.5a1.5,2.8 0 1,0 2.9,0a1.5,2.8 0 1,0 -2.9,0M294.3,740.0a1.7,3.0 0 1,0 3.4,0a1.7,3.0 0 1,0 -3.4,0M296.7,738.0a1.9,3.0 0 1,0 3.8,0a1.9,3.0 0 1,0 -3.8,0M303.1,727.8a1.3,2.5 0 1,0 2.5,0a1.3,2.5 0 1,0 -2.5,0M323.3,736.6a1.5,3.0 0 1,0 2.9,0a1.5,3.0 0 1,0 -2.9,0M318.9,727.8a1.5,3.5 0 1,0 2.9,0a1.5,3.5 0 1,0 -2.9,0M307.1,748.2a1.7,3.0 0 1,0 3.4,0a1.7,3.0 0 1,0 -3.4,0M314.5,748.2a1.5,2.8 0 1,0 2.9,0a1.5,2.8 0 1,0 -2.9,0M329.6,752.6a1.7,2.0 0 1,0 3.4,0a1.7,2.0 0 1,0 -3.4,0M342.4,747.5a1.3,2.5 0 1,0 2.5,0a1.3,2.5 0 1,0 -2.5,0M344.3,713.0a1.7,2.5 0 1,0 3.4,0a1.7,2.5 0 1,0 -3.4,0M345.9,714.7a2.1,2.5 0 1,0 4.2,0a2.1,2.5 0 1,0 -4.2,0M344.1,730.0a1.9,2.5 0 1,0 3.8,0a1.9,2.5 0 1,0 -3.8,0M345.9,731.5a2.1,2.5 0 1,0 4.2,0a2.1,2.5 0 1,0 -4.2,0M363.3,708.0a1.7,2.5 0 1,0 3.4,0a1.7,2.5 0 1,0 -3.4,0M364.9,710.4a2.1,3.0 0 1,0 4.2,0a2.1,3.0 0 1,0 -4.2,0M378.3,708.0a1.7,2.5 0 1,0 3.4,0a1.7,2.5 0 1,0 -3.4,0M243.2,773.7a1.5,2.8 0 1,0 2.9,0a1.5,2.8 0 1,0 -2.9,0M261.3,792.0a1.7,2.5 0 1,0 3.4,0a1.7,2.5 0 1,0 -3.4,0M264.7,790.4a1.9,2.5 0 1,0 3.8,0a1.9,2.5 0 1,0 -3.8,0M258.5,801.3a1.5,2.5 0 1,0 2.9,0a1.5,2.5 0 1,0 -2.9,0M262.0,803.5a1.7,2.8 0 1,0 3.4,0a1.7,2.8 0 1,0 -3.4,0M288.3,800.6a1.5,2.5 0 1,0 2.9,0a1.5,2.5 0 1,0 -2.9,0M282.5,810.8a1.5,2.5 0 1,0 2.9,0a1.5,2.5 0 1,0 -2.9,0M286.4,821.0a1.3,2.2 0 1,0 2.5,0a1.3,2.2 0 1,0 -2.5,0M230.5,820.0a1.5,2.5 0 1,0 2.9,0a1.5,2.5 0 1,0 -2.9,0M231.6,820.2a1.5,2.5 0 1,0 2.9,0a1.5,2.5 0 1,0 -2.9,0M297.6,774.4a1.7,3.0 0 1,0 3.4,0a1.7,3.0 0 1,0 -3.4,0M306.5,774.4a1.5,2.5 0 1,0 2.9,0a1.5,2.5 0 1,0 -2.9,0M320.9,774.4a1.7,4.0 0 1,0 3.4,0a1.7,4.0 0 1,0 -3.4,0M286.2,835.5a1.5,2.5 0 1,0 2.9,0a1.5,2.5 0 1,0 -2.9,0M538.5,716.0a1.5,2.2 0 1,0 2.9,0a1.5,2.2 0 1,0 -2.9,0M536.0,719.1a1.7,2.5 0 1,0 3.4,0a1.7,2.5 0 1,0 -3.4,0M499.8,748.2a1.5,2.2 0 1,0 2.9,0a1.5,2.2 0 1,0 -2.9,0M515.8,756.9a1.5,2.5 0 1,0 2.9,0a1.5,2.5 0 1,0 -2.9,0M523.1,749.6a1.5,2.2 0 1,0 2.9,0a1.5,2.2 0 1,0 -2.9,0M521.7,775.0a1.3,2.0 0 1,0 2.5,0a1.3,2.0 0 1,0 -2.5,0M520.9,772.2a1.5,2.5 0 1,0 2.9,0a1.5,2.5 0 1,0 -2.9,0M521.5,808.0a1.5,2.2 0 1,0 2.9,0a1.5,2.2 0 1,0 -2.9,0M520.0,808.6a1.7,2.5 0 1,0 3.4,0a1.7,2.5 0 1,0 -3.4,0M492.5,825.3a1.5,2.8 0 1,0 2.9,0a1.5,2.8 0 1,0 -2.9,0M495.7,797.0a1.3,3.0 0 1,0 2.5,0a1.3,3.0 0 1,0 -2.5,0M495.7,797.7a1.3,3.5 0 1,0 2.5,0a1.3,3.5 0 1,0 -2.5,0M491.6,723.5a1.7,3.0 0 1,0 3.4,0a1.7,3.0 0 1,0 -3.4,0M485.2,715.5a1.5,2.5 0 1,0 2.9,0a1.5,2.5 0 1,0 -2.9,0M466.9,706.0a1.7,2.8 0 1,0 3.4,0a1.7,2.8 0 1,0 -3.4,0M475.2,715.5a2.1,2.5 0 1,0 4.2,0a2.1,2.5 0 1,0 -4.2,0M447.2,711.8a1.7,3.0 0 1,0 3.4,0a1.7,3.0 0 1,0 -3.4,0M460.0,812.2a1.3,2.2 0 1,0 2.5,0a1.3,2.2 0 1,0 -2.5,0M425.6,825.3a1.5,2.2 0 1,0 2.9,0a1.5,2.2 0 1,0 -2.9,0M420.3,806.4a1.7,2.5 0 1,0 3.4,0a1.7,2.5 0 1,0 -3.4,0M435.1,834.0a1.5,2.8 0 1,0 2.9,0a1.5,2.8 0 1,0 -2.9,0M446.5,837.0a1.5,2.2 0 1,0 2.9,0a1.5,2.2 0 1,0 -2.9,0M231.9,820.3a1.5,2.5 0 1,0 2.9,0a1.5,2.5 0 1,0 -2.9,0M260.5,798.0a1.5,2.5 0 1,0 2.9,0a1.5,2.5 0 1,0 -2.9,0M265.5,790.0a1.5,2.2 0 1,0 2.9,0a1.5,2.2 0 1,0 -2.9,0M286.6,800.1a1.5,2.5 0 1,0 2.9,0a1.5,2.5 0 1,0 -2.9,0M283.9,810.2a1.5,2.5 0 1,0 2.9,0a1.5,2.5 0 1,0 -2.9,0M286.8,820.3a1.3,2.2 0 1,0 2.5,0a1.3,2.2 0 1,0 -2.5,0M286.0,836.0a1.5,2.5 0 1,0 2.9,0a1.5,2.5 0 1,0 -2.9,0M286.3,837.1a1.5,2.5 0 1,0 2.9,0a1.5,2.5 0 1,0 -2.9,0M303.3,903.0a1.7,2.2 0 1,0 3.4,0a1.7,2.2 0 1,0 -3.4,0M304.1,903.6a1.5,2.0 0 1,0 2.9,0a1.5,2.0 0 1,0 -2.9,0M285.8,914.3a1.3,2.2 0 1,0 2.5,0a1.3,2.2 0 1,0 -2.5,0M336.2,889.1a1.3,2.0 0 1,0 2.5,0a1.3,2.0 0 1,0 -2.5,0M336.2,900.9a1.3,2.2 0 1,0 2.5,0a1.3,2.2 0 1,0 -2.5,0M349.6,870.7a1.3,2.2 0 1,0 2.5,0a1.3,2.2 0 1,0 -2.5,0M339.3,858.9a1.5,2.5 0 1,0 2.9,0a1.5,2.5 0 1,0 -2.9,0M344.4,855.6a1.5,2.5 0 1,0 2.9,0a1.5,2.5 0 1,0 -2.9,0M349.6,855.6a1.3,2.2 0 1,0 2.5,0a1.3,2.2 0 1,0 -2.5,0M357.6,850.5a1.7,2.8 0 1,0 3.4,0a1.7,2.8 0 1,0 -3.4,0M369.3,840.4a1.7,2.5 0 1,0 3.4,0a1.7,2.5 0 1,0 -3.4,0M381.1,851.5a1.7,2.5 0 1,0 3.4,0a1.7,2.5 0 1,0 -3.4,0M393.3,848.8a1.3,2.2 0 1,0 2.5,0a1.3,2.2 0 1,0 -2.5,0M414.4,852.2a1.3,2.0 0 1,0 2.5,0a1.3,2.0 0 1,0 -2.5,0M429.3,895.0a1.7,2.2 0 1,0 3.4,0a1.7,2.2 0 1,0 -3.4,0M428.1,894.2a1.7,2.2 0 1,0 3.4,0a1.7,2.2 0 1,0 -3.4,0M450.3,859.9a1.3,2.2 0 1,0 2.5,0a1.3,2.2 0 1,0 -2.5,0M453.7,860.6a1.3,2.2 0 1,0 2.5,0a1.3,2.2 0 1,0 -2.5,0M446.8,838.8a1.5,2.5 0 1,0 2.9,0a1.5,2.5 0 1,0 -2.9,0M435.0,833.7a1.5,2.5 0 1,0 2.9,0a1.5,2.5 0 1,0 -2.9,0M425.6,825.3a1.5,2.5 0 1,0 2.9,0a1.5,2.5 0 1,0 -2.9,0M460.4,812.9a1.3,2.2 0 1,0 2.5,0a1.3,2.2 0 1,0 -2.5,0M492.3,826.0a1.3,2.2 0 1,0 2.5,0a1.3,2.2 0 1,0 -2.5,0M519.0,808.5a1.5,2.2 0 1,0 2.9,0a1.5,2.2 0 1,0 -2.9,0M100.1,832.0a1.3,1.5 0 1,0 2.5,0a1.3,1.5 0 1,0 -2.5,0M135.2,847.5a1.3,2.0 0 1,0 2.5,0a1.3,2.0 0 1,0 -2.5,0M134.9,848.2a1.1,2.0 0 1,0 2.1,0a1.1,2.0 0 1,0 -2.1,0" fill="none" stroke="#fff" stroke-width="0.5" opacity="0.6"/><path d="M1095.0,757.6a5.2,3.8 0 1,0 10.5,0a5.2,3.8 0 1,0 -10.5,0M1084.5,745.1a4.5,6.6 0 1,0 9.1,0a4.5,6.6 0 1,0 -9.1,0M1082.8,779.9a4.0,6.9 0 1,0 8.1,0a4.0,6.9 0 1,0 -8.1,0M1145.8,783.5a2.8,3.6 0 1,0 5.6,0a2.8,3.6 0 1,0 -5.6,0M1135.2,797.0a4.9,4.0 0 1,0 9.7,0a4.9,4.0 0 1,0 -9.7,0M1144.6,794.2a5.0,5.3 0 1,0 9.9,0a5.0,5.3 0 1,0 -9.9,0M1116.1,821.5a4.8,6.6 0 1,0 9.6,0a4.8,6.6 0 1,0 -9.6,0M1111.9,810.8a5.1,6.3 0 1,0 10.2,0a5.1,6.3 0 1,0 -10.2,0M1051.1,789.6a3.5,3.8 0 1,0 7.1,0a3.5,3.8 0 1,0 -7.1,0M1120.8,807.1a5.2,5.6 0 1,0 10.3,0a5.2,5.6 0 1,0 -10.3,0M1127.8,752.6a3.0,5.9 0 1,0 6.1,0a3.0,5.9 0 1,0 -6.1,0M1140.8,760.4a4.3,3.8 0 1,0 8.6,0a4.3,3.8 0 1,0 -8.6,0M1147.2,718.2a5.1,4.0 0 1,0 10.2,0a5.1,4.0 0 1,0 -10.2,0M1120.9,750.1a4.7,5.7 0 1,0 9.4,0a4.7,5.7 0 1,0 -9.4,0M1133.9,775.5a4.0,4.0 0 1,0 8.0,0a4.0,4.0 0 1,0 -8.0,0M1143.0,673.4a2.9,4.9 0 1,0 5.8,0a2.9,4.9 0 1,0 -5.8,0M1134.2,683.7a2.7,5.0 0 1,0 5.4,0a2.7,5.0 0 1,0 -5.4,0M1008.9,826.7a5.3,6.7 0 1,0 10.5,0a5.3,6.7 0 1,0 -10.5,0M1041.4,844.5a4.7,6.0 0 1,0 9.3,0a4.7,6.0 0 1,0 -9.3,0M1054.7,840.9a4.9,4.6 0 1,0 9.9,0a4.9,4.6 0 1,0 -9.9,0M1154.0,797.3a2.5,5.1 0 1,0 5.0,0a2.5,5.1 0 1,0 -5.0,0M1114.3,785.7a5.4,6.9 0 1,0 10.7,0a5.4,6.9 0 1,0 -10.7,0M998.3,819.9a2.6,5.4 0 1,0 5.1,0a2.6,5.4 0 1,0 -5.1,0M1035.3,712.9a3.3,6.1 0 1,0 6.6,0a3.3,6.1 0 1,0 -6.6,0M1057.1,720.1a4.6,5.2 0 1,0 9.3,0a4.6,5.2 0 1,0 -9.3,0M1038.2,714.0a4.3,6.4 0 1,0 8.7,0a4.3,6.4 0 1,0 -8.7,0M1030.0,592.0a4.0,5.5 0 1,0 8.0,0a4.0,5.5 0 1,0 -8.0,0M1055.5,580.0a4.5,6.0 0 1,0 9.0,0a4.5,6.0 0 1,0 -9.0,0M1014.5,652.0a4.5,6.0 0 1,0 9.0,0a4.5,6.0 0 1,0 -9.0,0M1066.0,648.0a4.0,5.5 0 1,0 8.0,0a4.0,5.5 0 1,0 -8.0,0M965.5,713.0a4.5,5.5 0 1,0 9.0,0a4.5,5.5 0 1,0 -9.0,0M1009.0,706.0a4.0,5.5 0 1,0 8.0,0a4.0,5.5 0 1,0 -8.0,0M1100.0,586.0a4.0,5.5 0 1,0 8.0,0a4.0,5.5 0 1,0 -8.0,0M1138.5,573.5a1.0,1.0 0 1,0 2.0,0a1.0,1.0 0 1,0 -2.0,0M1146.0,616.0a5.0,4.5 0 1,0 10.0,0a5.0,4.5 0 1,0 -10.0,0M1116.0,655.0a2.0,4.0 0 1,0 4.0,0a2.0,4.0 0 1,0 -4.0,0M1125.5,655.0a1.5,4.0 0 1,0 3.0,0a1.5,4.0 0 1,0 -3.0,0M1136.0,650.0a3.0,5.0 0 1,0 6.0,0a3.0,5.0 0 1,0 -6.0,0M1099.5,672.0a4.5,6.5 0 1,0 9.0,0a4.5,6.5 0 1,0 -9.0,0M1191.0,654.0a2.0,3.5 0 1,0 4.0,0a2.0,3.5 0 1,0 -4.0,0M1212.0,645.0a2.0,5.0 0 1,0 4.0,0a2.0,5.0 0 1,0 -4.0,0M1210.0,692.0a3.0,3.0 0 1,0 6.0,0a3.0,3.0 0 1,0 -6.0,0M1220.0,713.0a3.0,4.0 0 1,0 6.0,0a3.0,4.0 0 1,0 -6.0,0M1001.0,727.0a5.0,6.0 0 1,0 10.0,0a5.0,6.0 0 1,0 -10.0,0M980.0,738.0a4.0,6.0 0 1,0 8.0,0a4.0,6.0 0 1,0 -8.0,0M994.0,750.0a5.0,6.0 0 1,0 10.0,0a5.0,6.0 0 1,0 -10.0,0M1012.5,753.0a4.5,5.0 0 1,0 9.0,0a4.5,5.0 0 1,0 -9.0,0M983.0,772.0a5.0,6.0 0 1,0 10.0,0a5.0,6.0 0 1,0 -10.0,0M1004.5,771.0a4.5,6.0 0 1,0 9.0,0a4.5,6.0 0 1,0 -9.0,0M926.0,773.0a4.0,5.5 0 1,0 8.0,0a4.0,5.5 0 1,0 -8.0,0M947.5,802.0a4.5,5.5 0 1,0 9.0,0a4.5,5.5 0 1,0 -9.0,0M973.5,802.0a4.5,7.0 0 1,0 9.0,0a4.5,7.0 0 1,0 -9.0,0M917.0,821.0a4.0,5.5 0 1,0 8.0,0a4.0,5.5 0 1,0 -8.0,0M969.0,836.0a4.0,5.0 0 1,0 8.0,0a4.0,5.0 0 1,0 -8.0,0M1041.0,849.0a5.0,6.0 0 1,0 10.0,0a5.0,6.0 0 1,0 -10.0,0M1028.5,727.0a4.5,5.5 0 1,0 9.0,0a4.5,5.5 0 1,0 -9.0,0M1163.0,715.0a4.0,5.0 0 1,0 8.0,0a4.0,5.0 0 1,0 -8.0,0M1172.0,724.0a6.0,5.5 0 1,0 12.0,0a6.0,5.5 0 1,0 -12.0,0M1218.0,716.0a4.0,5.0 0 1,0 8.0,0a4.0,5.0 0 1,0 -8.0,0M1166.0,749.0a7.0,6.5 0 1,0 14.0,0a7.0,6.5 0 1,0 -14.0,0M1204.0,757.0a3.0,4.5 0 1,0 6.0,0a3.0,4.5 0 1,0 -6.0,0M1201.0,776.0a3.5,5.0 0 1,0 7.0,0a3.5,5.0 0 1,0 -7.0,0M1164.0,787.0a6.0,6.0 0 1,0 12.0,0a6.0,6.0 0 1,0 -12.0,0M1180.5,802.0a3.5,5.0 0 1,0 7.0,0a3.5,5.0 0 1,0 -7.0,0M1178.5,826.0a4.5,5.5 0 1,0 9.0,0a4.5,5.5 0 1,0 -9.0,0M1125.5,823.0a6.5,6.0 0 1,0 13.0,0a6.5,6.0 0 1,0 -13.0,0M1108.0,848.0a4.0,6.0 0 1,0 8.0,0a4.0,6.0 0 1,0 -8.0,0M1133.0,869.0a5.0,5.0 0 1,0 10.0,0a5.0,5.0 0 1,0 -10.0,0M1117.0,893.0a5.0,5.0 0 1,0 10.0,0a5.0,5.0 0 1,0 -10.0,0M968.5,911.5a4.0,5.0 0 1,0 8.0,0a4.0,5.0 0 1,0 -8.0,0M993.0,894.0a4.0,5.5 0 1,0 8.0,0a4.0,5.5 0 1,0 -8.0,0M1017.0,906.0a4.0,5.5 0 1,0 8.0,0a4.0,5.5 0 1,0 -8.0,0M720.0,896.0a3.0,4.0 0 1,0 6.0,0a3.0,4.0 0 1,0 -6.0,0M817.0,852.0a3.0,3.5 0 1,0 6.0,0a3.0,3.5 0 1,0 -6.0,0" fill="#3d55b8"/><path d="M1093.6,748.5a3.8,4.4 0 1,0 7.7,0a3.8,4.4 0 1,0 -7.7,0M1094.7,748.5a2.7,3.1 0 1,0 5.4,0a2.7,3.1 0 1,0 -5.4,0M1095.9,748.5a1.5,1.8 0 1,0 3.1,0a1.5,1.8 0 1,0 -3.1,0M1089.9,745.3a4.2,4.3 0 1,0 8.4,0a4.2,4.3 0 1,0 -8.4,0M1091.1,745.3a2.9,3.0 0 1,0 5.9,0a2.9,3.0 0 1,0 -5.9,0M1092.4,745.3a1.7,1.7 0 1,0 3.3,0a1.7,1.7 0 1,0 -3.3,0M1081.6,763.1a3.9,5.4 0 1,0 7.8,0a3.9,5.4 0 1,0 -7.8,0M1082.7,763.1a2.7,3.7 0 1,0 5.4,0a2.7,3.7 0 1,0 -5.4,0M1083.9,763.1a1.6,2.1 0 1,0 3.1,0a1.6,2.1 0 1,0 -3.1,0M1052.1,749.8a5.3,6.0 0 1,0 10.5,0a5.3,6.0 0 1,0 -10.5,0M1053.7,749.8a3.7,4.2 0 1,0 7.4,0a3.7,4.2 0 1,0 -7.4,0M1055.2,749.8a2.1,2.4 0 1,0 4.2,0a2.1,2.4 0 1,0 -4.2,0M1056.4,746.6a4.5,5.6 0 1,0 8.9,0a4.5,5.6 0 1,0 -8.9,0M1057.8,746.6a3.1,3.9 0 1,0 6.2,0a3.1,3.9 0 1,0 -6.2,0M1059.1,746.6a1.8,2.2 0 1,0 3.6,0a1.8,2.2 0 1,0 -3.6,0M1078.7,778.1a3.1,6.1 0 1,0 6.1,0a3.1,6.1 0 1,0 -6.1,0M1079.6,778.1a2.2,4.3 0 1,0 4.3,0a2.2,4.3 0 1,0 -4.3,0M1080.5,778.1a1.2,2.4 0 1,0 2.5,0a1.2,2.4 0 1,0 -2.5,0M1025.8,746.5a5.1,4.4 0 1,0 10.1,0a5.1,4.4 0 1,0 -10.1,0M1027.3,746.5a3.5,3.0 0 1,0 7.1,0a3.5,3.0 0 1,0 -7.1,0M1028.8,746.5a2.0,1.7 0 1,0 4.0,0a2.0,1.7 0 1,0 -4.0,0M1041.8,754.4a4.7,3.9 0 1,0 9.5,0a4.7,3.9 0 1,0 -9.5,0M1043.3,754.4a3.3,2.7 0 1,0 6.6,0a3.3,2.7 0 1,0 -6.6,0M1044.7,754.4a1.9,1.6 0 1,0 3.8,0a1.9,1.6 0 1,0 -3.8,0M1089.3,767.3a5.1,6.0 0 1,0 10.2,0a5.1,6.0 0 1,0 -10.2,0M1090.8,767.3a3.6,4.2 0 1,0 7.1,0a3.6,4.2 0 1,0 -7.1,0M1092.4,767.3a2.0,2.4 0 1,0 4.1,0a2.0,2.4 0 1,0 -4.1,0M1054.8,774.7a2.9,5.5 0 1,0 5.8,0a2.9,5.5 0 1,0 -5.8,0M1055.7,774.7a2.0,3.9 0 1,0 4.0,0a2.0,3.9 0 1,0 -4.0,0M1056.5,774.7a1.2,2.2 0 1,0 2.3,0a1.2,2.2 0 1,0 -2.3,0M1066.1,735.9a2.6,5.5 0 1,0 5.1,0a2.6,5.5 0 1,0 -5.1,0M1066.9,735.9a1.8,3.8 0 1,0 3.6,0a1.8,3.8 0 1,0 -3.6,0M1067.7,735.9a1.0,2.2 0 1,0 2.0,0a1.0,2.2 0 1,0 -2.0,0M1037.0,736.6a4.1,3.5 0 1,0 8.2,0a4.1,3.5 0 1,0 -8.2,0M1038.2,736.6a2.9,2.5 0 1,0 5.7,0a2.9,2.5 0 1,0 -5.7,0M1039.5,736.6a1.6,1.4 0 1,0 3.3,0a1.6,1.4 0 1,0 -3.3,0M1036.1,719.8a4.1,5.1 0 1,0 8.1,0a4.1,5.1 0 1,0 -8.1,0M1037.3,719.8a2.8,3.6 0 1,0 5.7,0a2.8,3.6 0 1,0 -5.7,0M1038.5,719.8a1.6,2.1 0 1,0 3.2,0a1.6,2.1 0 1,0 -3.2,0M1076.8,739.6a4.0,5.5 0 1,0 8.1,0a4.0,5.5 0 1,0 -8.1,0M1078.0,739.6a2.8,3.9 0 1,0 5.6,0a2.8,3.9 0 1,0 -5.6,0M1079.2,739.6a1.6,2.2 0 1,0 3.2,0a1.6,2.2 0 1,0 -3.2,0M1023.2,728.3a5.0,5.9 0 1,0 10.0,0a5.0,5.9 0 1,0 -10.0,0M1024.7,728.3a3.5,4.1 0 1,0 7.0,0a3.5,4.1 0 1,0 -7.0,0M1026.2,728.3a2.0,2.3 0 1,0 4.0,0a2.0,2.3 0 1,0 -4.0,0M1080.5,718.6a4.2,4.9 0 1,0 8.4,0a4.2,4.9 0 1,0 -8.4,0M1081.7,718.6a3.0,3.4 0 1,0 5.9,0a3.0,3.4 0 1,0 -5.9,0M1083.0,718.6a1.7,1.9 0 1,0 3.4,0a1.7,1.9 0 1,0 -3.4,0M1041.9,724.5a4.0,4.4 0 1,0 7.9,0a4.0,4.4 0 1,0 -7.9,0M1043.0,724.5a2.8,3.1 0 1,0 5.6,0a2.8,3.1 0 1,0 -5.6,0M1044.2,724.5a1.6,1.8 0 1,0 3.2,0a1.6,1.8 0 1,0 -3.2,0M1020.4,730.8a5.5,4.0 0 1,0 11.0,0a5.5,4.0 0 1,0 -11.0,0M1022.0,730.8a3.8,2.8 0 1,0 7.7,0a3.8,2.8 0 1,0 -7.7,0M1023.7,730.8a2.2,1.6 0 1,0 4.4,0a2.2,1.6 0 1,0 -4.4,0M1052.8,705.4a4.3,6.6 0 1,0 8.6,0a4.3,6.6 0 1,0 -8.6,0M1054.1,705.4a3.0,4.6 0 1,0 6.0,0a3.0,4.6 0 1,0 -6.0,0M1055.4,705.4a1.7,2.6 0 1,0 3.4,0a1.7,2.6 0 1,0 -3.4,0M1096.0,763.0a3.9,6.9 0 1,0 7.8,0a3.9,6.9 0 1,0 -7.8,0M1097.2,763.0a2.7,4.8 0 1,0 5.5,0a2.7,4.8 0 1,0 -5.5,0M1098.3,763.0a1.6,2.7 0 1,0 3.1,0a1.6,2.7 0 1,0 -3.1,0M1077.6,755.3a5.2,6.6 0 1,0 10.4,0a5.2,6.6 0 1,0 -10.4,0M1079.2,755.3a3.7,4.6 0 1,0 7.3,0a3.7,4.6 0 1,0 -7.3,0M1080.8,755.3a2.1,2.6 0 1,0 4.2,0a2.1,2.6 0 1,0 -4.2,0M1071.3,732.4a3.3,5.3 0 1,0 6.6,0a3.3,5.3 0 1,0 -6.6,0M1072.3,732.4a2.3,3.7 0 1,0 4.6,0a2.3,3.7 0 1,0 -4.6,0M1073.3,732.4a1.3,2.1 0 1,0 2.6,0a1.3,2.1 0 1,0 -2.6,0M1030.0,737.4a3.9,4.5 0 1,0 7.8,0a3.9,4.5 0 1,0 -7.8,0M1031.2,737.4a2.7,3.2 0 1,0 5.5,0a2.7,3.2 0 1,0 -5.5,0M1032.4,737.4a1.6,1.8 0 1,0 3.1,0a1.6,1.8 0 1,0 -3.1,0M1063.2,781.3a2.7,6.4 0 1,0 5.5,0a2.7,6.4 0 1,0 -5.5,0M1064.1,781.3a1.9,4.5 0 1,0 3.8,0a1.9,4.5 0 1,0 -3.8,0M1064.9,781.3a1.1,2.6 0 1,0 2.2,0a1.1,2.6 0 1,0 -2.2,0M1044.3,720.6a3.9,4.3 0 1,0 7.7,0a3.9,4.3 0 1,0 -7.7,0M1045.5,720.6a2.7,3.0 0 1,0 5.4,0a2.7,3.0 0 1,0 -5.4,0M1046.6,720.6a1.5,1.7 0 1,0 3.1,0a1.5,1.7 0 1,0 -3.1,0M1047.6,728.7a2.7,5.1 0 1,0 5.5,0a2.7,5.1 0 1,0 -5.5,0M1048.4,728.7a1.9,3.6 0 1,0 3.8,0a1.9,3.6 0 1,0 -3.8,0M1049.2,728.7a1.1,2.0 0 1,0 2.2,0a1.1,2.0 0 1,0 -2.2,0M1050.5,755.2a5.3,4.6 0 1,0 10.6,0a5.3,4.6 0 1,0 -10.6,0M1052.1,755.2a3.7,3.2 0 1,0 7.4,0a3.7,3.2 0 1,0 -7.4,0M1053.7,755.2a2.1,1.9 0 1,0 4.2,0a2.1,1.9 0 1,0 -4.2,0M1071.0,758.6a3.6,4.9 0 1,0 7.2,0a3.6,4.9 0 1,0 -7.2,0M1072.1,758.6a2.5,3.4 0 1,0 5.0,0a2.5,3.4 0 1,0 -5.0,0M1073.1,758.6a1.4,2.0 0 1,0 2.9,0a1.4,2.0 0 1,0 -2.9,0M1061.3,721.1a5.0,4.9 0 1,0 10.0,0a5.0,4.9 0 1,0 -10.0,0M1062.8,721.1a3.5,3.4 0 1,0 7.0,0a3.5,3.4 0 1,0 -7.0,0M1064.3,721.1a2.0,1.9 0 1,0 4.0,0a2.0,1.9 0 1,0 -4.0,0M1032.1,722.8a3.8,4.4 0 1,0 7.5,0a3.8,4.4 0 1,0 -7.5,0M1033.3,722.8a2.6,3.1 0 1,0 5.3,0a2.6,3.1 0 1,0 -5.3,0M1034.4,722.8a1.5,1.8 0 1,0 3.0,0a1.5,1.8 0 1,0 -3.0,0M1082.7,714.7a4.1,6.5 0 1,0 8.1,0a4.1,6.5 0 1,0 -8.1,0M1083.9,714.7a2.8,4.5 0 1,0 5.7,0a2.8,4.5 0 1,0 -5.7,0M1085.1,714.7a1.6,2.6 0 1,0 3.3,0a1.6,2.6 0 1,0 -3.3,0M1033.8,736.2a3.4,5.0 0 1,0 6.8,0a3.4,5.0 0 1,0 -6.8,0M1034.8,736.2a2.4,3.5 0 1,0 4.7,0a2.4,3.5 0 1,0 -4.7,0M1035.8,736.2a1.4,2.0 0 1,0 2.7,0a1.4,2.0 0 1,0 -2.7,0M1055.9,727.9a4.8,7.0 0 1,0 9.6,0a4.8,7.0 0 1,0 -9.6,0M1057.4,727.9a3.4,4.9 0 1,0 6.7,0a3.4,4.9 0 1,0 -6.7,0M1058.8,727.9a1.9,2.8 0 1,0 3.8,0a1.9,2.8 0 1,0 -3.8,0M1088.2,753.5a2.6,4.2 0 1,0 5.2,0a2.6,4.2 0 1,0 -5.2,0M1089.0,753.5a1.8,2.9 0 1,0 3.7,0a1.8,2.9 0 1,0 -3.7,0M1089.8,753.5a1.0,1.7 0 1,0 2.1,0a1.0,1.7 0 1,0 -2.1,0M1079.2,761.1a4.9,5.1 0 1,0 9.7,0a4.9,5.1 0 1,0 -9.7,0M1080.7,761.1a3.4,3.5 0 1,0 6.8,0a3.4,3.5 0 1,0 -6.8,0M1082.1,761.1a1.9,2.0 0 1,0 3.9,0a1.9,2.0 0 1,0 -3.9,0M1054.4,719.7a3.9,5.5 0 1,0 7.8,0a3.9,5.5 0 1,0 -7.8,0M1055.6,719.7a2.7,3.9 0 1,0 5.5,0a2.7,3.9 0 1,0 -5.5,0M1056.8,719.7a1.6,2.2 0 1,0 3.1,0a1.6,2.2 0 1,0 -3.1,0M1065.1,760.0a5.2,5.9 0 1,0 10.3,0a5.2,5.9 0 1,0 -10.3,0M1066.6,760.0a3.6,4.1 0 1,0 7.2,0a3.6,4.1 0 1,0 -7.2,0M1068.2,760.0a2.1,2.4 0 1,0 4.1,0a2.1,2.4 0 1,0 -4.1,0M1090.8,718.8a3.4,4.6 0 1,0 6.9,0a3.4,4.6 0 1,0 -6.9,0M1091.8,718.8a2.4,3.2 0 1,0 4.8,0a2.4,3.2 0 1,0 -4.8,0M1092.9,718.8a1.4,1.8 0 1,0 2.8,0a1.4,1.8 0 1,0 -2.8,0M1063.6,714.5a3.0,5.6 0 1,0 5.9,0a3.0,5.6 0 1,0 -5.9,0M1064.5,714.5a2.1,3.9 0 1,0 4.1,0a2.1,3.9 0 1,0 -4.1,0M1065.3,714.5a1.2,2.2 0 1,0 2.4,0a1.2,2.2 0 1,0 -2.4,0M1058.7,772.4a5.2,4.0 0 1,0 10.5,0a5.2,4.0 0 1,0 -10.5,0M1060.3,772.4a3.7,2.8 0 1,0 7.3,0a3.7,2.8 0 1,0 -7.3,0M1061.8,772.4a2.1,1.6 0 1,0 4.2,0a2.1,1.6 0 1,0 -4.2,0M1087.4,750.5a4.6,5.3 0 1,0 9.2,0a4.6,5.3 0 1,0 -9.2,0M1088.8,750.5a3.2,3.7 0 1,0 6.4,0a3.2,3.7 0 1,0 -6.4,0M1090.2,750.5a1.8,2.1 0 1,0 3.7,0a1.8,2.1 0 1,0 -3.7,0M1068.3,735.3a3.8,6.9 0 1,0 7.6,0a3.8,6.9 0 1,0 -7.6,0M1069.4,735.3a2.7,4.8 0 1,0 5.3,0a2.7,4.8 0 1,0 -5.3,0M1070.6,735.3a1.5,2.8 0 1,0 3.0,0a1.5,2.8 0 1,0 -3.0,0M1078.7,751.7a4.6,6.1 0 1,0 9.2,0a4.6,6.1 0 1,0 -9.2,0M1080.1,751.7a3.2,4.2 0 1,0 6.5,0a3.2,4.2 0 1,0 -6.5,0M1081.5,751.7a1.8,2.4 0 1,0 3.7,0a1.8,2.4 0 1,0 -3.7,0M1061.4,711.1a4.5,5.0 0 1,0 9.0,0a4.5,5.0 0 1,0 -9.0,0M1062.8,711.1a3.2,3.5 0 1,0 6.3,0a3.2,3.5 0 1,0 -6.3,0M1064.1,711.1a1.8,2.0 0 1,0 3.6,0a1.8,2.0 0 1,0 -3.6,0M1046.0,730.9a5.3,5.6 0 1,0 10.5,0a5.3,5.6 0 1,0 -10.5,0M1047.6,730.9a3.7,3.9 0 1,0 7.4,0a3.7,3.9 0 1,0 -7.4,0M1049.1,730.9a2.1,2.2 0 1,0 4.2,0a2.1,2.2 0 1,0 -4.2,0M1066.5,708.7a3.2,4.2 0 1,0 6.4,0a3.2,4.2 0 1,0 -6.4,0M1067.4,708.7a2.2,2.9 0 1,0 4.5,0a2.2,2.9 0 1,0 -4.5,0M1068.4,708.7a1.3,1.7 0 1,0 2.6,0a1.3,1.7 0 1,0 -2.6,0M1069.9,749.7a3.3,5.0 0 1,0 6.5,0a3.3,5.0 0 1,0 -6.5,0M1070.9,749.7a2.3,3.5 0 1,0 4.6,0a2.3,3.5 0 1,0 -4.6,0M1071.9,749.7a1.3,2.0 0 1,0 2.6,0a1.3,2.0 0 1,0 -2.6,0M1066.3,760.5a3.2,6.0 0 1,0 6.5,0a3.2,6.0 0 1,0 -6.5,0M1067.3,760.5a2.3,4.2 0 1,0 4.5,0a2.3,4.2 0 1,0 -4.5,0M1068.2,760.5a1.3,2.4 0 1,0 2.6,0a1.3,2.4 0 1,0 -2.6,0M1059.6,743.7a5.4,6.1 0 1,0 10.7,0a5.4,6.1 0 1,0 -10.7,0M1061.2,743.7a3.7,4.3 0 1,0 7.5,0a3.7,4.3 0 1,0 -7.5,0M1062.8,743.7a2.1,2.5 0 1,0 4.3,0a2.1,2.5 0 1,0 -4.3,0M1030.3,760.4a4.4,4.9 0 1,0 8.9,0a4.4,4.9 0 1,0 -8.9,0M1031.7,760.4a3.1,3.5 0 1,0 6.2,0a3.1,3.5 0 1,0 -6.2,0M1033.0,760.4a1.8,2.0 0 1,0 3.6,0a1.8,2.0 0 1,0 -3.6,0M1116.0,777.4a2.6,5.1 0 1,0 5.2,0a2.6,5.1 0 1,0 -5.2,0M1116.8,777.4a1.8,3.6 0 1,0 3.7,0a1.8,3.6 0 1,0 -3.7,0M1117.6,777.4a1.0,2.0 0 1,0 2.1,0a1.0,2.0 0 1,0 -2.1,0M1049.7,760.9a4.9,6.0 0 1,0 9.9,0a4.9,6.0 0 1,0 -9.9,0M1051.2,760.9a3.5,4.2 0 1,0 6.9,0a3.5,4.2 0 1,0 -6.9,0M1052.7,760.9a2.0,2.4 0 1,0 3.9,0a2.0,2.4 0 1,0 -3.9,0M1091.1,752.7a3.7,5.2 0 1,0 7.4,0a3.7,5.2 0 1,0 -7.4,0M1092.2,752.7a2.6,3.6 0 1,0 5.2,0a2.6,3.6 0 1,0 -5.2,0M1093.3,752.7a1.5,2.1 0 1,0 3.0,0a1.5,2.1 0 1,0 -3.0,0M1054.4,755.5a3.7,6.4 0 1,0 7.4,0a3.7,6.4 0 1,0 -7.4,0M1055.5,755.5a2.6,4.5 0 1,0 5.2,0a2.6,4.5 0 1,0 -5.2,0M1056.6,755.5a1.5,2.6 0 1,0 2.9,0a1.5,2.6 0 1,0 -2.9,0M1141.2,775.1a5.0,4.0 0 1,0 10.1,0a5.0,4.0 0 1,0 -10.1,0M1142.7,775.1a3.5,2.8 0 1,0 7.1,0a3.5,2.8 0 1,0 -7.1,0M1144.2,775.1a2.0,1.6 0 1,0 4.0,0a2.0,1.6 0 1,0 -4.0,0M1143.1,793.6a4.8,4.3 0 1,0 9.7,0a4.8,4.3 0 1,0 -9.7,0M1144.6,793.6a3.4,3.0 0 1,0 6.8,0a3.4,3.0 0 1,0 -6.8,0M1146.0,793.6a1.9,1.7 0 1,0 3.9,0a1.9,1.7 0 1,0 -3.9,0M1111.8,740.9a4.6,4.8 0 1,0 9.1,0a4.6,4.8 0 1,0 -9.1,0M1113.2,740.9a3.2,3.4 0 1,0 6.4,0a3.2,3.4 0 1,0 -6.4,0M1114.6,740.9a1.8,1.9 0 1,0 3.6,0a1.8,1.9 0 1,0 -3.6,0M1095.3,767.4a4.0,4.3 0 1,0 8.0,0a4.0,4.3 0 1,0 -8.0,0M1096.5,767.4a2.8,3.0 0 1,0 5.6,0a2.8,3.0 0 1,0 -5.6,0M1097.7,767.4a1.6,1.7 0 1,0 3.2,0a1.6,1.7 0 1,0 -3.2,0M1128.1,774.8a3.4,4.0 0 1,0 6.9,0a3.4,4.0 0 1,0 -6.9,0M1129.2,774.8a2.4,2.8 0 1,0 4.8,0a2.4,2.8 0 1,0 -4.8,0M1130.2,774.8a1.4,1.6 0 1,0 2.8,0a1.4,1.6 0 1,0 -2.8,0M1085.6,745.3a5.0,5.3 0 1,0 10.0,0a5.0,5.3 0 1,0 -10.0,0M1087.1,745.3a3.5,3.7 0 1,0 7.0,0a3.5,3.7 0 1,0 -7.0,0M1088.6,745.3a2.0,2.1 0 1,0 4.0,0a2.0,2.1 0 1,0 -4.0,0M1045.8,787.3a4.7,5.9 0 1,0 9.4,0a4.7,5.9 0 1,0 -9.4,0M1047.2,787.3a3.3,4.1 0 1,0 6.6,0a3.3,4.1 0 1,0 -6.6,0M1048.7,787.3a1.9,2.4 0 1,0 3.8,0a1.9,2.4 0 1,0 -3.8,0M1078.7,828.0a2.7,6.2 0 1,0 5.3,0a2.7,6.2 0 1,0 -5.3,0M1079.5,828.0a1.9,4.4 0 1,0 3.7,0a1.9,4.4 0 1,0 -3.7,0M1080.3,828.0a1.1,2.5 0 1,0 2.1,0a1.1,2.5 0 1,0 -2.1,0M1113.4,825.5a2.6,4.6 0 1,0 5.3,0a2.6,4.6 0 1,0 -5.3,0M1114.2,825.5a1.8,3.2 0 1,0 3.7,0a1.8,3.2 0 1,0 -3.7,0M1115.0,825.5a1.1,1.8 0 1,0 2.1,0a1.1,1.8 0 1,0 -2.1,0M1038.8,806.3a4.5,5.8 0 1,0 9.0,0a4.5,5.8 0 1,0 -9.0,0M1040.1,806.3a3.2,4.1 0 1,0 6.3,0a3.2,4.1 0 1,0 -6.3,0M1041.5,806.3a1.8,2.3 0 1,0 3.6,0a1.8,2.3 0 1,0 -3.6,0M1095.8,742.1a3.3,4.3 0 1,0 6.7,0a3.3,4.3 0 1,0 -6.7,0M1096.8,742.1a2.3,3.0 0 1,0 4.7,0a2.3,3.0 0 1,0 -4.7,0M1097.8,742.1a1.3,1.7 0 1,0 2.7,0a1.3,1.7 0 1,0 -2.7,0M1052.4,749.6a4.9,4.4 0 1,0 9.7,0a4.9,4.4 0 1,0 -9.7,0M1053.8,749.6a3.4,3.1 0 1,0 6.8,0a3.4,3.1 0 1,0 -6.8,0M1055.3,749.6a1.9,1.7 0 1,0 3.9,0a1.9,1.7 0 1,0 -3.9,0M1072.7,832.4a4.4,7.0 0 1,0 8.7,0a4.4,7.0 0 1,0 -8.7,0M1074.0,832.4a3.1,4.9 0 1,0 6.1,0a3.1,4.9 0 1,0 -6.1,0M1075.4,832.4a1.7,2.8 0 1,0 3.5,0a1.7,2.8 0 1,0 -3.5,0M1045.3,756.2a3.6,5.8 0 1,0 7.2,0a3.6,5.8 0 1,0 -7.2,0M1046.3,756.2a2.5,4.0 0 1,0 5.1,0a2.5,4.0 0 1,0 -5.1,0M1047.4,756.2a1.4,2.3 0 1,0 2.9,0a1.4,2.3 0 1,0 -2.9,0M1038.6,810.9a4.1,5.4 0 1,0 8.1,0a4.1,5.4 0 1,0 -8.1,0M1039.9,810.9a2.8,3.8 0 1,0 5.7,0a2.8,3.8 0 1,0 -5.7,0M1041.1,810.9a1.6,2.2 0 1,0 3.2,0a1.6,2.2 0 1,0 -3.2,0M1118.7,747.4a4.5,3.6 0 1,0 9.1,0a4.5,3.6 0 1,0 -9.1,0M1120.1,747.4a3.2,2.5 0 1,0 6.4,0a3.2,2.5 0 1,0 -6.4,0M1121.4,747.4a1.8,1.4 0 1,0 3.6,0a1.8,1.4 0 1,0 -3.6,0M1061.2,815.6a5.1,4.1 0 1,0 10.2,0a5.1,4.1 0 1,0 -10.2,0M1062.8,815.6a3.6,2.9 0 1,0 7.1,0a3.6,2.9 0 1,0 -7.1,0M1064.3,815.6a2.0,1.6 0 1,0 4.1,0a2.0,1.6 0 1,0 -4.1,0M1138.3,782.1a4.0,5.8 0 1,0 7.9,0a4.0,5.8 0 1,0 -7.9,0M1139.4,782.1a2.8,4.1 0 1,0 5.5,0a2.8,4.1 0 1,0 -5.5,0M1140.6,782.1a1.6,2.3 0 1,0 3.2,0a1.6,2.3 0 1,0 -3.2,0M1048.0,806.5a5.1,6.1 0 1,0 10.2,0a5.1,6.1 0 1,0 -10.2,0M1049.5,806.5a3.6,4.3 0 1,0 7.2,0a3.6,4.3 0 1,0 -7.2,0M1051.1,806.5a2.0,2.5 0 1,0 4.1,0a2.0,2.5 0 1,0 -4.1,0M1114.7,753.7a4.4,3.7 0 1,0 8.8,0a4.4,3.7 0 1,0 -8.8,0M1116.1,753.7a3.1,2.6 0 1,0 6.2,0a3.1,2.6 0 1,0 -6.2,0M1117.4,753.7a1.8,1.5 0 1,0 3.5,0a1.8,1.5 0 1,0 -3.5,0M1059.9,820.0a5.3,4.3 0 1,0 10.6,0a5.3,4.3 0 1,0 -10.6,0M1061.5,820.0a3.7,3.0 0 1,0 7.4,0a3.7,3.0 0 1,0 -7.4,0M1063.1,820.0a2.1,1.7 0 1,0 4.3,0a2.1,1.7 0 1,0 -4.3,0M1039.2,782.3a5.0,4.1 0 1,0 10.0,0a5.0,4.1 0 1,0 -10.0,0M1040.7,782.3a3.5,2.9 0 1,0 7.0,0a3.5,2.9 0 1,0 -7.0,0M1042.2,782.3a2.0,1.6 0 1,0 4.0,0a2.0,1.6 0 1,0 -4.0,0M1076.2,836.0a4.3,5.7 0 1,0 8.6,0a4.3,5.7 0 1,0 -8.6,0M1077.5,836.0a3.0,4.0 0 1,0 6.0,0a3.0,4.0 0 1,0 -6.0,0M1078.8,836.0a1.7,2.3 0 1,0 3.4,0a1.7,2.3 0 1,0 -3.4,0M1104.3,807.2a4.3,5.0 0 1,0 8.6,0a4.3,5.0 0 1,0 -8.6,0M1105.6,807.2a3.0,3.5 0 1,0 6.0,0a3.0,3.5 0 1,0 -6.0,0M1106.9,807.2a1.7,2.0 0 1,0 3.4,0a1.7,2.0 0 1,0 -3.4,0M1122.2,813.7a5.3,4.9 0 1,0 10.5,0a5.3,4.9 0 1,0 -10.5,0M1123.8,813.7a3.7,3.5 0 1,0 7.4,0a3.7,3.5 0 1,0 -7.4,0M1125.4,813.7a2.1,2.0 0 1,0 4.2,0a2.1,2.0 0 1,0 -4.2,0M1148.1,773.5a2.8,5.9 0 1,0 5.7,0a2.8,5.9 0 1,0 -5.7,0M1149.0,773.5a2.0,4.1 0 1,0 4.0,0a2.0,4.1 0 1,0 -4.0,0M1149.8,773.5a1.1,2.3 0 1,0 2.3,0a1.1,2.3 0 1,0 -2.3,0M1039.4,777.1a4.8,5.9 0 1,0 9.6,0a4.8,5.9 0 1,0 -9.6,0M1040.8,777.1a3.4,4.1 0 1,0 6.7,0a3.4,4.1 0 1,0 -6.7,0M1042.3,777.1a1.9,2.4 0 1,0 3.8,0a1.9,2.4 0 1,0 -3.8,0M1073.4,763.5a3.3,6.5 0 1,0 6.6,0a3.3,6.5 0 1,0 -6.6,0M1074.4,763.5a2.3,4.6 0 1,0 4.6,0a2.3,4.6 0 1,0 -4.6,0M1075.4,763.5a1.3,2.6 0 1,0 2.6,0a1.3,2.6 0 1,0 -2.6,0M1150.5,803.5a3.8,4.9 0 1,0 7.5,0a3.8,4.9 0 1,0 -7.5,0M1151.6,803.5a2.6,3.5 0 1,0 5.3,0a2.6,3.5 0 1,0 -5.3,0M1152.7,803.5a1.5,2.0 0 1,0 3.0,0a1.5,2.0 0 1,0 -3.0,0M1076.0,810.6a4.9,6.7 0 1,0 9.9,0a4.9,6.7 0 1,0 -9.9,0M1077.5,810.6a3.5,4.7 0 1,0 6.9,0a3.5,4.7 0 1,0 -6.9,0M1079.0,810.6a2.0,2.7 0 1,0 4.0,0a2.0,2.7 0 1,0 -4.0,0M1111.8,823.3a5.4,4.8 0 1,0 10.9,0a5.4,4.8 0 1,0 -10.9,0M1113.4,823.3a3.8,3.4 0 1,0 7.6,0a3.8,3.4 0 1,0 -7.6,0M1115.0,823.3a2.2,1.9 0 1,0 4.4,0a2.2,1.9 0 1,0 -4.4,0M1131.1,760.6a3.1,6.8 0 1,0 6.2,0a3.1,6.8 0 1,0 -6.2,0M1132.1,760.6a2.2,4.8 0 1,0 4.3,0a2.2,4.8 0 1,0 -4.3,0M1133.0,760.6a1.2,2.7 0 1,0 2.5,0a1.2,2.7 0 1,0 -2.5,0M1137.6,762.3a3.4,5.2 0 1,0 6.8,0a3.4,5.2 0 1,0 -6.8,0M1138.6,762.3a2.4,3.6 0 1,0 4.8,0a2.4,3.6 0 1,0 -4.8,0M1139.6,762.3a1.4,2.1 0 1,0 2.7,0a1.4,2.1 0 1,0 -2.7,0M1087.5,741.3a3.8,5.4 0 1,0 7.5,0a3.8,5.4 0 1,0 -7.5,0M1088.7,741.3a2.6,3.7 0 1,0 5.3,0a2.6,3.7 0 1,0 -5.3,0M1089.8,741.3a1.5,2.1 0 1,0 3.0,0a1.5,2.1 0 1,0 -3.0,0M1067.5,799.3a3.2,5.5 0 1,0 6.4,0a3.2,5.5 0 1,0 -6.4,0M1068.5,799.3a2.2,3.9 0 1,0 4.5,0a2.2,3.9 0 1,0 -4.5,0M1069.5,799.3a1.3,2.2 0 1,0 2.6,0a1.3,2.2 0 1,0 -2.6,0M1139.6,758.5a2.5,5.4 0 1,0 5.1,0a2.5,5.4 0 1,0 -5.1,0M1140.4,758.5a1.8,3.8 0 1,0 3.5,0a1.8,3.8 0 1,0 -3.5,0M1141.2,758.5a1.0,2.2 0 1,0 2.0,0a1.0,2.2 0 1,0 -2.0,0M1041.3,809.2a3.1,4.8 0 1,0 6.2,0a3.1,4.8 0 1,0 -6.2,0M1042.2,809.2a2.2,3.4 0 1,0 4.3,0a2.2,3.4 0 1,0 -4.3,0M1043.1,809.2a1.2,1.9 0 1,0 2.5,0a1.2,1.9 0 1,0 -2.5,0M1045.9,793.2a3.6,6.0 0 1,0 7.2,0a3.6,6.0 0 1,0 -7.2,0M1047.0,793.2a2.5,4.2 0 1,0 5.0,0a2.5,4.2 0 1,0 -5.0,0M1048.1,793.2a1.4,2.4 0 1,0 2.9,0a1.4,2.4 0 1,0 -2.9,0M1123.7,787.5a4.1,6.4 0 1,0 8.3,0a4.1,6.4 0 1,0 -8.3,0M1124.9,787.5a2.9,4.5 0 1,0 5.8,0a2.9,4.5 0 1,0 -5.8,0M1126.1,787.5a1.7,2.6 0 1,0 3.3,0a1.7,2.6 0 1,0 -3.3,0M1055.8,778.9a3.8,4.0 0 1,0 7.6,0a3.8,4.0 0 1,0 -7.6,0M1056.9,778.9a2.7,2.8 0 1,0 5.3,0a2.7,2.8 0 1,0 -5.3,0M1058.1,778.9a1.5,1.6 0 1,0 3.0,0a1.5,1.6 0 1,0 -3.0,0M1148.5,772.1a5.4,3.9 0 1,0 10.8,0a5.4,3.9 0 1,0 -10.8,0M1150.2,772.1a3.8,2.7 0 1,0 7.5,0a3.8,2.7 0 1,0 -7.5,0M1151.8,772.1a2.2,1.5 0 1,0 4.3,0a2.2,1.5 0 1,0 -4.3,0M1091.3,752.4a5.2,4.2 0 1,0 10.4,0a5.2,4.2 0 1,0 -10.4,0M1092.9,752.4a3.7,3.0 0 1,0 7.3,0a3.7,3.0 0 1,0 -7.3,0M1094.5,752.4a2.1,1.7 0 1,0 4.2,0a2.1,1.7 0 1,0 -4.2,0M1046.5,777.1a4.8,3.6 0 1,0 9.6,0a4.8,3.6 0 1,0 -9.6,0M1047.9,777.1a3.4,2.5 0 1,0 6.7,0a3.4,2.5 0 1,0 -6.7,0M1049.3,777.1a1.9,1.4 0 1,0 3.8,0a1.9,1.4 0 1,0 -3.8,0M1039.4,756.6a4.6,3.9 0 1,0 9.2,0a4.6,3.9 0 1,0 -9.2,0M1040.8,756.6a3.2,2.7 0 1,0 6.5,0a3.2,2.7 0 1,0 -6.5,0M1042.2,756.6a1.8,1.6 0 1,0 3.7,0a1.8,1.6 0 1,0 -3.7,0M1096.8,773.8a2.6,6.0 0 1,0 5.2,0a2.6,6.0 0 1,0 -5.2,0M1097.6,773.8a1.8,4.2 0 1,0 3.7,0a1.8,4.2 0 1,0 -3.7,0M1098.4,773.8a1.0,2.4 0 1,0 2.1,0a1.0,2.4 0 1,0 -2.1,0M1043.3,778.6a4.4,5.1 0 1,0 8.7,0a4.4,5.1 0 1,0 -8.7,0M1044.6,778.6a3.1,3.6 0 1,0 6.1,0a3.1,3.6 0 1,0 -6.1,0M1045.9,778.6a1.7,2.1 0 1,0 3.5,0a1.7,2.1 0 1,0 -3.5,0M1045.7,784.9a4.9,4.6 0 1,0 9.7,0a4.9,4.6 0 1,0 -9.7,0M1047.1,784.9a3.4,3.2 0 1,0 6.8,0a3.4,3.2 0 1,0 -6.8,0M1048.6,784.9a1.9,1.8 0 1,0 3.9,0a1.9,1.8 0 1,0 -3.9,0M1065.9,742.4a2.6,6.3 0 1,0 5.1,0a2.6,6.3 0 1,0 -5.1,0M1066.7,742.4a1.8,4.4 0 1,0 3.6,0a1.8,4.4 0 1,0 -3.6,0M1067.5,742.4a1.0,2.5 0 1,0 2.1,0a1.0,2.5 0 1,0 -2.1,0M1138.4,766.7a3.0,3.6 0 1,0 6.0,0a3.0,3.6 0 1,0 -6.0,0M1139.3,766.7a2.1,2.5 0 1,0 4.2,0a2.1,2.5 0 1,0 -4.2,0M1140.2,766.7a1.2,1.4 0 1,0 2.4,0a1.2,1.4 0 1,0 -2.4,0M1126.9,755.6a5.3,5.1 0 1,0 10.7,0a5.3,5.1 0 1,0 -10.7,0M1128.5,755.6a3.7,3.6 0 1,0 7.5,0a3.7,3.6 0 1,0 -7.5,0M1130.1,755.6a2.1,2.0 0 1,0 4.3,0a2.1,2.0 0 1,0 -4.3,0M1125.6,787.8a2.9,5.5 0 1,0 5.9,0a2.9,5.5 0 1,0 -5.9,0M1126.4,787.8a2.1,3.9 0 1,0 4.1,0a2.1,3.9 0 1,0 -4.1,0M1127.3,787.8a1.2,2.2 0 1,0 2.3,0a1.2,2.2 0 1,0 -2.3,0M1078.9,831.5a3.3,5.2 0 1,0 6.5,0a3.3,5.2 0 1,0 -6.5,0M1079.9,831.5a2.3,3.7 0 1,0 4.6,0a2.3,3.7 0 1,0 -4.6,0M1080.8,831.5a1.3,2.1 0 1,0 2.6,0a1.3,2.1 0 1,0 -2.6,0M1139.1,786.9a4.7,4.0 0 1,0 9.4,0a4.7,4.0 0 1,0 -9.4,0M1140.5,786.9a3.3,2.8 0 1,0 6.6,0a3.3,2.8 0 1,0 -6.6,0M1141.9,786.9a1.9,1.6 0 1,0 3.8,0a1.9,1.6 0 1,0 -3.8,0M1114.5,772.7a3.3,3.7 0 1,0 6.5,0a3.3,3.7 0 1,0 -6.5,0M1115.5,772.7a2.3,2.6 0 1,0 4.6,0a2.3,2.6 0 1,0 -4.6,0M1116.5,772.7a1.3,1.5 0 1,0 2.6,0a1.3,1.5 0 1,0 -2.6,0M1084.6,808.4a4.2,6.8 0 1,0 8.3,0a4.2,6.8 0 1,0 -8.3,0M1085.8,808.4a2.9,4.8 0 1,0 5.8,0a2.9,4.8 0 1,0 -5.8,0M1087.1,808.4a1.7,2.7 0 1,0 3.3,0a1.7,2.7 0 1,0 -3.3,0M1067.2,755.9a4.1,5.5 0 1,0 8.3,0a4.1,5.5 0 1,0 -8.3,0M1068.5,755.9a2.9,3.8 0 1,0 5.8,0a2.9,3.8 0 1,0 -5.8,0M1069.7,755.9a1.7,2.2 0 1,0 3.3,0a1.7,2.2 0 1,0 -3.3,0M1061.1,812.8a3.1,6.7 0 1,0 6.2,0a3.1,6.7 0 1,0 -6.2,0M1062.1,812.8a2.2,4.7 0 1,0 4.3,0a2.2,4.7 0 1,0 -4.3,0M1063.0,812.8a1.2,2.7 0 1,0 2.5,0a1.2,2.7 0 1,0 -2.5,0M1125.2,778.0a4.4,3.7 0 1,0 8.8,0a4.4,3.7 0 1,0 -8.8,0M1126.5,778.0a3.1,2.6 0 1,0 6.2,0a3.1,2.6 0 1,0 -6.2,0M1127.8,778.0a1.8,1.5 0 1,0 3.5,0a1.8,1.5 0 1,0 -3.5,0M1130.7,725.1a3.1,5.4 0 1,0 6.2,0a3.1,5.4 0 1,0 -6.2,0M1131.7,725.1a2.2,3.8 0 1,0 4.3,0a2.2,3.8 0 1,0 -4.3,0M1132.6,725.1a1.2,2.1 0 1,0 2.5,0a1.2,2.1 0 1,0 -2.5,0M1148.4,732.6a4.1,5.7 0 1,0 8.3,0a4.1,5.7 0 1,0 -8.3,0M1149.6,732.6a2.9,4.0 0 1,0 5.8,0a2.9,4.0 0 1,0 -5.8,0M1150.9,732.6a1.7,2.3 0 1,0 3.3,0a1.7,2.3 0 1,0 -3.3,0M1125.7,745.9a3.4,4.4 0 1,0 6.8,0a3.4,4.4 0 1,0 -6.8,0M1126.8,745.9a2.4,3.1 0 1,0 4.8,0a2.4,3.1 0 1,0 -4.8,0M1127.8,745.9a1.4,1.8 0 1,0 2.7,0a1.4,1.8 0 1,0 -2.7,0M1112.9,739.4a3.6,6.5 0 1,0 7.2,0a3.6,6.5 0 1,0 -7.2,0M1114.0,739.4a2.5,4.5 0 1,0 5.0,0a2.5,4.5 0 1,0 -5.0,0M1115.1,739.4a1.4,2.6 0 1,0 2.9,0a1.4,2.6 0 1,0 -2.9,0M1110.2,741.5a4.6,4.3 0 1,0 9.3,0a4.6,4.3 0 1,0 -9.3,0M1111.5,741.5a3.2,3.0 0 1,0 6.5,0a3.2,3.0 0 1,0 -6.5,0M1112.9,741.5a1.9,1.7 0 1,0 3.7,0a1.9,1.7 0 1,0 -3.7,0M1152.1,735.3a4.0,4.5 0 1,0 8.0,0a4.0,4.5 0 1,0 -8.0,0M1153.3,735.3a2.8,3.1 0 1,0 5.6,0a2.8,3.1 0 1,0 -5.6,0M1154.5,735.3a1.6,1.8 0 1,0 3.2,0a1.6,1.8 0 1,0 -3.2,0M1117.2,727.8a3.0,3.6 0 1,0 6.1,0a3.0,3.6 0 1,0 -6.1,0M1118.1,727.8a2.1,2.5 0 1,0 4.2,0a2.1,2.5 0 1,0 -4.2,0M1119.0,727.8a1.2,1.4 0 1,0 2.4,0a1.2,1.4 0 1,0 -2.4,0M1158.6,761.2a4.5,5.9 0 1,0 9.0,0a4.5,5.9 0 1,0 -9.0,0M1160.0,761.2a3.2,4.2 0 1,0 6.3,0a3.2,4.2 0 1,0 -6.3,0M1161.3,761.2a1.8,2.4 0 1,0 3.6,0a1.8,2.4 0 1,0 -3.6,0M1121.8,721.4a3.6,6.6 0 1,0 7.2,0a3.6,6.6 0 1,0 -7.2,0M1122.9,721.4a2.5,4.6 0 1,0 5.1,0a2.5,4.6 0 1,0 -5.1,0M1124.0,721.4a1.4,2.7 0 1,0 2.9,0a1.4,2.7 0 1,0 -2.9,0M1127.8,713.2a4.8,6.5 0 1,0 9.6,0a4.8,6.5 0 1,0 -9.6,0M1129.2,713.2a3.4,4.5 0 1,0 6.7,0a3.4,4.5 0 1,0 -6.7,0M1130.7,713.2a1.9,2.6 0 1,0 3.8,0a1.9,2.6 0 1,0 -3.8,0M1157.1,728.7a5.4,5.6 0 1,0 10.8,0a5.4,5.6 0 1,0 -10.8,0M1158.7,728.7a3.8,4.0 0 1,0 7.5,0a3.8,4.0 0 1,0 -7.5,0M1160.4,728.7a2.2,2.3 0 1,0 4.3,0a2.2,2.3 0 1,0 -4.3,0M1132.9,751.6a5.3,3.5 0 1,0 10.7,0a5.3,3.5 0 1,0 -10.7,0M1134.5,751.6a3.7,2.5 0 1,0 7.5,0a3.7,2.5 0 1,0 -7.5,0M1136.1,751.6a2.1,1.4 0 1,0 4.3,0a2.1,1.4 0 1,0 -4.3,0M1134.2,783.6a3.2,5.9 0 1,0 6.4,0a3.2,5.9 0 1,0 -6.4,0M1135.1,783.6a2.2,4.2 0 1,0 4.5,0a2.2,4.2 0 1,0 -4.5,0M1136.1,783.6a1.3,2.4 0 1,0 2.6,0a1.3,2.4 0 1,0 -2.6,0M1118.5,711.8a5.4,4.2 0 1,0 10.9,0a5.4,4.2 0 1,0 -10.9,0M1120.2,711.8a3.8,3.0 0 1,0 7.6,0a3.8,3.0 0 1,0 -7.6,0M1121.8,711.8a2.2,1.7 0 1,0 4.4,0a2.2,1.7 0 1,0 -4.4,0M1158.7,754.4a2.6,6.4 0 1,0 5.2,0a2.6,6.4 0 1,0 -5.2,0M1159.5,754.4a1.8,4.5 0 1,0 3.7,0a1.8,4.5 0 1,0 -3.7,0M1160.2,754.4a1.0,2.6 0 1,0 2.1,0a1.0,2.6 0 1,0 -2.1,0M1139.2,720.0a4.8,6.4 0 1,0 9.6,0a4.8,6.4 0 1,0 -9.6,0M1140.7,720.0a3.4,4.5 0 1,0 6.8,0a3.4,4.5 0 1,0 -6.8,0M1142.1,720.0a1.9,2.5 0 1,0 3.9,0a1.9,2.5 0 1,0 -3.9,0M1151.0,734.7a3.0,3.5 0 1,0 6.0,0a3.0,3.5 0 1,0 -6.0,0M1151.9,734.7a2.1,2.5 0 1,0 4.2,0a2.1,2.5 0 1,0 -4.2,0M1152.8,734.7a1.2,1.4 0 1,0 2.4,0a1.2,1.4 0 1,0 -2.4,0M1116.0,770.1a3.1,4.2 0 1,0 6.2,0a3.1,4.2 0 1,0 -6.2,0M1116.9,770.1a2.2,2.9 0 1,0 4.3,0a2.2,2.9 0 1,0 -4.3,0M1117.9,770.1a1.2,1.7 0 1,0 2.5,0a1.2,1.7 0 1,0 -2.5,0M1118.2,750.3a3.9,6.0 0 1,0 7.9,0a3.9,6.0 0 1,0 -7.9,0M1119.4,750.3a2.8,4.2 0 1,0 5.5,0a2.8,4.2 0 1,0 -5.5,0M1120.6,750.3a1.6,2.4 0 1,0 3.1,0a1.6,2.4 0 1,0 -3.1,0M1117.1,751.8a5.3,4.8 0 1,0 10.7,0a5.3,4.8 0 1,0 -10.7,0M1118.7,751.8a3.7,3.3 0 1,0 7.5,0a3.7,3.3 0 1,0 -7.5,0M1120.3,751.8a2.1,1.9 0 1,0 4.3,0a2.1,1.9 0 1,0 -4.3,0M1149.2,717.6a5.3,4.6 0 1,0 10.6,0a5.3,4.6 0 1,0 -10.6,0M1150.8,717.6a3.7,3.2 0 1,0 7.4,0a3.7,3.2 0 1,0 -7.4,0M1152.4,717.6a2.1,1.8 0 1,0 4.2,0a2.1,1.8 0 1,0 -4.2,0M1129.1,721.6a4.1,3.8 0 1,0 8.2,0a4.1,3.8 0 1,0 -8.2,0M1130.3,721.6a2.9,2.7 0 1,0 5.8,0a2.9,2.7 0 1,0 -5.8,0M1131.6,721.6a1.6,1.5 0 1,0 3.3,0a1.6,1.5 0 1,0 -3.3,0M1144.9,764.8a4.2,5.1 0 1,0 8.5,0a4.2,5.1 0 1,0 -8.5,0M1146.2,764.8a3.0,3.6 0 1,0 5.9,0a3.0,3.6 0 1,0 -5.9,0M1147.5,764.8a1.7,2.0 0 1,0 3.4,0a1.7,2.0 0 1,0 -3.4,0M1150.3,752.6a4.6,3.7 0 1,0 9.1,0a4.6,3.7 0 1,0 -9.1,0M1151.7,752.6a3.2,2.6 0 1,0 6.4,0a3.2,2.6 0 1,0 -6.4,0M1153.1,752.6a1.8,1.5 0 1,0 3.7,0a1.8,1.5 0 1,0 -3.7,0M1132.4,750.6a3.8,4.9 0 1,0 7.5,0a3.8,4.9 0 1,0 -7.5,0M1133.5,750.6a2.6,3.5 0 1,0 5.3,0a2.6,3.5 0 1,0 -5.3,0M1134.6,750.6a1.5,2.0 0 1,0 3.0,0a1.5,2.0 0 1,0 -3.0,0M1152.3,752.5a3.5,5.9 0 1,0 7.1,0a3.5,5.9 0 1,0 -7.1,0M1153.4,752.5a2.5,4.1 0 1,0 5.0,0a2.5,4.1 0 1,0 -5.0,0M1154.4,752.5a1.4,2.3 0 1,0 2.8,0a1.4,2.3 0 1,0 -2.8,0M1114.4,678.7a5.5,4.7 0 1,0 10.9,0a5.5,4.7 0 1,0 -10.9,0M1116.0,678.7a3.8,3.3 0 1,0 7.7,0a3.8,3.3 0 1,0 -7.7,0M1117.6,678.7a2.2,1.9 0 1,0 4.4,0a2.2,1.9 0 1,0 -4.4,0M1131.0,694.3a3.7,5.9 0 1,0 7.3,0a3.7,5.9 0 1,0 -7.3,0M1132.1,694.3a2.6,4.1 0 1,0 5.1,0a2.6,4.1 0 1,0 -5.1,0M1133.2,694.3a1.5,2.4 0 1,0 2.9,0a1.5,2.4 0 1,0 -2.9,0M1108.8,699.0a5.3,5.7 0 1,0 10.6,0a5.3,5.7 0 1,0 -10.6,0M1110.4,699.0a3.7,4.0 0 1,0 7.4,0a3.7,4.0 0 1,0 -7.4,0M1112.0,699.0a2.1,2.3 0 1,0 4.3,0a2.1,2.3 0 1,0 -4.3,0M1129.1,685.6a5.4,5.9 0 1,0 10.7,0a5.4,5.9 0 1,0 -10.7,0M1130.7,685.6a3.8,4.1 0 1,0 7.5,0a3.8,4.1 0 1,0 -7.5,0M1132.3,685.6a2.1,2.3 0 1,0 4.3,0a2.1,2.3 0 1,0 -4.3,0M1134.2,685.9a2.7,4.7 0 1,0 5.4,0a2.7,4.7 0 1,0 -5.4,0M1135.0,685.9a1.9,3.3 0 1,0 3.8,0a1.9,3.3 0 1,0 -3.8,0M1135.8,685.9a1.1,1.9 0 1,0 2.2,0a1.1,1.9 0 1,0 -2.2,0M1131.3,677.5a3.5,5.4 0 1,0 6.9,0a3.5,5.4 0 1,0 -6.9,0M1132.3,677.5a2.4,3.8 0 1,0 4.8,0a2.4,3.8 0 1,0 -4.8,0M1133.4,677.5a1.4,2.2 0 1,0 2.8,0a1.4,2.2 0 1,0 -2.8,0M1127.8,680.4a4.4,5.4 0 1,0 8.7,0a4.4,5.4 0 1,0 -8.7,0M1129.1,680.4a3.1,3.8 0 1,0 6.1,0a3.1,3.8 0 1,0 -6.1,0M1130.4,680.4a1.7,2.2 0 1,0 3.5,0a1.7,2.2 0 1,0 -3.5,0M1108.8,688.7a4.1,3.6 0 1,0 8.3,0a4.1,3.6 0 1,0 -8.3,0M1110.0,688.7a2.9,2.5 0 1,0 5.8,0a2.9,2.5 0 1,0 -5.8,0M1111.3,688.7a1.7,1.4 0 1,0 3.3,0a1.7,1.4 0 1,0 -3.3,0M1150.4,690.3a4.9,5.0 0 1,0 9.7,0a4.9,5.0 0 1,0 -9.7,0M1151.8,690.3a3.4,3.5 0 1,0 6.8,0a3.4,3.5 0 1,0 -6.8,0M1153.3,690.3a1.9,2.0 0 1,0 3.9,0a1.9,2.0 0 1,0 -3.9,0M1126.5,677.8a5.4,4.5 0 1,0 10.7,0a5.4,4.5 0 1,0 -10.7,0M1128.1,677.8a3.7,3.2 0 1,0 7.5,0a3.7,3.2 0 1,0 -7.5,0M1129.7,677.8a2.1,1.8 0 1,0 4.3,0a2.1,1.8 0 1,0 -4.3,0M1129.6,668.1a3.8,3.9 0 1,0 7.6,0a3.8,3.9 0 1,0 -7.6,0M1130.8,668.1a2.7,2.7 0 1,0 5.3,0a2.7,2.7 0 1,0 -5.3,0M1131.9,668.1a1.5,1.5 0 1,0 3.1,0a1.5,1.5 0 1,0 -3.1,0M1121.1,672.5a3.4,5.4 0 1,0 6.7,0a3.4,5.4 0 1,0 -6.7,0M1122.1,672.5a2.3,3.8 0 1,0 4.7,0a2.3,3.8 0 1,0 -4.7,0M1123.1,672.5a1.3,2.1 0 1,0 2.7,0a1.3,2.1 0 1,0 -2.7,0M1114.4,693.3a3.9,4.8 0 1,0 7.7,0a3.9,4.8 0 1,0 -7.7,0M1115.6,693.3a2.7,3.4 0 1,0 5.4,0a2.7,3.4 0 1,0 -5.4,0M1116.8,693.3a1.5,1.9 0 1,0 3.1,0a1.5,1.9 0 1,0 -3.1,0M1153.8,696.0a5.3,6.5 0 1,0 10.7,0a5.3,6.5 0 1,0 -10.7,0M1155.4,696.0a3.7,4.6 0 1,0 7.5,0a3.7,4.6 0 1,0 -7.5,0M1157.0,696.0a2.1,2.6 0 1,0 4.3,0a2.1,2.6 0 1,0 -4.3,0M1143.5,704.9a4.2,6.2 0 1,0 8.4,0a4.2,6.2 0 1,0 -8.4,0M1144.7,704.9a3.0,4.4 0 1,0 5.9,0a3.0,4.4 0 1,0 -5.9,0M1146.0,704.9a1.7,2.5 0 1,0 3.4,0a1.7,2.5 0 1,0 -3.4,0M1195.4,687.0a3.9,3.6 0 1,0 7.8,0a3.9,3.6 0 1,0 -7.8,0M1196.6,687.0a2.7,2.5 0 1,0 5.4,0a2.7,2.5 0 1,0 -5.4,0M1197.8,687.0a1.6,1.4 0 1,0 3.1,0a1.6,1.4 0 1,0 -3.1,0M1192.0,697.4a4.5,6.9 0 1,0 8.9,0a4.5,6.9 0 1,0 -8.9,0M1193.4,697.4a3.1,4.8 0 1,0 6.3,0a3.1,4.8 0 1,0 -6.3,0M1194.7,697.4a1.8,2.8 0 1,0 3.6,0a1.8,2.8 0 1,0 -3.6,0M1189.7,676.0a3.7,3.9 0 1,0 7.4,0a3.7,3.9 0 1,0 -7.4,0M1190.8,676.0a2.6,2.7 0 1,0 5.2,0a2.6,2.7 0 1,0 -5.2,0M1191.9,676.0a1.5,1.6 0 1,0 3.0,0a1.5,1.6 0 1,0 -3.0,0M1194.4,684.8a4.4,4.4 0 1,0 8.7,0a4.4,4.4 0 1,0 -8.7,0M1195.7,684.8a3.1,3.1 0 1,0 6.1,0a3.1,3.1 0 1,0 -6.1,0M1197.0,684.8a1.7,1.8 0 1,0 3.5,0a1.7,1.8 0 1,0 -3.5,0M1192.9,674.9a3.9,6.5 0 1,0 7.7,0a3.9,6.5 0 1,0 -7.7,0M1194.0,674.9a2.7,4.6 0 1,0 5.4,0a2.7,4.6 0 1,0 -5.4,0M1195.2,674.9a1.5,2.6 0 1,0 3.1,0a1.5,2.6 0 1,0 -3.1,0M1200.0,676.4a3.7,4.5 0 1,0 7.4,0a3.7,4.5 0 1,0 -7.4,0M1201.1,676.4a2.6,3.1 0 1,0 5.1,0a2.6,3.1 0 1,0 -5.1,0M1202.2,676.4a1.5,1.8 0 1,0 2.9,0a1.5,1.8 0 1,0 -2.9,0M1180.2,667.8a3.5,5.7 0 1,0 7.0,0a3.5,5.7 0 1,0 -7.0,0M1181.3,667.8a2.4,4.0 0 1,0 4.9,0a2.4,4.0 0 1,0 -4.9,0M1182.3,667.8a1.4,2.3 0 1,0 2.8,0a1.4,2.3 0 1,0 -2.8,0M1205.5,674.2a3.0,4.2 0 1,0 6.1,0a3.0,4.2 0 1,0 -6.1,0M1206.4,674.2a2.1,2.9 0 1,0 4.3,0a2.1,2.9 0 1,0 -4.3,0M1207.3,674.2a1.2,1.7 0 1,0 2.4,0a1.2,1.7 0 1,0 -2.4,0M1188.3,674.0a2.8,5.1 0 1,0 5.6,0a2.8,5.1 0 1,0 -5.6,0M1189.1,674.0a1.9,3.6 0 1,0 3.9,0a1.9,3.6 0 1,0 -3.9,0M1189.9,674.0a1.1,2.0 0 1,0 2.2,0a1.1,2.0 0 1,0 -2.2,0M1196.6,692.3a4.9,4.1 0 1,0 9.7,0a4.9,4.1 0 1,0 -9.7,0M1198.1,692.3a3.4,2.9 0 1,0 6.8,0a3.4,2.9 0 1,0 -6.8,0M1199.5,692.3a1.9,1.6 0 1,0 3.9,0a1.9,1.6 0 1,0 -3.9,0M1201.3,676.9a4.7,6.6 0 1,0 9.3,0a4.7,6.6 0 1,0 -9.3,0M1202.7,676.9a3.3,4.6 0 1,0 6.5,0a3.3,4.6 0 1,0 -6.5,0M1204.1,676.9a1.9,2.6 0 1,0 3.7,0a1.9,2.6 0 1,0 -3.7,0M1201.5,669.5a3.9,5.5 0 1,0 7.8,0a3.9,5.5 0 1,0 -7.8,0M1202.7,669.5a2.7,3.8 0 1,0 5.5,0a2.7,3.8 0 1,0 -5.5,0M1203.9,669.5a1.6,2.2 0 1,0 3.1,0a1.6,2.2 0 1,0 -3.1,0M1047.9,809.0a2.8,6.1 0 1,0 5.6,0a2.8,6.1 0 1,0 -5.6,0M1048.7,809.0a2.0,4.3 0 1,0 3.9,0a2.0,4.3 0 1,0 -3.9,0M1049.5,809.0a1.1,2.4 0 1,0 2.2,0a1.1,2.4 0 1,0 -2.2,0M1016.5,822.4a4.6,7.0 0 1,0 9.2,0a4.6,7.0 0 1,0 -9.2,0M1017.9,822.4a3.2,4.9 0 1,0 6.5,0a3.2,4.9 0 1,0 -6.5,0M1019.3,822.4a1.8,2.8 0 1,0 3.7,0a1.8,2.8 0 1,0 -3.7,0M1073.5,816.1a3.8,6.4 0 1,0 7.6,0a3.8,6.4 0 1,0 -7.6,0M1074.6,816.1a2.7,4.4 0 1,0 5.3,0a2.7,4.4 0 1,0 -5.3,0M1075.8,816.1a1.5,2.5 0 1,0 3.0,0a1.5,2.5 0 1,0 -3.0,0M1035.6,833.1a4.1,4.8 0 1,0 8.2,0a4.1,4.8 0 1,0 -8.2,0M1036.8,833.1a2.9,3.3 0 1,0 5.8,0a2.9,3.3 0 1,0 -5.8,0M1038.0,833.1a1.6,1.9 0 1,0 3.3,0a1.6,1.9 0 1,0 -3.3,0M1060.6,825.4a4.7,6.1 0 1,0 9.3,0a4.7,6.1 0 1,0 -9.3,0M1062.0,825.4a3.3,4.3 0 1,0 6.5,0a3.3,4.3 0 1,0 -6.5,0M1063.4,825.4a1.9,2.4 0 1,0 3.7,0a1.9,2.4 0 1,0 -3.7,0M1073.6,817.5a3.0,6.1 0 1,0 6.0,0a3.0,6.1 0 1,0 -6.0,0M1074.5,817.5a2.1,4.2 0 1,0 4.2,0a2.1,4.2 0 1,0 -4.2,0M1075.4,817.5a1.2,2.4 0 1,0 2.4,0a1.2,2.4 0 1,0 -2.4,0M1027.8,836.9a2.7,6.0 0 1,0 5.5,0a2.7,6.0 0 1,0 -5.5,0M1028.6,836.9a1.9,4.2 0 1,0 3.8,0a1.9,4.2 0 1,0 -3.8,0M1029.5,836.9a1.1,2.4 0 1,0 2.2,0a1.1,2.4 0 1,0 -2.2,0M1056.8,808.1a2.7,3.9 0 1,0 5.5,0a2.7,3.9 0 1,0 -5.5,0M1057.6,808.1a1.9,2.7 0 1,0 3.8,0a1.9,2.7 0 1,0 -3.8,0M1058.4,808.1a1.1,1.6 0 1,0 2.2,0a1.1,1.6 0 1,0 -2.2,0M1011.8,823.2a4.4,6.3 0 1,0 8.8,0a4.4,6.3 0 1,0 -8.8,0M1013.1,823.2a3.1,4.4 0 1,0 6.1,0a3.1,4.4 0 1,0 -6.1,0M1014.4,823.2a1.8,2.5 0 1,0 3.5,0a1.8,2.5 0 1,0 -3.5,0M1042.1,844.6a2.9,6.4 0 1,0 5.7,0a2.9,6.4 0 1,0 -5.7,0M1043.0,844.6a2.0,4.5 0 1,0 4.0,0a2.0,4.5 0 1,0 -4.0,0M1043.8,844.6a1.1,2.6 0 1,0 2.3,0a1.1,2.6 0 1,0 -2.3,0M1055.1,830.2a3.8,4.6 0 1,0 7.6,0a3.8,4.6 0 1,0 -7.6,0M1056.2,830.2a2.6,3.2 0 1,0 5.3,0a2.6,3.2 0 1,0 -5.3,0M1057.4,830.2a1.5,1.8 0 1,0 3.0,0a1.5,1.8 0 1,0 -3.0,0M1011.2,819.1a2.5,6.7 0 1,0 5.1,0a2.5,6.7 0 1,0 -5.1,0M1012.0,819.1a1.8,4.7 0 1,0 3.5,0a1.8,4.7 0 1,0 -3.5,0M1012.8,819.1a1.0,2.7 0 1,0 2.0,0a1.0,2.7 0 1,0 -2.0,0M1029.7,840.0a3.7,4.0 0 1,0 7.3,0a3.7,4.0 0 1,0 -7.3,0M1030.8,840.0a2.6,2.8 0 1,0 5.1,0a2.6,2.8 0 1,0 -5.1,0M1031.9,840.0a1.5,1.6 0 1,0 2.9,0a1.5,1.6 0 1,0 -2.9,0M1016.4,833.7a4.1,6.0 0 1,0 8.2,0a4.1,6.0 0 1,0 -8.2,0M1017.7,833.7a2.9,4.2 0 1,0 5.7,0a2.9,4.2 0 1,0 -5.7,0M1018.9,833.7a1.6,2.4 0 1,0 3.3,0a1.6,2.4 0 1,0 -3.3,0M1008.8,825.7a5.2,6.0 0 1,0 10.4,0a5.2,6.0 0 1,0 -10.4,0M1010.3,825.7a3.7,4.2 0 1,0 7.3,0a3.7,4.2 0 1,0 -7.3,0M1011.9,825.7a2.1,2.4 0 1,0 4.2,0a2.1,2.4 0 1,0 -4.2,0M1041.2,815.1a4.5,6.6 0 1,0 9.0,0a4.5,6.6 0 1,0 -9.0,0M1042.5,815.1a3.2,4.6 0 1,0 6.3,0a3.2,4.6 0 1,0 -6.3,0M1043.9,815.1a1.8,2.6 0 1,0 3.6,0a1.8,2.6 0 1,0 -3.6,0M1047.1,811.5a5.4,3.7 0 1,0 10.8,0a5.4,3.7 0 1,0 -10.8,0M1048.7,811.5a3.8,2.6 0 1,0 7.6,0a3.8,2.6 0 1,0 -7.6,0M1050.3,811.5a2.2,1.5 0 1,0 4.3,0a2.2,1.5 0 1,0 -4.3,0M1064.0,816.3a4.1,4.5 0 1,0 8.1,0a4.1,4.5 0 1,0 -8.1,0M1065.2,816.3a2.8,3.2 0 1,0 5.7,0a2.8,3.2 0 1,0 -5.7,0M1066.4,816.3a1.6,1.8 0 1,0 3.2,0a1.6,1.8 0 1,0 -3.2,0M1029.3,822.0a4.4,4.5 0 1,0 8.9,0a4.4,4.5 0 1,0 -8.9,0M1030.6,822.0a3.1,3.2 0 1,0 6.2,0a3.1,3.2 0 1,0 -6.2,0M1032.0,822.0a1.8,1.8 0 1,0 3.5,0a1.8,1.8 0 1,0 -3.5,0M1029.6,836.6a3.5,4.7 0 1,0 7.1,0a3.5,4.7 0 1,0 -7.1,0M1030.7,836.6a2.5,3.3 0 1,0 4.9,0a2.5,3.3 0 1,0 -4.9,0M1031.8,836.6a1.4,1.9 0 1,0 2.8,0a1.4,1.9 0 1,0 -2.8,0M1032.9,835.5a4.3,4.4 0 1,0 8.6,0a4.3,4.4 0 1,0 -8.6,0M1034.2,835.5a3.0,3.1 0 1,0 6.0,0a3.0,3.1 0 1,0 -6.0,0M1035.5,835.5a1.7,1.8 0 1,0 3.4,0a1.7,1.8 0 1,0 -3.4,0M1061.9,834.1a3.1,3.7 0 1,0 6.3,0a3.1,3.7 0 1,0 -6.3,0M1062.9,834.1a2.2,2.6 0 1,0 4.4,0a2.2,2.6 0 1,0 -4.4,0M1063.8,834.1a1.3,1.5 0 1,0 2.5,0a1.3,1.5 0 1,0 -2.5,0M1021.8,828.2a2.9,6.3 0 1,0 5.9,0a2.9,6.3 0 1,0 -5.9,0M1022.7,828.2a2.1,4.4 0 1,0 4.1,0a2.1,4.4 0 1,0 -4.1,0M1023.5,828.2a1.2,2.5 0 1,0 2.4,0a1.2,2.5 0 1,0 -2.4,0M1069.2,815.9a2.5,6.4 0 1,0 5.1,0a2.5,6.4 0 1,0 -5.1,0M1069.9,815.9a1.8,4.5 0 1,0 3.6,0a1.8,4.5 0 1,0 -3.6,0M1070.7,815.9a1.0,2.6 0 1,0 2.0,0a1.0,2.6 0 1,0 -2.0,0M1111.0,792.7a5.4,5.7 0 1,0 10.7,0a5.4,5.7 0 1,0 -10.7,0M1112.6,792.7a3.7,4.0 0 1,0 7.5,0a3.7,4.0 0 1,0 -7.5,0M1114.2,792.7a2.1,2.3 0 1,0 4.3,0a2.1,2.3 0 1,0 -4.3,0M1151.8,798.2a4.7,7.0 0 1,0 9.4,0a4.7,7.0 0 1,0 -9.4,0M1153.2,798.2a3.3,4.9 0 1,0 6.6,0a3.3,4.9 0 1,0 -6.6,0M1154.7,798.2a1.9,2.8 0 1,0 3.8,0a1.9,2.8 0 1,0 -3.8,0M1137.5,789.1a2.6,3.7 0 1,0 5.1,0a2.6,3.7 0 1,0 -5.1,0M1138.3,789.1a1.8,2.6 0 1,0 3.6,0a1.8,2.6 0 1,0 -3.6,0M1139.1,789.1a1.0,1.5 0 1,0 2.1,0a1.0,1.5 0 1,0 -2.1,0M1146.9,783.9a3.9,5.2 0 1,0 7.8,0a3.9,5.2 0 1,0 -7.8,0M1148.1,783.9a2.7,3.6 0 1,0 5.5,0a2.7,3.6 0 1,0 -5.5,0M1149.3,783.9a1.6,2.1 0 1,0 3.1,0a1.6,2.1 0 1,0 -3.1,0M1091.4,789.2a4.2,3.9 0 1,0 8.4,0a4.2,3.9 0 1,0 -8.4,0M1092.7,789.2a3.0,2.8 0 1,0 5.9,0a3.0,2.8 0 1,0 -5.9,0M1093.9,789.2a1.7,1.6 0 1,0 3.4,0a1.7,1.6 0 1,0 -3.4,0M1153.9,792.1a3.2,4.1 0 1,0 6.4,0a3.2,4.1 0 1,0 -6.4,0M1154.9,792.1a2.2,2.8 0 1,0 4.5,0a2.2,2.8 0 1,0 -4.5,0M1155.8,792.1a1.3,1.6 0 1,0 2.5,0a1.3,1.6 0 1,0 -2.5,0M1103.7,785.3a4.3,6.5 0 1,0 8.5,0a4.3,6.5 0 1,0 -8.5,0M1105.0,785.3a3.0,4.5 0 1,0 6.0,0a3.0,4.5 0 1,0 -6.0,0M1106.2,785.3a1.7,2.6 0 1,0 3.4,0a1.7,2.6 0 1,0 -3.4,0M1147.9,786.9a2.8,4.8 0 1,0 5.7,0a2.8,4.8 0 1,0 -5.7,0M1148.8,786.9a2.0,3.4 0 1,0 4.0,0a2.0,3.4 0 1,0 -4.0,0M1149.6,786.9a1.1,1.9 0 1,0 2.3,0a1.1,1.9 0 1,0 -2.3,0M1099.4,790.8a5.0,6.5 0 1,0 10.1,0a5.0,6.5 0 1,0 -10.1,0M1100.9,790.8a3.5,4.5 0 1,0 7.1,0a3.5,4.5 0 1,0 -7.1,0M1102.4,790.8a2.0,2.6 0 1,0 4.0,0a2.0,2.6 0 1,0 -4.0,0M1159.5,791.0a4.7,6.6 0 1,0 9.5,0a4.7,6.6 0 1,0 -9.5,0M1160.9,791.0a3.3,4.6 0 1,0 6.6,0a3.3,4.6 0 1,0 -6.6,0M1162.3,791.0a1.9,2.6 0 1,0 3.8,0a1.9,2.6 0 1,0 -3.8,0M1003.8,818.6a3.9,4.1 0 1,0 7.9,0a3.9,4.1 0 1,0 -7.9,0M1005.0,818.6a2.8,2.9 0 1,0 5.5,0a2.8,2.9 0 1,0 -5.5,0M1006.2,818.6a1.6,1.6 0 1,0 3.1,0a1.6,1.6 0 1,0 -3.1,0M1003.6,824.7a3.7,6.1 0 1,0 7.4,0a3.7,6.1 0 1,0 -7.4,0M1004.7,824.7a2.6,4.3 0 1,0 5.2,0a2.6,4.3 0 1,0 -5.2,0M1005.8,824.7a1.5,2.4 0 1,0 3.0,0a1.5,2.4 0 1,0 -3.0,0M1050.0,727.4a4.3,3.5 0 1,0 8.7,0a4.3,3.5 0 1,0 -8.7,0M1051.2,727.4a3.0,2.5 0 1,0 6.1,0a3.0,2.5 0 1,0 -6.1,0M1052.5,727.4a1.7,1.4 0 1,0 3.5,0a1.7,1.4 0 1,0 -3.5,0M1045.1,706.2a4.8,5.0 0 1,0 9.7,0a4.8,5.0 0 1,0 -9.7,0M1046.6,706.2a3.4,3.5 0 1,0 6.8,0a3.4,3.5 0 1,0 -6.8,0M1048.1,706.2a1.9,2.0 0 1,0 3.9,0a1.9,2.0 0 1,0 -3.9,0M1061.9,704.1a4.3,7.0 0 1,0 8.7,0a4.3,7.0 0 1,0 -8.7,0M1063.2,704.1a3.0,4.9 0 1,0 6.1,0a3.0,4.9 0 1,0 -6.1,0M1064.5,704.1a1.7,2.8 0 1,0 3.5,0a1.7,2.8 0 1,0 -3.5,0M1071.4,700.8a4.6,6.7 0 1,0 9.3,0a4.6,6.7 0 1,0 -9.3,0M1072.8,700.8a3.2,4.7 0 1,0 6.5,0a3.2,4.7 0 1,0 -6.5,0M1074.2,700.8a1.9,2.7 0 1,0 3.7,0a1.9,2.7 0 1,0 -3.7,0M1058.8,703.9a3.9,4.3 0 1,0 7.8,0a3.9,4.3 0 1,0 -7.8,0M1059.9,703.9a2.7,3.0 0 1,0 5.4,0a2.7,3.0 0 1,0 -5.4,0M1061.1,703.9a1.6,1.7 0 1,0 3.1,0a1.6,1.7 0 1,0 -3.1,0M1065.6,711.8a3.4,5.5 0 1,0 6.7,0a3.4,5.5 0 1,0 -6.7,0M1066.6,711.8a2.3,3.8 0 1,0 4.7,0a2.3,3.8 0 1,0 -4.7,0M1067.6,711.8a1.3,2.2 0 1,0 2.7,0a1.3,2.2 0 1,0 -2.7,0M1046.1,717.0a3.1,6.8 0 1,0 6.2,0a3.1,6.8 0 1,0 -6.2,0M1047.0,717.0a2.2,4.7 0 1,0 4.4,0a2.2,4.7 0 1,0 -4.4,0M1047.9,717.0a1.2,2.7 0 1,0 2.5,0a1.2,2.7 0 1,0 -2.5,0M1042.1,701.1a3.7,6.5 0 1,0 7.5,0a3.7,6.5 0 1,0 -7.5,0M1043.2,701.1a2.6,4.6 0 1,0 5.2,0a2.6,4.6 0 1,0 -5.2,0M1044.3,701.1a1.5,2.6 0 1,0 3.0,0a1.5,2.6 0 1,0 -3.0,0M1108.9,672.5a3.3,4.4 0 1,0 6.5,0a3.3,4.4 0 1,0 -6.5,0M1109.9,672.5a2.3,3.1 0 1,0 4.6,0a2.3,3.1 0 1,0 -4.6,0M1110.9,672.5a1.3,1.7 0 1,0 2.6,0a1.3,1.7 0 1,0 -2.6,0M1110.6,655.0a4.4,6.1 0 1,0 8.9,0a4.4,6.1 0 1,0 -8.9,0M1111.9,655.0a3.1,4.3 0 1,0 6.2,0a3.1,4.3 0 1,0 -6.2,0M1113.3,655.0a1.8,2.4 0 1,0 3.6,0a1.8,2.4 0 1,0 -3.6,0M1122.0,657.1a2.6,6.5 0 1,0 5.3,0a2.6,6.5 0 1,0 -5.3,0M1122.8,657.1a1.9,4.5 0 1,0 3.7,0a1.9,4.5 0 1,0 -3.7,0M1123.6,657.1a1.1,2.6 0 1,0 2.1,0a1.1,2.6 0 1,0 -2.1,0M1124.8,660.7a3.0,5.3 0 1,0 6.1,0a3.0,5.3 0 1,0 -6.1,0M1125.8,660.7a2.1,3.7 0 1,0 4.2,0a2.1,3.7 0 1,0 -4.2,0M1126.7,660.7a1.2,2.1 0 1,0 2.4,0a1.2,2.1 0 1,0 -2.4,0M1122.3,662.8a4.0,6.2 0 1,0 8.0,0a4.0,6.2 0 1,0 -8.0,0M1123.5,662.8a2.8,4.3 0 1,0 5.6,0a2.8,4.3 0 1,0 -5.6,0M1124.7,662.8a1.6,2.5 0 1,0 3.2,0a1.6,2.5 0 1,0 -3.2,0M1049.7,603.6a2.0,2.5 0 1,0 4.0,0a2.0,2.5 0 1,0 -4.0,0M1050.6,603.6a1.1,1.4 0 1,0 2.2,0a1.1,1.4 0 1,0 -2.2,0M1103.0,853.0a2.0,3.0 0 1,0 4.0,0a2.0,3.0 0 1,0 -4.0,0M1103.9,853.0a1.1,1.7 0 1,0 2.2,0a1.1,1.7 0 1,0 -2.2,0" fill="none" stroke="#3d55b8" stroke-width="0.85"/><path d="M1085.7,764.8a4.5,4.6 0 1,0 9.0,0a4.5,4.6 0 1,0 -9.0,0M1086.6,764.8a3.6,3.7 0 1,0 7.2,0a3.6,3.7 0 1,0 -7.2,0M1087.5,764.8a2.7,2.7 0 1,0 5.4,0a2.7,2.7 0 1,0 -5.4,0M1088.4,764.8a1.8,1.8 0 1,0 3.6,0a1.8,1.8 0 1,0 -3.6,0M1065.0,716.3a3.8,4.9 0 1,0 7.6,0a3.8,4.9 0 1,0 -7.6,0M1065.8,716.3a3.0,3.9 0 1,0 6.1,0a3.0,3.9 0 1,0 -6.1,0M1066.5,716.3a2.3,2.9 0 1,0 4.6,0a2.3,2.9 0 1,0 -4.6,0M1067.3,716.3a1.5,2.0 0 1,0 3.0,0a1.5,2.0 0 1,0 -3.0,0M1095.9,748.7a3.8,4.4 0 1,0 7.7,0a3.8,4.4 0 1,0 -7.7,0M1096.7,748.7a3.1,3.6 0 1,0 6.1,0a3.1,3.6 0 1,0 -6.1,0M1097.4,748.7a2.3,2.7 0 1,0 4.6,0a2.3,2.7 0 1,0 -4.6,0M1098.2,748.7a1.5,1.8 0 1,0 3.1,0a1.5,1.8 0 1,0 -3.1,0M1090.7,747.2a4.2,4.3 0 1,0 8.4,0a4.2,4.3 0 1,0 -8.4,0M1091.6,747.2a3.3,3.5 0 1,0 6.7,0a3.3,3.5 0 1,0 -6.7,0M1092.4,747.2a2.5,2.6 0 1,0 5.0,0a2.5,2.6 0 1,0 -5.0,0M1093.2,747.2a1.7,1.7 0 1,0 3.3,0a1.7,1.7 0 1,0 -3.3,0M1071.5,718.3a5.2,6.3 0 1,0 10.4,0a5.2,6.3 0 1,0 -10.4,0M1072.5,718.3a4.1,5.0 0 1,0 8.3,0a4.1,5.0 0 1,0 -8.3,0M1073.5,718.3a3.1,3.8 0 1,0 6.2,0a3.1,3.8 0 1,0 -6.2,0M1074.6,718.3a2.1,2.5 0 1,0 4.1,0a2.1,2.5 0 1,0 -4.1,0M1080.5,769.3a3.6,6.9 0 1,0 7.1,0a3.6,6.9 0 1,0 -7.1,0M1081.2,769.3a2.8,5.5 0 1,0 5.7,0a2.8,5.5 0 1,0 -5.7,0M1081.9,769.3a2.1,4.2 0 1,0 4.3,0a2.1,4.2 0 1,0 -4.3,0M1082.7,769.3a1.4,2.8 0 1,0 2.8,0a1.4,2.8 0 1,0 -2.8,0M1079.5,763.1a3.9,5.4 0 1,0 7.8,0a3.9,5.4 0 1,0 -7.8,0M1080.2,763.1a3.1,4.3 0 1,0 6.2,0a3.1,4.3 0 1,0 -6.2,0M1081.0,763.1a2.3,3.2 0 1,0 4.7,0a2.3,3.2 0 1,0 -4.7,0M1081.8,763.1a1.6,2.1 0 1,0 3.1,0a1.6,2.1 0 1,0 -3.1,0M1053.5,750.7a5.3,6.0 0 1,0 10.5,0a5.3,6.0 0 1,0 -10.5,0M1054.5,750.7a4.2,4.8 0 1,0 8.4,0a4.2,4.8 0 1,0 -8.4,0M1055.6,750.7a3.2,3.6 0 1,0 6.3,0a3.2,3.6 0 1,0 -6.3,0M1056.6,750.7a2.1,2.4 0 1,0 4.2,0a2.1,2.4 0 1,0 -4.2,0M1091.0,725.5a5.2,4.6 0 1,0 10.5,0a5.2,4.6 0 1,0 -10.5,0M1092.1,725.5a4.2,3.7 0 1,0 8.4,0a4.2,3.7 0 1,0 -8.4,0M1093.1,725.5a3.1,2.8 0 1,0 6.3,0a3.1,2.8 0 1,0 -6.3,0M1094.2,725.5a2.1,1.8 0 1,0 4.2,0a2.1,1.8 0 1,0 -4.2,0M1057.9,746.5a4.5,5.6 0 1,0 8.9,0a4.5,5.6 0 1,0 -8.9,0M1058.8,746.5a3.6,4.4 0 1,0 7.1,0a3.6,4.4 0 1,0 -7.1,0M1059.7,746.5a2.7,3.3 0 1,0 5.3,0a2.7,3.3 0 1,0 -5.3,0M1060.6,746.5a1.8,2.2 0 1,0 3.6,0a1.8,2.2 0 1,0 -3.6,0M1077.9,779.2a3.1,6.1 0 1,0 6.1,0a3.1,6.1 0 1,0 -6.1,0M1078.5,779.2a2.5,4.9 0 1,0 4.9,0a2.5,4.9 0 1,0 -4.9,0M1079.1,779.2a1.8,3.7 0 1,0 3.7,0a1.8,3.7 0 1,0 -3.7,0M1079.8,779.2a1.2,2.4 0 1,0 2.5,0a1.2,2.4 0 1,0 -2.5,0M1038.5,771.3a3.0,4.1 0 1,0 5.9,0a3.0,4.1 0 1,0 -5.9,0M1039.1,771.3a2.4,3.3 0 1,0 4.8,0a2.4,3.3 0 1,0 -4.8,0M1039.7,771.3a1.8,2.5 0 1,0 3.6,0a1.8,2.5 0 1,0 -3.6,0M1040.3,771.3a1.2,1.7 0 1,0 2.4,0a1.2,1.7 0 1,0 -2.4,0M1044.2,754.7a4.7,3.9 0 1,0 9.5,0a4.7,3.9 0 1,0 -9.5,0M1045.1,754.7a3.8,3.1 0 1,0 7.6,0a3.8,3.1 0 1,0 -7.6,0M1046.1,754.7a2.8,2.3 0 1,0 5.7,0a2.8,2.3 0 1,0 -5.7,0M1047.0,754.7a1.9,1.6 0 1,0 3.8,0a1.9,1.6 0 1,0 -3.8,0M1090.7,766.5a5.1,6.0 0 1,0 10.2,0a5.1,6.0 0 1,0 -10.2,0M1091.7,766.5a4.1,4.8 0 1,0 8.1,0a4.1,4.8 0 1,0 -8.1,0M1092.7,766.5a3.1,3.6 0 1,0 6.1,0a3.1,3.6 0 1,0 -6.1,0M1093.7,766.5a2.0,2.4 0 1,0 4.1,0a2.0,2.4 0 1,0 -4.1,0M1054.7,776.5a2.9,5.5 0 1,0 5.8,0a2.9,5.5 0 1,0 -5.8,0M1055.3,776.5a2.3,4.4 0 1,0 4.6,0a2.3,4.4 0 1,0 -4.6,0M1055.9,776.5a1.7,3.3 0 1,0 3.5,0a1.7,3.3 0 1,0 -3.5,0M1056.5,776.5a1.2,2.2 0 1,0 2.3,0a1.2,2.2 0 1,0 -2.3,0M1068.4,738.3a2.6,5.5 0 1,0 5.1,0a2.6,5.5 0 1,0 -5.1,0M1068.9,738.3a2.0,4.4 0 1,0 4.1,0a2.0,4.4 0 1,0 -4.1,0M1069.4,738.3a1.5,3.3 0 1,0 3.1,0a1.5,3.3 0 1,0 -3.1,0M1069.9,738.3a1.0,2.2 0 1,0 2.0,0a1.0,2.2 0 1,0 -2.0,0M1067.9,745.7a5.5,6.8 0 1,0 10.9,0a5.5,6.8 0 1,0 -10.9,0M1069.0,745.7a4.4,5.4 0 1,0 8.7,0a4.4,5.4 0 1,0 -8.7,0M1070.1,745.7a3.3,4.1 0 1,0 6.5,0a3.3,4.1 0 1,0 -6.5,0M1071.2,745.7a2.2,2.7 0 1,0 4.4,0a2.2,2.7 0 1,0 -4.4,0M1053.1,724.1a4.3,5.7 0 1,0 8.5,0a4.3,5.7 0 1,0 -8.5,0M1053.9,724.1a3.4,4.5 0 1,0 6.8,0a3.4,4.5 0 1,0 -6.8,0M1054.8,724.1a2.6,3.4 0 1,0 5.1,0a2.6,3.4 0 1,0 -5.1,0M1055.6,724.1a1.7,2.3 0 1,0 3.4,0a1.7,2.3 0 1,0 -3.4,0M1037.5,738.5a4.1,3.5 0 1,0 8.2,0a4.1,3.5 0 1,0 -8.2,0M1038.3,738.5a3.3,2.8 0 1,0 6.5,0a3.3,2.8 0 1,0 -6.5,0M1039.1,738.5a2.4,2.1 0 1,0 4.9,0a2.4,2.1 0 1,0 -4.9,0M1039.9,738.5a1.6,1.4 0 1,0 3.3,0a1.6,1.4 0 1,0 -3.3,0M1035.4,721.3a4.1,5.1 0 1,0 8.1,0a4.1,5.1 0 1,0 -8.1,0M1036.2,721.3a3.2,4.1 0 1,0 6.5,0a3.2,4.1 0 1,0 -6.5,0M1037.0,721.3a2.4,3.1 0 1,0 4.9,0a2.4,3.1 0 1,0 -4.9,0M1037.8,721.3a1.6,2.1 0 1,0 3.2,0a1.6,2.1 0 1,0 -3.2,0M1077.2,739.4a4.0,5.5 0 1,0 8.1,0a4.0,5.5 0 1,0 -8.1,0M1078.0,739.4a3.2,4.4 0 1,0 6.5,0a3.2,4.4 0 1,0 -6.5,0M1078.8,739.4a2.4,3.3 0 1,0 4.8,0a2.4,3.3 0 1,0 -4.8,0M1079.6,739.4a1.6,2.2 0 1,0 3.2,0a1.6,2.2 0 1,0 -3.2,0M1083.4,733.8a4.1,6.7 0 1,0 8.1,0a4.1,6.7 0 1,0 -8.1,0M1084.2,733.8a3.2,5.4 0 1,0 6.5,0a3.2,5.4 0 1,0 -6.5,0M1085.0,733.8a2.4,4.0 0 1,0 4.9,0a2.4,4.0 0 1,0 -4.9,0M1085.8,733.8a1.6,2.7 0 1,0 3.2,0a1.6,2.7 0 1,0 -3.2,0M1023.5,728.7a5.0,5.9 0 1,0 10.0,0a5.0,5.9 0 1,0 -10.0,0M1024.5,728.7a4.0,4.7 0 1,0 8.0,0a4.0,4.7 0 1,0 -8.0,0M1025.5,728.7a3.0,3.5 0 1,0 6.0,0a3.0,3.5 0 1,0 -6.0,0M1026.5,728.7a2.0,2.3 0 1,0 4.0,0a2.0,2.3 0 1,0 -4.0,0M1066.1,709.2a3.4,4.8 0 1,0 6.7,0a3.4,4.8 0 1,0 -6.7,0M1066.8,709.2a2.7,3.8 0 1,0 5.4,0a2.7,3.8 0 1,0 -5.4,0M1067.4,709.2a2.0,2.9 0 1,0 4.0,0a2.0,2.9 0 1,0 -4.0,0M1068.1,709.2a1.3,1.9 0 1,0 2.7,0a1.3,1.9 0 1,0 -2.7,0M1079.2,719.2a4.2,4.9 0 1,0 8.4,0a4.2,4.9 0 1,0 -8.4,0M1080.0,719.2a3.4,3.9 0 1,0 6.7,0a3.4,3.9 0 1,0 -6.7,0M1080.9,719.2a2.5,2.9 0 1,0 5.1,0a2.5,2.9 0 1,0 -5.1,0M1081.7,719.2a1.7,1.9 0 1,0 3.4,0a1.7,1.9 0 1,0 -3.4,0M1069.3,783.6a4.6,3.6 0 1,0 9.2,0a4.6,3.6 0 1,0 -9.2,0M1070.2,783.6a3.7,2.9 0 1,0 7.3,0a3.7,2.9 0 1,0 -7.3,0M1071.1,783.6a2.7,2.2 0 1,0 5.5,0a2.7,2.2 0 1,0 -5.5,0M1072.0,783.6a1.8,1.4 0 1,0 3.7,0a1.8,1.4 0 1,0 -3.7,0M1077.2,744.8a3.6,5.1 0 1,0 7.1,0a3.6,5.1 0 1,0 -7.1,0M1077.9,744.8a2.9,4.1 0 1,0 5.7,0a2.9,4.1 0 1,0 -5.7,0M1078.6,744.8a2.1,3.1 0 1,0 4.3,0a2.1,3.1 0 1,0 -4.3,0M1079.3,744.8a1.4,2.0 0 1,0 2.9,0a1.4,2.0 0 1,0 -2.9,0M1058.8,743.1a5.4,6.3 0 1,0 10.7,0a5.4,6.3 0 1,0 -10.7,0M1059.9,743.1a4.3,5.1 0 1,0 8.6,0a4.3,5.1 0 1,0 -8.6,0M1061.0,743.1a3.2,3.8 0 1,0 6.4,0a3.2,3.8 0 1,0 -6.4,0M1062.1,743.1a2.1,2.5 0 1,0 4.3,0a2.1,2.5 0 1,0 -4.3,0M1041.0,722.5a4.0,4.4 0 1,0 7.9,0a4.0,4.4 0 1,0 -7.9,0M1041.8,722.5a3.2,3.5 0 1,0 6.3,0a3.2,3.5 0 1,0 -6.3,0M1042.5,722.5a2.4,2.6 0 1,0 4.8,0a2.4,2.6 0 1,0 -4.8,0M1043.3,722.5a1.6,1.8 0 1,0 3.2,0a1.6,1.8 0 1,0 -3.2,0M1022.6,732.9a5.5,4.0 0 1,0 11.0,0a5.5,4.0 0 1,0 -11.0,0M1023.7,732.9a4.4,3.2 0 1,0 8.8,0a4.4,3.2 0 1,0 -8.8,0M1024.8,732.9a3.3,2.4 0 1,0 6.6,0a3.3,2.4 0 1,0 -6.6,0M1025.9,732.9a2.2,1.6 0 1,0 4.4,0a2.2,1.6 0 1,0 -4.4,0M1071.0,713.8a3.4,4.3 0 1,0 6.8,0a3.4,4.3 0 1,0 -6.8,0M1071.7,713.8a2.7,3.4 0 1,0 5.4,0a2.7,3.4 0 1,0 -5.4,0M1072.4,713.8a2.0,2.6 0 1,0 4.1,0a2.0,2.6 0 1,0 -4.1,0M1073.1,713.8a1.4,1.7 0 1,0 2.7,0a1.4,1.7 0 1,0 -2.7,0M1054.0,747.0a2.8,5.4 0 1,0 5.7,0a2.8,5.4 0 1,0 -5.7,0M1054.6,747.0a2.3,4.3 0 1,0 4.5,0a2.3,4.3 0 1,0 -4.5,0M1055.2,747.0a1.7,3.2 0 1,0 3.4,0a1.7,3.2 0 1,0 -3.4,0M1055.7,747.0a1.1,2.2 0 1,0 2.3,0a1.1,2.2 0 1,0 -2.3,0M1023.4,746.4a4.6,4.4 0 1,0 9.3,0a4.6,4.4 0 1,0 -9.3,0M1024.4,746.4a3.7,3.5 0 1,0 7.4,0a3.7,3.5 0 1,0 -7.4,0M1025.3,746.4a2.8,2.6 0 1,0 5.6,0a2.8,2.6 0 1,0 -5.6,0M1026.2,746.4a1.9,1.8 0 1,0 3.7,0a1.9,1.8 0 1,0 -3.7,0M1073.6,736.9a5.5,6.2 0 1,0 11.0,0a5.5,6.2 0 1,0 -11.0,0M1074.7,736.9a4.4,5.0 0 1,0 8.8,0a4.4,5.0 0 1,0 -8.8,0M1075.8,736.9a3.3,3.7 0 1,0 6.6,0a3.3,3.7 0 1,0 -6.6,0M1076.9,736.9a2.2,2.5 0 1,0 4.4,0a2.2,2.5 0 1,0 -4.4,0M1052.8,705.5a4.3,6.6 0 1,0 8.6,0a4.3,6.6 0 1,0 -8.6,0M1053.6,705.5a3.4,5.3 0 1,0 6.9,0a3.4,5.3 0 1,0 -6.9,0M1054.5,705.5a2.6,4.0 0 1,0 5.1,0a2.6,4.0 0 1,0 -5.1,0M1055.3,705.5a1.7,2.6 0 1,0 3.4,0a1.7,2.6 0 1,0 -3.4,0M1094.8,762.3a3.9,6.9 0 1,0 7.8,0a3.9,6.9 0 1,0 -7.8,0M1095.5,762.3a3.1,5.5 0 1,0 6.3,0a3.1,5.5 0 1,0 -6.3,0M1096.3,762.3a2.4,4.1 0 1,0 4.7,0a2.4,4.1 0 1,0 -4.7,0M1097.1,762.3a1.6,2.7 0 1,0 3.1,0a1.6,2.7 0 1,0 -3.1,0M1035.2,755.2a3.7,5.8 0 1,0 7.4,0a3.7,5.8 0 1,0 -7.4,0M1035.9,755.2a3.0,4.7 0 1,0 5.9,0a3.0,4.7 0 1,0 -5.9,0M1036.7,755.2a2.2,3.5 0 1,0 4.4,0a2.2,3.5 0 1,0 -4.4,0M1037.4,755.2a1.5,2.3 0 1,0 3.0,0a1.5,2.3 0 1,0 -3.0,0M1016.3,742.0a4.6,6.6 0 1,0 9.3,0a4.6,6.6 0 1,0 -9.3,0M1017.3,742.0a3.7,5.3 0 1,0 7.4,0a3.7,5.3 0 1,0 -7.4,0M1018.2,742.0a2.8,4.0 0 1,0 5.6,0a2.8,4.0 0 1,0 -5.6,0M1019.1,742.0a1.9,2.6 0 1,0 3.7,0a1.9,2.6 0 1,0 -3.7,0M1076.1,753.9a5.2,6.6 0 1,0 10.4,0a5.2,6.6 0 1,0 -10.4,0M1077.1,753.9a4.2,5.3 0 1,0 8.3,0a4.2,5.3 0 1,0 -8.3,0M1078.1,753.9a3.1,4.0 0 1,0 6.3,0a3.1,4.0 0 1,0 -6.3,0M1079.2,753.9a2.1,2.6 0 1,0 4.2,0a2.1,2.6 0 1,0 -4.2,0M1064.3,719.1a4.9,4.0 0 1,0 9.8,0a4.9,4.0 0 1,0 -9.8,0M1065.3,719.1a3.9,3.2 0 1,0 7.9,0a3.9,3.2 0 1,0 -7.9,0M1066.3,719.1a2.9,2.4 0 1,0 5.9,0a2.9,2.4 0 1,0 -5.9,0M1067.3,719.1a2.0,1.6 0 1,0 3.9,0a2.0,1.6 0 1,0 -3.9,0M1037.4,750.6a3.9,4.2 0 1,0 7.8,0a3.9,4.2 0 1,0 -7.8,0M1038.2,750.6a3.1,3.4 0 1,0 6.2,0a3.1,3.4 0 1,0 -6.2,0M1039.0,750.6a2.3,2.5 0 1,0 4.7,0a2.3,2.5 0 1,0 -4.7,0M1039.7,750.6a1.6,1.7 0 1,0 3.1,0a1.6,1.7 0 1,0 -3.1,0M1015.2,743.8a5.0,5.8 0 1,0 10.0,0a5.0,5.8 0 1,0 -10.0,0M1016.2,743.8a4.0,4.6 0 1,0 8.0,0a4.0,4.6 0 1,0 -8.0,0M1017.2,743.8a3.0,3.5 0 1,0 6.0,0a3.0,3.5 0 1,0 -6.0,0M1018.3,743.8a2.0,2.3 0 1,0 4.0,0a2.0,2.3 0 1,0 -4.0,0M1073.4,731.1a3.3,5.3 0 1,0 6.6,0a3.3,5.3 0 1,0 -6.6,0M1074.0,731.1a2.6,4.2 0 1,0 5.3,0a2.6,4.2 0 1,0 -5.3,0M1074.7,731.1a2.0,3.2 0 1,0 4.0,0a2.0,3.2 0 1,0 -4.0,0M1075.4,731.1a1.3,2.1 0 1,0 2.6,0a1.3,2.1 0 1,0 -2.6,0M1081.4,737.0a4.5,6.3 0 1,0 9.0,0a4.5,6.3 0 1,0 -9.0,0M1082.3,737.0a3.6,5.0 0 1,0 7.2,0a3.6,5.0 0 1,0 -7.2,0M1083.2,737.0a2.7,3.8 0 1,0 5.4,0a2.7,3.8 0 1,0 -5.4,0M1084.1,737.0a1.8,2.5 0 1,0 3.6,0a1.8,2.5 0 1,0 -3.6,0M1029.8,735.1a3.9,4.5 0 1,0 7.8,0a3.9,4.5 0 1,0 -7.8,0M1030.5,735.1a3.1,3.6 0 1,0 6.2,0a3.1,3.6 0 1,0 -6.2,0M1031.3,735.1a2.3,2.7 0 1,0 4.7,0a2.3,2.7 0 1,0 -4.7,0M1032.1,735.1a1.6,1.8 0 1,0 3.1,0a1.6,1.8 0 1,0 -3.1,0M1047.0,740.2a5.1,4.6 0 1,0 10.2,0a5.1,4.6 0 1,0 -10.2,0M1048.0,740.2a4.1,3.7 0 1,0 8.2,0a4.1,3.7 0 1,0 -8.2,0M1049.0,740.2a3.1,2.7 0 1,0 6.1,0a3.1,2.7 0 1,0 -6.1,0M1050.1,740.2a2.0,1.8 0 1,0 4.1,0a2.0,1.8 0 1,0 -4.1,0M1062.5,779.8a2.7,6.4 0 1,0 5.5,0a2.7,6.4 0 1,0 -5.5,0M1063.1,779.8a2.2,5.1 0 1,0 4.4,0a2.2,5.1 0 1,0 -4.4,0M1063.6,779.8a1.6,3.8 0 1,0 3.3,0a1.6,3.8 0 1,0 -3.3,0M1064.1,779.8a1.1,2.6 0 1,0 2.2,0a1.1,2.6 0 1,0 -2.2,0M1069.1,735.9a4.1,6.5 0 1,0 8.2,0a4.1,6.5 0 1,0 -8.2,0M1069.9,735.9a3.3,5.2 0 1,0 6.5,0a3.3,5.2 0 1,0 -6.5,0M1070.7,735.9a2.5,3.9 0 1,0 4.9,0a2.5,3.9 0 1,0 -4.9,0M1071.6,735.9a1.6,2.6 0 1,0 3.3,0a1.6,2.6 0 1,0 -3.3,0M1042.0,722.6a3.9,4.3 0 1,0 7.7,0a3.9,4.3 0 1,0 -7.7,0M1042.8,722.6a3.1,3.4 0 1,0 6.2,0a3.1,3.4 0 1,0 -6.2,0M1043.6,722.6a2.3,2.6 0 1,0 4.6,0a2.3,2.6 0 1,0 -4.6,0M1044.3,722.6a1.5,1.7 0 1,0 3.1,0a1.5,1.7 0 1,0 -3.1,0M1047.9,729.7a2.7,5.1 0 1,0 5.5,0a2.7,5.1 0 1,0 -5.5,0M1048.4,729.7a2.2,4.1 0 1,0 4.4,0a2.2,4.1 0 1,0 -4.4,0M1049.0,729.7a1.6,3.1 0 1,0 3.3,0a1.6,3.1 0 1,0 -3.3,0M1049.5,729.7a1.1,2.0 0 1,0 2.2,0a1.1,2.0 0 1,0 -2.2,0M1051.8,756.7a5.3,4.6 0 1,0 10.6,0a5.3,4.6 0 1,0 -10.6,0M1052.9,756.7a4.2,3.7 0 1,0 8.5,0a4.2,3.7 0 1,0 -8.5,0M1054.0,756.7a3.2,2.8 0 1,0 6.3,0a3.2,2.8 0 1,0 -6.3,0M1055.0,756.7a2.1,1.9 0 1,0 4.2,0a2.1,1.9 0 1,0 -4.2,0M1046.7,769.8a3.2,6.3 0 1,0 6.4,0a3.2,6.3 0 1,0 -6.4,0M1047.4,769.8a2.6,5.1 0 1,0 5.1,0a2.6,5.1 0 1,0 -5.1,0M1048.0,769.8a1.9,3.8 0 1,0 3.8,0a1.9,3.8 0 1,0 -3.8,0M1048.6,769.8a1.3,2.5 0 1,0 2.6,0a1.3,2.5 0 1,0 -2.6,0M1084.0,731.7a5.1,6.7 0 1,0 10.3,0a5.1,6.7 0 1,0 -10.3,0M1085.1,731.7a4.1,5.4 0 1,0 8.2,0a4.1,5.4 0 1,0 -8.2,0M1086.1,731.7a3.1,4.0 0 1,0 6.2,0a3.1,4.0 0 1,0 -6.2,0M1087.1,731.7a2.1,2.7 0 1,0 4.1,0a2.1,2.7 0 1,0 -4.1,0M1077.8,776.0a5.3,6.1 0 1,0 10.6,0a5.3,6.1 0 1,0 -10.6,0M1078.8,776.0a4.2,4.9 0 1,0 8.5,0a4.2,4.9 0 1,0 -8.5,0M1079.9,776.0a3.2,3.7 0 1,0 6.4,0a3.2,3.7 0 1,0 -6.4,0M1081.0,776.0a2.1,2.5 0 1,0 4.2,0a2.1,2.5 0 1,0 -4.2,0M1068.7,759.3a3.6,4.9 0 1,0 7.2,0a3.6,4.9 0 1,0 -7.2,0M1069.4,759.3a2.9,3.9 0 1,0 5.8,0a2.9,3.9 0 1,0 -5.8,0M1070.1,759.3a2.2,2.9 0 1,0 4.3,0a2.2,2.9 0 1,0 -4.3,0M1070.8,759.3a1.4,2.0 0 1,0 2.9,0a1.4,2.0 0 1,0 -2.9,0M1044.2,733.2a5.3,6.6 0 1,0 10.5,0a5.3,6.6 0 1,0 -10.5,0M1045.3,733.2a4.2,5.3 0 1,0 8.4,0a4.2,5.3 0 1,0 -8.4,0M1046.3,733.2a3.2,4.0 0 1,0 6.3,0a3.2,4.0 0 1,0 -6.3,0M1047.4,733.2a2.1,2.6 0 1,0 4.2,0a2.1,2.6 0 1,0 -4.2,0M1060.6,722.9a5.0,4.9 0 1,0 10.0,0a5.0,4.9 0 1,0 -10.0,0M1061.6,722.9a4.0,3.9 0 1,0 8.0,0a4.0,3.9 0 1,0 -8.0,0M1062.6,722.9a3.0,2.9 0 1,0 6.0,0a3.0,2.9 0 1,0 -6.0,0M1063.6,722.9a2.0,1.9 0 1,0 4.0,0a2.0,1.9 0 1,0 -4.0,0M1033.4,724.1a3.8,4.4 0 1,0 7.5,0a3.8,4.4 0 1,0 -7.5,0M1034.2,724.1a3.0,3.5 0 1,0 6.0,0a3.0,3.5 0 1,0 -6.0,0M1034.9,724.1a2.3,2.6 0 1,0 4.5,0a2.3,2.6 0 1,0 -4.5,0M1035.7,724.1a1.5,1.8 0 1,0 3.0,0a1.5,1.8 0 1,0 -3.0,0M1048.6,767.5a2.7,4.0 0 1,0 5.4,0a2.7,4.0 0 1,0 -5.4,0M1049.2,767.5a2.1,3.2 0 1,0 4.3,0a2.1,3.2 0 1,0 -4.3,0M1049.7,767.5a1.6,2.4 0 1,0 3.2,0a1.6,2.4 0 1,0 -3.2,0M1050.2,767.5a1.1,1.6 0 1,0 2.1,0a1.1,1.6 0 1,0 -2.1,0M1081.4,714.2a4.1,6.5 0 1,0 8.1,0a4.1,6.5 0 1,0 -8.1,0M1082.2,714.2a3.3,5.2 0 1,0 6.5,0a3.3,5.2 0 1,0 -6.5,0M1083.0,714.2a2.4,3.9 0 1,0 4.9,0a2.4,3.9 0 1,0 -4.9,0M1083.8,714.2a1.6,2.6 0 1,0 3.3,0a1.6,2.6 0 1,0 -3.3,0M1048.6,742.8a4.4,4.6 0 1,0 8.7,0a4.4,4.6 0 1,0 -8.7,0M1049.5,742.8a3.5,3.7 0 1,0 7.0,0a3.5,3.7 0 1,0 -7.0,0M1050.3,742.8a2.6,2.8 0 1,0 5.2,0a2.6,2.8 0 1,0 -5.2,0M1051.2,742.8a1.7,1.8 0 1,0 3.5,0a1.7,1.8 0 1,0 -3.5,0M1063.9,748.2a5.5,7.0 0 1,0 10.9,0a5.5,7.0 0 1,0 -10.9,0M1065.0,748.2a4.4,5.6 0 1,0 8.7,0a4.4,5.6 0 1,0 -8.7,0M1066.1,748.2a3.3,4.2 0 1,0 6.5,0a3.3,4.2 0 1,0 -6.5,0M1067.2,748.2a2.2,2.8 0 1,0 4.4,0a2.2,2.8 0 1,0 -4.4,0M1052.0,747.1a2.6,3.9 0 1,0 5.3,0a2.6,3.9 0 1,0 -5.3,0M1052.5,747.1a2.1,3.1 0 1,0 4.2,0a2.1,3.1 0 1,0 -4.2,0M1053.0,747.1a1.6,2.3 0 1,0 3.2,0a1.6,2.3 0 1,0 -3.2,0M1053.5,747.1a1.1,1.6 0 1,0 2.1,0a1.1,1.6 0 1,0 -2.1,0M1093.5,760.1a5.2,3.8 0 1,0 10.5,0a5.2,3.8 0 1,0 -10.5,0M1094.5,760.1a4.2,3.0 0 1,0 8.4,0a4.2,3.0 0 1,0 -8.4,0M1095.6,760.1a3.1,2.3 0 1,0 6.3,0a3.1,2.3 0 1,0 -6.3,0M1096.6,760.1a2.1,1.5 0 1,0 4.2,0a2.1,1.5 0 1,0 -4.2,0M1030.0,715.3a4.5,3.8 0 1,0 9.0,0a4.5,3.8 0 1,0 -9.0,0M1030.9,715.3a3.6,3.1 0 1,0 7.2,0a3.6,3.1 0 1,0 -7.2,0M1031.8,715.3a2.7,2.3 0 1,0 5.4,0a2.7,2.3 0 1,0 -5.4,0M1032.7,715.3a1.8,1.5 0 1,0 3.6,0a1.8,1.5 0 1,0 -3.6,0M1036.1,743.4a4.2,4.0 0 1,0 8.4,0a4.2,4.0 0 1,0 -8.4,0M1036.9,743.4a3.3,3.2 0 1,0 6.7,0a3.3,3.2 0 1,0 -6.7,0M1037.8,743.4a2.5,2.4 0 1,0 5.0,0a2.5,2.4 0 1,0 -5.0,0M1038.6,743.4a1.7,1.6 0 1,0 3.3,0a1.7,1.6 0 1,0 -3.3,0M1084.5,746.9a4.5,6.6 0 1,0 9.1,0a4.5,6.6 0 1,0 -9.1,0M1085.4,746.9a3.6,5.3 0 1,0 7.3,0a3.6,5.3 0 1,0 -7.3,0M1086.3,746.9a2.7,3.9 0 1,0 5.5,0a2.7,3.9 0 1,0 -5.5,0M1087.2,746.9a1.8,2.6 0 1,0 3.6,0a1.8,2.6 0 1,0 -3.6,0M1033.7,734.8a4.4,6.5 0 1,0 8.7,0a4.4,6.5 0 1,0 -8.7,0M1034.6,734.8a3.5,5.2 0 1,0 7.0,0a3.5,5.2 0 1,0 -7.0,0M1035.5,734.8a2.6,3.9 0 1,0 5.2,0a2.6,3.9 0 1,0 -5.2,0M1036.3,734.8a1.7,2.6 0 1,0 3.5,0a1.7,2.6 0 1,0 -3.5,0M1059.6,780.0a3.0,3.9 0 1,0 6.0,0a3.0,3.9 0 1,0 -6.0,0M1060.2,780.0a2.4,3.1 0 1,0 4.8,0a2.4,3.1 0 1,0 -4.8,0M1060.8,780.0a1.8,2.3 0 1,0 3.6,0a1.8,2.3 0 1,0 -3.6,0M1061.4,780.0a1.2,1.5 0 1,0 2.4,0a1.2,1.5 0 1,0 -2.4,0M1034.3,734.7a3.4,5.0 0 1,0 6.8,0a3.4,5.0 0 1,0 -6.8,0M1035.0,734.7a2.7,4.0 0 1,0 5.4,0a2.7,4.0 0 1,0 -5.4,0M1035.6,734.7a2.0,3.0 0 1,0 4.1,0a2.0,3.0 0 1,0 -4.1,0M1036.3,734.7a1.4,2.0 0 1,0 2.7,0a1.4,2.0 0 1,0 -2.7,0M1063.3,720.0a3.1,5.5 0 1,0 6.2,0a3.1,5.5 0 1,0 -6.2,0M1063.9,720.0a2.5,4.4 0 1,0 4.9,0a2.5,4.4 0 1,0 -4.9,0M1064.5,720.0a1.8,3.3 0 1,0 3.7,0a1.8,3.3 0 1,0 -3.7,0M1065.1,720.0a1.2,2.2 0 1,0 2.5,0a1.2,2.2 0 1,0 -2.5,0M1078.4,762.0a3.9,3.7 0 1,0 7.9,0a3.9,3.7 0 1,0 -7.9,0M1079.2,762.0a3.1,2.9 0 1,0 6.3,0a3.1,2.9 0 1,0 -6.3,0M1080.0,762.0a2.4,2.2 0 1,0 4.7,0a2.4,2.2 0 1,0 -4.7,0M1080.8,762.0a1.6,1.5 0 1,0 3.1,0a1.6,1.5 0 1,0 -3.1,0M1087.6,753.2a2.6,4.2 0 1,0 5.2,0a2.6,4.2 0 1,0 -5.2,0M1088.1,753.2a2.1,3.3 0 1,0 4.2,0a2.1,3.3 0 1,0 -4.2,0M1088.6,753.2a1.6,2.5 0 1,0 3.1,0a1.6,2.5 0 1,0 -3.1,0M1089.1,753.2a1.0,1.7 0 1,0 2.1,0a1.0,1.7 0 1,0 -2.1,0M1055.8,727.5a3.1,6.4 0 1,0 6.3,0a3.1,6.4 0 1,0 -6.3,0M1056.5,727.5a2.5,5.1 0 1,0 5.0,0a2.5,5.1 0 1,0 -5.0,0M1057.1,727.5a1.9,3.8 0 1,0 3.8,0a1.9,3.8 0 1,0 -3.8,0M1057.7,727.5a1.3,2.6 0 1,0 2.5,0a1.3,2.6 0 1,0 -2.5,0M1092.1,750.8a3.7,5.0 0 1,0 7.5,0a3.7,5.0 0 1,0 -7.5,0M1092.8,750.8a3.0,4.0 0 1,0 6.0,0a3.0,4.0 0 1,0 -6.0,0M1093.6,750.8a2.2,3.0 0 1,0 4.5,0a2.2,3.0 0 1,0 -4.5,0M1094.3,750.8a1.5,2.0 0 1,0 3.0,0a1.5,2.0 0 1,0 -3.0,0M1070.8,713.3a4.6,4.5 0 1,0 9.2,0a4.6,4.5 0 1,0 -9.2,0M1071.7,713.3a3.7,3.6 0 1,0 7.4,0a3.7,3.6 0 1,0 -7.4,0M1072.6,713.3a2.8,2.7 0 1,0 5.5,0a2.8,2.7 0 1,0 -5.5,0M1073.5,713.3a1.8,1.8 0 1,0 3.7,0a1.8,1.8 0 1,0 -3.7,0M1044.3,748.2a3.7,5.3 0 1,0 7.4,0a3.7,5.3 0 1,0 -7.4,0M1045.0,748.2a2.9,4.3 0 1,0 5.9,0a2.9,4.3 0 1,0 -5.9,0M1045.8,748.2a2.2,3.2 0 1,0 4.4,0a2.2,3.2 0 1,0 -4.4,0M1046.5,748.2a1.5,2.1 0 1,0 2.9,0a1.5,2.1 0 1,0 -2.9,0M1080.0,761.2a4.9,5.1 0 1,0 9.7,0a4.9,5.1 0 1,0 -9.7,0M1081.0,761.2a3.9,4.1 0 1,0 7.8,0a3.9,4.1 0 1,0 -7.8,0M1081.9,761.2a2.9,3.0 0 1,0 5.8,0a2.9,3.0 0 1,0 -5.8,0M1082.9,761.2a1.9,2.0 0 1,0 3.9,0a1.9,2.0 0 1,0 -3.9,0M1056.1,719.1a3.9,5.5 0 1,0 7.8,0a3.9,5.5 0 1,0 -7.8,0M1056.9,719.1a3.1,4.4 0 1,0 6.3,0a3.1,4.4 0 1,0 -6.3,0M1057.6,719.1a2.3,3.3 0 1,0 4.7,0a2.3,3.3 0 1,0 -4.7,0M1058.4,719.1a1.6,2.2 0 1,0 3.1,0a1.6,2.2 0 1,0 -3.1,0M1089.7,719.6a3.4,4.6 0 1,0 6.9,0a3.4,4.6 0 1,0 -6.9,0M1090.4,719.6a2.8,3.7 0 1,0 5.5,0a2.8,3.7 0 1,0 -5.5,0M1091.1,719.6a2.1,2.8 0 1,0 4.1,0a2.1,2.8 0 1,0 -4.1,0M1091.7,719.6a1.4,1.8 0 1,0 2.8,0a1.4,1.8 0 1,0 -2.8,0M1065.8,714.1a3.0,5.6 0 1,0 5.9,0a3.0,5.6 0 1,0 -5.9,0M1066.3,714.1a2.4,4.5 0 1,0 4.7,0a2.4,4.5 0 1,0 -4.7,0M1066.9,714.1a1.8,3.4 0 1,0 3.5,0a1.8,3.4 0 1,0 -3.5,0M1067.5,714.1a1.2,2.2 0 1,0 2.4,0a1.2,2.2 0 1,0 -2.4,0M1056.4,770.3a5.2,4.0 0 1,0 10.5,0a5.2,4.0 0 1,0 -10.5,0M1057.4,770.3a4.2,3.2 0 1,0 8.4,0a4.2,3.2 0 1,0 -8.4,0M1058.5,770.3a3.1,2.4 0 1,0 6.3,0a3.1,2.4 0 1,0 -6.3,0M1059.5,770.3a2.1,1.6 0 1,0 4.2,0a2.1,1.6 0 1,0 -4.2,0M1088.8,752.7a4.6,5.3 0 1,0 9.2,0a4.6,5.3 0 1,0 -9.2,0M1089.8,752.7a3.7,4.3 0 1,0 7.4,0a3.7,4.3 0 1,0 -7.4,0M1090.7,752.7a2.8,3.2 0 1,0 5.5,0a2.8,3.2 0 1,0 -5.5,0M1091.6,752.7a1.8,2.1 0 1,0 3.7,0a1.8,2.1 0 1,0 -3.7,0M1068.4,735.9a3.8,6.9 0 1,0 7.6,0a3.8,6.9 0 1,0 -7.6,0M1069.2,735.9a3.0,5.5 0 1,0 6.1,0a3.0,5.5 0 1,0 -6.1,0M1069.9,735.9a2.3,4.1 0 1,0 4.6,0a2.3,4.1 0 1,0 -4.6,0M1070.7,735.9a1.5,2.8 0 1,0 3.0,0a1.5,2.8 0 1,0 -3.0,0M1075.3,736.7a4.0,3.9 0 1,0 8.1,0a4.0,3.9 0 1,0 -8.1,0M1076.2,736.7a3.2,3.1 0 1,0 6.5,0a3.2,3.1 0 1,0 -6.5,0M1077.0,736.7a2.4,2.3 0 1,0 4.9,0a2.4,2.3 0 1,0 -4.9,0M1077.8,736.7a1.6,1.5 0 1,0 3.2,0a1.6,1.5 0 1,0 -3.2,0M1081.1,751.8a4.6,6.1 0 1,0 9.2,0a4.6,6.1 0 1,0 -9.2,0M1082.0,751.8a3.7,4.9 0 1,0 7.4,0a3.7,4.9 0 1,0 -7.4,0M1083.0,751.8a2.8,3.6 0 1,0 5.5,0a2.8,3.6 0 1,0 -5.5,0M1083.9,751.8a1.8,2.4 0 1,0 3.7,0a1.8,2.4 0 1,0 -3.7,0M1042.7,748.2a4.3,5.8 0 1,0 8.7,0a4.3,5.8 0 1,0 -8.7,0M1043.5,748.2a3.5,4.6 0 1,0 7.0,0a3.5,4.6 0 1,0 -7.0,0M1044.4,748.2a2.6,3.5 0 1,0 5.2,0a2.6,3.5 0 1,0 -5.2,0M1045.3,748.2a1.7,2.3 0 1,0 3.5,0a1.7,2.3 0 1,0 -3.5,0M1062.4,710.3a4.5,5.0 0 1,0 9.0,0a4.5,5.0 0 1,0 -9.0,0M1063.3,710.3a3.6,4.0 0 1,0 7.2,0a3.6,4.0 0 1,0 -7.2,0M1064.2,710.3a2.7,3.0 0 1,0 5.4,0a2.7,3.0 0 1,0 -5.4,0M1065.1,710.3a1.8,2.0 0 1,0 3.6,0a1.8,2.0 0 1,0 -3.6,0M1044.6,731.6a5.3,5.6 0 1,0 10.5,0a5.3,5.6 0 1,0 -10.5,0M1045.6,731.6a4.2,4.5 0 1,0 8.4,0a4.2,4.5 0 1,0 -8.4,0M1046.7,731.6a3.2,3.4 0 1,0 6.3,0a3.2,3.4 0 1,0 -6.3,0M1047.7,731.6a2.1,2.2 0 1,0 4.2,0a2.1,2.2 0 1,0 -4.2,0M1083.6,778.3a4.0,6.9 0 1,0 8.1,0a4.0,6.9 0 1,0 -8.1,0M1084.4,778.3a3.2,5.5 0 1,0 6.4,0a3.2,5.5 0 1,0 -6.4,0M1085.2,778.3a2.4,4.1 0 1,0 4.8,0a2.4,4.1 0 1,0 -4.8,0M1086.0,778.3a1.6,2.8 0 1,0 3.2,0a1.6,2.8 0 1,0 -3.2,0M1061.6,754.2a3.8,5.0 0 1,0 7.6,0a3.8,5.0 0 1,0 -7.6,0M1062.3,754.2a3.0,4.0 0 1,0 6.1,0a3.0,4.0 0 1,0 -6.1,0M1063.1,754.2a2.3,3.0 0 1,0 4.6,0a2.3,3.0 0 1,0 -4.6,0M1063.9,754.2a1.5,2.0 0 1,0 3.0,0a1.5,2.0 0 1,0 -3.0,0M1018.4,752.8a5.4,6.4 0 1,0 10.8,0a5.4,6.4 0 1,0 -10.8,0M1019.5,752.8a4.3,5.1 0 1,0 8.6,0a4.3,5.1 0 1,0 -8.6,0M1020.5,752.8a3.2,3.8 0 1,0 6.5,0a3.2,3.8 0 1,0 -6.5,0M1021.6,752.8a2.2,2.6 0 1,0 4.3,0a2.2,2.6 0 1,0 -4.3,0M1035.5,769.2a5.2,4.9 0 1,0 10.4,0a5.2,4.9 0 1,0 -10.4,0M1036.6,769.2a4.1,3.9 0 1,0 8.3,0a4.1,3.9 0 1,0 -8.3,0M1037.6,769.2a3.1,2.9 0 1,0 6.2,0a3.1,2.9 0 1,0 -6.2,0M1038.6,769.2a2.1,2.0 0 1,0 4.1,0a2.1,2.0 0 1,0 -4.1,0M1066.9,708.7a3.2,4.2 0 1,0 6.4,0a3.2,4.2 0 1,0 -6.4,0M1067.6,708.7a2.6,3.3 0 1,0 5.1,0a2.6,3.3 0 1,0 -5.1,0M1068.2,708.7a1.9,2.5 0 1,0 3.8,0a1.9,2.5 0 1,0 -3.8,0M1068.9,708.7a1.3,1.7 0 1,0 2.6,0a1.3,1.7 0 1,0 -2.6,0M1020.3,746.5a4.1,4.9 0 1,0 8.2,0a4.1,4.9 0 1,0 -8.2,0M1021.1,746.5a3.3,3.9 0 1,0 6.5,0a3.3,3.9 0 1,0 -6.5,0M1022.0,746.5a2.4,2.9 0 1,0 4.9,0a2.4,2.9 0 1,0 -4.9,0M1022.8,746.5a1.6,2.0 0 1,0 3.3,0a1.6,2.0 0 1,0 -3.3,0M1052.2,741.6a3.6,6.9 0 1,0 7.2,0a3.6,6.9 0 1,0 -7.2,0M1053.0,741.6a2.9,5.5 0 1,0 5.8,0a2.9,5.5 0 1,0 -5.8,0M1053.7,741.6a2.2,4.1 0 1,0 4.3,0a2.2,4.1 0 1,0 -4.3,0M1054.4,741.6a1.4,2.8 0 1,0 2.9,0a1.4,2.8 0 1,0 -2.9,0M1051.6,739.7a5.4,6.3 0 1,0 10.7,0a5.4,6.3 0 1,0 -10.7,0M1052.7,739.7a4.3,5.0 0 1,0 8.6,0a4.3,5.0 0 1,0 -8.6,0M1053.7,739.7a3.2,3.8 0 1,0 6.4,0a3.2,3.8 0 1,0 -6.4,0M1054.8,739.7a2.1,2.5 0 1,0 4.3,0a2.1,2.5 0 1,0 -4.3,0M1066.4,713.7a3.6,3.6 0 1,0 7.1,0a3.6,3.6 0 1,0 -7.1,0M1067.1,713.7a2.8,2.9 0 1,0 5.7,0a2.8,2.9 0 1,0 -5.7,0M1067.8,713.7a2.1,2.1 0 1,0 4.3,0a2.1,2.1 0 1,0 -4.3,0M1068.5,713.7a1.4,1.4 0 1,0 2.8,0a1.4,1.4 0 1,0 -2.8,0M1070.3,750.9a3.3,5.0 0 1,0 6.5,0a3.3,5.0 0 1,0 -6.5,0M1071.0,750.9a2.6,4.0 0 1,0 5.2,0a2.6,4.0 0 1,0 -5.2,0M1071.6,750.9a2.0,3.0 0 1,0 3.9,0a2.0,3.0 0 1,0 -3.9,0M1072.3,750.9a1.3,2.0 0 1,0 2.6,0a1.3,2.0 0 1,0 -2.6,0M1068.8,705.3a3.4,6.4 0 1,0 6.8,0a3.4,6.4 0 1,0 -6.8,0M1069.5,705.3a2.7,5.2 0 1,0 5.5,0a2.7,5.2 0 1,0 -5.5,0M1070.2,705.3a2.0,3.9 0 1,0 4.1,0a2.0,3.9 0 1,0 -4.1,0M1070.8,705.3a1.4,2.6 0 1,0 2.7,0a1.4,2.6 0 1,0 -2.7,0M1064.5,760.7a3.2,6.0 0 1,0 6.5,0a3.2,6.0 0 1,0 -6.5,0M1065.2,760.7a2.6,4.8 0 1,0 5.2,0a2.6,4.8 0 1,0 -5.2,0M1065.8,760.7a1.9,3.6 0 1,0 3.9,0a1.9,3.6 0 1,0 -3.9,0M1066.5,760.7a1.3,2.4 0 1,0 2.6,0a1.3,2.4 0 1,0 -2.6,0M1059.6,741.7a5.4,6.1 0 1,0 10.7,0a5.4,6.1 0 1,0 -10.7,0M1060.6,741.7a4.3,4.9 0 1,0 8.6,0a4.3,4.9 0 1,0 -8.6,0M1061.7,741.7a3.2,3.7 0 1,0 6.4,0a3.2,3.7 0 1,0 -6.4,0M1062.8,741.7a2.1,2.5 0 1,0 4.3,0a2.1,2.5 0 1,0 -4.3,0M1066.4,755.4a3.9,6.9 0 1,0 7.7,0a3.9,6.9 0 1,0 -7.7,0M1067.1,755.4a3.1,5.5 0 1,0 6.2,0a3.1,5.5 0 1,0 -6.2,0M1067.9,755.4a2.3,4.1 0 1,0 4.6,0a2.3,4.1 0 1,0 -4.6,0M1068.7,755.4a1.5,2.7 0 1,0 3.1,0a1.5,2.7 0 1,0 -3.1,0M1067.2,767.3a4.6,4.8 0 1,0 9.2,0a4.6,4.8 0 1,0 -9.2,0M1068.1,767.3a3.7,3.8 0 1,0 7.3,0a3.7,3.8 0 1,0 -7.3,0M1069.0,767.3a2.8,2.9 0 1,0 5.5,0a2.8,2.9 0 1,0 -5.5,0M1069.9,767.3a1.8,1.9 0 1,0 3.7,0a1.8,1.9 0 1,0 -3.7,0M1027.9,758.8a4.4,4.9 0 1,0 8.9,0a4.4,4.9 0 1,0 -8.9,0M1028.8,758.8a3.6,3.9 0 1,0 7.1,0a3.6,3.9 0 1,0 -7.1,0M1029.7,758.8a2.7,3.0 0 1,0 5.3,0a2.7,3.0 0 1,0 -5.3,0M1030.6,758.8a1.8,2.0 0 1,0 3.6,0a1.8,2.0 0 1,0 -3.6,0M1099.6,778.5a4.4,6.2 0 1,0 8.9,0a4.4,6.2 0 1,0 -8.9,0M1100.5,778.5a3.6,5.0 0 1,0 7.1,0a3.6,5.0 0 1,0 -7.1,0M1101.3,778.5a2.7,3.7 0 1,0 5.3,0a2.7,3.7 0 1,0 -5.3,0M1102.2,778.5a1.8,2.5 0 1,0 3.6,0a1.8,2.5 0 1,0 -3.6,0M1113.8,778.1a2.6,5.1 0 1,0 5.2,0a2.6,5.1 0 1,0 -5.2,0M1114.3,778.1a2.1,4.1 0 1,0 4.2,0a2.1,4.1 0 1,0 -4.2,0M1114.9,778.1a1.6,3.1 0 1,0 3.1,0a1.6,3.1 0 1,0 -3.1,0M1115.4,778.1a1.0,2.0 0 1,0 2.1,0a1.0,2.0 0 1,0 -2.1,0M1050.4,821.4a3.5,3.8 0 1,0 7.0,0a3.5,3.8 0 1,0 -7.0,0M1051.1,821.4a2.8,3.0 0 1,0 5.6,0a2.8,3.0 0 1,0 -5.6,0M1051.8,821.4a2.1,2.3 0 1,0 4.2,0a2.1,2.3 0 1,0 -4.2,0M1052.5,821.4a1.4,1.5 0 1,0 2.8,0a1.4,1.5 0 1,0 -2.8,0M1145.9,782.5a2.8,3.6 0 1,0 5.6,0a2.8,3.6 0 1,0 -5.6,0M1146.4,782.5a2.2,2.9 0 1,0 4.5,0a2.2,2.9 0 1,0 -4.5,0M1147.0,782.5a1.7,2.1 0 1,0 3.3,0a1.7,2.1 0 1,0 -3.3,0M1147.5,782.5a1.1,1.4 0 1,0 2.2,0a1.1,1.4 0 1,0 -2.2,0M1086.8,827.8a5.4,6.6 0 1,0 10.8,0a5.4,6.6 0 1,0 -10.8,0M1087.9,827.8a4.3,5.3 0 1,0 8.7,0a4.3,5.3 0 1,0 -8.7,0M1089.0,827.8a3.2,3.9 0 1,0 6.5,0a3.2,3.9 0 1,0 -6.5,0M1090.1,827.8a2.2,2.6 0 1,0 4.3,0a2.2,2.6 0 1,0 -4.3,0M1056.5,799.2a3.0,4.6 0 1,0 6.0,0a3.0,4.6 0 1,0 -6.0,0M1057.1,799.2a2.4,3.6 0 1,0 4.8,0a2.4,3.6 0 1,0 -4.8,0M1057.7,799.2a1.8,2.7 0 1,0 3.6,0a1.8,2.7 0 1,0 -3.6,0M1058.3,799.2a1.2,1.8 0 1,0 2.4,0a1.2,1.8 0 1,0 -2.4,0M1120.6,784.5a3.3,5.3 0 1,0 6.7,0a3.3,5.3 0 1,0 -6.7,0M1121.3,784.5a2.7,4.2 0 1,0 5.3,0a2.7,4.2 0 1,0 -5.3,0M1122.0,784.5a2.0,3.2 0 1,0 4.0,0a2.0,3.2 0 1,0 -4.0,0M1122.6,784.5a1.3,2.1 0 1,0 2.7,0a1.3,2.1 0 1,0 -2.7,0M1049.3,762.2a4.9,6.0 0 1,0 9.9,0a4.9,6.0 0 1,0 -9.9,0M1050.2,762.2a3.9,4.8 0 1,0 7.9,0a3.9,4.8 0 1,0 -7.9,0M1051.2,762.2a3.0,3.6 0 1,0 5.9,0a3.0,3.6 0 1,0 -5.9,0M1052.2,762.2a2.0,2.4 0 1,0 3.9,0a2.0,2.4 0 1,0 -3.9,0M1092.7,754.2a3.7,5.2 0 1,0 7.4,0a3.7,5.2 0 1,0 -7.4,0M1093.4,754.2a3.0,4.1 0 1,0 5.9,0a3.0,4.1 0 1,0 -5.9,0M1094.2,754.2a2.2,3.1 0 1,0 4.5,0a2.2,3.1 0 1,0 -4.5,0M1094.9,754.2a1.5,2.1 0 1,0 3.0,0a1.5,2.1 0 1,0 -3.0,0M1134.2,799.5a4.9,4.0 0 1,0 9.7,0a4.9,4.0 0 1,0 -9.7,0M1135.1,799.5a3.9,3.2 0 1,0 7.8,0a3.9,3.2 0 1,0 -7.8,0M1136.1,799.5a2.9,2.4 0 1,0 5.8,0a2.9,2.4 0 1,0 -5.8,0M1137.1,799.5a1.9,1.6 0 1,0 3.9,0a1.9,1.6 0 1,0 -3.9,0M1052.5,756.5a3.7,6.4 0 1,0 7.4,0a3.7,6.4 0 1,0 -7.4,0M1053.3,756.5a2.9,5.1 0 1,0 5.9,0a2.9,5.1 0 1,0 -5.9,0M1054.0,756.5a2.2,3.9 0 1,0 4.4,0a2.2,3.9 0 1,0 -4.4,0M1054.7,756.5a1.5,2.6 0 1,0 2.9,0a1.5,2.6 0 1,0 -2.9,0M1048.4,818.5a5.1,5.1 0 1,0 10.3,0a5.1,5.1 0 1,0 -10.3,0M1049.4,818.5a4.1,4.1 0 1,0 8.2,0a4.1,4.1 0 1,0 -8.2,0M1050.4,818.5a3.1,3.1 0 1,0 6.2,0a3.1,3.1 0 1,0 -6.2,0M1051.5,818.5a2.1,2.0 0 1,0 4.1,0a2.1,2.0 0 1,0 -4.1,0M1047.2,786.4a2.7,6.3 0 1,0 5.4,0a2.7,6.3 0 1,0 -5.4,0M1047.7,786.4a2.2,5.1 0 1,0 4.4,0a2.2,5.1 0 1,0 -4.4,0M1048.3,786.4a1.6,3.8 0 1,0 3.3,0a1.6,3.8 0 1,0 -3.3,0M1048.8,786.4a1.1,2.5 0 1,0 2.2,0a1.1,2.5 0 1,0 -2.2,0M1141.2,758.8a3.8,3.9 0 1,0 7.5,0a3.8,3.9 0 1,0 -7.5,0M1142.0,758.8a3.0,3.2 0 1,0 6.0,0a3.0,3.2 0 1,0 -6.0,0M1142.7,758.8a2.3,2.4 0 1,0 4.5,0a2.3,2.4 0 1,0 -4.5,0M1143.5,758.8a1.5,1.6 0 1,0 3.0,0a1.5,1.6 0 1,0 -3.0,0M1071.3,816.4a3.0,4.3 0 1,0 5.9,0a3.0,4.3 0 1,0 -5.9,0M1071.9,816.4a2.4,3.4 0 1,0 4.7,0a2.4,3.4 0 1,0 -4.7,0M1072.4,816.4a1.8,2.6 0 1,0 3.6,0a1.8,2.6 0 1,0 -3.6,0M1073.0,816.4a1.2,1.7 0 1,0 2.4,0a1.2,1.7 0 1,0 -2.4,0M1124.9,788.5a5.3,6.9 0 1,0 10.5,0a5.3,6.9 0 1,0 -10.5,0M1126.0,788.5a4.2,5.5 0 1,0 8.4,0a4.2,5.5 0 1,0 -8.4,0M1127.0,788.5a3.2,4.1 0 1,0 6.3,0a3.2,4.1 0 1,0 -6.3,0M1128.1,788.5a2.1,2.8 0 1,0 4.2,0a2.1,2.8 0 1,0 -4.2,0M1118.3,824.1a4.8,4.0 0 1,0 9.5,0a4.8,4.0 0 1,0 -9.5,0M1119.3,824.1a3.8,3.2 0 1,0 7.6,0a3.8,3.2 0 1,0 -7.6,0M1120.2,824.1a2.9,2.4 0 1,0 5.7,0a2.9,2.4 0 1,0 -5.7,0M1121.2,824.1a1.9,1.6 0 1,0 3.8,0a1.9,1.6 0 1,0 -3.8,0M1114.2,786.1a3.4,3.7 0 1,0 6.8,0a3.4,3.7 0 1,0 -6.8,0M1114.9,786.1a2.7,3.0 0 1,0 5.4,0a2.7,3.0 0 1,0 -5.4,0M1115.6,786.1a2.0,2.2 0 1,0 4.1,0a2.0,2.2 0 1,0 -4.1,0M1116.3,786.1a1.4,1.5 0 1,0 2.7,0a1.4,1.5 0 1,0 -2.7,0M1140.9,773.2a5.0,4.0 0 1,0 10.1,0a5.0,4.0 0 1,0 -10.1,0M1141.9,773.2a4.0,3.2 0 1,0 8.1,0a4.0,3.2 0 1,0 -8.1,0M1142.9,773.2a3.0,2.4 0 1,0 6.0,0a3.0,2.4 0 1,0 -6.0,0M1143.9,773.2a2.0,1.6 0 1,0 4.0,0a2.0,1.6 0 1,0 -4.0,0M1145.2,795.2a4.8,4.3 0 1,0 9.7,0a4.8,4.3 0 1,0 -9.7,0M1146.2,795.2a3.9,3.4 0 1,0 7.7,0a3.9,3.4 0 1,0 -7.7,0M1147.1,795.2a2.9,2.6 0 1,0 5.8,0a2.9,2.6 0 1,0 -5.8,0M1148.1,795.2a1.9,1.7 0 1,0 3.9,0a1.9,1.7 0 1,0 -3.9,0M1111.6,821.4a3.5,6.7 0 1,0 7.0,0a3.5,6.7 0 1,0 -7.0,0M1112.3,821.4a2.8,5.4 0 1,0 5.6,0a2.8,5.4 0 1,0 -5.6,0M1113.0,821.4a2.1,4.0 0 1,0 4.2,0a2.1,4.0 0 1,0 -4.2,0M1113.7,821.4a1.4,2.7 0 1,0 2.8,0a1.4,2.7 0 1,0 -2.8,0M1110.5,742.3a4.6,4.8 0 1,0 9.1,0a4.6,4.8 0 1,0 -9.1,0M1111.4,742.3a3.6,3.9 0 1,0 7.3,0a3.6,3.9 0 1,0 -7.3,0M1112.3,742.3a2.7,2.9 0 1,0 5.5,0a2.7,2.9 0 1,0 -5.5,0M1113.2,742.3a1.8,1.9 0 1,0 3.6,0a1.8,1.9 0 1,0 -3.6,0M1134.7,810.1a3.0,5.8 0 1,0 6.1,0a3.0,5.8 0 1,0 -6.1,0M1135.3,810.1a2.4,4.7 0 1,0 4.9,0a2.4,4.7 0 1,0 -4.9,0M1135.9,810.1a1.8,3.5 0 1,0 3.6,0a1.8,3.5 0 1,0 -3.6,0M1136.5,810.1a1.2,2.3 0 1,0 2.4,0a1.2,2.3 0 1,0 -2.4,0M1095.7,769.4a4.0,4.3 0 1,0 8.0,0a4.0,4.3 0 1,0 -8.0,0M1096.5,769.4a3.2,3.5 0 1,0 6.4,0a3.2,3.5 0 1,0 -6.4,0M1097.3,769.4a2.4,2.6 0 1,0 4.8,0a2.4,2.6 0 1,0 -4.8,0M1098.1,769.4a1.6,1.7 0 1,0 3.2,0a1.6,1.7 0 1,0 -3.2,0M1076.6,794.3a4.7,4.4 0 1,0 9.5,0a4.7,4.4 0 1,0 -9.5,0M1077.6,794.3a3.8,3.5 0 1,0 7.6,0a3.8,3.5 0 1,0 -7.6,0M1078.5,794.3a2.8,2.6 0 1,0 5.7,0a2.8,2.6 0 1,0 -5.7,0M1079.5,794.3a1.9,1.8 0 1,0 3.8,0a1.9,1.8 0 1,0 -3.8,0M1054.6,752.0a5.4,6.8 0 1,0 10.8,0a5.4,6.8 0 1,0 -10.8,0M1055.7,752.0a4.3,5.4 0 1,0 8.6,0a4.3,5.4 0 1,0 -8.6,0M1056.8,752.0a3.2,4.1 0 1,0 6.5,0a3.2,4.1 0 1,0 -6.5,0M1057.9,752.0a2.2,2.7 0 1,0 4.3,0a2.2,2.7 0 1,0 -4.3,0M1066.9,780.6a2.5,5.0 0 1,0 5.0,0a2.5,5.0 0 1,0 -5.0,0M1067.4,780.6a2.0,4.0 0 1,0 4.0,0a2.0,4.0 0 1,0 -4.0,0M1067.9,780.6a1.5,3.0 0 1,0 3.0,0a1.5,3.0 0 1,0 -3.0,0M1068.5,780.6a1.0,2.0 0 1,0 2.0,0a1.0,2.0 0 1,0 -2.0,0M1129.3,776.0a3.4,4.0 0 1,0 6.9,0a3.4,4.0 0 1,0 -6.9,0M1130.0,776.0a2.8,3.2 0 1,0 5.5,0a2.8,3.2 0 1,0 -5.5,0M1130.7,776.0a2.1,2.4 0 1,0 4.1,0a2.1,2.4 0 1,0 -4.1,0M1131.4,776.0a1.4,1.6 0 1,0 2.8,0a1.4,1.6 0 1,0 -2.8,0M1131.3,768.9a3.7,5.2 0 1,0 7.5,0a3.7,5.2 0 1,0 -7.5,0M1132.1,768.9a3.0,4.2 0 1,0 6.0,0a3.0,4.2 0 1,0 -6.0,0M1132.8,768.9a2.2,3.1 0 1,0 4.5,0a2.2,3.1 0 1,0 -4.5,0M1133.6,768.9a1.5,2.1 0 1,0 3.0,0a1.5,2.1 0 1,0 -3.0,0M1129.9,767.5a4.2,5.3 0 1,0 8.5,0a4.2,5.3 0 1,0 -8.5,0M1130.7,767.5a3.4,4.3 0 1,0 6.8,0a3.4,4.3 0 1,0 -6.8,0M1131.6,767.5a2.5,3.2 0 1,0 5.1,0a2.5,3.2 0 1,0 -5.1,0M1132.4,767.5a1.7,2.1 0 1,0 3.4,0a1.7,2.1 0 1,0 -3.4,0M1084.9,747.0a5.0,5.3 0 1,0 10.0,0a5.0,5.3 0 1,0 -10.0,0M1085.9,747.0a4.0,4.2 0 1,0 8.0,0a4.0,4.2 0 1,0 -8.0,0M1086.9,747.0a3.0,3.2 0 1,0 6.0,0a3.0,3.2 0 1,0 -6.0,0M1087.9,747.0a2.0,2.1 0 1,0 4.0,0a2.0,2.1 0 1,0 -4.0,0M1081.3,835.2a5.2,5.3 0 1,0 10.3,0a5.2,5.3 0 1,0 -10.3,0M1082.3,835.2a4.1,4.2 0 1,0 8.3,0a4.1,4.2 0 1,0 -8.3,0M1083.4,835.2a3.1,3.2 0 1,0 6.2,0a3.1,3.2 0 1,0 -6.2,0M1084.4,835.2a2.1,2.1 0 1,0 4.1,0a2.1,2.1 0 1,0 -4.1,0M1044.4,789.5a4.7,5.9 0 1,0 9.4,0a4.7,5.9 0 1,0 -9.4,0M1045.3,789.5a3.8,4.7 0 1,0 7.5,0a3.8,4.7 0 1,0 -7.5,0M1046.3,789.5a2.8,3.5 0 1,0 5.7,0a2.8,3.5 0 1,0 -5.7,0M1047.2,789.5a1.9,2.4 0 1,0 3.8,0a1.9,2.4 0 1,0 -3.8,0M1095.4,768.3a5.5,6.0 0 1,0 11.0,0a5.5,6.0 0 1,0 -11.0,0M1096.5,768.3a4.4,4.8 0 1,0 8.8,0a4.4,4.8 0 1,0 -8.8,0M1097.6,768.3a3.3,3.6 0 1,0 6.6,0a3.3,3.6 0 1,0 -6.6,0M1098.7,768.3a2.2,2.4 0 1,0 4.4,0a2.2,2.4 0 1,0 -4.4,0M1145.7,795.4a5.0,5.3 0 1,0 9.9,0a5.0,5.3 0 1,0 -9.9,0M1146.7,795.4a4.0,4.2 0 1,0 8.0,0a4.0,4.2 0 1,0 -8.0,0M1147.7,795.4a3.0,3.2 0 1,0 6.0,0a3.0,3.2 0 1,0 -6.0,0M1148.7,795.4a2.0,2.1 0 1,0 4.0,0a2.0,2.1 0 1,0 -4.0,0M1079.6,829.0a2.7,6.2 0 1,0 5.3,0a2.7,6.2 0 1,0 -5.3,0M1080.1,829.0a2.1,5.0 0 1,0 4.2,0a2.1,5.0 0 1,0 -4.2,0M1080.6,829.0a1.6,3.7 0 1,0 3.2,0a1.6,3.7 0 1,0 -3.2,0M1081.2,829.0a1.1,2.5 0 1,0 2.1,0a1.1,2.5 0 1,0 -2.1,0M1088.2,756.4a2.6,4.8 0 1,0 5.3,0a2.6,4.8 0 1,0 -5.3,0M1088.7,756.4a2.1,3.8 0 1,0 4.2,0a2.1,3.8 0 1,0 -4.2,0M1089.2,756.4a1.6,2.9 0 1,0 3.2,0a1.6,2.9 0 1,0 -3.2,0M1089.8,756.4a1.1,1.9 0 1,0 2.1,0a1.1,1.9 0 1,0 -2.1,0M1114.8,826.0a2.6,4.6 0 1,0 5.3,0a2.6,4.6 0 1,0 -5.3,0M1115.3,826.0a2.1,3.7 0 1,0 4.2,0a2.1,3.7 0 1,0 -4.2,0M1115.9,826.0a1.6,2.8 0 1,0 3.2,0a1.6,2.8 0 1,0 -3.2,0M1116.4,826.0a1.1,1.8 0 1,0 2.1,0a1.1,1.8 0 1,0 -2.1,0M1115.4,767.7a4.5,4.1 0 1,0 8.9,0a4.5,4.1 0 1,0 -8.9,0M1116.3,767.7a3.6,3.3 0 1,0 7.2,0a3.6,3.3 0 1,0 -7.2,0M1117.2,767.7a2.7,2.5 0 1,0 5.4,0a2.7,2.5 0 1,0 -5.4,0M1118.1,767.7a1.8,1.6 0 1,0 3.6,0a1.8,1.6 0 1,0 -3.6,0M1101.8,740.1a3.6,6.9 0 1,0 7.2,0a3.6,6.9 0 1,0 -7.2,0M1102.5,740.1a2.9,5.5 0 1,0 5.8,0a2.9,5.5 0 1,0 -5.8,0M1103.2,740.1a2.2,4.1 0 1,0 4.3,0a2.2,4.1 0 1,0 -4.3,0M1104.0,740.1a1.4,2.8 0 1,0 2.9,0a1.4,2.8 0 1,0 -2.9,0M1086.7,832.1a5.2,5.6 0 1,0 10.4,0a5.2,5.6 0 1,0 -10.4,0M1087.8,832.1a4.2,4.5 0 1,0 8.4,0a4.2,4.5 0 1,0 -8.4,0M1088.8,832.1a3.1,3.4 0 1,0 6.3,0a3.1,3.4 0 1,0 -6.3,0M1089.9,832.1a2.1,2.3 0 1,0 4.2,0a2.1,2.3 0 1,0 -4.2,0M1118.4,822.7a4.8,6.6 0 1,0 9.6,0a4.8,6.6 0 1,0 -9.6,0M1119.4,822.7a3.8,5.3 0 1,0 7.7,0a3.8,5.3 0 1,0 -7.7,0M1120.4,822.7a2.9,4.0 0 1,0 5.8,0a2.9,4.0 0 1,0 -5.8,0M1121.3,822.7a1.9,2.6 0 1,0 3.8,0a1.9,2.6 0 1,0 -3.8,0M1040.1,804.4a4.5,5.8 0 1,0 9.0,0a4.5,5.8 0 1,0 -9.0,0M1041.0,804.4a3.6,4.6 0 1,0 7.2,0a3.6,4.6 0 1,0 -7.2,0M1041.9,804.4a2.7,3.5 0 1,0 5.4,0a2.7,3.5 0 1,0 -5.4,0M1042.8,804.4a1.8,2.3 0 1,0 3.6,0a1.8,2.3 0 1,0 -3.6,0M1097.3,741.3a3.3,4.3 0 1,0 6.7,0a3.3,4.3 0 1,0 -6.7,0M1097.9,741.3a2.7,3.5 0 1,0 5.3,0a2.7,3.5 0 1,0 -5.3,0M1098.6,741.3a2.0,2.6 0 1,0 4.0,0a2.0,2.6 0 1,0 -4.0,0M1099.3,741.3a1.3,1.7 0 1,0 2.7,0a1.3,1.7 0 1,0 -2.7,0M1148.9,796.3a4.4,4.5 0 1,0 8.9,0a4.4,4.5 0 1,0 -8.9,0M1149.8,796.3a3.5,3.6 0 1,0 7.1,0a3.5,3.6 0 1,0 -7.1,0M1150.7,796.3a2.7,2.7 0 1,0 5.3,0a2.7,2.7 0 1,0 -5.3,0M1151.5,796.3a1.8,1.8 0 1,0 3.5,0a1.8,1.8 0 1,0 -3.5,0M1052.4,751.2a4.9,4.4 0 1,0 9.7,0a4.9,4.4 0 1,0 -9.7,0M1053.4,751.2a3.9,3.5 0 1,0 7.8,0a3.9,3.5 0 1,0 -7.8,0M1054.4,751.2a2.9,2.6 0 1,0 5.8,0a2.9,2.6 0 1,0 -5.8,0M1055.3,751.2a1.9,1.7 0 1,0 3.9,0a1.9,1.7 0 1,0 -3.9,0M1100.0,803.3a3.4,6.2 0 1,0 6.8,0a3.4,6.2 0 1,0 -6.8,0M1100.7,803.3a2.7,5.0 0 1,0 5.4,0a2.7,5.0 0 1,0 -5.4,0M1101.3,803.3a2.0,3.7 0 1,0 4.1,0a2.0,3.7 0 1,0 -4.1,0M1102.0,803.3a1.4,2.5 0 1,0 2.7,0a1.4,2.5 0 1,0 -2.7,0M1033.7,769.0a2.8,5.2 0 1,0 5.5,0a2.8,5.2 0 1,0 -5.5,0M1034.2,769.0a2.2,4.1 0 1,0 4.4,0a2.2,4.1 0 1,0 -4.4,0M1034.8,769.0a1.7,3.1 0 1,0 3.3,0a1.7,3.1 0 1,0 -3.3,0M1035.3,769.0a1.1,2.1 0 1,0 2.2,0a1.1,2.1 0 1,0 -2.2,0M1072.0,834.4a4.4,7.0 0 1,0 8.7,0a4.4,7.0 0 1,0 -8.7,0M1072.9,834.4a3.5,5.6 0 1,0 7.0,0a3.5,5.6 0 1,0 -7.0,0M1073.8,834.4a2.6,4.2 0 1,0 5.2,0a2.6,4.2 0 1,0 -5.2,0M1074.6,834.4a1.7,2.8 0 1,0 3.5,0a1.7,2.8 0 1,0 -3.5,0M1057.9,800.4a2.9,5.1 0 1,0 5.8,0a2.9,5.1 0 1,0 -5.8,0M1058.5,800.4a2.3,4.1 0 1,0 4.6,0a2.3,4.1 0 1,0 -4.6,0M1059.1,800.4a1.7,3.1 0 1,0 3.5,0a1.7,3.1 0 1,0 -3.5,0M1059.7,800.4a1.2,2.0 0 1,0 2.3,0a1.2,2.0 0 1,0 -2.3,0M1046.8,757.0a3.6,5.8 0 1,0 7.2,0a3.6,5.8 0 1,0 -7.2,0M1047.5,757.0a2.9,4.6 0 1,0 5.8,0a2.9,4.6 0 1,0 -5.8,0M1048.2,757.0a2.2,3.5 0 1,0 4.3,0a2.2,3.5 0 1,0 -4.3,0M1048.9,757.0a1.4,2.3 0 1,0 2.9,0a1.4,2.3 0 1,0 -2.9,0M1040.9,767.4a4.9,6.8 0 1,0 9.7,0a4.9,6.8 0 1,0 -9.7,0M1041.8,767.4a3.9,5.4 0 1,0 7.8,0a3.9,5.4 0 1,0 -7.8,0M1042.8,767.4a2.9,4.1 0 1,0 5.8,0a2.9,4.1 0 1,0 -5.8,0M1043.8,767.4a1.9,2.7 0 1,0 3.9,0a1.9,2.7 0 1,0 -3.9,0M1098.7,797.4a4.4,6.8 0 1,0 8.8,0a4.4,6.8 0 1,0 -8.8,0M1099.6,797.4a3.5,5.5 0 1,0 7.0,0a3.5,5.5 0 1,0 -7.0,0M1100.5,797.4a2.6,4.1 0 1,0 5.3,0a2.6,4.1 0 1,0 -5.3,0M1101.4,797.4a1.8,2.7 0 1,0 3.5,0a1.8,2.7 0 1,0 -3.5,0M1037.3,809.4a4.1,5.4 0 1,0 8.1,0a4.1,5.4 0 1,0 -8.1,0M1038.1,809.4a3.2,4.3 0 1,0 6.5,0a3.2,4.3 0 1,0 -6.5,0M1038.9,809.4a2.4,3.2 0 1,0 4.9,0a2.4,3.2 0 1,0 -4.9,0M1039.7,809.4a1.6,2.2 0 1,0 3.2,0a1.6,2.2 0 1,0 -3.2,0M1120.7,746.6a4.5,3.6 0 1,0 9.1,0a4.5,3.6 0 1,0 -9.1,0M1121.6,746.6a3.6,2.9 0 1,0 7.3,0a3.6,2.9 0 1,0 -7.3,0M1122.5,746.6a2.7,2.2 0 1,0 5.5,0a2.7,2.2 0 1,0 -5.5,0M1123.4,746.6a1.8,1.4 0 1,0 3.6,0a1.8,1.4 0 1,0 -3.6,0M1108.5,796.6a5.0,6.9 0 1,0 10.0,0a5.0,6.9 0 1,0 -10.0,0M1109.5,796.6a4.0,5.5 0 1,0 8.0,0a4.0,5.5 0 1,0 -8.0,0M1110.5,796.6a3.0,4.1 0 1,0 6.0,0a3.0,4.1 0 1,0 -6.0,0M1111.5,796.6a2.0,2.8 0 1,0 4.0,0a2.0,2.8 0 1,0 -4.0,0M1061.6,813.9a5.1,4.1 0 1,0 10.2,0a5.1,4.1 0 1,0 -10.2,0M1062.6,813.9a4.1,3.3 0 1,0 8.2,0a4.1,3.3 0 1,0 -8.2,0M1063.7,813.9a3.1,2.5 0 1,0 6.1,0a3.1,2.5 0 1,0 -6.1,0M1064.7,813.9a2.0,1.6 0 1,0 4.1,0a2.0,1.6 0 1,0 -4.1,0M1060.8,800.3a5.1,4.8 0 1,0 10.2,0a5.1,4.8 0 1,0 -10.2,0M1061.9,800.3a4.1,3.9 0 1,0 8.2,0a4.1,3.9 0 1,0 -8.2,0M1062.9,800.3a3.1,2.9 0 1,0 6.1,0a3.1,2.9 0 1,0 -6.1,0M1063.9,800.3a2.0,1.9 0 1,0 4.1,0a2.0,1.9 0 1,0 -4.1,0M1136.7,782.3a4.0,5.8 0 1,0 7.9,0a4.0,5.8 0 1,0 -7.9,0M1137.5,782.3a3.2,4.6 0 1,0 6.3,0a3.2,4.6 0 1,0 -6.3,0M1138.3,782.3a2.4,3.5 0 1,0 4.8,0a2.4,3.5 0 1,0 -4.8,0M1139.1,782.3a1.6,2.3 0 1,0 3.2,0a1.6,2.3 0 1,0 -3.2,0M1111.2,809.0a5.1,6.3 0 1,0 10.2,0a5.1,6.3 0 1,0 -10.2,0M1112.2,809.0a4.1,5.1 0 1,0 8.2,0a4.1,5.1 0 1,0 -8.2,0M1113.3,809.0a3.1,3.8 0 1,0 6.1,0a3.1,3.8 0 1,0 -6.1,0M1114.3,809.0a2.0,2.5 0 1,0 4.1,0a2.0,2.5 0 1,0 -4.1,0M1095.7,778.3a2.9,4.5 0 1,0 5.7,0a2.9,4.5 0 1,0 -5.7,0M1096.2,778.3a2.3,3.6 0 1,0 4.6,0a2.3,3.6 0 1,0 -4.6,0M1096.8,778.3a1.7,2.7 0 1,0 3.4,0a1.7,2.7 0 1,0 -3.4,0M1097.4,778.3a1.1,1.8 0 1,0 2.3,0a1.1,1.8 0 1,0 -2.3,0M1047.0,807.0a5.1,6.1 0 1,0 10.2,0a5.1,6.1 0 1,0 -10.2,0M1048.0,807.0a4.1,4.9 0 1,0 8.2,0a4.1,4.9 0 1,0 -8.2,0M1049.0,807.0a3.1,3.7 0 1,0 6.1,0a3.1,3.7 0 1,0 -6.1,0M1050.1,807.0a2.0,2.5 0 1,0 4.1,0a2.0,2.5 0 1,0 -4.1,0M1113.1,751.6a4.4,3.7 0 1,0 8.8,0a4.4,3.7 0 1,0 -8.8,0M1114.0,751.6a3.5,3.0 0 1,0 7.1,0a3.5,3.0 0 1,0 -7.1,0M1114.9,751.6a2.7,2.2 0 1,0 5.3,0a2.7,2.2 0 1,0 -5.3,0M1115.8,751.6a1.8,1.5 0 1,0 3.5,0a1.8,1.5 0 1,0 -3.5,0M1050.8,787.8a3.5,3.8 0 1,0 7.1,0a3.5,3.8 0 1,0 -7.1,0M1051.5,787.8a2.8,3.0 0 1,0 5.7,0a2.8,3.0 0 1,0 -5.7,0M1052.2,787.8a2.1,2.3 0 1,0 4.3,0a2.1,2.3 0 1,0 -4.3,0M1052.9,787.8a1.4,1.5 0 1,0 2.8,0a1.4,1.5 0 1,0 -2.8,0M1059.8,820.0a5.3,4.3 0 1,0 10.6,0a5.3,4.3 0 1,0 -10.6,0M1060.8,820.0a4.3,3.4 0 1,0 8.5,0a4.3,3.4 0 1,0 -8.5,0M1061.9,820.0a3.2,2.6 0 1,0 6.4,0a3.2,2.6 0 1,0 -6.4,0M1063.0,820.0a2.1,1.7 0 1,0 4.3,0a2.1,1.7 0 1,0 -4.3,0M1031.8,778.8a4.1,5.8 0 1,0 8.2,0a4.1,5.8 0 1,0 -8.2,0M1032.7,778.8a3.3,4.6 0 1,0 6.5,0a3.3,4.6 0 1,0 -6.5,0M1033.5,778.8a2.5,3.5 0 1,0 4.9,0a2.5,3.5 0 1,0 -4.9,0M1034.3,778.8a1.6,2.3 0 1,0 3.3,0a1.6,2.3 0 1,0 -3.3,0M1038.6,784.1a5.0,4.1 0 1,0 10.0,0a5.0,4.1 0 1,0 -10.0,0M1039.6,784.1a4.0,3.3 0 1,0 8.0,0a4.0,3.3 0 1,0 -8.0,0M1040.6,784.1a3.0,2.5 0 1,0 6.0,0a3.0,2.5 0 1,0 -6.0,0M1041.6,784.1a2.0,1.6 0 1,0 4.0,0a2.0,1.6 0 1,0 -4.0,0M1050.1,771.4a4.8,5.6 0 1,0 9.7,0a4.8,5.6 0 1,0 -9.7,0M1051.0,771.4a3.9,4.5 0 1,0 7.8,0a3.9,4.5 0 1,0 -7.8,0M1052.0,771.4a2.9,3.4 0 1,0 5.8,0a2.9,3.4 0 1,0 -5.8,0M1053.0,771.4a1.9,2.3 0 1,0 3.9,0a1.9,2.3 0 1,0 -3.9,0M1077.5,835.6a4.3,5.7 0 1,0 8.6,0a4.3,5.7 0 1,0 -8.6,0M1078.4,835.6a3.4,4.6 0 1,0 6.9,0a3.4,4.6 0 1,0 -6.9,0M1079.2,835.6a2.6,3.4 0 1,0 5.1,0a2.6,3.4 0 1,0 -5.1,0M1080.1,835.6a1.7,2.3 0 1,0 3.4,0a1.7,2.3 0 1,0 -3.4,0M1055.1,797.5a3.1,3.7 0 1,0 6.1,0a3.1,3.7 0 1,0 -6.1,0M1055.7,797.5a2.5,3.0 0 1,0 4.9,0a2.5,3.0 0 1,0 -4.9,0M1056.3,797.5a1.8,2.2 0 1,0 3.7,0a1.8,2.2 0 1,0 -3.7,0M1056.9,797.5a1.2,1.5 0 1,0 2.5,0a1.2,1.5 0 1,0 -2.5,0M1104.1,808.5a4.3,5.0 0 1,0 8.6,0a4.3,5.0 0 1,0 -8.6,0M1105.0,808.5a3.4,4.0 0 1,0 6.9,0a3.4,4.0 0 1,0 -6.9,0M1105.9,808.5a2.6,3.0 0 1,0 5.1,0a2.6,3.0 0 1,0 -5.1,0M1106.7,808.5a1.7,2.0 0 1,0 3.4,0a1.7,2.0 0 1,0 -3.4,0M1070.3,810.1a4.5,5.1 0 1,0 9.1,0a4.5,5.1 0 1,0 -9.1,0M1071.2,810.1a3.6,4.1 0 1,0 7.3,0a3.6,4.1 0 1,0 -7.3,0M1072.1,810.1a2.7,3.1 0 1,0 5.4,0a2.7,3.1 0 1,0 -5.4,0M1073.0,810.1a1.8,2.1 0 1,0 3.6,0a1.8,2.1 0 1,0 -3.6,0M1121.7,811.8a5.3,4.9 0 1,0 10.5,0a5.3,4.9 0 1,0 -10.5,0M1122.7,811.8a4.2,3.9 0 1,0 8.4,0a4.2,3.9 0 1,0 -8.4,0M1123.8,811.8a3.2,3.0 0 1,0 6.3,0a3.2,3.0 0 1,0 -6.3,0M1124.8,811.8a2.1,2.0 0 1,0 4.2,0a2.1,2.0 0 1,0 -4.2,0M1108.3,759.6a5.3,3.8 0 1,0 10.7,0a5.3,3.8 0 1,0 -10.7,0M1109.3,759.6a4.3,3.1 0 1,0 8.6,0a4.3,3.1 0 1,0 -8.6,0M1110.4,759.6a3.2,2.3 0 1,0 6.4,0a3.2,2.3 0 1,0 -6.4,0M1111.5,759.6a2.1,1.5 0 1,0 4.3,0a2.1,1.5 0 1,0 -4.3,0M1145.9,771.9a2.8,5.9 0 1,0 5.7,0a2.8,5.9 0 1,0 -5.7,0M1146.5,771.9a2.3,4.7 0 1,0 4.5,0a2.3,4.7 0 1,0 -4.5,0M1147.1,771.9a1.7,3.5 0 1,0 3.4,0a1.7,3.5 0 1,0 -3.4,0M1147.6,771.9a1.1,2.3 0 1,0 2.3,0a1.1,2.3 0 1,0 -2.3,0M1098.2,815.3a3.3,5.5 0 1,0 6.6,0a3.3,5.5 0 1,0 -6.6,0M1098.8,815.3a2.6,4.4 0 1,0 5.3,0a2.6,4.4 0 1,0 -5.3,0M1099.5,815.3a2.0,3.3 0 1,0 4.0,0a2.0,3.3 0 1,0 -4.0,0M1100.1,815.3a1.3,2.2 0 1,0 2.6,0a1.3,2.2 0 1,0 -2.6,0M1098.4,781.2a3.7,4.9 0 1,0 7.3,0a3.7,4.9 0 1,0 -7.3,0M1099.2,781.2a2.9,3.9 0 1,0 5.9,0a2.9,3.9 0 1,0 -5.9,0M1099.9,781.2a2.2,2.9 0 1,0 4.4,0a2.2,2.9 0 1,0 -4.4,0M1100.6,781.2a1.5,2.0 0 1,0 2.9,0a1.5,2.0 0 1,0 -2.9,0M1039.8,777.4a4.8,5.9 0 1,0 9.6,0a4.8,5.9 0 1,0 -9.6,0M1040.8,777.4a3.8,4.7 0 1,0 7.7,0a3.8,4.7 0 1,0 -7.7,0M1041.8,777.4a2.9,3.5 0 1,0 5.8,0a2.9,3.5 0 1,0 -5.8,0M1042.7,777.4a1.9,2.4 0 1,0 3.8,0a1.9,2.4 0 1,0 -3.8,0M1029.4,787.7a4.1,5.7 0 1,0 8.2,0a4.1,5.7 0 1,0 -8.2,0M1030.2,787.7a3.3,4.6 0 1,0 6.6,0a3.3,4.6 0 1,0 -6.6,0M1031.1,787.7a2.5,3.4 0 1,0 4.9,0a2.5,3.4 0 1,0 -4.9,0M1031.9,787.7a1.6,2.3 0 1,0 3.3,0a1.6,2.3 0 1,0 -3.3,0M1135.1,764.2a2.6,6.3 0 1,0 5.2,0a2.6,6.3 0 1,0 -5.2,0M1135.6,764.2a2.1,5.1 0 1,0 4.1,0a2.1,5.1 0 1,0 -4.1,0M1136.1,764.2a1.5,3.8 0 1,0 3.1,0a1.5,3.8 0 1,0 -3.1,0M1136.6,764.2a1.0,2.5 0 1,0 2.1,0a1.0,2.5 0 1,0 -2.1,0M1127.4,777.7a3.2,5.8 0 1,0 6.5,0a3.2,5.8 0 1,0 -6.5,0M1128.0,777.7a2.6,4.7 0 1,0 5.2,0a2.6,4.7 0 1,0 -5.2,0M1128.7,777.7a1.9,3.5 0 1,0 3.9,0a1.9,3.5 0 1,0 -3.9,0M1129.3,777.7a1.3,2.3 0 1,0 2.6,0a1.3,2.3 0 1,0 -2.6,0M1075.8,765.1a3.3,6.5 0 1,0 6.6,0a3.3,6.5 0 1,0 -6.6,0M1076.4,765.1a2.6,5.2 0 1,0 5.3,0a2.6,5.2 0 1,0 -5.3,0M1077.1,765.1a2.0,3.9 0 1,0 4.0,0a2.0,3.9 0 1,0 -4.0,0M1077.7,765.1a1.3,2.6 0 1,0 2.6,0a1.3,2.6 0 1,0 -2.6,0M1122.8,807.6a5.2,5.6 0 1,0 10.3,0a5.2,5.6 0 1,0 -10.3,0M1123.8,807.6a4.1,4.4 0 1,0 8.3,0a4.1,4.4 0 1,0 -8.3,0M1124.8,807.6a3.1,3.3 0 1,0 6.2,0a3.1,3.3 0 1,0 -6.2,0M1125.9,807.6a2.1,2.2 0 1,0 4.1,0a2.1,2.2 0 1,0 -4.1,0M1150.7,805.3a3.8,4.9 0 1,0 7.5,0a3.8,4.9 0 1,0 -7.5,0M1151.5,805.3a3.0,4.0 0 1,0 6.0,0a3.0,4.0 0 1,0 -6.0,0M1152.2,805.3a2.3,3.0 0 1,0 4.5,0a2.3,3.0 0 1,0 -4.5,0M1153.0,805.3a1.5,2.0 0 1,0 3.0,0a1.5,2.0 0 1,0 -3.0,0M1077.4,808.6a4.9,6.7 0 1,0 9.9,0a4.9,6.7 0 1,0 -9.9,0M1078.4,808.6a4.0,5.4 0 1,0 7.9,0a4.0,5.4 0 1,0 -7.9,0M1079.3,808.6a3.0,4.0 0 1,0 5.9,0a3.0,4.0 0 1,0 -5.9,0M1080.3,808.6a2.0,2.7 0 1,0 4.0,0a2.0,2.7 0 1,0 -4.0,0M1113.0,824.3a5.4,4.8 0 1,0 10.9,0a5.4,4.8 0 1,0 -10.9,0M1114.1,824.3a4.4,3.9 0 1,0 8.7,0a4.4,3.9 0 1,0 -8.7,0M1115.2,824.3a3.3,2.9 0 1,0 6.5,0a3.3,2.9 0 1,0 -6.5,0M1116.3,824.3a2.2,1.9 0 1,0 4.4,0a2.2,1.9 0 1,0 -4.4,0M1109.4,743.0a2.8,4.1 0 1,0 5.6,0a2.8,4.1 0 1,0 -5.6,0M1110.0,743.0a2.2,3.3 0 1,0 4.5,0a2.2,3.3 0 1,0 -4.5,0M1110.5,743.0a1.7,2.5 0 1,0 3.3,0a1.7,2.5 0 1,0 -3.3,0M1111.1,743.0a1.1,1.7 0 1,0 2.2,0a1.1,1.7 0 1,0 -2.2,0M1131.1,760.5a3.1,6.8 0 1,0 6.2,0a3.1,6.8 0 1,0 -6.2,0M1131.7,760.5a2.5,5.4 0 1,0 4.9,0a2.5,5.4 0 1,0 -4.9,0M1132.4,760.5a1.9,4.1 0 1,0 3.7,0a1.9,4.1 0 1,0 -3.7,0M1133.0,760.5a1.2,2.7 0 1,0 2.5,0a1.2,2.7 0 1,0 -2.5,0M1136.9,760.9a3.4,5.2 0 1,0 6.8,0a3.4,5.2 0 1,0 -6.8,0M1137.6,760.9a2.7,4.2 0 1,0 5.4,0a2.7,4.2 0 1,0 -5.4,0M1138.3,760.9a2.0,3.1 0 1,0 4.1,0a2.0,3.1 0 1,0 -4.1,0M1139.0,760.9a1.4,2.1 0 1,0 2.7,0a1.4,2.1 0 1,0 -2.7,0M1085.6,740.9a3.8,5.4 0 1,0 7.5,0a3.8,5.4 0 1,0 -7.5,0M1086.4,740.9a3.0,4.3 0 1,0 6.0,0a3.0,4.3 0 1,0 -6.0,0M1087.2,740.9a2.3,3.2 0 1,0 4.5,0a2.3,3.2 0 1,0 -4.5,0M1087.9,740.9a1.5,2.1 0 1,0 3.0,0a1.5,2.1 0 1,0 -3.0,0M1126.0,807.5a4.5,5.3 0 1,0 9.1,0a4.5,5.3 0 1,0 -9.1,0M1126.9,807.5a3.6,4.3 0 1,0 7.3,0a3.6,4.3 0 1,0 -7.3,0M1127.9,807.5a2.7,3.2 0 1,0 5.5,0a2.7,3.2 0 1,0 -5.5,0M1128.8,807.5a1.8,2.1 0 1,0 3.6,0a1.8,2.1 0 1,0 -3.6,0M1101.5,781.2a4.1,6.3 0 1,0 8.2,0a4.1,6.3 0 1,0 -8.2,0M1102.4,781.2a3.3,5.0 0 1,0 6.6,0a3.3,5.0 0 1,0 -6.6,0M1103.2,781.2a2.5,3.8 0 1,0 4.9,0a2.5,3.8 0 1,0 -4.9,0M1104.0,781.2a1.6,2.5 0 1,0 3.3,0a1.6,2.5 0 1,0 -3.3,0M1067.4,798.2a3.2,5.5 0 1,0 6.4,0a3.2,5.5 0 1,0 -6.4,0M1068.0,798.2a2.6,4.4 0 1,0 5.1,0a2.6,4.4 0 1,0 -5.1,0M1068.6,798.2a1.9,3.3 0 1,0 3.8,0a1.9,3.3 0 1,0 -3.8,0M1069.3,798.2a1.3,2.2 0 1,0 2.6,0a1.3,2.2 0 1,0 -2.6,0M1140.2,758.0a2.5,5.4 0 1,0 5.1,0a2.5,5.4 0 1,0 -5.1,0M1140.7,758.0a2.0,4.3 0 1,0 4.1,0a2.0,4.3 0 1,0 -4.1,0M1141.2,758.0a1.5,3.3 0 1,0 3.0,0a1.5,3.3 0 1,0 -3.0,0M1141.7,758.0a1.0,2.2 0 1,0 2.0,0a1.0,2.2 0 1,0 -2.0,0M1068.0,796.2a4.4,5.9 0 1,0 8.8,0a4.4,5.9 0 1,0 -8.8,0M1068.9,796.2a3.5,4.7 0 1,0 7.0,0a3.5,4.7 0 1,0 -7.0,0M1069.8,796.2a2.6,3.5 0 1,0 5.3,0a2.6,3.5 0 1,0 -5.3,0M1070.7,796.2a1.8,2.4 0 1,0 3.5,0a1.8,2.4 0 1,0 -3.5,0M1128.6,754.7a3.0,5.9 0 1,0 6.1,0a3.0,5.9 0 1,0 -6.1,0M1129.2,754.7a2.4,4.7 0 1,0 4.9,0a2.4,4.7 0 1,0 -4.9,0M1129.8,754.7a1.8,3.5 0 1,0 3.7,0a1.8,3.5 0 1,0 -3.7,0M1130.4,754.7a1.2,2.3 0 1,0 2.4,0a1.2,2.3 0 1,0 -2.4,0M1040.2,807.7a3.1,4.8 0 1,0 6.2,0a3.1,4.8 0 1,0 -6.2,0M1040.9,807.7a2.5,3.9 0 1,0 5.0,0a2.5,3.9 0 1,0 -5.0,0M1041.5,807.7a1.9,2.9 0 1,0 3.7,0a1.9,2.9 0 1,0 -3.7,0M1042.1,807.7a1.2,1.9 0 1,0 2.5,0a1.2,1.9 0 1,0 -2.5,0M1045.0,793.9a3.6,6.0 0 1,0 7.2,0a3.6,6.0 0 1,0 -7.2,0M1045.7,793.9a2.9,4.8 0 1,0 5.8,0a2.9,4.8 0 1,0 -5.8,0M1046.4,793.9a2.2,3.6 0 1,0 4.3,0a2.2,3.6 0 1,0 -4.3,0M1047.2,793.9a1.4,2.4 0 1,0 2.9,0a1.4,2.4 0 1,0 -2.9,0M1123.4,788.4a4.1,6.4 0 1,0 8.3,0a4.1,6.4 0 1,0 -8.3,0M1124.3,788.4a3.3,5.1 0 1,0 6.6,0a3.3,5.1 0 1,0 -6.6,0M1125.1,788.4a2.5,3.8 0 1,0 5.0,0a2.5,3.8 0 1,0 -5.0,0M1125.9,788.4a1.7,2.6 0 1,0 3.3,0a1.7,2.6 0 1,0 -3.3,0M1058.3,778.9a3.8,4.0 0 1,0 7.6,0a3.8,4.0 0 1,0 -7.6,0M1059.0,778.9a3.0,3.2 0 1,0 6.1,0a3.0,3.2 0 1,0 -6.1,0M1059.8,778.9a2.3,2.4 0 1,0 4.6,0a2.3,2.4 0 1,0 -4.6,0M1060.6,778.9a1.5,1.6 0 1,0 3.0,0a1.5,1.6 0 1,0 -3.0,0M1079.5,787.2a3.7,6.2 0 1,0 7.3,0a3.7,6.2 0 1,0 -7.3,0M1080.3,787.2a2.9,4.9 0 1,0 5.9,0a2.9,4.9 0 1,0 -5.9,0M1081.0,787.2a2.2,3.7 0 1,0 4.4,0a2.2,3.7 0 1,0 -4.4,0M1081.7,787.2a1.5,2.5 0 1,0 2.9,0a1.5,2.5 0 1,0 -2.9,0M1085.7,807.7a4.9,5.8 0 1,0 9.7,0a4.9,5.8 0 1,0 -9.7,0M1086.7,807.7a3.9,4.7 0 1,0 7.8,0a3.9,4.7 0 1,0 -7.8,0M1087.6,807.7a2.9,3.5 0 1,0 5.8,0a2.9,3.5 0 1,0 -5.8,0M1088.6,807.7a1.9,2.3 0 1,0 3.9,0a1.9,2.3 0 1,0 -3.9,0M1077.0,821.5a4.3,5.6 0 1,0 8.7,0a4.3,5.6 0 1,0 -8.7,0M1077.9,821.5a3.5,4.5 0 1,0 6.9,0a3.5,4.5 0 1,0 -6.9,0M1078.8,821.5a2.6,3.4 0 1,0 5.2,0a2.6,3.4 0 1,0 -5.2,0M1079.6,821.5a1.7,2.2 0 1,0 3.5,0a1.7,2.2 0 1,0 -3.5,0M1116.9,783.8a4.9,5.0 0 1,0 9.7,0a4.9,5.0 0 1,0 -9.7,0M1117.8,783.8a3.9,4.0 0 1,0 7.8,0a3.9,4.0 0 1,0 -7.8,0M1118.8,783.8a2.9,3.0 0 1,0 5.8,0a2.9,3.0 0 1,0 -5.8,0M1119.8,783.8a1.9,2.0 0 1,0 3.9,0a1.9,2.0 0 1,0 -3.9,0M1093.6,752.8a5.2,4.2 0 1,0 10.4,0a5.2,4.2 0 1,0 -10.4,0M1094.6,752.8a4.2,3.4 0 1,0 8.3,0a4.2,3.4 0 1,0 -8.3,0M1095.7,752.8a3.1,2.5 0 1,0 6.3,0a3.1,2.5 0 1,0 -6.3,0M1096.7,752.8a2.1,1.7 0 1,0 4.2,0a2.1,1.7 0 1,0 -4.2,0M1048.2,775.7a4.8,3.6 0 1,0 9.6,0a4.8,3.6 0 1,0 -9.6,0M1049.2,775.7a3.8,2.9 0 1,0 7.7,0a3.8,2.9 0 1,0 -7.7,0M1050.1,775.7a2.9,2.1 0 1,0 5.8,0a2.9,2.1 0 1,0 -5.8,0M1051.1,775.7a1.9,1.4 0 1,0 3.8,0a1.9,1.4 0 1,0 -3.8,0M1040.7,758.9a4.6,3.9 0 1,0 9.2,0a4.6,3.9 0 1,0 -9.2,0M1041.7,758.9a3.7,3.1 0 1,0 7.4,0a3.7,3.1 0 1,0 -7.4,0M1042.6,758.9a2.8,2.3 0 1,0 5.5,0a2.8,2.3 0 1,0 -5.5,0M1043.5,758.9a1.8,1.6 0 1,0 3.7,0a1.8,1.6 0 1,0 -3.7,0M1096.6,771.4a2.6,6.0 0 1,0 5.2,0a2.6,6.0 0 1,0 -5.2,0M1097.1,771.4a2.1,4.8 0 1,0 4.2,0a2.1,4.8 0 1,0 -4.2,0M1097.6,771.4a1.6,3.6 0 1,0 3.1,0a1.6,3.6 0 1,0 -3.1,0M1098.1,771.4a1.0,2.4 0 1,0 2.1,0a1.0,2.4 0 1,0 -2.1,0M1132.4,761.9a3.6,5.2 0 1,0 7.1,0a3.6,5.2 0 1,0 -7.1,0M1133.1,761.9a2.8,4.1 0 1,0 5.7,0a2.8,4.1 0 1,0 -5.7,0M1133.8,761.9a2.1,3.1 0 1,0 4.3,0a2.1,3.1 0 1,0 -4.3,0M1134.5,761.9a1.4,2.1 0 1,0 2.8,0a1.4,2.1 0 1,0 -2.8,0M1041.8,776.3a4.4,5.1 0 1,0 8.7,0a4.4,5.1 0 1,0 -8.7,0M1042.7,776.3a3.5,4.1 0 1,0 7.0,0a3.5,4.1 0 1,0 -7.0,0M1043.6,776.3a2.6,3.1 0 1,0 5.2,0a2.6,3.1 0 1,0 -5.2,0M1044.4,776.3a1.7,2.1 0 1,0 3.5,0a1.7,2.1 0 1,0 -3.5,0M1045.9,785.9a4.9,4.6 0 1,0 9.7,0a4.9,4.6 0 1,0 -9.7,0M1046.9,785.9a3.9,3.7 0 1,0 7.8,0a3.9,3.7 0 1,0 -7.8,0M1047.9,785.9a2.9,2.8 0 1,0 5.8,0a2.9,2.8 0 1,0 -5.8,0M1048.9,785.9a1.9,1.8 0 1,0 3.9,0a1.9,1.8 0 1,0 -3.9,0M1067.8,744.7a2.6,6.3 0 1,0 5.1,0a2.6,6.3 0 1,0 -5.1,0M1068.3,744.7a2.1,5.1 0 1,0 4.1,0a2.1,5.1 0 1,0 -4.1,0M1068.8,744.7a1.5,3.8 0 1,0 3.1,0a1.5,3.8 0 1,0 -3.1,0M1069.4,744.7a1.0,2.5 0 1,0 2.1,0a1.0,2.5 0 1,0 -2.1,0M1144.5,773.7a4.4,4.7 0 1,0 8.8,0a4.4,4.7 0 1,0 -8.8,0M1145.3,773.7a3.5,3.8 0 1,0 7.0,0a3.5,3.8 0 1,0 -7.0,0M1146.2,773.7a2.6,2.8 0 1,0 5.3,0a2.6,2.8 0 1,0 -5.3,0M1147.1,773.7a1.8,1.9 0 1,0 3.5,0a1.8,1.9 0 1,0 -3.5,0M1140.5,766.7a3.0,3.6 0 1,0 6.0,0a3.0,3.6 0 1,0 -6.0,0M1141.1,766.7a2.4,2.9 0 1,0 4.8,0a2.4,2.9 0 1,0 -4.8,0M1141.7,766.7a1.8,2.2 0 1,0 3.6,0a1.8,2.2 0 1,0 -3.6,0M1142.2,766.7a1.2,1.4 0 1,0 2.4,0a1.2,1.4 0 1,0 -2.4,0M1139.3,796.4a4.8,4.3 0 1,0 9.6,0a4.8,4.3 0 1,0 -9.6,0M1140.3,796.4a3.8,3.5 0 1,0 7.6,0a3.8,3.5 0 1,0 -7.6,0M1141.3,796.4a2.9,2.6 0 1,0 5.7,0a2.9,2.6 0 1,0 -5.7,0M1142.2,796.4a1.9,1.7 0 1,0 3.8,0a1.9,1.7 0 1,0 -3.8,0M1124.8,756.6a5.3,5.1 0 1,0 10.7,0a5.3,5.1 0 1,0 -10.7,0M1125.8,756.6a4.3,4.1 0 1,0 8.6,0a4.3,4.1 0 1,0 -8.6,0M1126.9,756.6a3.2,3.1 0 1,0 6.4,0a3.2,3.1 0 1,0 -6.4,0M1128.0,756.6a2.1,2.0 0 1,0 4.3,0a2.1,2.0 0 1,0 -4.3,0M1036.1,789.3a4.1,5.9 0 1,0 8.3,0a4.1,5.9 0 1,0 -8.3,0M1037.0,789.3a3.3,4.7 0 1,0 6.6,0a3.3,4.7 0 1,0 -6.6,0M1037.8,789.3a2.5,3.5 0 1,0 5.0,0a2.5,3.5 0 1,0 -5.0,0M1038.6,789.3a1.7,2.3 0 1,0 3.3,0a1.7,2.3 0 1,0 -3.3,0M1125.3,789.5a2.9,5.5 0 1,0 5.9,0a2.9,5.5 0 1,0 -5.9,0M1125.9,789.5a2.3,4.4 0 1,0 4.7,0a2.3,4.4 0 1,0 -4.7,0M1126.5,789.5a1.8,3.3 0 1,0 3.5,0a1.8,3.3 0 1,0 -3.5,0M1127.1,789.5a1.2,2.2 0 1,0 2.3,0a1.2,2.2 0 1,0 -2.3,0M1079.2,778.2a5.1,3.9 0 1,0 10.2,0a5.1,3.9 0 1,0 -10.2,0M1080.2,778.2a4.1,3.1 0 1,0 8.2,0a4.1,3.1 0 1,0 -8.2,0M1081.2,778.2a3.1,2.4 0 1,0 6.1,0a3.1,2.4 0 1,0 -6.1,0M1082.2,778.2a2.0,1.6 0 1,0 4.1,0a2.0,1.6 0 1,0 -4.1,0M1080.0,833.6a3.3,5.2 0 1,0 6.5,0a3.3,5.2 0 1,0 -6.5,0M1080.6,833.6a2.6,4.2 0 1,0 5.2,0a2.6,4.2 0 1,0 -5.2,0M1081.3,833.6a2.0,3.1 0 1,0 3.9,0a2.0,3.1 0 1,0 -3.9,0M1081.9,833.6a1.3,2.1 0 1,0 2.6,0a1.3,2.1 0 1,0 -2.6,0M1135.0,785.7a3.0,5.8 0 1,0 6.1,0a3.0,5.8 0 1,0 -6.1,0M1135.6,785.7a2.4,4.6 0 1,0 4.9,0a2.4,4.6 0 1,0 -4.9,0M1136.2,785.7a1.8,3.5 0 1,0 3.7,0a1.8,3.5 0 1,0 -3.7,0M1136.8,785.7a1.2,2.3 0 1,0 2.4,0a1.2,2.3 0 1,0 -2.4,0M1059.6,790.3a5.1,6.4 0 1,0 10.1,0a5.1,6.4 0 1,0 -10.1,0M1060.6,790.3a4.0,5.1 0 1,0 8.1,0a4.0,5.1 0 1,0 -8.1,0M1061.6,790.3a3.0,3.8 0 1,0 6.1,0a3.0,3.8 0 1,0 -6.1,0M1062.7,790.3a2.0,2.5 0 1,0 4.0,0a2.0,2.5 0 1,0 -4.0,0M1028.4,783.0a4.0,3.6 0 1,0 7.9,0a4.0,3.6 0 1,0 -7.9,0M1029.2,783.0a3.2,2.8 0 1,0 6.4,0a3.2,2.8 0 1,0 -6.4,0M1030.0,783.0a2.4,2.1 0 1,0 4.8,0a2.4,2.1 0 1,0 -4.8,0M1030.8,783.0a1.6,1.4 0 1,0 3.2,0a1.6,1.4 0 1,0 -3.2,0M1124.4,812.7a4.4,5.3 0 1,0 8.8,0a4.4,5.3 0 1,0 -8.8,0M1125.3,812.7a3.5,4.3 0 1,0 7.1,0a3.5,4.3 0 1,0 -7.1,0M1126.2,812.7a2.6,3.2 0 1,0 5.3,0a2.6,3.2 0 1,0 -5.3,0M1127.1,812.7a1.8,2.1 0 1,0 3.5,0a1.8,2.1 0 1,0 -3.5,0M1066.3,818.5a2.9,5.4 0 1,0 5.9,0a2.9,5.4 0 1,0 -5.9,0M1066.9,818.5a2.4,4.3 0 1,0 4.7,0a2.4,4.3 0 1,0 -4.7,0M1067.4,818.5a1.8,3.2 0 1,0 3.5,0a1.8,3.2 0 1,0 -3.5,0M1068.0,818.5a1.2,2.1 0 1,0 2.4,0a1.2,2.1 0 1,0 -2.4,0M1140.4,786.4a4.7,4.0 0 1,0 9.4,0a4.7,4.0 0 1,0 -9.4,0M1141.3,786.4a3.8,3.2 0 1,0 7.5,0a3.8,3.2 0 1,0 -7.5,0M1142.2,786.4a2.8,2.4 0 1,0 5.6,0a2.8,2.4 0 1,0 -5.6,0M1143.2,786.4a1.9,1.6 0 1,0 3.8,0a1.9,1.6 0 1,0 -3.8,0M1093.8,776.0a4.0,6.0 0 1,0 8.0,0a4.0,6.0 0 1,0 -8.0,0M1094.6,776.0a3.2,4.8 0 1,0 6.4,0a3.2,4.8 0 1,0 -6.4,0M1095.4,776.0a2.4,3.6 0 1,0 4.8,0a2.4,3.6 0 1,0 -4.8,0M1096.2,776.0a1.6,2.4 0 1,0 3.2,0a1.6,2.4 0 1,0 -3.2,0M1114.0,772.7a3.3,3.7 0 1,0 6.5,0a3.3,3.7 0 1,0 -6.5,0M1114.6,772.7a2.6,3.0 0 1,0 5.2,0a2.6,3.0 0 1,0 -5.2,0M1115.3,772.7a2.0,2.2 0 1,0 3.9,0a2.0,2.2 0 1,0 -3.9,0M1116.0,772.7a1.3,1.5 0 1,0 2.6,0a1.3,1.5 0 1,0 -2.6,0M1084.8,807.1a4.2,6.8 0 1,0 8.3,0a4.2,6.8 0 1,0 -8.3,0M1085.7,807.1a3.3,5.5 0 1,0 6.7,0a3.3,5.5 0 1,0 -6.7,0M1086.5,807.1a2.5,4.1 0 1,0 5.0,0a2.5,4.1 0 1,0 -5.0,0M1087.3,807.1a1.7,2.7 0 1,0 3.3,0a1.7,2.7 0 1,0 -3.3,0M1068.4,753.4a4.1,5.5 0 1,0 8.3,0a4.1,5.5 0 1,0 -8.3,0M1069.2,753.4a3.3,4.4 0 1,0 6.6,0a3.3,4.4 0 1,0 -6.6,0M1070.0,753.4a2.5,3.3 0 1,0 5.0,0a2.5,3.3 0 1,0 -5.0,0M1070.9,753.4a1.7,2.2 0 1,0 3.3,0a1.7,2.2 0 1,0 -3.3,0M1081.4,793.0a3.4,4.1 0 1,0 6.7,0a3.4,4.1 0 1,0 -6.7,0M1082.1,793.0a2.7,3.3 0 1,0 5.4,0a2.7,3.3 0 1,0 -5.4,0M1082.7,793.0a2.0,2.5 0 1,0 4.0,0a2.0,2.5 0 1,0 -4.0,0M1083.4,793.0a1.3,1.6 0 1,0 2.7,0a1.3,1.6 0 1,0 -2.7,0M1065.8,778.6a4.2,3.7 0 1,0 8.4,0a4.2,3.7 0 1,0 -8.4,0M1066.6,778.6a3.3,3.0 0 1,0 6.7,0a3.3,3.0 0 1,0 -6.7,0M1067.4,778.6a2.5,2.2 0 1,0 5.0,0a2.5,2.2 0 1,0 -5.0,0M1068.3,778.6a1.7,1.5 0 1,0 3.3,0a1.7,1.5 0 1,0 -3.3,0M1115.8,784.6a2.9,5.4 0 1,0 5.7,0a2.9,5.4 0 1,0 -5.7,0M1116.4,784.6a2.3,4.3 0 1,0 4.6,0a2.3,4.3 0 1,0 -4.6,0M1117.0,784.6a1.7,3.2 0 1,0 3.4,0a1.7,3.2 0 1,0 -3.4,0M1117.5,784.6a1.1,2.2 0 1,0 2.3,0a1.1,2.2 0 1,0 -2.3,0M1141.1,764.9a2.8,6.9 0 1,0 5.6,0a2.8,6.9 0 1,0 -5.6,0M1141.7,764.9a2.3,5.5 0 1,0 4.5,0a2.3,5.5 0 1,0 -4.5,0M1142.3,764.9a1.7,4.1 0 1,0 3.4,0a1.7,4.1 0 1,0 -3.4,0M1142.8,764.9a1.1,2.8 0 1,0 2.3,0a1.1,2.8 0 1,0 -2.3,0M1104.0,828.1a4.3,6.0 0 1,0 8.6,0a4.3,6.0 0 1,0 -8.6,0M1104.9,828.1a3.4,4.8 0 1,0 6.9,0a3.4,4.8 0 1,0 -6.9,0M1105.8,828.1a2.6,3.6 0 1,0 5.2,0a2.6,3.6 0 1,0 -5.2,0M1106.6,828.1a1.7,2.4 0 1,0 3.4,0a1.7,2.4 0 1,0 -3.4,0M1081.2,758.6a3.1,5.1 0 1,0 6.2,0a3.1,5.1 0 1,0 -6.2,0M1081.8,758.6a2.5,4.1 0 1,0 5.0,0a2.5,4.1 0 1,0 -5.0,0M1082.4,758.6a1.9,3.1 0 1,0 3.7,0a1.9,3.1 0 1,0 -3.7,0M1083.0,758.6a1.2,2.0 0 1,0 2.5,0a1.2,2.0 0 1,0 -2.5,0M1086.8,834.5a3.7,3.5 0 1,0 7.4,0a3.7,3.5 0 1,0 -7.4,0M1087.6,834.5a3.0,2.8 0 1,0 5.9,0a3.0,2.8 0 1,0 -5.9,0M1088.3,834.5a2.2,2.1 0 1,0 4.5,0a2.2,2.1 0 1,0 -4.5,0M1089.0,834.5a1.5,1.4 0 1,0 3.0,0a1.5,1.4 0 1,0 -3.0,0M1058.9,812.2a3.1,6.7 0 1,0 6.2,0a3.1,6.7 0 1,0 -6.2,0M1059.5,812.2a2.5,5.3 0 1,0 4.9,0a2.5,5.3 0 1,0 -4.9,0M1060.1,812.2a1.9,4.0 0 1,0 3.7,0a1.9,4.0 0 1,0 -3.7,0M1060.7,812.2a1.2,2.7 0 1,0 2.5,0a1.2,2.7 0 1,0 -2.5,0M1047.2,795.9a3.0,6.6 0 1,0 6.0,0a3.0,6.6 0 1,0 -6.0,0M1047.8,795.9a2.4,5.3 0 1,0 4.8,0a2.4,5.3 0 1,0 -4.8,0M1048.4,795.9a1.8,3.9 0 1,0 3.6,0a1.8,3.9 0 1,0 -3.6,0M1049.0,795.9a1.2,2.6 0 1,0 2.4,0a1.2,2.6 0 1,0 -2.4,0M1033.2,771.0a3.6,6.7 0 1,0 7.2,0a3.6,6.7 0 1,0 -7.2,0M1033.9,771.0a2.9,5.3 0 1,0 5.8,0a2.9,5.3 0 1,0 -5.8,0M1034.6,771.0a2.2,4.0 0 1,0 4.3,0a2.2,4.0 0 1,0 -4.3,0M1035.3,771.0a1.4,2.7 0 1,0 2.9,0a1.4,2.7 0 1,0 -2.9,0M1122.9,808.1a4.8,4.3 0 1,0 9.6,0a4.8,4.3 0 1,0 -9.6,0M1123.9,808.1a3.8,3.4 0 1,0 7.7,0a3.8,3.4 0 1,0 -7.7,0M1124.8,808.1a2.9,2.6 0 1,0 5.7,0a2.9,2.6 0 1,0 -5.7,0M1125.8,808.1a1.9,1.7 0 1,0 3.8,0a1.9,1.7 0 1,0 -3.8,0M1109.6,787.6a3.8,6.5 0 1,0 7.7,0a3.8,6.5 0 1,0 -7.7,0M1110.4,787.6a3.1,5.2 0 1,0 6.1,0a3.1,5.2 0 1,0 -6.1,0M1111.2,787.6a2.3,3.9 0 1,0 4.6,0a2.3,3.9 0 1,0 -4.6,0M1111.9,787.6a1.5,2.6 0 1,0 3.1,0a1.5,2.6 0 1,0 -3.1,0M1154.4,748.6a2.7,6.3 0 1,0 5.4,0a2.7,6.3 0 1,0 -5.4,0M1155.0,748.6a2.1,5.0 0 1,0 4.3,0a2.1,5.0 0 1,0 -4.3,0M1155.5,748.6a1.6,3.8 0 1,0 3.2,0a1.6,3.8 0 1,0 -3.2,0M1156.1,748.6a1.1,2.5 0 1,0 2.1,0a1.1,2.5 0 1,0 -2.1,0M1130.0,724.3a3.1,5.4 0 1,0 6.2,0a3.1,5.4 0 1,0 -6.2,0M1130.6,724.3a2.5,4.3 0 1,0 4.9,0a2.5,4.3 0 1,0 -4.9,0M1131.2,724.3a1.8,3.2 0 1,0 3.7,0a1.8,3.2 0 1,0 -3.7,0M1131.8,724.3a1.2,2.1 0 1,0 2.5,0a1.2,2.1 0 1,0 -2.5,0M1131.2,736.7a3.1,5.6 0 1,0 6.1,0a3.1,5.6 0 1,0 -6.1,0M1131.8,736.7a2.4,4.5 0 1,0 4.9,0a2.4,4.5 0 1,0 -4.9,0M1132.4,736.7a1.8,3.4 0 1,0 3.7,0a1.8,3.4 0 1,0 -3.7,0M1133.0,736.7a1.2,2.3 0 1,0 2.4,0a1.2,2.3 0 1,0 -2.4,0M1150.8,731.4a4.1,5.7 0 1,0 8.3,0a4.1,5.7 0 1,0 -8.3,0M1151.6,731.4a3.3,4.5 0 1,0 6.6,0a3.3,4.5 0 1,0 -6.6,0M1152.5,731.4a2.5,3.4 0 1,0 5.0,0a2.5,3.4 0 1,0 -5.0,0M1153.3,731.4a1.7,2.3 0 1,0 3.3,0a1.7,2.3 0 1,0 -3.3,0M1137.3,735.7a4.4,4.8 0 1,0 8.8,0a4.4,4.8 0 1,0 -8.8,0M1138.2,735.7a3.5,3.8 0 1,0 7.1,0a3.5,3.8 0 1,0 -7.1,0M1139.1,735.7a2.6,2.9 0 1,0 5.3,0a2.6,2.9 0 1,0 -5.3,0M1139.9,735.7a1.8,1.9 0 1,0 3.5,0a1.8,1.9 0 1,0 -3.5,0M1121.3,737.1a3.8,5.0 0 1,0 7.5,0a3.8,5.0 0 1,0 -7.5,0M1122.1,737.1a3.0,4.0 0 1,0 6.0,0a3.0,4.0 0 1,0 -6.0,0M1122.8,737.1a2.3,3.0 0 1,0 4.5,0a2.3,3.0 0 1,0 -4.5,0M1123.6,737.1a1.5,2.0 0 1,0 3.0,0a1.5,2.0 0 1,0 -3.0,0M1136.3,711.5a4.1,6.2 0 1,0 8.2,0a4.1,6.2 0 1,0 -8.2,0M1137.1,711.5a3.3,4.9 0 1,0 6.6,0a3.3,4.9 0 1,0 -6.6,0M1138.0,711.5a2.5,3.7 0 1,0 4.9,0a2.5,3.7 0 1,0 -4.9,0M1138.8,711.5a1.6,2.5 0 1,0 3.3,0a1.6,2.5 0 1,0 -3.3,0M1137.3,733.4a5.1,6.9 0 1,0 10.2,0a5.1,6.9 0 1,0 -10.2,0M1138.3,733.4a4.1,5.5 0 1,0 8.2,0a4.1,5.5 0 1,0 -8.2,0M1139.3,733.4a3.1,4.2 0 1,0 6.1,0a3.1,4.2 0 1,0 -6.1,0M1140.4,733.4a2.0,2.8 0 1,0 4.1,0a2.0,2.8 0 1,0 -4.1,0M1143.6,714.3a3.3,6.2 0 1,0 6.6,0a3.3,6.2 0 1,0 -6.6,0M1144.2,714.3a2.6,5.0 0 1,0 5.3,0a2.6,5.0 0 1,0 -5.3,0M1144.9,714.3a2.0,3.7 0 1,0 4.0,0a2.0,3.7 0 1,0 -4.0,0M1145.6,714.3a1.3,2.5 0 1,0 2.6,0a1.3,2.5 0 1,0 -2.6,0M1123.5,743.7a3.4,4.4 0 1,0 6.8,0a3.4,4.4 0 1,0 -6.8,0M1124.2,743.7a2.7,3.5 0 1,0 5.5,0a2.7,3.5 0 1,0 -5.5,0M1124.9,743.7a2.1,2.7 0 1,0 4.1,0a2.1,2.7 0 1,0 -4.1,0M1125.6,743.7a1.4,1.8 0 1,0 2.7,0a1.4,1.8 0 1,0 -2.7,0M1147.7,765.2a3.3,5.4 0 1,0 6.5,0a3.3,5.4 0 1,0 -6.5,0M1148.3,765.2a2.6,4.3 0 1,0 5.2,0a2.6,4.3 0 1,0 -5.2,0M1149.0,765.2a2.0,3.2 0 1,0 3.9,0a2.0,3.2 0 1,0 -3.9,0M1149.6,765.2a1.3,2.1 0 1,0 2.6,0a1.3,2.1 0 1,0 -2.6,0M1123.8,733.4a3.7,7.0 0 1,0 7.5,0a3.7,7.0 0 1,0 -7.5,0M1124.5,733.4a3.0,5.6 0 1,0 6.0,0a3.0,5.6 0 1,0 -6.0,0M1125.3,733.4a2.2,4.2 0 1,0 4.5,0a2.2,4.2 0 1,0 -4.5,0M1126.0,733.4a1.5,2.8 0 1,0 3.0,0a1.5,2.8 0 1,0 -3.0,0M1140.7,769.7a5.0,4.2 0 1,0 10.1,0a5.0,4.2 0 1,0 -10.1,0M1141.8,769.7a4.0,3.4 0 1,0 8.1,0a4.0,3.4 0 1,0 -8.1,0M1142.8,769.7a3.0,2.5 0 1,0 6.1,0a3.0,2.5 0 1,0 -6.1,0M1143.8,769.7a2.0,1.7 0 1,0 4.0,0a2.0,1.7 0 1,0 -4.0,0M1114.7,740.1a3.6,6.5 0 1,0 7.2,0a3.6,6.5 0 1,0 -7.2,0M1115.4,740.1a2.9,5.2 0 1,0 5.8,0a2.9,5.2 0 1,0 -5.8,0M1116.1,740.1a2.2,3.9 0 1,0 4.3,0a2.2,3.9 0 1,0 -4.3,0M1116.9,740.1a1.4,2.6 0 1,0 2.9,0a1.4,2.6 0 1,0 -2.9,0M1139.7,760.4a4.3,3.8 0 1,0 8.6,0a4.3,3.8 0 1,0 -8.6,0M1140.6,760.4a3.5,3.1 0 1,0 6.9,0a3.5,3.1 0 1,0 -6.9,0M1141.4,760.4a2.6,2.3 0 1,0 5.2,0a2.6,2.3 0 1,0 -5.2,0M1142.3,760.4a1.7,1.5 0 1,0 3.5,0a1.7,1.5 0 1,0 -3.5,0M1144.6,721.3a3.8,7.0 0 1,0 7.6,0a3.8,7.0 0 1,0 -7.6,0M1145.4,721.3a3.0,5.6 0 1,0 6.1,0a3.0,5.6 0 1,0 -6.1,0M1146.1,721.3a2.3,4.2 0 1,0 4.6,0a2.3,4.2 0 1,0 -4.6,0M1146.9,721.3a1.5,2.8 0 1,0 3.0,0a1.5,2.8 0 1,0 -3.0,0M1149.7,735.8a4.0,4.5 0 1,0 8.0,0a4.0,4.5 0 1,0 -8.0,0M1150.5,735.8a3.2,3.6 0 1,0 6.4,0a3.2,3.6 0 1,0 -6.4,0M1151.3,735.8a2.4,2.7 0 1,0 4.8,0a2.4,2.7 0 1,0 -4.8,0M1152.1,735.8a1.6,1.8 0 1,0 3.2,0a1.6,1.8 0 1,0 -3.2,0M1112.0,737.2a2.8,3.6 0 1,0 5.7,0a2.8,3.6 0 1,0 -5.7,0M1112.6,737.2a2.3,2.9 0 1,0 4.6,0a2.3,2.9 0 1,0 -4.6,0M1113.2,737.2a1.7,2.2 0 1,0 3.4,0a1.7,2.2 0 1,0 -3.4,0M1113.7,737.2a1.1,1.4 0 1,0 2.3,0a1.1,1.4 0 1,0 -2.3,0M1117.1,725.9a3.0,3.6 0 1,0 6.1,0a3.0,3.6 0 1,0 -6.1,0M1117.7,725.9a2.4,2.9 0 1,0 4.9,0a2.4,2.9 0 1,0 -4.9,0M1118.3,725.9a1.8,2.2 0 1,0 3.6,0a1.8,2.2 0 1,0 -3.6,0M1118.9,725.9a1.2,1.4 0 1,0 2.4,0a1.2,1.4 0 1,0 -2.4,0M1130.4,714.4a2.6,4.9 0 1,0 5.2,0a2.6,4.9 0 1,0 -5.2,0M1130.9,714.4a2.1,3.9 0 1,0 4.2,0a2.1,3.9 0 1,0 -4.2,0M1131.5,714.4a1.6,2.9 0 1,0 3.1,0a1.6,2.9 0 1,0 -3.1,0M1132.0,714.4a1.0,1.9 0 1,0 2.1,0a1.0,1.9 0 1,0 -2.1,0M1123.3,769.3a2.9,5.3 0 1,0 5.9,0a2.9,5.3 0 1,0 -5.9,0M1123.9,769.3a2.4,4.3 0 1,0 4.7,0a2.4,4.3 0 1,0 -4.7,0M1124.5,769.3a1.8,3.2 0 1,0 3.5,0a1.8,3.2 0 1,0 -3.5,0M1125.1,769.3a1.2,2.1 0 1,0 2.4,0a1.2,2.1 0 1,0 -2.4,0M1146.8,716.1a5.1,4.0 0 1,0 10.2,0a5.1,4.0 0 1,0 -10.2,0M1147.8,716.1a4.1,3.2 0 1,0 8.1,0a4.1,3.2 0 1,0 -8.1,0M1148.8,716.1a3.1,2.4 0 1,0 6.1,0a3.1,2.4 0 1,0 -6.1,0M1149.8,716.1a2.0,1.6 0 1,0 4.1,0a2.0,1.6 0 1,0 -4.1,0M1148.6,722.2a3.7,4.1 0 1,0 7.4,0a3.7,4.1 0 1,0 -7.4,0M1149.3,722.2a2.9,3.3 0 1,0 5.9,0a2.9,3.3 0 1,0 -5.9,0M1150.0,722.2a2.2,2.5 0 1,0 4.4,0a2.2,2.5 0 1,0 -4.4,0M1150.8,722.2a1.5,1.7 0 1,0 2.9,0a1.5,1.7 0 1,0 -2.9,0M1155.9,728.8a2.7,6.0 0 1,0 5.5,0a2.7,6.0 0 1,0 -5.5,0M1156.4,728.8a2.2,4.8 0 1,0 4.4,0a2.2,4.8 0 1,0 -4.4,0M1157.0,728.8a1.6,3.6 0 1,0 3.3,0a1.6,3.6 0 1,0 -3.3,0M1157.5,728.8a1.1,2.4 0 1,0 2.2,0a1.1,2.4 0 1,0 -2.2,0M1156.7,761.3a4.5,5.9 0 1,0 9.0,0a4.5,5.9 0 1,0 -9.0,0M1157.6,761.3a3.6,4.8 0 1,0 7.2,0a3.6,4.8 0 1,0 -7.2,0M1158.5,761.3a2.7,3.6 0 1,0 5.4,0a2.7,3.6 0 1,0 -5.4,0M1159.4,761.3a1.8,2.4 0 1,0 3.6,0a1.8,2.4 0 1,0 -3.6,0M1141.7,778.5a5.4,6.0 0 1,0 10.9,0a5.4,6.0 0 1,0 -10.9,0M1142.8,778.5a4.4,4.8 0 1,0 8.7,0a4.4,4.8 0 1,0 -8.7,0M1143.9,778.5a3.3,3.6 0 1,0 6.5,0a3.3,3.6 0 1,0 -6.5,0M1145.0,778.5a2.2,2.4 0 1,0 4.4,0a2.2,2.4 0 1,0 -4.4,0M1123.1,723.4a3.6,6.6 0 1,0 7.2,0a3.6,6.6 0 1,0 -7.2,0M1123.8,723.4a2.9,5.3 0 1,0 5.8,0a2.9,5.3 0 1,0 -5.8,0M1124.5,723.4a2.2,4.0 0 1,0 4.3,0a2.2,4.0 0 1,0 -4.3,0M1125.2,723.4a1.4,2.7 0 1,0 2.9,0a1.4,2.7 0 1,0 -2.9,0M1127.9,713.8a4.8,6.5 0 1,0 9.6,0a4.8,6.5 0 1,0 -9.6,0M1128.9,713.8a3.8,5.2 0 1,0 7.7,0a3.8,5.2 0 1,0 -7.7,0M1129.9,713.8a2.9,3.9 0 1,0 5.7,0a2.9,3.9 0 1,0 -5.7,0M1130.8,713.8a1.9,2.6 0 1,0 3.8,0a1.9,2.6 0 1,0 -3.8,0M1155.4,730.0a5.4,5.6 0 1,0 10.8,0a5.4,5.6 0 1,0 -10.8,0M1156.5,730.0a4.3,4.5 0 1,0 8.6,0a4.3,4.5 0 1,0 -8.6,0M1157.6,730.0a3.2,3.4 0 1,0 6.5,0a3.2,3.4 0 1,0 -6.5,0M1158.6,730.0a2.2,2.3 0 1,0 4.3,0a2.2,2.3 0 1,0 -4.3,0M1151.6,777.5a4.1,5.8 0 1,0 8.2,0a4.1,5.8 0 1,0 -8.2,0M1152.4,777.5a3.3,4.6 0 1,0 6.5,0a3.3,4.6 0 1,0 -6.5,0M1153.3,777.5a2.5,3.5 0 1,0 4.9,0a2.5,3.5 0 1,0 -4.9,0M1154.1,777.5a1.6,2.3 0 1,0 3.3,0a1.6,2.3 0 1,0 -3.3,0M1131.0,753.9a5.3,3.5 0 1,0 10.7,0a5.3,3.5 0 1,0 -10.7,0M1132.1,753.9a4.3,2.8 0 1,0 8.5,0a4.3,2.8 0 1,0 -8.5,0M1133.1,753.9a3.2,2.1 0 1,0 6.4,0a3.2,2.1 0 1,0 -6.4,0M1134.2,753.9a2.1,1.4 0 1,0 4.3,0a2.1,1.4 0 1,0 -4.3,0M1120.5,733.0a4.5,6.3 0 1,0 8.9,0a4.5,6.3 0 1,0 -8.9,0M1121.4,733.0a3.6,5.1 0 1,0 7.1,0a3.6,5.1 0 1,0 -7.1,0M1122.3,733.0a2.7,3.8 0 1,0 5.4,0a2.7,3.8 0 1,0 -5.4,0M1123.2,733.0a1.8,2.5 0 1,0 3.6,0a1.8,2.5 0 1,0 -3.6,0M1135.2,783.4a3.2,5.9 0 1,0 6.4,0a3.2,5.9 0 1,0 -6.4,0M1135.8,783.4a2.6,4.8 0 1,0 5.1,0a2.6,4.8 0 1,0 -5.1,0M1136.4,783.4a1.9,3.6 0 1,0 3.8,0a1.9,3.6 0 1,0 -3.8,0M1137.1,783.4a1.3,2.4 0 1,0 2.6,0a1.3,2.4 0 1,0 -2.6,0M1117.1,751.7a2.7,6.1 0 1,0 5.3,0a2.7,6.1 0 1,0 -5.3,0M1117.6,751.7a2.1,4.9 0 1,0 4.3,0a2.1,4.9 0 1,0 -4.3,0M1118.2,751.7a1.6,3.6 0 1,0 3.2,0a1.6,3.6 0 1,0 -3.2,0M1118.7,751.7a1.1,2.4 0 1,0 2.1,0a1.1,2.4 0 1,0 -2.1,0M1140.1,732.1a4.0,5.6 0 1,0 8.0,0a4.0,5.6 0 1,0 -8.0,0M1140.9,732.1a3.2,4.4 0 1,0 6.4,0a3.2,4.4 0 1,0 -6.4,0M1141.7,732.1a2.4,3.3 0 1,0 4.8,0a2.4,3.3 0 1,0 -4.8,0M1142.5,732.1a1.6,2.2 0 1,0 3.2,0a1.6,2.2 0 1,0 -3.2,0M1120.9,776.2a3.1,6.5 0 1,0 6.3,0a3.1,6.5 0 1,0 -6.3,0M1121.5,776.2a2.5,5.2 0 1,0 5.0,0a2.5,5.2 0 1,0 -5.0,0M1122.1,776.2a1.9,3.9 0 1,0 3.8,0a1.9,3.9 0 1,0 -3.8,0M1122.7,776.2a1.3,2.6 0 1,0 2.5,0a1.3,2.6 0 1,0 -2.5,0M1142.6,767.9a4.4,4.7 0 1,0 8.8,0a4.4,4.7 0 1,0 -8.8,0M1143.5,767.9a3.5,3.7 0 1,0 7.1,0a3.5,3.7 0 1,0 -7.1,0M1144.4,767.9a2.6,2.8 0 1,0 5.3,0a2.6,2.8 0 1,0 -5.3,0M1145.3,767.9a1.8,1.9 0 1,0 3.5,0a1.8,1.9 0 1,0 -3.5,0M1135.4,777.3a3.6,5.1 0 1,0 7.2,0a3.6,5.1 0 1,0 -7.2,0M1136.1,777.3a2.9,4.1 0 1,0 5.7,0a2.9,4.1 0 1,0 -5.7,0M1136.9,777.3a2.2,3.0 0 1,0 4.3,0a2.2,3.0 0 1,0 -4.3,0M1137.6,777.3a1.4,2.0 0 1,0 2.9,0a1.4,2.0 0 1,0 -2.9,0M1150.1,771.6a3.1,4.9 0 1,0 6.2,0a3.1,4.9 0 1,0 -6.2,0M1150.7,771.6a2.5,3.9 0 1,0 5.0,0a2.5,3.9 0 1,0 -5.0,0M1151.3,771.6a1.9,2.9 0 1,0 3.7,0a1.9,2.9 0 1,0 -3.7,0M1151.9,771.6a1.2,2.0 0 1,0 2.5,0a1.2,2.0 0 1,0 -2.5,0M1117.5,710.3a5.4,4.2 0 1,0 10.9,0a5.4,4.2 0 1,0 -10.9,0M1118.5,710.3a4.4,3.4 0 1,0 8.7,0a4.4,3.4 0 1,0 -8.7,0M1119.6,710.3a3.3,2.5 0 1,0 6.5,0a3.3,2.5 0 1,0 -6.5,0M1120.7,710.3a2.2,1.7 0 1,0 4.4,0a2.2,1.7 0 1,0 -4.4,0M1156.2,754.0a2.6,6.4 0 1,0 5.2,0a2.6,6.4 0 1,0 -5.2,0M1156.7,754.0a2.1,5.1 0 1,0 4.2,0a2.1,5.1 0 1,0 -4.2,0M1157.2,754.0a1.6,3.9 0 1,0 3.1,0a1.6,3.9 0 1,0 -3.1,0M1157.8,754.0a1.0,2.6 0 1,0 2.1,0a1.0,2.6 0 1,0 -2.1,0M1153.0,732.6a4.2,3.7 0 1,0 8.5,0a4.2,3.7 0 1,0 -8.5,0M1153.9,732.6a3.4,3.0 0 1,0 6.8,0a3.4,3.0 0 1,0 -6.8,0M1154.7,732.6a2.5,2.2 0 1,0 5.1,0a2.5,2.2 0 1,0 -5.1,0M1155.6,732.6a1.7,1.5 0 1,0 3.4,0a1.7,1.5 0 1,0 -3.4,0M1139.2,772.7a4.2,5.4 0 1,0 8.4,0a4.2,5.4 0 1,0 -8.4,0M1140.1,772.7a3.4,4.4 0 1,0 6.7,0a3.4,4.4 0 1,0 -6.7,0M1140.9,772.7a2.5,3.3 0 1,0 5.1,0a2.5,3.3 0 1,0 -5.1,0M1141.8,772.7a1.7,2.2 0 1,0 3.4,0a1.7,2.2 0 1,0 -3.4,0M1126.3,772.3a4.7,6.7 0 1,0 9.4,0a4.7,6.7 0 1,0 -9.4,0M1127.2,772.3a3.8,5.3 0 1,0 7.6,0a3.8,5.3 0 1,0 -7.6,0M1128.1,772.3a2.8,4.0 0 1,0 5.7,0a2.8,4.0 0 1,0 -5.7,0M1129.1,772.3a1.9,2.7 0 1,0 3.8,0a1.9,2.7 0 1,0 -3.8,0M1139.8,720.4a4.8,6.4 0 1,0 9.6,0a4.8,6.4 0 1,0 -9.6,0M1140.8,720.4a3.9,5.1 0 1,0 7.7,0a3.9,5.1 0 1,0 -7.7,0M1141.8,720.4a2.9,3.8 0 1,0 5.8,0a2.9,3.8 0 1,0 -5.8,0M1142.7,720.4a1.9,2.5 0 1,0 3.9,0a1.9,2.5 0 1,0 -3.9,0M1149.0,736.8a3.0,3.5 0 1,0 6.0,0a3.0,3.5 0 1,0 -6.0,0M1149.6,736.8a2.4,2.8 0 1,0 4.8,0a2.4,2.8 0 1,0 -4.8,0M1150.2,736.8a1.8,2.1 0 1,0 3.6,0a1.8,2.1 0 1,0 -3.6,0M1150.8,736.8a1.2,1.4 0 1,0 2.4,0a1.2,1.4 0 1,0 -2.4,0M1149.3,720.4a4.6,6.2 0 1,0 9.2,0a4.6,6.2 0 1,0 -9.2,0M1150.3,720.4a3.7,5.0 0 1,0 7.4,0a3.7,5.0 0 1,0 -7.4,0M1151.2,720.4a2.8,3.7 0 1,0 5.5,0a2.8,3.7 0 1,0 -5.5,0M1152.1,720.4a1.8,2.5 0 1,0 3.7,0a1.8,2.5 0 1,0 -3.7,0M1131.4,722.0a5.4,5.1 0 1,0 10.8,0a5.4,5.1 0 1,0 -10.8,0M1132.4,722.0a4.3,4.1 0 1,0 8.7,0a4.3,4.1 0 1,0 -8.7,0M1133.5,722.0a3.2,3.1 0 1,0 6.5,0a3.2,3.1 0 1,0 -6.5,0M1134.6,722.0a2.2,2.0 0 1,0 4.3,0a2.2,2.0 0 1,0 -4.3,0M1128.2,781.0a5.2,6.4 0 1,0 10.3,0a5.2,6.4 0 1,0 -10.3,0M1129.2,781.0a4.1,5.1 0 1,0 8.3,0a4.1,5.1 0 1,0 -8.3,0M1130.3,781.0a3.1,3.8 0 1,0 6.2,0a3.1,3.8 0 1,0 -6.2,0M1131.3,781.0a2.1,2.6 0 1,0 4.1,0a2.1,2.6 0 1,0 -4.1,0M1114.0,771.3a3.1,4.2 0 1,0 6.2,0a3.1,4.2 0 1,0 -6.2,0M1114.7,771.3a2.5,3.4 0 1,0 4.9,0a2.5,3.4 0 1,0 -4.9,0M1115.3,771.3a1.8,2.5 0 1,0 3.7,0a1.8,2.5 0 1,0 -3.7,0M1115.9,771.3a1.2,1.7 0 1,0 2.5,0a1.2,1.7 0 1,0 -2.5,0M1119.6,752.2a3.9,6.0 0 1,0 7.9,0a3.9,6.0 0 1,0 -7.9,0M1120.3,752.2a3.1,4.8 0 1,0 6.3,0a3.1,4.8 0 1,0 -6.3,0M1121.1,752.2a2.4,3.6 0 1,0 4.7,0a2.4,3.6 0 1,0 -4.7,0M1121.9,752.2a1.6,2.4 0 1,0 3.1,0a1.6,2.4 0 1,0 -3.1,0M1117.9,752.0a5.3,4.8 0 1,0 10.7,0a5.3,4.8 0 1,0 -10.7,0M1118.9,752.0a4.3,3.8 0 1,0 8.5,0a4.3,3.8 0 1,0 -8.5,0M1120.0,752.0a3.2,2.9 0 1,0 6.4,0a3.2,2.9 0 1,0 -6.4,0M1121.1,752.0a2.1,1.9 0 1,0 4.3,0a2.1,1.9 0 1,0 -4.3,0M1136.3,728.3a3.5,5.1 0 1,0 7.0,0a3.5,5.1 0 1,0 -7.0,0M1137.0,728.3a2.8,4.1 0 1,0 5.6,0a2.8,4.1 0 1,0 -5.6,0M1137.7,728.3a2.1,3.0 0 1,0 4.2,0a2.1,3.0 0 1,0 -4.2,0M1138.4,728.3a1.4,2.0 0 1,0 2.8,0a1.4,2.0 0 1,0 -2.8,0M1149.3,719.5a5.3,4.6 0 1,0 10.6,0a5.3,4.6 0 1,0 -10.6,0M1150.4,719.5a4.2,3.6 0 1,0 8.5,0a4.2,3.6 0 1,0 -8.5,0M1151.4,719.5a3.2,2.7 0 1,0 6.4,0a3.2,2.7 0 1,0 -6.4,0M1152.5,719.5a2.1,1.8 0 1,0 4.2,0a2.1,1.8 0 1,0 -4.2,0M1127.8,722.6a4.1,3.8 0 1,0 8.2,0a4.1,3.8 0 1,0 -8.2,0M1128.6,722.6a3.3,3.1 0 1,0 6.6,0a3.3,3.1 0 1,0 -6.6,0M1129.4,722.6a2.5,2.3 0 1,0 4.9,0a2.5,2.3 0 1,0 -4.9,0M1130.2,722.6a1.6,1.5 0 1,0 3.3,0a1.6,1.5 0 1,0 -3.3,0M1146.9,764.7a4.2,5.1 0 1,0 8.5,0a4.2,5.1 0 1,0 -8.5,0M1147.8,764.7a3.4,4.1 0 1,0 6.8,0a3.4,4.1 0 1,0 -6.8,0M1148.6,764.7a2.5,3.1 0 1,0 5.1,0a2.5,3.1 0 1,0 -5.1,0M1149.4,764.7a1.7,2.0 0 1,0 3.4,0a1.7,2.0 0 1,0 -3.4,0M1123.0,749.3a4.7,5.7 0 1,0 9.4,0a4.7,5.7 0 1,0 -9.4,0M1124.0,749.3a3.8,4.6 0 1,0 7.5,0a3.8,4.6 0 1,0 -7.5,0M1124.9,749.3a2.8,3.4 0 1,0 5.7,0a2.8,3.4 0 1,0 -5.7,0M1125.9,749.3a1.9,2.3 0 1,0 3.8,0a1.9,2.3 0 1,0 -3.8,0M1140.2,781.2a3.8,5.1 0 1,0 7.6,0a3.8,5.1 0 1,0 -7.6,0M1140.9,781.2a3.1,4.1 0 1,0 6.1,0a3.1,4.1 0 1,0 -6.1,0M1141.7,781.2a2.3,3.1 0 1,0 4.6,0a2.3,3.1 0 1,0 -4.6,0M1142.4,781.2a1.5,2.0 0 1,0 3.1,0a1.5,2.0 0 1,0 -3.1,0M1152.1,753.5a4.6,3.7 0 1,0 9.1,0a4.6,3.7 0 1,0 -9.1,0M1153.0,753.5a3.7,3.0 0 1,0 7.3,0a3.7,3.0 0 1,0 -7.3,0M1153.9,753.5a2.7,2.2 0 1,0 5.5,0a2.7,2.2 0 1,0 -5.5,0M1154.8,753.5a1.8,1.5 0 1,0 3.7,0a1.8,1.5 0 1,0 -3.7,0M1131.5,750.7a3.8,4.9 0 1,0 7.5,0a3.8,4.9 0 1,0 -7.5,0M1132.2,750.7a3.0,4.0 0 1,0 6.0,0a3.0,4.0 0 1,0 -6.0,0M1133.0,750.7a2.3,3.0 0 1,0 4.5,0a2.3,3.0 0 1,0 -4.5,0M1133.7,750.7a1.5,2.0 0 1,0 3.0,0a1.5,2.0 0 1,0 -3.0,0M1135.3,775.3a4.0,4.0 0 1,0 8.0,0a4.0,4.0 0 1,0 -8.0,0M1136.1,775.3a3.2,3.2 0 1,0 6.4,0a3.2,3.2 0 1,0 -6.4,0M1136.9,775.3a2.4,2.4 0 1,0 4.8,0a2.4,2.4 0 1,0 -4.8,0M1137.7,775.3a1.6,1.6 0 1,0 3.2,0a1.6,1.6 0 1,0 -3.2,0M1150.0,750.5a3.5,5.9 0 1,0 7.1,0a3.5,5.9 0 1,0 -7.1,0M1150.7,750.5a2.8,4.7 0 1,0 5.7,0a2.8,4.7 0 1,0 -5.7,0M1151.4,750.5a2.1,3.5 0 1,0 4.3,0a2.1,3.5 0 1,0 -4.3,0M1152.1,750.5a1.4,2.3 0 1,0 2.8,0a1.4,2.3 0 1,0 -2.8,0M1119.2,708.9a4.5,3.5 0 1,0 9.0,0a4.5,3.5 0 1,0 -9.0,0M1120.1,708.9a3.6,2.8 0 1,0 7.2,0a3.6,2.8 0 1,0 -7.2,0M1121.0,708.9a2.7,2.1 0 1,0 5.4,0a2.7,2.1 0 1,0 -5.4,0M1121.9,708.9a1.8,1.4 0 1,0 3.6,0a1.8,1.4 0 1,0 -3.6,0M1141.1,673.1a3.5,6.8 0 1,0 7.1,0a3.5,6.8 0 1,0 -7.1,0M1141.8,673.1a2.8,5.4 0 1,0 5.7,0a2.8,5.4 0 1,0 -5.7,0M1142.6,673.1a2.1,4.1 0 1,0 4.2,0a2.1,4.1 0 1,0 -4.2,0M1143.3,673.1a1.4,2.7 0 1,0 2.8,0a1.4,2.7 0 1,0 -2.8,0M1143.2,673.1a2.9,4.9 0 1,0 5.8,0a2.9,4.9 0 1,0 -5.8,0M1143.8,673.1a2.3,3.9 0 1,0 4.7,0a2.3,3.9 0 1,0 -4.7,0M1144.3,673.1a1.7,2.9 0 1,0 3.5,0a1.7,2.9 0 1,0 -3.5,0M1144.9,673.1a1.2,2.0 0 1,0 2.3,0a1.2,2.0 0 1,0 -2.3,0M1149.0,700.9a4.4,3.7 0 1,0 8.8,0a4.4,3.7 0 1,0 -8.8,0M1149.9,700.9a3.5,2.9 0 1,0 7.0,0a3.5,2.9 0 1,0 -7.0,0M1150.7,700.9a2.6,2.2 0 1,0 5.3,0a2.6,2.2 0 1,0 -5.3,0M1151.6,700.9a1.8,1.5 0 1,0 3.5,0a1.8,1.5 0 1,0 -3.5,0M1116.4,679.1a5.5,4.7 0 1,0 10.9,0a5.5,4.7 0 1,0 -10.9,0M1117.5,679.1a4.4,3.8 0 1,0 8.7,0a4.4,3.8 0 1,0 -8.7,0M1118.5,679.1a3.3,2.8 0 1,0 6.6,0a3.3,2.8 0 1,0 -6.6,0M1119.6,679.1a2.2,1.9 0 1,0 4.4,0a2.2,1.9 0 1,0 -4.4,0M1130.0,673.1a3.0,3.9 0 1,0 6.0,0a3.0,3.9 0 1,0 -6.0,0M1130.6,673.1a2.4,3.1 0 1,0 4.8,0a2.4,3.1 0 1,0 -4.8,0M1131.2,673.1a1.8,2.3 0 1,0 3.6,0a1.8,2.3 0 1,0 -3.6,0M1131.8,673.1a1.2,1.6 0 1,0 2.4,0a1.2,1.6 0 1,0 -2.4,0M1131.8,693.2a3.7,5.9 0 1,0 7.3,0a3.7,5.9 0 1,0 -7.3,0M1132.5,693.2a2.9,4.7 0 1,0 5.9,0a2.9,4.7 0 1,0 -5.9,0M1133.2,693.2a2.2,3.5 0 1,0 4.4,0a2.2,3.5 0 1,0 -4.4,0M1134.0,693.2a1.5,2.4 0 1,0 2.9,0a1.5,2.4 0 1,0 -2.9,0M1133.2,706.2a3.0,5.0 0 1,0 6.1,0a3.0,5.0 0 1,0 -6.1,0M1133.8,706.2a2.4,4.0 0 1,0 4.9,0a2.4,4.0 0 1,0 -4.9,0M1134.4,706.2a1.8,3.0 0 1,0 3.6,0a1.8,3.0 0 1,0 -3.6,0M1135.0,706.2a1.2,2.0 0 1,0 2.4,0a1.2,2.0 0 1,0 -2.4,0M1109.9,699.1a5.3,5.7 0 1,0 10.6,0a5.3,5.7 0 1,0 -10.6,0M1111.0,699.1a4.3,4.6 0 1,0 8.5,0a4.3,4.6 0 1,0 -8.5,0M1112.1,699.1a3.2,3.4 0 1,0 6.4,0a3.2,3.4 0 1,0 -6.4,0M1113.1,699.1a2.1,2.3 0 1,0 4.3,0a2.1,2.3 0 1,0 -4.3,0M1119.2,700.9a4.7,6.9 0 1,0 9.4,0a4.7,6.9 0 1,0 -9.4,0M1120.1,700.9a3.8,5.6 0 1,0 7.5,0a3.8,5.6 0 1,0 -7.5,0M1121.1,700.9a2.8,4.2 0 1,0 5.6,0a2.8,4.2 0 1,0 -5.6,0M1122.0,700.9a1.9,2.8 0 1,0 3.8,0a1.9,2.8 0 1,0 -3.8,0M1154.2,676.5a2.6,6.4 0 1,0 5.2,0a2.6,6.4 0 1,0 -5.2,0M1154.7,676.5a2.1,5.1 0 1,0 4.2,0a2.1,5.1 0 1,0 -4.2,0M1155.2,676.5a1.6,3.8 0 1,0 3.1,0a1.6,3.8 0 1,0 -3.1,0M1155.7,676.5a1.0,2.5 0 1,0 2.1,0a1.0,2.5 0 1,0 -2.1,0M1120.9,671.2a3.2,4.9 0 1,0 6.4,0a3.2,4.9 0 1,0 -6.4,0M1121.5,671.2a2.5,3.9 0 1,0 5.1,0a2.5,3.9 0 1,0 -5.1,0M1122.1,671.2a1.9,2.9 0 1,0 3.8,0a1.9,2.9 0 1,0 -3.8,0M1122.8,671.2a1.3,1.9 0 1,0 2.5,0a1.3,1.9 0 1,0 -2.5,0M1131.2,686.7a5.4,5.9 0 1,0 10.7,0a5.4,5.9 0 1,0 -10.7,0M1132.3,686.7a4.3,4.7 0 1,0 8.6,0a4.3,4.7 0 1,0 -8.6,0M1133.3,686.7a3.2,3.5 0 1,0 6.4,0a3.2,3.5 0 1,0 -6.4,0M1134.4,686.7a2.1,2.3 0 1,0 4.3,0a2.1,2.3 0 1,0 -4.3,0M1123.8,675.8a2.6,4.0 0 1,0 5.2,0a2.6,4.0 0 1,0 -5.2,0M1124.3,675.8a2.1,3.2 0 1,0 4.2,0a2.1,3.2 0 1,0 -4.2,0M1124.8,675.8a1.6,2.4 0 1,0 3.1,0a1.6,2.4 0 1,0 -3.1,0M1125.3,675.8a1.0,1.6 0 1,0 2.1,0a1.0,1.6 0 1,0 -2.1,0M1138.2,699.7a3.1,5.6 0 1,0 6.1,0a3.1,5.6 0 1,0 -6.1,0M1138.8,699.7a2.5,4.5 0 1,0 4.9,0a2.5,4.5 0 1,0 -4.9,0M1139.5,699.7a1.8,3.4 0 1,0 3.7,0a1.8,3.4 0 1,0 -3.7,0M1140.1,699.7a1.2,2.2 0 1,0 2.5,0a1.2,2.2 0 1,0 -2.5,0M1129.4,677.6a3.2,6.0 0 1,0 6.4,0a3.2,6.0 0 1,0 -6.4,0M1130.0,677.6a2.5,4.8 0 1,0 5.1,0a2.5,4.8 0 1,0 -5.1,0M1130.7,677.6a1.9,3.6 0 1,0 3.8,0a1.9,3.6 0 1,0 -3.8,0M1131.3,677.6a1.3,2.4 0 1,0 2.5,0a1.3,2.4 0 1,0 -2.5,0M1125.6,672.2a5.3,4.4 0 1,0 10.5,0a5.3,4.4 0 1,0 -10.5,0M1126.6,672.2a4.2,3.5 0 1,0 8.4,0a4.2,3.5 0 1,0 -8.4,0M1127.7,672.2a3.2,2.6 0 1,0 6.3,0a3.2,2.6 0 1,0 -6.3,0M1128.7,672.2a2.1,1.8 0 1,0 4.2,0a2.1,1.8 0 1,0 -4.2,0M1134.3,687.8a2.7,4.7 0 1,0 5.4,0a2.7,4.7 0 1,0 -5.4,0M1134.8,687.8a2.2,3.8 0 1,0 4.4,0a2.2,3.8 0 1,0 -4.4,0M1135.3,687.8a1.6,2.8 0 1,0 3.3,0a1.6,2.8 0 1,0 -3.3,0M1135.9,687.8a1.1,1.9 0 1,0 2.2,0a1.1,1.9 0 1,0 -2.2,0M1139.3,703.0a3.7,6.3 0 1,0 7.4,0a3.7,6.3 0 1,0 -7.4,0M1140.1,703.0a3.0,5.1 0 1,0 5.9,0a3.0,5.1 0 1,0 -5.9,0M1140.8,703.0a2.2,3.8 0 1,0 4.4,0a2.2,3.8 0 1,0 -4.4,0M1141.5,703.0a1.5,2.5 0 1,0 3.0,0a1.5,2.5 0 1,0 -3.0,0M1151.2,697.5a5.2,3.5 0 1,0 10.4,0a5.2,3.5 0 1,0 -10.4,0M1152.3,697.5a4.2,2.8 0 1,0 8.3,0a4.2,2.8 0 1,0 -8.3,0M1153.3,697.5a3.1,2.1 0 1,0 6.2,0a3.1,2.1 0 1,0 -6.2,0M1154.4,697.5a2.1,1.4 0 1,0 4.2,0a2.1,1.4 0 1,0 -4.2,0M1133.8,678.3a3.5,5.4 0 1,0 6.9,0a3.5,5.4 0 1,0 -6.9,0M1134.5,678.3a2.8,4.4 0 1,0 5.5,0a2.8,4.4 0 1,0 -5.5,0M1135.1,678.3a2.1,3.3 0 1,0 4.1,0a2.1,3.3 0 1,0 -4.1,0M1135.8,678.3a1.4,2.2 0 1,0 2.8,0a1.4,2.2 0 1,0 -2.8,0M1111.0,699.7a4.8,7.0 0 1,0 9.6,0a4.8,7.0 0 1,0 -9.6,0M1111.9,699.7a3.8,5.6 0 1,0 7.7,0a3.8,5.6 0 1,0 -7.7,0M1112.9,699.7a2.9,4.2 0 1,0 5.7,0a2.9,4.2 0 1,0 -5.7,0M1113.8,699.7a1.9,2.8 0 1,0 3.8,0a1.9,2.8 0 1,0 -3.8,0M1138.1,707.4a5.0,5.3 0 1,0 10.1,0a5.0,5.3 0 1,0 -10.1,0M1139.1,707.4a4.0,4.2 0 1,0 8.0,0a4.0,4.2 0 1,0 -8.0,0M1140.2,707.4a3.0,3.2 0 1,0 6.0,0a3.0,3.2 0 1,0 -6.0,0M1141.2,707.4a2.0,2.1 0 1,0 4.0,0a2.0,2.1 0 1,0 -4.0,0M1128.0,680.8a4.4,5.4 0 1,0 8.7,0a4.4,5.4 0 1,0 -8.7,0M1128.8,680.8a3.5,4.4 0 1,0 7.0,0a3.5,4.4 0 1,0 -7.0,0M1129.7,680.8a2.6,3.3 0 1,0 5.2,0a2.6,3.3 0 1,0 -5.2,0M1130.6,680.8a1.7,2.2 0 1,0 3.5,0a1.7,2.2 0 1,0 -3.5,0M1116.8,689.5a5.0,6.2 0 1,0 9.9,0a5.0,6.2 0 1,0 -9.9,0M1117.8,689.5a4.0,5.0 0 1,0 7.9,0a4.0,5.0 0 1,0 -7.9,0M1118.8,689.5a3.0,3.7 0 1,0 6.0,0a3.0,3.7 0 1,0 -6.0,0M1119.8,689.5a2.0,2.5 0 1,0 4.0,0a2.0,2.5 0 1,0 -4.0,0M1148.2,691.8a4.9,5.0 0 1,0 9.7,0a4.9,5.0 0 1,0 -9.7,0M1149.2,691.8a3.9,4.0 0 1,0 7.8,0a3.9,4.0 0 1,0 -7.8,0M1150.2,691.8a2.9,3.0 0 1,0 5.8,0a2.9,3.0 0 1,0 -5.8,0M1151.2,691.8a1.9,2.0 0 1,0 3.9,0a1.9,2.0 0 1,0 -3.9,0M1134.0,684.0a2.7,5.0 0 1,0 5.4,0a2.7,5.0 0 1,0 -5.4,0M1134.6,684.0a2.1,4.0 0 1,0 4.3,0a2.1,4.0 0 1,0 -4.3,0M1135.1,684.0a1.6,3.0 0 1,0 3.2,0a1.6,3.0 0 1,0 -3.2,0M1135.6,684.0a1.1,2.0 0 1,0 2.1,0a1.1,2.0 0 1,0 -2.1,0M1131.1,708.7a3.3,6.0 0 1,0 6.6,0a3.3,6.0 0 1,0 -6.6,0M1131.8,708.7a2.6,4.8 0 1,0 5.2,0a2.6,4.8 0 1,0 -5.2,0M1132.4,708.7a2.0,3.6 0 1,0 3.9,0a2.0,3.6 0 1,0 -3.9,0M1133.1,708.7a1.3,2.4 0 1,0 2.6,0a1.3,2.4 0 1,0 -2.6,0M1129.9,668.8a3.8,3.9 0 1,0 7.6,0a3.8,3.9 0 1,0 -7.6,0M1130.6,668.8a3.1,3.1 0 1,0 6.1,0a3.1,3.1 0 1,0 -6.1,0M1131.4,668.8a2.3,2.3 0 1,0 4.6,0a2.3,2.3 0 1,0 -4.6,0M1132.1,668.8a1.5,1.5 0 1,0 3.1,0a1.5,1.5 0 1,0 -3.1,0M1107.2,689.3a5.2,4.3 0 1,0 10.3,0a5.2,4.3 0 1,0 -10.3,0M1108.2,689.3a4.1,3.5 0 1,0 8.3,0a4.1,3.5 0 1,0 -8.3,0M1109.2,689.3a3.1,2.6 0 1,0 6.2,0a3.1,2.6 0 1,0 -6.2,0M1110.3,689.3a2.1,1.7 0 1,0 4.1,0a2.1,1.7 0 1,0 -4.1,0M1121.7,671.4a3.4,5.4 0 1,0 6.7,0a3.4,5.4 0 1,0 -6.7,0M1122.4,671.4a2.7,4.3 0 1,0 5.4,0a2.7,4.3 0 1,0 -5.4,0M1123.0,671.4a2.0,3.2 0 1,0 4.0,0a2.0,3.2 0 1,0 -4.0,0M1123.7,671.4a1.3,2.1 0 1,0 2.7,0a1.3,2.1 0 1,0 -2.7,0M1115.4,685.3a4.6,6.9 0 1,0 9.1,0a4.6,6.9 0 1,0 -9.1,0M1116.3,685.3a3.7,5.5 0 1,0 7.3,0a3.7,5.5 0 1,0 -7.3,0M1117.2,685.3a2.7,4.1 0 1,0 5.5,0a2.7,4.1 0 1,0 -5.5,0M1118.2,685.3a1.8,2.8 0 1,0 3.7,0a1.8,2.8 0 1,0 -3.7,0M1139.1,703.2a3.9,4.3 0 1,0 7.8,0a3.9,4.3 0 1,0 -7.8,0M1139.9,703.2a3.1,3.4 0 1,0 6.3,0a3.1,3.4 0 1,0 -6.3,0M1140.7,703.2a2.4,2.6 0 1,0 4.7,0a2.4,2.6 0 1,0 -4.7,0M1141.5,703.2a1.6,1.7 0 1,0 3.1,0a1.6,1.7 0 1,0 -3.1,0M1115.1,694.0a3.9,4.8 0 1,0 7.7,0a3.9,4.8 0 1,0 -7.7,0M1115.9,694.0a3.1,3.9 0 1,0 6.2,0a3.1,3.9 0 1,0 -6.2,0M1116.7,694.0a2.3,2.9 0 1,0 4.6,0a2.3,2.9 0 1,0 -4.6,0M1117.4,694.0a1.5,1.9 0 1,0 3.1,0a1.5,1.9 0 1,0 -3.1,0M1132.3,668.2a3.4,6.3 0 1,0 6.8,0a3.4,6.3 0 1,0 -6.8,0M1133.0,668.2a2.7,5.1 0 1,0 5.4,0a2.7,5.1 0 1,0 -5.4,0M1133.6,668.2a2.0,3.8 0 1,0 4.1,0a2.0,3.8 0 1,0 -4.1,0M1134.3,668.2a1.4,2.5 0 1,0 2.7,0a1.4,2.5 0 1,0 -2.7,0M1153.2,698.4a5.3,6.5 0 1,0 10.7,0a5.3,6.5 0 1,0 -10.7,0M1154.3,698.4a4.3,5.2 0 1,0 8.6,0a4.3,5.2 0 1,0 -8.6,0M1155.3,698.4a3.2,3.9 0 1,0 6.4,0a3.2,3.9 0 1,0 -6.4,0M1156.4,698.4a2.1,2.6 0 1,0 4.3,0a2.1,2.6 0 1,0 -4.3,0M1144.5,707.0a4.2,6.2 0 1,0 8.4,0a4.2,6.2 0 1,0 -8.4,0M1145.4,707.0a3.4,5.0 0 1,0 6.7,0a3.4,5.0 0 1,0 -6.7,0M1146.2,707.0a2.5,3.7 0 1,0 5.1,0a2.5,3.7 0 1,0 -5.1,0M1147.1,707.0a1.7,2.5 0 1,0 3.4,0a1.7,2.5 0 1,0 -3.4,0M1194.4,686.9a3.9,3.6 0 1,0 7.8,0a3.9,3.6 0 1,0 -7.8,0M1195.2,686.9a3.1,2.9 0 1,0 6.2,0a3.1,2.9 0 1,0 -6.2,0M1196.0,686.9a2.3,2.1 0 1,0 4.7,0a2.3,2.1 0 1,0 -4.7,0M1196.7,686.9a1.6,1.4 0 1,0 3.1,0a1.6,1.4 0 1,0 -3.1,0M1182.4,691.8a3.5,6.5 0 1,0 6.9,0a3.5,6.5 0 1,0 -6.9,0M1183.1,691.8a2.8,5.2 0 1,0 5.5,0a2.8,5.2 0 1,0 -5.5,0M1183.8,691.8a2.1,3.9 0 1,0 4.1,0a2.1,3.9 0 1,0 -4.1,0M1184.4,691.8a1.4,2.6 0 1,0 2.8,0a1.4,2.6 0 1,0 -2.8,0M1195.3,669.8a4.7,6.9 0 1,0 9.5,0a4.7,6.9 0 1,0 -9.5,0M1196.2,669.8a3.8,5.5 0 1,0 7.6,0a3.8,5.5 0 1,0 -7.6,0M1197.2,669.8a2.8,4.1 0 1,0 5.7,0a2.8,4.1 0 1,0 -5.7,0M1198.1,669.8a1.9,2.8 0 1,0 3.8,0a1.9,2.8 0 1,0 -3.8,0M1183.7,656.3a3.0,4.3 0 1,0 5.9,0a3.0,4.3 0 1,0 -5.9,0M1184.3,656.3a2.4,3.4 0 1,0 4.7,0a2.4,3.4 0 1,0 -4.7,0M1184.9,656.3a1.8,2.6 0 1,0 3.6,0a1.8,2.6 0 1,0 -3.6,0M1185.5,656.3a1.2,1.7 0 1,0 2.4,0a1.2,1.7 0 1,0 -2.4,0M1191.9,695.3a4.5,6.9 0 1,0 8.9,0a4.5,6.9 0 1,0 -8.9,0M1192.8,695.3a3.6,5.5 0 1,0 7.2,0a3.6,5.5 0 1,0 -7.2,0M1193.7,695.3a2.7,4.1 0 1,0 5.4,0a2.7,4.1 0 1,0 -5.4,0M1194.6,695.3a1.8,2.8 0 1,0 3.6,0a1.8,2.8 0 1,0 -3.6,0M1194.2,686.1a4.4,4.4 0 1,0 8.7,0a4.4,4.4 0 1,0 -8.7,0M1195.1,686.1a3.5,3.5 0 1,0 7.0,0a3.5,3.5 0 1,0 -7.0,0M1196.0,686.1a2.6,2.6 0 1,0 5.2,0a2.6,2.6 0 1,0 -5.2,0M1196.8,686.1a1.7,1.8 0 1,0 3.5,0a1.7,1.8 0 1,0 -3.5,0M1190.7,672.8a3.9,6.5 0 1,0 7.7,0a3.9,6.5 0 1,0 -7.7,0M1191.4,672.8a3.1,5.2 0 1,0 6.2,0a3.1,5.2 0 1,0 -6.2,0M1192.2,672.8a2.3,3.9 0 1,0 4.6,0a2.3,3.9 0 1,0 -4.6,0M1193.0,672.8a1.5,2.6 0 1,0 3.1,0a1.5,2.6 0 1,0 -3.1,0M1200.9,688.0a4.1,6.0 0 1,0 8.2,0a4.1,6.0 0 1,0 -8.2,0M1201.8,688.0a3.3,4.8 0 1,0 6.6,0a3.3,4.8 0 1,0 -6.6,0M1202.6,688.0a2.5,3.6 0 1,0 4.9,0a2.5,3.6 0 1,0 -4.9,0M1203.4,688.0a1.6,2.4 0 1,0 3.3,0a1.6,2.4 0 1,0 -3.3,0M1184.8,672.4a3.3,3.5 0 1,0 6.6,0a3.3,3.5 0 1,0 -6.6,0M1185.5,672.4a2.6,2.8 0 1,0 5.3,0a2.6,2.8 0 1,0 -5.3,0M1186.1,672.4a2.0,2.1 0 1,0 4.0,0a2.0,2.1 0 1,0 -4.0,0M1186.8,672.4a1.3,1.4 0 1,0 2.6,0a1.3,1.4 0 1,0 -2.6,0M1183.5,695.8a4.7,6.2 0 1,0 9.4,0a4.7,6.2 0 1,0 -9.4,0M1184.4,695.8a3.7,4.9 0 1,0 7.5,0a3.7,4.9 0 1,0 -7.5,0M1185.4,695.8a2.8,3.7 0 1,0 5.6,0a2.8,3.7 0 1,0 -5.6,0M1186.3,695.8a1.9,2.5 0 1,0 3.7,0a1.9,2.5 0 1,0 -3.7,0M1196.6,662.4a4.1,6.3 0 1,0 8.2,0a4.1,6.3 0 1,0 -8.2,0M1197.5,662.4a3.3,5.1 0 1,0 6.6,0a3.3,5.1 0 1,0 -6.6,0M1198.3,662.4a2.5,3.8 0 1,0 4.9,0a2.5,3.8 0 1,0 -4.9,0M1199.1,662.4a1.6,2.5 0 1,0 3.3,0a1.6,2.5 0 1,0 -3.3,0M1181.6,667.9a3.5,5.7 0 1,0 7.0,0a3.5,5.7 0 1,0 -7.0,0M1182.3,667.9a2.8,4.5 0 1,0 5.6,0a2.8,4.5 0 1,0 -5.6,0M1183.0,667.9a2.1,3.4 0 1,0 4.2,0a2.1,3.4 0 1,0 -4.2,0M1183.7,667.9a1.4,2.3 0 1,0 2.8,0a1.4,2.3 0 1,0 -2.8,0M1187.0,679.8a5.4,4.8 0 1,0 10.9,0a5.4,4.8 0 1,0 -10.9,0M1188.1,679.8a4.4,3.8 0 1,0 8.7,0a4.4,3.8 0 1,0 -8.7,0M1189.2,679.8a3.3,2.9 0 1,0 6.5,0a3.3,2.9 0 1,0 -6.5,0M1190.3,679.8a2.2,1.9 0 1,0 4.4,0a2.2,1.9 0 1,0 -4.4,0M1197.5,670.8a4.9,7.0 0 1,0 9.8,0a4.9,7.0 0 1,0 -9.8,0M1198.5,670.8a3.9,5.6 0 1,0 7.8,0a3.9,5.6 0 1,0 -7.8,0M1199.4,670.8a2.9,4.2 0 1,0 5.9,0a2.9,4.2 0 1,0 -5.9,0M1200.4,670.8a2.0,2.8 0 1,0 3.9,0a2.0,2.8 0 1,0 -3.9,0M1178.0,688.1a4.6,4.1 0 1,0 9.2,0a4.6,4.1 0 1,0 -9.2,0M1178.9,688.1a3.7,3.2 0 1,0 7.3,0a3.7,3.2 0 1,0 -7.3,0M1179.8,688.1a2.7,2.4 0 1,0 5.5,0a2.7,2.4 0 1,0 -5.5,0M1180.7,688.1a1.8,1.6 0 1,0 3.7,0a1.8,1.6 0 1,0 -3.7,0M1205.5,671.8a3.0,4.2 0 1,0 6.1,0a3.0,4.2 0 1,0 -6.1,0M1206.1,671.8a2.4,3.4 0 1,0 4.9,0a2.4,3.4 0 1,0 -4.9,0M1206.7,671.8a1.8,2.5 0 1,0 3.7,0a1.8,2.5 0 1,0 -3.7,0M1207.3,671.8a1.2,1.7 0 1,0 2.4,0a1.2,1.7 0 1,0 -2.4,0M1181.4,693.1a3.6,4.5 0 1,0 7.1,0a3.6,4.5 0 1,0 -7.1,0M1182.1,693.1a2.9,3.6 0 1,0 5.7,0a2.9,3.6 0 1,0 -5.7,0M1182.8,693.1a2.1,2.7 0 1,0 4.3,0a2.1,2.7 0 1,0 -4.3,0M1183.5,693.1a1.4,1.8 0 1,0 2.9,0a1.4,1.8 0 1,0 -2.9,0M1195.3,689.9a2.9,6.0 0 1,0 5.8,0a2.9,6.0 0 1,0 -5.8,0M1195.9,689.9a2.3,4.8 0 1,0 4.6,0a2.3,4.8 0 1,0 -4.6,0M1196.5,689.9a1.7,3.6 0 1,0 3.5,0a1.7,3.6 0 1,0 -3.5,0M1197.1,689.9a1.2,2.4 0 1,0 2.3,0a1.2,2.4 0 1,0 -2.3,0M1188.0,674.0a2.8,5.1 0 1,0 5.6,0a2.8,5.1 0 1,0 -5.6,0M1188.5,674.0a2.2,4.1 0 1,0 4.4,0a2.2,4.1 0 1,0 -4.4,0M1189.1,674.0a1.7,3.1 0 1,0 3.3,0a1.7,3.1 0 1,0 -3.3,0M1189.6,674.0a1.1,2.0 0 1,0 2.2,0a1.1,2.0 0 1,0 -2.2,0M1195.6,691.7a4.9,4.1 0 1,0 9.7,0a4.9,4.1 0 1,0 -9.7,0M1196.5,691.7a3.9,3.3 0 1,0 7.8,0a3.9,3.3 0 1,0 -7.8,0M1197.5,691.7a2.9,2.5 0 1,0 5.8,0a2.9,2.5 0 1,0 -5.8,0M1198.5,691.7a1.9,1.6 0 1,0 3.9,0a1.9,1.6 0 1,0 -3.9,0M1190.4,662.6a3.9,4.2 0 1,0 7.8,0a3.9,4.2 0 1,0 -7.8,0M1191.2,662.6a3.1,3.4 0 1,0 6.2,0a3.1,3.4 0 1,0 -6.2,0M1192.0,662.6a2.3,2.5 0 1,0 4.7,0a2.3,2.5 0 1,0 -4.7,0M1192.7,662.6a1.6,1.7 0 1,0 3.1,0a1.6,1.7 0 1,0 -3.1,0M1199.9,681.6a2.8,6.8 0 1,0 5.6,0a2.8,6.8 0 1,0 -5.6,0M1200.5,681.6a2.2,5.5 0 1,0 4.5,0a2.2,5.5 0 1,0 -4.5,0M1201.0,681.6a1.7,4.1 0 1,0 3.3,0a1.7,4.1 0 1,0 -3.3,0M1201.6,681.6a1.1,2.7 0 1,0 2.2,0a1.1,2.7 0 1,0 -2.2,0M1199.3,651.7a3.5,5.2 0 1,0 6.9,0a3.5,5.2 0 1,0 -6.9,0M1200.0,651.7a2.8,4.2 0 1,0 5.5,0a2.8,4.2 0 1,0 -5.5,0M1200.7,651.7a2.1,3.1 0 1,0 4.1,0a2.1,3.1 0 1,0 -4.1,0M1201.4,651.7a1.4,2.1 0 1,0 2.8,0a1.4,2.1 0 1,0 -2.8,0M1202.3,670.1a3.9,5.5 0 1,0 7.8,0a3.9,5.5 0 1,0 -7.8,0M1203.1,670.1a3.1,4.4 0 1,0 6.2,0a3.1,4.4 0 1,0 -6.2,0M1203.9,670.1a2.3,3.3 0 1,0 4.7,0a2.3,3.3 0 1,0 -4.7,0M1204.7,670.1a1.6,2.2 0 1,0 3.1,0a1.6,2.2 0 1,0 -3.1,0M1046.1,807.9a2.8,6.1 0 1,0 5.6,0a2.8,6.1 0 1,0 -5.6,0M1046.6,807.9a2.2,4.9 0 1,0 4.5,0a2.2,4.9 0 1,0 -4.5,0M1047.2,807.9a1.7,3.7 0 1,0 3.4,0a1.7,3.7 0 1,0 -3.4,0M1047.8,807.9a1.1,2.4 0 1,0 2.2,0a1.1,2.4 0 1,0 -2.2,0M1048.0,823.6a4.7,4.4 0 1,0 9.5,0a4.7,4.4 0 1,0 -9.5,0M1048.9,823.6a3.8,3.5 0 1,0 7.6,0a3.8,3.5 0 1,0 -7.6,0M1049.9,823.6a2.8,2.6 0 1,0 5.7,0a2.8,2.6 0 1,0 -5.7,0M1050.8,823.6a1.9,1.8 0 1,0 3.8,0a1.9,1.8 0 1,0 -3.8,0M1075.6,819.9a3.1,5.1 0 1,0 6.2,0a3.1,5.1 0 1,0 -6.2,0M1076.2,819.9a2.5,4.1 0 1,0 4.9,0a2.5,4.1 0 1,0 -4.9,0M1076.8,819.9a1.8,3.0 0 1,0 3.7,0a1.8,3.0 0 1,0 -3.7,0M1077.5,819.9a1.2,2.0 0 1,0 2.5,0a1.2,2.0 0 1,0 -2.5,0M1074.6,826.5a2.7,5.5 0 1,0 5.4,0a2.7,5.5 0 1,0 -5.4,0M1075.1,826.5a2.2,4.4 0 1,0 4.3,0a2.2,4.4 0 1,0 -4.3,0M1075.7,826.5a1.6,3.3 0 1,0 3.2,0a1.6,3.3 0 1,0 -3.2,0M1076.2,826.5a1.1,2.2 0 1,0 2.2,0a1.1,2.2 0 1,0 -2.2,0M1017.6,821.4a4.6,7.0 0 1,0 9.2,0a4.6,7.0 0 1,0 -9.2,0M1018.5,821.4a3.7,5.6 0 1,0 7.4,0a3.7,5.6 0 1,0 -7.4,0M1019.5,821.4a2.8,4.2 0 1,0 5.5,0a2.8,4.2 0 1,0 -5.5,0M1020.4,821.4a1.8,2.8 0 1,0 3.7,0a1.8,2.8 0 1,0 -3.7,0M1065.8,836.1a3.8,4.8 0 1,0 7.6,0a3.8,4.8 0 1,0 -7.6,0M1066.6,836.1a3.0,3.8 0 1,0 6.1,0a3.0,3.8 0 1,0 -6.1,0M1067.3,836.1a2.3,2.9 0 1,0 4.5,0a2.3,2.9 0 1,0 -4.5,0M1068.1,836.1a1.5,1.9 0 1,0 3.0,0a1.5,1.9 0 1,0 -3.0,0M1051.8,824.4a4.7,4.3 0 1,0 9.4,0a4.7,4.3 0 1,0 -9.4,0M1052.8,824.4a3.8,3.5 0 1,0 7.5,0a3.8,3.5 0 1,0 -7.5,0M1053.7,824.4a2.8,2.6 0 1,0 5.6,0a2.8,2.6 0 1,0 -5.6,0M1054.6,824.4a1.9,1.7 0 1,0 3.8,0a1.9,1.7 0 1,0 -3.8,0M1034.5,805.2a5.0,5.5 0 1,0 10.0,0a5.0,5.5 0 1,0 -10.0,0M1035.5,805.2a4.0,4.4 0 1,0 8.0,0a4.0,4.4 0 1,0 -8.0,0M1036.5,805.2a3.0,3.3 0 1,0 6.0,0a3.0,3.3 0 1,0 -6.0,0M1037.5,805.2a2.0,2.2 0 1,0 4.0,0a2.0,2.2 0 1,0 -4.0,0M1037.6,834.2a4.1,4.8 0 1,0 8.2,0a4.1,4.8 0 1,0 -8.2,0M1038.4,834.2a3.3,3.8 0 1,0 6.6,0a3.3,3.8 0 1,0 -6.6,0M1039.2,834.2a2.5,2.9 0 1,0 4.9,0a2.5,2.9 0 1,0 -4.9,0M1040.1,834.2a1.6,1.9 0 1,0 3.3,0a1.6,1.9 0 1,0 -3.3,0M1014.3,811.5a3.7,3.9 0 1,0 7.4,0a3.7,3.9 0 1,0 -7.4,0M1015.1,811.5a3.0,3.1 0 1,0 6.0,0a3.0,3.1 0 1,0 -6.0,0M1015.8,811.5a2.2,2.3 0 1,0 4.5,0a2.2,2.3 0 1,0 -4.5,0M1016.6,811.5a1.5,1.5 0 1,0 3.0,0a1.5,1.5 0 1,0 -3.0,0M1059.7,827.7a4.7,6.1 0 1,0 9.3,0a4.7,6.1 0 1,0 -9.3,0M1060.6,827.7a3.7,4.9 0 1,0 7.4,0a3.7,4.9 0 1,0 -7.4,0M1061.6,827.7a2.8,3.6 0 1,0 5.6,0a2.8,3.6 0 1,0 -5.6,0M1062.5,827.7a1.9,2.4 0 1,0 3.7,0a1.9,2.4 0 1,0 -3.7,0M1027.5,838.5a2.7,6.0 0 1,0 5.5,0a2.7,6.0 0 1,0 -5.5,0M1028.1,838.5a2.2,4.8 0 1,0 4.4,0a2.2,4.8 0 1,0 -4.4,0M1028.6,838.5a1.6,3.6 0 1,0 3.3,0a1.6,3.6 0 1,0 -3.3,0M1029.1,838.5a1.1,2.4 0 1,0 2.2,0a1.1,2.4 0 1,0 -2.2,0M1057.9,808.0a2.7,3.9 0 1,0 5.5,0a2.7,3.9 0 1,0 -5.5,0M1058.4,808.0a2.2,3.1 0 1,0 4.4,0a2.2,3.1 0 1,0 -4.4,0M1059.0,808.0a1.6,2.3 0 1,0 3.3,0a1.6,2.3 0 1,0 -3.3,0M1059.5,808.0a1.1,1.6 0 1,0 2.2,0a1.1,1.6 0 1,0 -2.2,0M1011.2,824.9a4.4,6.3 0 1,0 8.8,0a4.4,6.3 0 1,0 -8.8,0M1012.0,824.9a3.5,5.0 0 1,0 7.0,0a3.5,5.0 0 1,0 -7.0,0M1012.9,824.9a2.6,3.8 0 1,0 5.3,0a2.6,3.8 0 1,0 -5.3,0M1013.8,824.9a1.8,2.5 0 1,0 3.5,0a1.8,2.5 0 1,0 -3.5,0M1006.4,826.8a5.3,6.7 0 1,0 10.5,0a5.3,6.7 0 1,0 -10.5,0M1007.4,826.8a4.2,5.4 0 1,0 8.4,0a4.2,5.4 0 1,0 -8.4,0M1008.5,826.8a3.2,4.0 0 1,0 6.3,0a3.2,4.0 0 1,0 -6.3,0M1009.5,826.8a2.1,2.7 0 1,0 4.2,0a2.1,2.7 0 1,0 -4.2,0M1044.4,846.3a2.9,6.4 0 1,0 5.7,0a2.9,6.4 0 1,0 -5.7,0M1045.0,846.3a2.3,5.2 0 1,0 4.6,0a2.3,5.2 0 1,0 -4.6,0M1045.6,846.3a1.7,3.9 0 1,0 3.4,0a1.7,3.9 0 1,0 -3.4,0M1046.1,846.3a1.1,2.6 0 1,0 2.3,0a1.1,2.6 0 1,0 -2.3,0M1057.2,832.0a3.8,4.6 0 1,0 7.6,0a3.8,4.6 0 1,0 -7.6,0M1058.0,832.0a3.0,3.7 0 1,0 6.0,0a3.0,3.7 0 1,0 -6.0,0M1058.7,832.0a2.3,2.7 0 1,0 4.5,0a2.3,2.7 0 1,0 -4.5,0M1059.5,832.0a1.5,1.8 0 1,0 3.0,0a1.5,1.8 0 1,0 -3.0,0M1045.5,846.3a4.7,5.9 0 1,0 9.4,0a4.7,5.9 0 1,0 -9.4,0M1046.5,846.3a3.8,4.7 0 1,0 7.5,0a3.8,4.7 0 1,0 -7.5,0M1047.4,846.3a2.8,3.5 0 1,0 5.6,0a2.8,3.5 0 1,0 -5.6,0M1048.4,846.3a1.9,2.4 0 1,0 3.8,0a1.9,2.4 0 1,0 -3.8,0M1040.0,842.2a4.7,6.0 0 1,0 9.3,0a4.7,6.0 0 1,0 -9.3,0M1040.9,842.2a3.7,4.8 0 1,0 7.5,0a3.7,4.8 0 1,0 -7.5,0M1041.8,842.2a2.8,3.6 0 1,0 5.6,0a2.8,3.6 0 1,0 -5.6,0M1042.8,842.2a1.9,2.4 0 1,0 3.7,0a1.9,2.4 0 1,0 -3.7,0M1013.4,819.1a2.5,6.7 0 1,0 5.1,0a2.5,6.7 0 1,0 -5.1,0M1013.9,819.1a2.0,5.4 0 1,0 4.0,0a2.0,5.4 0 1,0 -4.0,0M1014.4,819.1a1.5,4.0 0 1,0 3.0,0a1.5,4.0 0 1,0 -3.0,0M1014.9,819.1a1.0,2.7 0 1,0 2.0,0a1.0,2.7 0 1,0 -2.0,0M1032.9,813.7a3.0,3.8 0 1,0 6.0,0a3.0,3.8 0 1,0 -6.0,0M1033.5,813.7a2.4,3.0 0 1,0 4.8,0a2.4,3.0 0 1,0 -4.8,0M1034.1,813.7a1.8,2.3 0 1,0 3.6,0a1.8,2.3 0 1,0 -3.6,0M1034.7,813.7a1.2,1.5 0 1,0 2.4,0a1.2,1.5 0 1,0 -2.4,0M1030.4,842.2a3.7,4.0 0 1,0 7.3,0a3.7,4.0 0 1,0 -7.3,0M1031.1,842.2a2.9,3.2 0 1,0 5.9,0a2.9,3.2 0 1,0 -5.9,0M1031.8,842.2a2.2,2.4 0 1,0 4.4,0a2.2,2.4 0 1,0 -4.4,0M1032.6,842.2a1.5,1.6 0 1,0 2.9,0a1.5,1.6 0 1,0 -2.9,0M1054.9,822.4a2.7,7.0 0 1,0 5.4,0a2.7,7.0 0 1,0 -5.4,0M1055.4,822.4a2.1,5.6 0 1,0 4.3,0a2.1,5.6 0 1,0 -4.3,0M1056.0,822.4a1.6,4.2 0 1,0 3.2,0a1.6,4.2 0 1,0 -3.2,0M1056.5,822.4a1.1,2.8 0 1,0 2.1,0a1.1,2.8 0 1,0 -2.1,0M1015.6,831.5a4.1,6.0 0 1,0 8.2,0a4.1,6.0 0 1,0 -8.2,0M1016.4,831.5a3.3,4.8 0 1,0 6.6,0a3.3,4.8 0 1,0 -6.6,0M1017.3,831.5a2.5,3.6 0 1,0 4.9,0a2.5,3.6 0 1,0 -4.9,0M1018.1,831.5a1.6,2.4 0 1,0 3.3,0a1.6,2.4 0 1,0 -3.3,0M1019.1,830.7a4.5,4.4 0 1,0 9.1,0a4.5,4.4 0 1,0 -9.1,0M1020.0,830.7a3.6,3.5 0 1,0 7.3,0a3.6,3.5 0 1,0 -7.3,0M1020.9,830.7a2.7,2.6 0 1,0 5.5,0a2.7,2.6 0 1,0 -5.5,0M1021.8,830.7a1.8,1.7 0 1,0 3.6,0a1.8,1.7 0 1,0 -3.6,0M1009.3,823.8a5.2,6.0 0 1,0 10.4,0a5.2,6.0 0 1,0 -10.4,0M1010.3,823.8a4.2,4.8 0 1,0 8.4,0a4.2,4.8 0 1,0 -8.4,0M1011.4,823.8a3.1,3.6 0 1,0 6.3,0a3.1,3.6 0 1,0 -6.3,0M1012.4,823.8a2.1,2.4 0 1,0 4.2,0a2.1,2.4 0 1,0 -4.2,0M1039.6,815.1a4.5,6.6 0 1,0 9.0,0a4.5,6.6 0 1,0 -9.0,0M1040.5,815.1a3.6,5.3 0 1,0 7.2,0a3.6,5.3 0 1,0 -7.2,0M1041.4,815.1a2.7,4.0 0 1,0 5.4,0a2.7,4.0 0 1,0 -5.4,0M1042.3,815.1a1.8,2.6 0 1,0 3.6,0a1.8,2.6 0 1,0 -3.6,0M1049.0,810.7a5.4,3.7 0 1,0 10.8,0a5.4,3.7 0 1,0 -10.8,0M1050.1,810.7a4.3,2.9 0 1,0 8.6,0a4.3,2.9 0 1,0 -8.6,0M1051.2,810.7a3.2,2.2 0 1,0 6.5,0a3.2,2.2 0 1,0 -6.5,0M1052.3,810.7a2.2,1.5 0 1,0 4.3,0a2.2,1.5 0 1,0 -4.3,0M1062.8,818.8a4.1,4.5 0 1,0 8.1,0a4.1,4.5 0 1,0 -8.1,0M1063.6,818.8a3.2,3.6 0 1,0 6.5,0a3.2,3.6 0 1,0 -6.5,0M1064.4,818.8a2.4,2.7 0 1,0 4.9,0a2.4,2.7 0 1,0 -4.9,0M1065.3,818.8a1.6,1.8 0 1,0 3.2,0a1.6,1.8 0 1,0 -3.2,0M1027.6,824.5a4.4,4.5 0 1,0 8.9,0a4.4,4.5 0 1,0 -8.9,0M1028.4,824.5a3.5,3.6 0 1,0 7.1,0a3.5,3.6 0 1,0 -7.1,0M1029.3,824.5a2.7,2.7 0 1,0 5.3,0a2.7,2.7 0 1,0 -5.3,0M1030.2,824.5a1.8,1.8 0 1,0 3.5,0a1.8,1.8 0 1,0 -3.5,0M1066.9,838.4a4.1,6.8 0 1,0 8.2,0a4.1,6.8 0 1,0 -8.2,0M1067.7,838.4a3.3,5.5 0 1,0 6.5,0a3.3,5.5 0 1,0 -6.5,0M1068.5,838.4a2.4,4.1 0 1,0 4.9,0a2.4,4.1 0 1,0 -4.9,0M1069.3,838.4a1.6,2.7 0 1,0 3.3,0a1.6,2.7 0 1,0 -3.3,0M1032.1,835.1a3.5,4.7 0 1,0 7.1,0a3.5,4.7 0 1,0 -7.1,0M1032.8,835.1a2.8,3.8 0 1,0 5.7,0a2.8,3.8 0 1,0 -5.7,0M1033.5,835.1a2.1,2.8 0 1,0 4.2,0a2.1,2.8 0 1,0 -4.2,0M1034.2,835.1a1.4,1.9 0 1,0 2.8,0a1.4,1.9 0 1,0 -2.8,0M1056.6,834.1a2.7,6.9 0 1,0 5.3,0a2.7,6.9 0 1,0 -5.3,0M1057.2,834.1a2.1,5.6 0 1,0 4.3,0a2.1,5.6 0 1,0 -4.3,0M1057.7,834.1a1.6,4.2 0 1,0 3.2,0a1.6,4.2 0 1,0 -3.2,0M1058.2,834.1a1.1,2.8 0 1,0 2.1,0a1.1,2.8 0 1,0 -2.1,0M1060.4,835.0a3.1,3.7 0 1,0 6.3,0a3.1,3.7 0 1,0 -6.3,0M1061.1,835.0a2.5,3.0 0 1,0 5.0,0a2.5,3.0 0 1,0 -5.0,0M1061.7,835.0a1.9,2.2 0 1,0 3.8,0a1.9,2.2 0 1,0 -3.8,0M1062.3,835.0a1.3,1.5 0 1,0 2.5,0a1.3,1.5 0 1,0 -2.5,0M1019.8,828.5a2.9,6.3 0 1,0 5.9,0a2.9,6.3 0 1,0 -5.9,0M1020.4,828.5a2.4,5.0 0 1,0 4.7,0a2.4,5.0 0 1,0 -4.7,0M1021.0,828.5a1.8,3.8 0 1,0 3.5,0a1.8,3.8 0 1,0 -3.5,0M1021.6,828.5a1.2,2.5 0 1,0 2.4,0a1.2,2.5 0 1,0 -2.4,0M1037.5,837.5a3.4,3.6 0 1,0 6.8,0a3.4,3.6 0 1,0 -6.8,0M1038.2,837.5a2.7,2.8 0 1,0 5.4,0a2.7,2.8 0 1,0 -5.4,0M1038.9,837.5a2.0,2.1 0 1,0 4.1,0a2.0,2.1 0 1,0 -4.1,0M1039.5,837.5a1.4,1.4 0 1,0 2.7,0a1.4,1.4 0 1,0 -2.7,0M1016.7,818.0a3.9,4.3 0 1,0 7.8,0a3.9,4.3 0 1,0 -7.8,0M1017.5,818.0a3.1,3.5 0 1,0 6.3,0a3.1,3.5 0 1,0 -6.3,0M1018.3,818.0a2.4,2.6 0 1,0 4.7,0a2.4,2.6 0 1,0 -4.7,0M1019.1,818.0a1.6,1.7 0 1,0 3.1,0a1.6,1.7 0 1,0 -3.1,0M1071.5,815.3a2.5,6.4 0 1,0 5.1,0a2.5,6.4 0 1,0 -5.1,0M1072.0,815.3a2.0,5.1 0 1,0 4.1,0a2.0,5.1 0 1,0 -4.1,0M1072.5,815.3a1.5,3.9 0 1,0 3.1,0a1.5,3.9 0 1,0 -3.1,0M1073.0,815.3a1.0,2.6 0 1,0 2.0,0a1.0,2.6 0 1,0 -2.0,0M1168.4,790.5a4.6,6.2 0 1,0 9.1,0a4.6,6.2 0 1,0 -9.1,0M1169.3,790.5a3.7,4.9 0 1,0 7.3,0a3.7,4.9 0 1,0 -7.3,0M1170.2,790.5a2.7,3.7 0 1,0 5.5,0a2.7,3.7 0 1,0 -5.5,0M1171.1,790.5a1.8,2.5 0 1,0 3.7,0a1.8,2.5 0 1,0 -3.7,0M1155.1,786.1a2.8,6.0 0 1,0 5.5,0a2.8,6.0 0 1,0 -5.5,0M1155.6,786.1a2.2,4.8 0 1,0 4.4,0a2.2,4.8 0 1,0 -4.4,0M1156.2,786.1a1.7,3.6 0 1,0 3.3,0a1.7,3.6 0 1,0 -3.3,0M1156.8,786.1a1.1,2.4 0 1,0 2.2,0a1.1,2.4 0 1,0 -2.2,0M1111.0,792.8a5.4,5.7 0 1,0 10.7,0a5.4,5.7 0 1,0 -10.7,0M1112.1,792.8a4.3,4.5 0 1,0 8.6,0a4.3,4.5 0 1,0 -8.6,0M1113.2,792.8a3.2,3.4 0 1,0 6.4,0a3.2,3.4 0 1,0 -6.4,0M1114.2,792.8a2.1,2.3 0 1,0 4.3,0a2.1,2.3 0 1,0 -4.3,0M1137.6,788.7a4.3,3.9 0 1,0 8.7,0a4.3,3.9 0 1,0 -8.7,0M1138.5,788.7a3.5,3.1 0 1,0 6.9,0a3.5,3.1 0 1,0 -6.9,0M1139.3,788.7a2.6,2.3 0 1,0 5.2,0a2.6,2.3 0 1,0 -5.2,0M1140.2,788.7a1.7,1.6 0 1,0 3.5,0a1.7,1.6 0 1,0 -3.5,0M1113.8,796.1a4.2,7.0 0 1,0 8.5,0a4.2,7.0 0 1,0 -8.5,0M1114.6,796.1a3.4,5.6 0 1,0 6.8,0a3.4,5.6 0 1,0 -6.8,0M1115.5,796.1a2.5,4.2 0 1,0 5.1,0a2.5,4.2 0 1,0 -5.1,0M1116.3,796.1a1.7,2.8 0 1,0 3.4,0a1.7,2.8 0 1,0 -3.4,0M1085.5,790.9a3.9,5.4 0 1,0 7.9,0a3.9,5.4 0 1,0 -7.9,0M1086.3,790.9a3.2,4.3 0 1,0 6.3,0a3.2,4.3 0 1,0 -6.3,0M1087.1,790.9a2.4,3.2 0 1,0 4.7,0a2.4,3.2 0 1,0 -4.7,0M1087.9,790.9a1.6,2.1 0 1,0 3.2,0a1.6,2.1 0 1,0 -3.2,0M1155.3,795.2a2.5,5.1 0 1,0 5.0,0a2.5,5.1 0 1,0 -5.0,0M1155.8,795.2a2.0,4.1 0 1,0 4.0,0a2.0,4.1 0 1,0 -4.0,0M1156.3,795.2a1.5,3.0 0 1,0 3.0,0a1.5,3.0 0 1,0 -3.0,0M1156.8,795.2a1.0,2.0 0 1,0 2.0,0a1.0,2.0 0 1,0 -2.0,0M1153.2,790.2a4.2,4.2 0 1,0 8.3,0a4.2,4.2 0 1,0 -8.3,0M1154.0,790.2a3.3,3.4 0 1,0 6.7,0a3.3,3.4 0 1,0 -6.7,0M1154.8,790.2a2.5,2.5 0 1,0 5.0,0a2.5,2.5 0 1,0 -5.0,0M1155.6,790.2a1.7,1.7 0 1,0 3.3,0a1.7,1.7 0 1,0 -3.3,0M1160.5,788.4a3.1,6.0 0 1,0 6.2,0a3.1,6.0 0 1,0 -6.2,0M1161.1,788.4a2.5,4.8 0 1,0 5.0,0a2.5,4.8 0 1,0 -5.0,0M1161.8,788.4a1.9,3.6 0 1,0 3.7,0a1.9,3.6 0 1,0 -3.7,0M1162.4,788.4a1.2,2.4 0 1,0 2.5,0a1.2,2.4 0 1,0 -2.5,0M1133.2,788.5a4.2,6.2 0 1,0 8.5,0a4.2,6.2 0 1,0 -8.5,0M1134.0,788.5a3.4,4.9 0 1,0 6.8,0a3.4,4.9 0 1,0 -6.8,0M1134.9,788.5a2.5,3.7 0 1,0 5.1,0a2.5,3.7 0 1,0 -5.1,0M1135.7,788.5a1.7,2.5 0 1,0 3.4,0a1.7,2.5 0 1,0 -3.4,0M1115.0,785.6a5.4,6.9 0 1,0 10.7,0a5.4,6.9 0 1,0 -10.7,0M1116.0,785.6a4.3,5.5 0 1,0 8.6,0a4.3,5.5 0 1,0 -8.6,0M1117.1,785.6a3.2,4.2 0 1,0 6.4,0a3.2,4.2 0 1,0 -6.4,0M1118.2,785.6a2.1,2.8 0 1,0 4.3,0a2.1,2.8 0 1,0 -4.3,0M1153.4,795.9a4.7,7.0 0 1,0 9.4,0a4.7,7.0 0 1,0 -9.4,0M1154.3,795.9a3.8,5.6 0 1,0 7.6,0a3.8,5.6 0 1,0 -7.6,0M1155.3,795.9a2.8,4.2 0 1,0 5.7,0a2.8,4.2 0 1,0 -5.7,0M1156.2,795.9a1.9,2.8 0 1,0 3.8,0a1.9,2.8 0 1,0 -3.8,0M1125.8,797.5a3.8,6.4 0 1,0 7.6,0a3.8,6.4 0 1,0 -7.6,0M1126.5,797.5a3.0,5.1 0 1,0 6.1,0a3.0,5.1 0 1,0 -6.1,0M1127.3,797.5a2.3,3.8 0 1,0 4.6,0a2.3,3.8 0 1,0 -4.6,0M1128.0,797.5a1.5,2.6 0 1,0 3.0,0a1.5,2.6 0 1,0 -3.0,0M1144.9,794.2a5.0,3.7 0 1,0 10.0,0a5.0,3.7 0 1,0 -10.0,0M1145.9,794.2a4.0,3.0 0 1,0 8.0,0a4.0,3.0 0 1,0 -8.0,0M1146.9,794.2a3.0,2.2 0 1,0 6.0,0a3.0,2.2 0 1,0 -6.0,0M1147.9,794.2a2.0,1.5 0 1,0 4.0,0a2.0,1.5 0 1,0 -4.0,0M1148.0,782.8a3.9,5.2 0 1,0 7.8,0a3.9,5.2 0 1,0 -7.8,0M1148.8,782.8a3.1,4.2 0 1,0 6.3,0a3.1,4.2 0 1,0 -6.3,0M1149.6,782.8a2.3,3.1 0 1,0 4.7,0a2.3,3.1 0 1,0 -4.7,0M1150.4,782.8a1.6,2.1 0 1,0 3.1,0a1.6,2.1 0 1,0 -3.1,0M1125.9,792.0a4.3,5.9 0 1,0 8.6,0a4.3,5.9 0 1,0 -8.6,0M1126.8,792.0a3.4,4.7 0 1,0 6.9,0a3.4,4.7 0 1,0 -6.9,0M1127.7,792.0a2.6,3.5 0 1,0 5.2,0a2.6,3.5 0 1,0 -5.2,0M1128.5,792.0a1.7,2.4 0 1,0 3.4,0a1.7,2.4 0 1,0 -3.4,0M1152.8,794.0a3.2,4.1 0 1,0 6.4,0a3.2,4.1 0 1,0 -6.4,0M1153.4,794.0a2.5,3.2 0 1,0 5.1,0a2.5,3.2 0 1,0 -5.1,0M1154.1,794.0a1.9,2.4 0 1,0 3.8,0a1.9,2.4 0 1,0 -3.8,0M1154.7,794.0a1.3,1.6 0 1,0 2.5,0a1.3,1.6 0 1,0 -2.5,0M1148.7,786.3a2.8,4.8 0 1,0 5.7,0a2.8,4.8 0 1,0 -5.7,0M1149.2,786.3a2.3,3.9 0 1,0 4.5,0a2.3,3.9 0 1,0 -4.5,0M1149.8,786.3a1.7,2.9 0 1,0 3.4,0a1.7,2.9 0 1,0 -3.4,0M1150.4,786.3a1.1,1.9 0 1,0 2.3,0a1.1,1.9 0 1,0 -2.3,0M1157.8,788.7a4.7,6.6 0 1,0 9.5,0a4.7,6.6 0 1,0 -9.5,0M1158.7,788.7a3.8,5.3 0 1,0 7.6,0a3.8,5.3 0 1,0 -7.6,0M1159.7,788.7a2.8,4.0 0 1,0 5.7,0a2.8,4.0 0 1,0 -5.7,0M1160.6,788.7a1.9,2.6 0 1,0 3.8,0a1.9,2.6 0 1,0 -3.8,0M991.7,818.4a3.6,5.0 0 1,0 7.1,0a3.6,5.0 0 1,0 -7.1,0M992.5,818.4a2.9,4.0 0 1,0 5.7,0a2.9,4.0 0 1,0 -5.7,0M993.2,818.4a2.1,3.0 0 1,0 4.3,0a2.1,3.0 0 1,0 -4.3,0M993.9,818.4a1.4,2.0 0 1,0 2.9,0a1.4,2.0 0 1,0 -2.9,0M1000.3,816.2a4.0,7.0 0 1,0 7.9,0a4.0,7.0 0 1,0 -7.9,0M1001.1,816.2a3.2,5.6 0 1,0 6.3,0a3.2,5.6 0 1,0 -6.3,0M1001.9,816.2a2.4,4.2 0 1,0 4.8,0a2.4,4.2 0 1,0 -4.8,0M1002.7,816.2a1.6,2.8 0 1,0 3.2,0a1.6,2.8 0 1,0 -3.2,0M1004.2,819.9a2.6,4.3 0 1,0 5.2,0a2.6,4.3 0 1,0 -5.2,0M1004.7,819.9a2.1,3.5 0 1,0 4.2,0a2.1,3.5 0 1,0 -4.2,0M1005.2,819.9a1.6,2.6 0 1,0 3.1,0a1.6,2.6 0 1,0 -3.1,0M1005.7,819.9a1.0,1.7 0 1,0 2.1,0a1.0,1.7 0 1,0 -2.1,0M988.8,820.6a3.7,3.7 0 1,0 7.4,0a3.7,3.7 0 1,0 -7.4,0M989.5,820.6a3.0,2.9 0 1,0 5.9,0a3.0,2.9 0 1,0 -5.9,0M990.3,820.6a2.2,2.2 0 1,0 4.4,0a2.2,2.2 0 1,0 -4.4,0M991.0,820.6a1.5,1.5 0 1,0 3.0,0a1.5,1.5 0 1,0 -3.0,0M1002.5,826.3a3.7,6.1 0 1,0 7.4,0a3.7,6.1 0 1,0 -7.4,0M1003.3,826.3a3.0,4.9 0 1,0 5.9,0a3.0,4.9 0 1,0 -5.9,0M1004.0,826.3a2.2,3.7 0 1,0 4.4,0a2.2,3.7 0 1,0 -4.4,0M1004.8,826.3a1.5,2.4 0 1,0 3.0,0a1.5,2.4 0 1,0 -3.0,0M987.6,819.1a4.6,4.6 0 1,0 9.3,0a4.6,4.6 0 1,0 -9.3,0M988.5,819.1a3.7,3.7 0 1,0 7.4,0a3.7,3.7 0 1,0 -7.4,0M989.5,819.1a2.8,2.8 0 1,0 5.6,0a2.8,2.8 0 1,0 -5.6,0M990.4,819.1a1.9,1.9 0 1,0 3.7,0a1.9,1.9 0 1,0 -3.7,0M1084.4,715.4a5.1,5.3 0 1,0 10.2,0a5.1,5.3 0 1,0 -10.2,0M1085.4,715.4a4.1,4.3 0 1,0 8.2,0a4.1,4.3 0 1,0 -8.2,0M1086.4,715.4a3.1,3.2 0 1,0 6.1,0a3.1,3.2 0 1,0 -6.1,0M1087.4,715.4a2.0,2.1 0 1,0 4.1,0a2.0,2.1 0 1,0 -4.1,0M1080.7,718.9a3.8,5.7 0 1,0 7.6,0a3.8,5.7 0 1,0 -7.6,0M1081.5,718.9a3.0,4.6 0 1,0 6.1,0a3.0,4.6 0 1,0 -6.1,0M1082.2,718.9a2.3,3.4 0 1,0 4.6,0a2.3,3.4 0 1,0 -4.6,0M1083.0,718.9a1.5,2.3 0 1,0 3.0,0a1.5,2.3 0 1,0 -3.0,0M1034.4,715.2a3.3,6.1 0 1,0 6.6,0a3.3,6.1 0 1,0 -6.6,0M1035.1,715.2a2.6,4.8 0 1,0 5.2,0a2.6,4.8 0 1,0 -5.2,0M1035.7,715.2a2.0,3.6 0 1,0 3.9,0a2.0,3.6 0 1,0 -3.9,0M1036.4,715.2a1.3,2.4 0 1,0 2.6,0a1.3,2.4 0 1,0 -2.6,0M1047.9,701.5a4.3,6.5 0 1,0 8.6,0a4.3,6.5 0 1,0 -8.6,0M1048.7,701.5a3.4,5.2 0 1,0 6.9,0a3.4,5.2 0 1,0 -6.9,0M1049.6,701.5a2.6,3.9 0 1,0 5.2,0a2.6,3.9 0 1,0 -5.2,0M1050.4,701.5a1.7,2.6 0 1,0 3.4,0a1.7,2.6 0 1,0 -3.4,0M1051.6,725.0a4.3,3.5 0 1,0 8.7,0a4.3,3.5 0 1,0 -8.7,0M1052.5,725.0a3.5,2.8 0 1,0 6.9,0a3.5,2.8 0 1,0 -6.9,0M1053.4,725.0a2.6,2.1 0 1,0 5.2,0a2.6,2.1 0 1,0 -5.2,0M1054.2,725.0a1.7,1.4 0 1,0 3.5,0a1.7,1.4 0 1,0 -3.5,0M1047.0,707.7a4.8,5.0 0 1,0 9.7,0a4.8,5.0 0 1,0 -9.7,0M1048.0,707.7a3.9,4.0 0 1,0 7.7,0a3.9,4.0 0 1,0 -7.7,0M1048.9,707.7a2.9,3.0 0 1,0 5.8,0a2.9,3.0 0 1,0 -5.8,0M1049.9,707.7a1.9,2.0 0 1,0 3.9,0a1.9,2.0 0 1,0 -3.9,0M1064.1,705.4a4.3,7.0 0 1,0 8.7,0a4.3,7.0 0 1,0 -8.7,0M1064.9,705.4a3.5,5.6 0 1,0 6.9,0a3.5,5.6 0 1,0 -6.9,0M1065.8,705.4a2.6,4.2 0 1,0 5.2,0a2.6,4.2 0 1,0 -5.2,0M1066.7,705.4a1.7,2.8 0 1,0 3.5,0a1.7,2.8 0 1,0 -3.5,0M1060.1,700.9a4.6,6.8 0 1,0 9.2,0a4.6,6.8 0 1,0 -9.2,0M1061.0,700.9a3.7,5.4 0 1,0 7.3,0a3.7,5.4 0 1,0 -7.3,0M1061.9,700.9a2.7,4.1 0 1,0 5.5,0a2.7,4.1 0 1,0 -5.5,0M1062.8,700.9a1.8,2.7 0 1,0 3.7,0a1.8,2.7 0 1,0 -3.7,0M1063.1,715.2a4.4,4.6 0 1,0 8.9,0a4.4,4.6 0 1,0 -8.9,0M1064.0,715.2a3.5,3.7 0 1,0 7.1,0a3.5,3.7 0 1,0 -7.1,0M1064.9,715.2a2.7,2.8 0 1,0 5.3,0a2.7,2.8 0 1,0 -5.3,0M1065.7,715.2a1.8,1.8 0 1,0 3.5,0a1.8,1.8 0 1,0 -3.5,0M1072.6,702.1a4.6,6.7 0 1,0 9.3,0a4.6,6.7 0 1,0 -9.3,0M1073.6,702.1a3.7,5.4 0 1,0 7.4,0a3.7,5.4 0 1,0 -7.4,0M1074.5,702.1a2.8,4.0 0 1,0 5.6,0a2.8,4.0 0 1,0 -5.6,0M1075.4,702.1a1.9,2.7 0 1,0 3.7,0a1.9,2.7 0 1,0 -3.7,0M1059.4,702.9a3.9,4.3 0 1,0 7.8,0a3.9,4.3 0 1,0 -7.8,0M1060.2,702.9a3.1,3.4 0 1,0 6.2,0a3.1,3.4 0 1,0 -6.2,0M1061.0,702.9a2.3,2.6 0 1,0 4.7,0a2.3,2.6 0 1,0 -4.7,0M1061.8,702.9a1.6,1.7 0 1,0 3.1,0a1.6,1.7 0 1,0 -3.1,0M1065.7,712.5a3.4,5.5 0 1,0 6.7,0a3.4,5.5 0 1,0 -6.7,0M1066.4,712.5a2.7,4.4 0 1,0 5.4,0a2.7,4.4 0 1,0 -5.4,0M1067.0,712.5a2.0,3.3 0 1,0 4.0,0a2.0,3.3 0 1,0 -4.0,0M1067.7,712.5a1.3,2.2 0 1,0 2.7,0a1.3,2.2 0 1,0 -2.7,0M1058.2,720.6a4.6,5.2 0 1,0 9.3,0a4.6,5.2 0 1,0 -9.3,0M1059.1,720.6a3.7,4.2 0 1,0 7.4,0a3.7,4.2 0 1,0 -7.4,0M1060.0,720.6a2.8,3.1 0 1,0 5.6,0a2.8,3.1 0 1,0 -5.6,0M1060.9,720.6a1.9,2.1 0 1,0 3.7,0a1.9,2.1 0 1,0 -3.7,0M1059.2,716.8a2.6,6.7 0 1,0 5.2,0a2.6,6.7 0 1,0 -5.2,0M1059.7,716.8a2.1,5.3 0 1,0 4.2,0a2.1,5.3 0 1,0 -4.2,0M1060.2,716.8a1.6,4.0 0 1,0 3.1,0a1.6,4.0 0 1,0 -3.1,0M1060.8,716.8a1.0,2.7 0 1,0 2.1,0a1.0,2.7 0 1,0 -2.1,0M1046.1,718.1a3.1,6.8 0 1,0 6.2,0a3.1,6.8 0 1,0 -6.2,0M1046.7,718.1a2.5,5.4 0 1,0 5.0,0a2.5,5.4 0 1,0 -5.0,0M1047.3,718.1a1.9,4.1 0 1,0 3.7,0a1.9,4.1 0 1,0 -3.7,0M1048.0,718.1a1.2,2.7 0 1,0 2.5,0a1.2,2.7 0 1,0 -2.5,0M1044.1,701.8a3.7,6.5 0 1,0 7.5,0a3.7,6.5 0 1,0 -7.5,0M1044.9,701.8a3.0,5.2 0 1,0 6.0,0a3.0,5.2 0 1,0 -6.0,0M1045.6,701.8a2.2,3.9 0 1,0 4.5,0a2.2,3.9 0 1,0 -4.5,0M1046.4,701.8a1.5,2.6 0 1,0 3.0,0a1.5,2.6 0 1,0 -3.0,0M1055.0,720.6a3.9,4.9 0 1,0 7.8,0a3.9,4.9 0 1,0 -7.8,0M1055.8,720.6a3.1,3.9 0 1,0 6.2,0a3.1,3.9 0 1,0 -6.2,0M1056.6,720.6a2.3,2.9 0 1,0 4.7,0a2.3,2.9 0 1,0 -4.7,0M1057.4,720.6a1.6,2.0 0 1,0 3.1,0a1.6,2.0 0 1,0 -3.1,0M1053.7,721.9a4.8,6.0 0 1,0 9.5,0a4.8,6.0 0 1,0 -9.5,0M1054.7,721.9a3.8,4.8 0 1,0 7.6,0a3.8,4.8 0 1,0 -7.6,0M1055.6,721.9a2.9,3.6 0 1,0 5.7,0a2.9,3.6 0 1,0 -5.7,0M1056.6,721.9a1.9,2.4 0 1,0 3.8,0a1.9,2.4 0 1,0 -3.8,0M1072.8,718.9a4.3,5.6 0 1,0 8.7,0a4.3,5.6 0 1,0 -8.7,0M1073.7,718.9a3.5,4.5 0 1,0 6.9,0a3.5,4.5 0 1,0 -6.9,0M1074.6,718.9a2.6,3.3 0 1,0 5.2,0a2.6,3.3 0 1,0 -5.2,0M1075.4,718.9a1.7,2.2 0 1,0 3.5,0a1.7,2.2 0 1,0 -3.5,0M1053.7,699.7a5.2,5.8 0 1,0 10.4,0a5.2,5.8 0 1,0 -10.4,0M1054.7,699.7a4.1,4.6 0 1,0 8.3,0a4.1,4.6 0 1,0 -8.3,0M1055.7,699.7a3.1,3.5 0 1,0 6.2,0a3.1,3.5 0 1,0 -6.2,0M1056.8,699.7a2.1,2.3 0 1,0 4.1,0a2.1,2.3 0 1,0 -4.1,0M1033.1,712.9a4.9,4.2 0 1,0 9.9,0a4.9,4.2 0 1,0 -9.9,0M1034.1,712.9a3.9,3.4 0 1,0 7.9,0a3.9,3.4 0 1,0 -7.9,0M1035.1,712.9a3.0,2.5 0 1,0 5.9,0a3.0,2.5 0 1,0 -5.9,0M1036.1,712.9a2.0,1.7 0 1,0 3.9,0a2.0,1.7 0 1,0 -3.9,0M1044.6,710.7a2.7,4.8 0 1,0 5.3,0a2.7,4.8 0 1,0 -5.3,0M1045.2,710.7a2.1,3.8 0 1,0 4.3,0a2.1,3.8 0 1,0 -4.3,0M1045.7,710.7a1.6,2.9 0 1,0 3.2,0a1.6,2.9 0 1,0 -3.2,0M1046.2,710.7a1.1,1.9 0 1,0 2.1,0a1.1,1.9 0 1,0 -2.1,0M1084.2,720.1a3.2,6.6 0 1,0 6.5,0a3.2,6.6 0 1,0 -6.5,0M1084.8,720.1a2.6,5.3 0 1,0 5.2,0a2.6,5.3 0 1,0 -5.2,0M1085.5,720.1a1.9,4.0 0 1,0 3.9,0a1.9,4.0 0 1,0 -3.9,0M1086.1,720.1a1.3,2.7 0 1,0 2.6,0a1.3,2.7 0 1,0 -2.6,0M1044.2,701.3a4.8,5.3 0 1,0 9.5,0a4.8,5.3 0 1,0 -9.5,0M1045.1,701.3a3.8,4.2 0 1,0 7.6,0a3.8,4.2 0 1,0 -7.6,0M1046.1,701.3a2.9,3.2 0 1,0 5.7,0a2.9,3.2 0 1,0 -5.7,0M1047.1,701.3a1.9,2.1 0 1,0 3.8,0a1.9,2.1 0 1,0 -3.8,0M1038.2,714.1a4.3,6.4 0 1,0 8.7,0a4.3,6.4 0 1,0 -8.7,0M1039.1,714.1a3.5,5.1 0 1,0 6.9,0a3.5,5.1 0 1,0 -6.9,0M1039.9,714.1a2.6,3.8 0 1,0 5.2,0a2.6,3.8 0 1,0 -5.2,0M1040.8,714.1a1.7,2.6 0 1,0 3.5,0a1.7,2.6 0 1,0 -3.5,0M1107.9,670.7a3.3,4.4 0 1,0 6.5,0a3.3,4.4 0 1,0 -6.5,0M1108.6,670.7a2.6,3.5 0 1,0 5.2,0a2.6,3.5 0 1,0 -5.2,0M1109.2,670.7a2.0,2.6 0 1,0 3.9,0a2.0,2.6 0 1,0 -3.9,0M1109.9,670.7a1.3,1.7 0 1,0 2.6,0a1.3,1.7 0 1,0 -2.6,0M1112.9,654.2a4.4,6.1 0 1,0 8.9,0a4.4,6.1 0 1,0 -8.9,0M1113.8,654.2a3.6,4.9 0 1,0 7.1,0a3.6,4.9 0 1,0 -7.1,0M1114.7,654.2a2.7,3.6 0 1,0 5.3,0a2.7,3.6 0 1,0 -5.3,0M1115.6,654.2a1.8,2.4 0 1,0 3.6,0a1.8,2.4 0 1,0 -3.6,0M1122.3,657.9a2.6,6.5 0 1,0 5.3,0a2.6,6.5 0 1,0 -5.3,0M1122.8,657.9a2.1,5.2 0 1,0 4.2,0a2.1,5.2 0 1,0 -4.2,0M1123.4,657.9a1.6,3.9 0 1,0 3.2,0a1.6,3.9 0 1,0 -3.2,0M1123.9,657.9a1.1,2.6 0 1,0 2.1,0a1.1,2.6 0 1,0 -2.1,0M1115.7,670.6a3.7,3.7 0 1,0 7.3,0a3.7,3.7 0 1,0 -7.3,0M1116.4,670.6a2.9,3.0 0 1,0 5.9,0a2.9,3.0 0 1,0 -5.9,0M1117.1,670.6a2.2,2.2 0 1,0 4.4,0a2.2,2.2 0 1,0 -4.4,0M1117.9,670.6a1.5,1.5 0 1,0 2.9,0a1.5,1.5 0 1,0 -2.9,0M1127.0,660.2a3.0,5.3 0 1,0 6.1,0a3.0,5.3 0 1,0 -6.1,0M1127.6,660.2a2.4,4.2 0 1,0 4.8,0a2.4,4.2 0 1,0 -4.8,0M1128.2,660.2a1.8,3.2 0 1,0 3.6,0a1.8,3.2 0 1,0 -3.6,0M1128.8,660.2a1.2,2.1 0 1,0 2.4,0a1.2,2.1 0 1,0 -2.4,0M1113.1,670.9a5.3,5.9 0 1,0 10.6,0a5.3,5.9 0 1,0 -10.6,0M1114.2,670.9a4.3,4.8 0 1,0 8.5,0a4.3,4.8 0 1,0 -8.5,0M1115.2,670.9a3.2,3.6 0 1,0 6.4,0a3.2,3.6 0 1,0 -6.4,0M1116.3,670.9a2.1,2.4 0 1,0 4.3,0a2.1,2.4 0 1,0 -4.3,0M1121.3,662.9a4.0,6.2 0 1,0 8.0,0a4.0,6.2 0 1,0 -8.0,0M1122.1,662.9a3.2,5.0 0 1,0 6.4,0a3.2,5.0 0 1,0 -6.4,0M1122.9,662.9a2.4,3.7 0 1,0 4.8,0a2.4,3.7 0 1,0 -4.8,0M1123.7,662.9a1.6,2.5 0 1,0 3.2,0a1.6,2.5 0 1,0 -3.2,0M1053.8,602.8a2.0,2.5 0 1,0 4.0,0a2.0,2.5 0 1,0 -4.0,0M1054.7,602.8a1.1,1.4 0 1,0 2.2,0a1.1,1.4 0 1,0 -2.2,0M1135.0,584.0a1.5,3.0 0 1,0 3.0,0a1.5,3.0 0 1,0 -3.0,0M1135.7,584.0a0.8,1.7 0 1,0 1.7,0a0.8,1.7 0 1,0 -1.7,0M1212.5,811.0a2.0,5.0 0 1,0 4.0,0a2.0,5.0 0 1,0 -4.0,0M1213.4,811.0a1.1,2.8 0 1,0 2.2,0a1.1,2.8 0 1,0 -2.2,0M1104.0,855.0a2.0,2.5 0 1,0 4.0,0a2.0,2.5 0 1,0 -4.0,0M1104.9,855.0a1.1,1.4 0 1,0 2.2,0a1.1,1.4 0 1,0 -2.2,0M1025.0,893.0a2.0,3.0 0 1,0 4.0,0a2.0,3.0 0 1,0 -4.0,0M1025.9,893.0a1.1,1.7 0 1,0 2.2,0a1.1,1.7 0 1,0 -2.2,0M968.0,898.0a2.0,2.0 0 1,0 4.0,0a2.0,2.0 0 1,0 -4.0,0M968.9,898.0a1.1,1.1 0 1,0 2.2,0a1.1,1.1 0 1,0 -2.2,0" fill="none" stroke="#e0262c" stroke-width="0.6"/><path d="M1023.9,746.9a5.1,4.4 0 1,0 10.1,0a5.1,4.4 0 1,0 -10.1,0M1045.9,717.4a4.5,3.8 0 1,0 9.0,0a4.5,3.8 0 1,0 -9.0,0M1054.9,726.9a4.8,7.0 0 1,0 9.6,0a4.8,7.0 0 1,0 -9.6,0M1066.6,758.3a5.2,5.9 0 1,0 10.3,0a5.2,5.9 0 1,0 -10.3,0M1062.0,771.7a2.8,6.8 0 1,0 5.5,0a2.8,6.8 0 1,0 -5.5,0M1128.9,802.5a5.0,4.0 0 1,0 10.1,0a5.0,4.0 0 1,0 -10.1,0M1071.3,833.7a4.7,4.2 0 1,0 9.4,0a4.7,4.2 0 1,0 -9.4,0M1102.9,785.1a3.5,3.5 0 1,0 7.0,0a3.5,3.5 0 1,0 -7.0,0M1043.6,765.6a4.4,5.9 0 1,0 8.8,0a4.4,5.9 0 1,0 -8.8,0M1148.4,771.2a5.4,3.9 0 1,0 10.8,0a5.4,3.9 0 1,0 -10.8,0M1083.3,791.4a3.7,6.0 0 1,0 7.4,0a3.7,6.0 0 1,0 -7.4,0M1062.5,750.2a2.7,5.5 0 1,0 5.4,0a2.7,5.5 0 1,0 -5.4,0M1124.9,776.8a4.4,3.7 0 1,0 8.8,0a4.4,3.7 0 1,0 -8.8,0M1109.1,742.6a4.6,4.3 0 1,0 9.3,0a4.6,4.3 0 1,0 -9.3,0M1142.0,713.2a3.6,3.7 0 1,0 7.2,0a3.6,3.7 0 1,0 -7.2,0M1114.0,742.1a5.2,6.2 0 1,0 10.4,0a5.2,6.2 0 1,0 -10.4,0M1121.0,705.4a4.2,6.3 0 1,0 8.3,0a4.2,6.3 0 1,0 -8.3,0M1110.6,690.2a4.1,3.6 0 1,0 8.3,0a4.1,3.6 0 1,0 -8.3,0M1128.8,680.0a5.4,4.5 0 1,0 10.7,0a5.4,4.5 0 1,0 -10.7,0M1180.8,693.3a3.3,6.5 0 1,0 6.6,0a3.3,6.5 0 1,0 -6.6,0M1187.4,675.9a3.6,4.4 0 1,0 7.2,0a3.6,4.4 0 1,0 -7.2,0M1185.0,685.2a2.8,4.9 0 1,0 5.6,0a2.8,4.9 0 1,0 -5.6,0M1188.7,674.2a3.7,3.9 0 1,0 7.4,0a3.7,3.9 0 1,0 -7.4,0M1202.1,674.7a3.7,4.5 0 1,0 7.4,0a3.7,4.5 0 1,0 -7.4,0M1202.8,676.5a4.7,6.6 0 1,0 9.3,0a4.7,6.6 0 1,0 -9.3,0M1015.3,834.3a2.8,5.7 0 1,0 5.7,0a2.8,5.7 0 1,0 -5.7,0M1010.3,826.5a4.0,4.2 0 1,0 8.1,0a4.0,4.2 0 1,0 -8.1,0M1071.9,818.5a3.8,6.4 0 1,0 7.6,0a3.8,6.4 0 1,0 -7.6,0M1071.7,818.3a3.0,6.1 0 1,0 6.0,0a3.0,6.1 0 1,0 -6.0,0M1068.4,815.3a5.4,4.0 0 1,0 10.7,0a5.4,4.0 0 1,0 -10.7,0M1053.5,838.6a4.9,4.6 0 1,0 9.9,0a4.9,4.6 0 1,0 -9.9,0M1034.8,833.8a4.3,4.4 0 1,0 8.6,0a4.3,4.4 0 1,0 -8.6,0M1106.1,791.9a5.5,4.5 0 1,0 10.9,0a5.5,4.5 0 1,0 -10.9,0M1148.5,790.5a4.7,5.3 0 1,0 9.5,0a4.7,5.3 0 1,0 -9.5,0M1083.0,788.9a2.8,6.8 0 1,0 5.6,0a2.8,6.8 0 1,0 -5.6,0M1147.5,785.4a3.4,5.9 0 1,0 6.8,0a3.4,5.9 0 1,0 -6.8,0M1135.7,791.3a2.6,3.7 0 1,0 5.1,0a2.6,3.7 0 1,0 -5.1,0M1144.2,792.7a4.9,6.1 0 1,0 9.8,0a4.9,6.1 0 1,0 -9.8,0M1093.0,789.7a4.2,3.9 0 1,0 8.4,0a4.2,3.9 0 1,0 -8.4,0M1105.9,785.7a4.3,6.5 0 1,0 8.5,0a4.3,6.5 0 1,0 -8.5,0M1098.5,791.6a5.0,6.5 0 1,0 10.1,0a5.0,6.5 0 1,0 -10.1,0M1001.9,819.7a3.9,4.1 0 1,0 7.9,0a3.9,4.1 0 1,0 -7.9,0M996.7,819.6a2.6,5.4 0 1,0 5.1,0a2.6,5.4 0 1,0 -5.1,0M1072.4,724.1a4.4,4.4 0 1,0 8.9,0a4.4,4.4 0 1,0 -8.9,0M1065.2,715.8a3.2,4.6 0 1,0 6.4,0a3.2,4.6 0 1,0 -6.4,0M1062.7,700.2a5.2,6.8 0 1,0 10.5,0a5.2,6.8 0 1,0 -10.5,0M1041.2,711.1a5.2,6.7 0 1,0 10.5,0a5.2,6.7 0 1,0 -10.5,0M1032.8,709.5a3.5,5.3 0 1,0 7.1,0a3.5,5.3 0 1,0 -7.1,0M1106.4,670.5a3.3,6.2 0 1,0 6.5,0a3.3,6.2 0 1,0 -6.5,0M1034.6,589.6a4.0,5.5 0 1,0 8.0,0a4.0,5.5 0 1,0 -8.0,0M1057.0,582.0a5.0,5.5 0 1,0 10.0,0a5.0,5.5 0 1,0 -10.0,0M1078.5,571.4a1.5,3.0 0 1,0 3.0,0a1.5,3.0 0 1,0 -3.0,0M1017.0,654.0a5.0,6.0 0 1,0 10.0,0a5.0,6.0 0 1,0 -10.0,0M1064.0,651.0a4.0,5.5 0 1,0 8.0,0a4.0,5.5 0 1,0 -8.0,0M1048.0,671.0a4.0,6.0 0 1,0 8.0,0a4.0,6.0 0 1,0 -8.0,0M980.1,680.0a1.5,3.0 0 1,0 3.0,0a1.5,3.0 0 1,0 -3.0,0M967.3,713.0a4.0,5.5 0 1,0 8.0,0a4.0,5.5 0 1,0 -8.0,0M1010.0,708.0a4.0,6.0 0 1,0 8.0,0a4.0,6.0 0 1,0 -8.0,0M1037.7,701.0a4.0,4.0 0 1,0 8.0,0a4.0,4.0 0 1,0 -8.0,0M1034.0,712.0a4.0,6.0 0 1,0 8.0,0a4.0,6.0 0 1,0 -8.0,0M1103.0,585.5a4.0,5.5 0 1,0 8.0,0a4.0,5.5 0 1,0 -8.0,0M1146.0,615.0a4.5,4.5 0 1,0 9.0,0a4.5,4.5 0 1,0 -9.0,0M1131.0,628.0a4.0,6.0 0 1,0 8.0,0a4.0,6.0 0 1,0 -8.0,0M1118.8,637.0a3.0,4.5 0 1,0 6.0,0a3.0,4.5 0 1,0 -6.0,0M1126.0,640.0a1.5,3.5 0 1,0 3.0,0a1.5,3.5 0 1,0 -3.0,0M1154.0,643.0a2.0,5.0 0 1,0 4.0,0a2.0,5.0 0 1,0 -4.0,0M1132.0,655.0a2.0,4.0 0 1,0 4.0,0a2.0,4.0 0 1,0 -4.0,0M1142.5,647.0a3.5,5.5 0 1,0 7.0,0a3.5,5.5 0 1,0 -7.0,0M1147.5,660.0a5.5,6.0 0 1,0 11.0,0a5.5,6.0 0 1,0 -11.0,0M1101.5,674.0a5.0,7.0 0 1,0 10.0,0a5.0,7.0 0 1,0 -10.0,0M1119.0,679.0a3.0,4.5 0 1,0 6.0,0a3.0,4.5 0 1,0 -6.0,0M1197.0,645.0a2.0,5.0 0 1,0 4.0,0a2.0,5.0 0 1,0 -4.0,0M1209.0,655.0a4.0,6.0 0 1,0 8.0,0a4.0,6.0 0 1,0 -8.0,0M1212.5,680.0a2.5,6.0 0 1,0 5.0,0a2.5,6.0 0 1,0 -5.0,0M1204.5,660.0a3.5,6.0 0 1,0 7.0,0a3.5,6.0 0 1,0 -7.0,0M1163.5,715.0a3.5,5.0 0 1,0 7.0,0a3.5,5.0 0 1,0 -7.0,0M1222.0,716.0a3.0,5.0 0 1,0 6.0,0a3.0,5.0 0 1,0 -6.0,0M1002.0,728.0a5.0,5.5 0 1,0 10.0,0a5.0,5.5 0 1,0 -10.0,0M979.7,739.0a4.0,5.5 0 1,0 8.0,0a4.0,5.5 0 1,0 -8.0,0M995.0,750.0a5.5,6.0 0 1,0 11.0,0a5.5,6.0 0 1,0 -11.0,0M1010.5,754.5a4.5,5.0 0 1,0 9.0,0a4.5,5.0 0 1,0 -9.0,0M983.8,772.0a5.0,6.0 0 1,0 10.0,0a5.0,6.0 0 1,0 -10.0,0M1007.5,771.0a4.5,5.5 0 1,0 9.0,0a4.5,5.5 0 1,0 -9.0,0M926.8,772.5a3.5,5.0 0 1,0 7.0,0a3.5,5.0 0 1,0 -7.0,0M959.3,788.0a4.0,5.0 0 1,0 8.0,0a4.0,5.0 0 1,0 -8.0,0M949.7,801.5a4.5,5.5 0 1,0 9.0,0a4.5,5.5 0 1,0 -9.0,0M975.0,802.0a4.0,7.0 0 1,0 8.0,0a4.0,7.0 0 1,0 -8.0,0M972.5,811.0a4.0,5.0 0 1,0 8.0,0a4.0,5.0 0 1,0 -8.0,0M917.6,822.0a4.0,5.5 0 1,0 8.0,0a4.0,5.5 0 1,0 -8.0,0M971.2,837.5a4.0,5.0 0 1,0 8.0,0a4.0,5.0 0 1,0 -8.0,0M990.0,821.0a5.0,5.0 0 1,0 10.0,0a5.0,5.0 0 1,0 -10.0,0M1000.0,821.0a5.0,5.0 0 1,0 10.0,0a5.0,5.0 0 1,0 -10.0,0M1009.0,820.0a4.0,5.0 0 1,0 8.0,0a4.0,5.0 0 1,0 -8.0,0M1021.0,776.0a4.0,8.0 0 1,0 8.0,0a4.0,8.0 0 1,0 -8.0,0M1042.5,849.5a4.5,6.0 0 1,0 9.0,0a4.5,6.0 0 1,0 -9.0,0M1067.2,851.0a4.5,6.0 0 1,0 9.0,0a4.5,6.0 0 1,0 -9.0,0M1056.0,840.0a4.0,5.0 0 1,0 8.0,0a4.0,5.0 0 1,0 -8.0,0M1031.0,727.0a5.0,6.0 0 1,0 10.0,0a5.0,6.0 0 1,0 -10.0,0M1165.0,716.5a4.0,5.0 0 1,0 8.0,0a4.0,5.0 0 1,0 -8.0,0M1174.0,723.5a6.0,5.5 0 1,0 12.0,0a6.0,5.5 0 1,0 -12.0,0M1189.5,713.0a1.5,6.0 0 1,0 3.0,0a1.5,6.0 0 1,0 -3.0,0M1220.6,718.0a4.0,5.5 0 1,0 8.0,0a4.0,5.5 0 1,0 -8.0,0M1163.5,750.0a7.0,6.5 0 1,0 14.0,0a7.0,6.5 0 1,0 -14.0,0M1143.0,751.0a5.0,7.0 0 1,0 10.0,0a5.0,7.0 0 1,0 -10.0,0M1207.7,749.5a4.0,5.0 0 1,0 8.0,0a4.0,5.0 0 1,0 -8.0,0M1196.6,758.0a4.0,5.0 0 1,0 8.0,0a4.0,5.0 0 1,0 -8.0,0M1203.5,775.0a4.0,5.0 0 1,0 8.0,0a4.0,5.0 0 1,0 -8.0,0M1161.5,789.0a6.0,6.5 0 1,0 12.0,0a6.0,6.5 0 1,0 -12.0,0M1177.5,800.5a4.0,5.5 0 1,0 8.0,0a4.0,5.5 0 1,0 -8.0,0M1175.5,827.0a5.0,5.5 0 1,0 10.0,0a5.0,5.5 0 1,0 -10.0,0M1124.0,824.0a6.5,6.5 0 1,0 13.0,0a6.5,6.5 0 1,0 -13.0,0M1139.0,788.0a4.0,6.0 0 1,0 8.0,0a4.0,6.0 0 1,0 -8.0,0M1159.5,789.0a4.5,5.5 0 1,0 9.0,0a4.5,5.5 0 1,0 -9.0,0M1180.0,788.0a3.0,5.0 0 1,0 6.0,0a3.0,5.0 0 1,0 -6.0,0M1113.8,855.0a3.0,4.0 0 1,0 6.0,0a3.0,4.0 0 1,0 -6.0,0M1130.0,867.0a4.0,4.0 0 1,0 8.0,0a4.0,4.0 0 1,0 -8.0,0M1111.5,847.0a4.5,6.0 0 1,0 9.0,0a4.5,6.0 0 1,0 -9.0,0M1120.0,843.0a5.0,4.0 0 1,0 10.0,0a5.0,4.0 0 1,0 -10.0,0M1066.5,854.5a4.5,5.0 0 1,0 9.0,0a4.5,5.0 0 1,0 -9.0,0M1130.0,868.5a5.0,5.0 0 1,0 10.0,0a5.0,5.0 0 1,0 -10.0,0M1112.0,894.5a5.0,5.0 0 1,0 10.0,0a5.0,5.0 0 1,0 -10.0,0M1098.5,925.0a1.5,1.5 0 1,0 3.0,0a1.5,1.5 0 1,0 -3.0,0M1015.5,874.0a1.5,1.5 0 1,0 3.0,0a1.5,1.5 0 1,0 -3.0,0M968.5,911.5a4.0,5.0 0 1,0 8.0,0a4.0,5.0 0 1,0 -8.0,0M994.0,895.0a4.0,5.5 0 1,0 8.0,0a4.0,5.5 0 1,0 -8.0,0M1019.0,905.0a4.0,6.0 0 1,0 8.0,0a4.0,6.0 0 1,0 -8.0,0M718.6,898.9a3.0,4.5 0 1,0 6.0,0a3.0,4.5 0 1,0 -6.0,0M817.5,853.3a2.5,3.0 0 1,0 5.0,0a2.5,3.0 0 1,0 -5.0,0" fill="#e0262c"/><path d="M1032.3,592.0a1.7,2.8 0 1,0 3.4,0a1.7,2.8 0 1,0 -3.4,0M1036.9,589.6a1.7,2.8 0 1,0 3.4,0a1.7,2.8 0 1,0 -3.4,0M1058.1,580.0a1.9,3.0 0 1,0 3.8,0a1.9,3.0 0 1,0 -3.8,0M1059.9,582.0a2.1,2.8 0 1,0 4.2,0a2.1,2.8 0 1,0 -4.2,0M1017.1,652.0a1.9,3.0 0 1,0 3.8,0a1.9,3.0 0 1,0 -3.8,0M1019.9,654.0a2.1,3.0 0 1,0 4.2,0a2.1,3.0 0 1,0 -4.2,0M1068.3,648.0a1.7,2.8 0 1,0 3.4,0a1.7,2.8 0 1,0 -3.4,0M1066.3,651.0a1.7,2.8 0 1,0 3.4,0a1.7,2.8 0 1,0 -3.4,0M1050.3,671.0a1.7,3.0 0 1,0 3.4,0a1.7,3.0 0 1,0 -3.4,0M968.1,713.0a1.9,2.8 0 1,0 3.8,0a1.9,2.8 0 1,0 -3.8,0M969.6,713.0a1.7,2.8 0 1,0 3.4,0a1.7,2.8 0 1,0 -3.4,0M1011.3,706.0a1.7,2.8 0 1,0 3.4,0a1.7,2.8 0 1,0 -3.4,0M1012.3,708.0a1.7,3.0 0 1,0 3.4,0a1.7,3.0 0 1,0 -3.4,0M1040.0,701.0a1.7,2.0 0 1,0 3.4,0a1.7,2.0 0 1,0 -3.4,0M1036.3,712.0a1.7,3.0 0 1,0 3.4,0a1.7,3.0 0 1,0 -3.4,0M1102.3,586.0a1.7,2.8 0 1,0 3.4,0a1.7,2.8 0 1,0 -3.4,0M1105.3,585.5a1.7,2.8 0 1,0 3.4,0a1.7,2.8 0 1,0 -3.4,0M1148.9,616.0a2.1,2.2 0 1,0 4.2,0a2.1,2.2 0 1,0 -4.2,0M1148.6,615.0a1.9,2.2 0 1,0 3.8,0a1.9,2.2 0 1,0 -3.8,0M1133.3,628.0a1.7,3.0 0 1,0 3.4,0a1.7,3.0 0 1,0 -3.4,0M1120.5,637.0a1.3,2.2 0 1,0 2.5,0a1.3,2.2 0 1,0 -2.5,0M1137.7,650.0a1.3,2.5 0 1,0 2.5,0a1.3,2.5 0 1,0 -2.5,0M1144.5,647.0a1.5,2.8 0 1,0 2.9,0a1.5,2.8 0 1,0 -2.9,0M1150.7,660.0a2.3,3.0 0 1,0 4.6,0a2.3,3.0 0 1,0 -4.6,0M1102.1,672.0a1.9,3.2 0 1,0 3.8,0a1.9,3.2 0 1,0 -3.8,0M1104.4,674.0a2.1,3.5 0 1,0 4.2,0a2.1,3.5 0 1,0 -4.2,0M1120.7,679.0a1.3,2.2 0 1,0 2.5,0a1.3,2.2 0 1,0 -2.5,0M1211.3,655.0a1.7,3.0 0 1,0 3.4,0a1.7,3.0 0 1,0 -3.4,0M1214.0,680.0a1.1,3.0 0 1,0 2.1,0a1.1,3.0 0 1,0 -2.1,0M1211.7,692.0a1.3,1.5 0 1,0 2.5,0a1.3,1.5 0 1,0 -2.5,0M1206.5,660.0a1.5,3.0 0 1,0 2.9,0a1.5,3.0 0 1,0 -2.9,0M1165.5,715.0a1.5,2.5 0 1,0 2.9,0a1.5,2.5 0 1,0 -2.9,0M1221.7,713.0a1.3,2.0 0 1,0 2.5,0a1.3,2.0 0 1,0 -2.5,0M1223.7,716.0a1.3,2.5 0 1,0 2.5,0a1.3,2.5 0 1,0 -2.5,0M1003.9,727.0a2.1,3.0 0 1,0 4.2,0a2.1,3.0 0 1,0 -4.2,0M1004.9,728.0a2.1,2.8 0 1,0 4.2,0a2.1,2.8 0 1,0 -4.2,0M982.3,738.0a1.7,3.0 0 1,0 3.4,0a1.7,3.0 0 1,0 -3.4,0M982.0,739.0a1.7,2.8 0 1,0 3.4,0a1.7,2.8 0 1,0 -3.4,0M996.9,750.0a2.1,3.0 0 1,0 4.2,0a2.1,3.0 0 1,0 -4.2,0M998.2,750.0a2.3,3.0 0 1,0 4.6,0a2.3,3.0 0 1,0 -4.6,0M1015.1,753.0a1.9,2.5 0 1,0 3.8,0a1.9,2.5 0 1,0 -3.8,0M1013.1,754.5a1.9,2.5 0 1,0 3.8,0a1.9,2.5 0 1,0 -3.8,0M985.9,772.0a2.1,3.0 0 1,0 4.2,0a2.1,3.0 0 1,0 -4.2,0M986.7,772.0a2.1,3.0 0 1,0 4.2,0a2.1,3.0 0 1,0 -4.2,0M1007.1,771.0a1.9,3.0 0 1,0 3.8,0a1.9,3.0 0 1,0 -3.8,0M1010.1,771.0a1.9,2.8 0 1,0 3.8,0a1.9,2.8 0 1,0 -3.8,0M928.3,773.0a1.7,2.8 0 1,0 3.4,0a1.7,2.8 0 1,0 -3.4,0M928.8,772.5a1.5,2.5 0 1,0 2.9,0a1.5,2.5 0 1,0 -2.9,0M961.6,788.0a1.7,2.5 0 1,0 3.4,0a1.7,2.5 0 1,0 -3.4,0M950.1,802.0a1.9,2.8 0 1,0 3.8,0a1.9,2.8 0 1,0 -3.8,0M952.3,801.5a1.9,2.8 0 1,0 3.8,0a1.9,2.8 0 1,0 -3.8,0M976.1,802.0a1.9,3.5 0 1,0 3.8,0a1.9,3.5 0 1,0 -3.8,0M977.3,802.0a1.7,3.5 0 1,0 3.4,0a1.7,3.5 0 1,0 -3.4,0M974.8,811.0a1.7,2.5 0 1,0 3.4,0a1.7,2.5 0 1,0 -3.4,0M919.3,821.0a1.7,2.8 0 1,0 3.4,0a1.7,2.8 0 1,0 -3.4,0M919.9,822.0a1.7,2.8 0 1,0 3.4,0a1.7,2.8 0 1,0 -3.4,0M971.3,836.0a1.7,2.5 0 1,0 3.4,0a1.7,2.5 0 1,0 -3.4,0M973.5,837.5a1.7,2.5 0 1,0 3.4,0a1.7,2.5 0 1,0 -3.4,0M992.9,821.0a2.1,2.5 0 1,0 4.2,0a2.1,2.5 0 1,0 -4.2,0M1002.9,821.0a2.1,2.5 0 1,0 4.2,0a2.1,2.5 0 1,0 -4.2,0M1011.3,820.0a1.7,2.5 0 1,0 3.4,0a1.7,2.5 0 1,0 -3.4,0M1023.3,776.0a1.7,4.0 0 1,0 3.4,0a1.7,4.0 0 1,0 -3.4,0M1043.9,849.0a2.1,3.0 0 1,0 4.2,0a2.1,3.0 0 1,0 -4.2,0M1045.1,849.5a1.9,3.0 0 1,0 3.8,0a1.9,3.0 0 1,0 -3.8,0M1069.8,851.0a1.9,3.0 0 1,0 3.8,0a1.9,3.0 0 1,0 -3.8,0M1058.3,840.0a1.7,2.5 0 1,0 3.4,0a1.7,2.5 0 1,0 -3.4,0M1031.1,727.0a1.9,2.8 0 1,0 3.8,0a1.9,2.8 0 1,0 -3.8,0M1033.9,727.0a2.1,3.0 0 1,0 4.2,0a2.1,3.0 0 1,0 -4.2,0M1165.3,715.0a1.7,2.5 0 1,0 3.4,0a1.7,2.5 0 1,0 -3.4,0M1167.3,716.5a1.7,2.5 0 1,0 3.4,0a1.7,2.5 0 1,0 -3.4,0M1175.5,724.0a2.5,2.8 0 1,0 5.0,0a2.5,2.8 0 1,0 -5.0,0M1177.5,723.5a2.5,2.8 0 1,0 5.0,0a2.5,2.8 0 1,0 -5.0,0M1220.3,716.0a1.7,2.5 0 1,0 3.4,0a1.7,2.5 0 1,0 -3.4,0M1222.9,718.0a1.7,2.8 0 1,0 3.4,0a1.7,2.8 0 1,0 -3.4,0M1170.1,749.0a2.9,3.2 0 1,0 5.9,0a2.9,3.2 0 1,0 -5.9,0M1167.6,750.0a2.9,3.2 0 1,0 5.9,0a2.9,3.2 0 1,0 -5.9,0M1145.9,751.0a2.1,3.5 0 1,0 4.2,0a2.1,3.5 0 1,0 -4.2,0M1210.0,749.5a1.7,2.5 0 1,0 3.4,0a1.7,2.5 0 1,0 -3.4,0M1205.7,757.0a1.3,2.2 0 1,0 2.5,0a1.3,2.2 0 1,0 -2.5,0M1198.9,758.0a1.7,2.5 0 1,0 3.4,0a1.7,2.5 0 1,0 -3.4,0M1203.0,776.0a1.5,2.5 0 1,0 2.9,0a1.5,2.5 0 1,0 -2.9,0M1205.8,775.0a1.7,2.5 0 1,0 3.4,0a1.7,2.5 0 1,0 -3.4,0M1167.5,787.0a2.5,3.0 0 1,0 5.0,0a2.5,3.0 0 1,0 -5.0,0M1165.0,789.0a2.5,3.2 0 1,0 5.0,0a2.5,3.2 0 1,0 -5.0,0M1182.5,802.0a1.5,2.5 0 1,0 2.9,0a1.5,2.5 0 1,0 -2.9,0M1179.8,800.5a1.7,2.8 0 1,0 3.4,0a1.7,2.8 0 1,0 -3.4,0M1181.1,826.0a1.9,2.8 0 1,0 3.8,0a1.9,2.8 0 1,0 -3.8,0M1178.4,827.0a2.1,2.8 0 1,0 4.2,0a2.1,2.8 0 1,0 -4.2,0M1129.3,823.0a2.7,3.0 0 1,0 5.5,0a2.7,3.0 0 1,0 -5.5,0M1127.8,824.0a2.7,3.2 0 1,0 5.5,0a2.7,3.2 0 1,0 -5.5,0M1141.3,788.0a1.7,3.0 0 1,0 3.4,0a1.7,3.0 0 1,0 -3.4,0M1162.1,789.0a1.9,2.8 0 1,0 3.8,0a1.9,2.8 0 1,0 -3.8,0M1181.7,788.0a1.3,2.5 0 1,0 2.5,0a1.3,2.5 0 1,0 -2.5,0M1115.5,855.0a1.3,2.0 0 1,0 2.5,0a1.3,2.0 0 1,0 -2.5,0M1132.3,867.0a1.7,2.0 0 1,0 3.4,0a1.7,2.0 0 1,0 -3.4,0M1110.3,848.0a1.7,3.0 0 1,0 3.4,0a1.7,3.0 0 1,0 -3.4,0M1114.1,847.0a1.9,3.0 0 1,0 3.8,0a1.9,3.0 0 1,0 -3.8,0M1122.9,843.0a2.1,2.0 0 1,0 4.2,0a2.1,2.0 0 1,0 -4.2,0M1069.1,854.5a1.9,2.5 0 1,0 3.8,0a1.9,2.5 0 1,0 -3.8,0M1135.9,869.0a2.1,2.5 0 1,0 4.2,0a2.1,2.5 0 1,0 -4.2,0M1132.9,868.5a2.1,2.5 0 1,0 4.2,0a2.1,2.5 0 1,0 -4.2,0M1119.9,893.0a2.1,2.5 0 1,0 4.2,0a2.1,2.5 0 1,0 -4.2,0M1114.9,894.5a2.1,2.5 0 1,0 4.2,0a2.1,2.5 0 1,0 -4.2,0M970.8,911.5a1.7,2.5 0 1,0 3.4,0a1.7,2.5 0 1,0 -3.4,0M970.8,911.5a1.7,2.5 0 1,0 3.4,0a1.7,2.5 0 1,0 -3.4,0M996.3,895.0a1.7,2.8 0 1,0 3.4,0a1.7,2.8 0 1,0 -3.4,0M995.3,894.0a1.7,2.8 0 1,0 3.4,0a1.7,2.8 0 1,0 -3.4,0M1019.3,906.0a1.7,2.8 0 1,0 3.4,0a1.7,2.8 0 1,0 -3.4,0M1021.3,905.0a1.7,3.0 0 1,0 3.4,0a1.7,3.0 0 1,0 -3.4,0M721.7,896.0a1.3,2.0 0 1,0 2.5,0a1.3,2.0 0 1,0 -2.5,0M720.3,898.9a1.3,2.2 0 1,0 2.5,0a1.3,2.2 0 1,0 -2.5,0M818.7,852.0a1.3,1.8 0 1,0 2.5,0a1.3,1.8 0 1,0 -2.5,0M819.0,853.3a1.1,1.5 0 1,0 2.1,0a1.1,1.5 0 1,0 -2.1,0" fill="none" stroke="#fff" stroke-width="0.5" opacity="0.6"/></g>
<text x="275.3" y="696.2" font-size="25.2" text-anchor="start" fill="#000" >V350?</text>
<path d="M351.6 688.9 L372 695.5" stroke="#000" stroke-width="1.4"/>
<text x="84.6" y="811.2" font-size="25.2" text-anchor="start" fill="#000" >L496</text>
<path d="M100 816.3 V823.7" stroke="#000" stroke-width="1.6"/>
<text x="8.0" y="871.3" font-size="25.2" text-anchor="start" fill="#000" >L429</text>
<path d="M30.9 877.4 V884.8" stroke="#000" stroke-width="1.6"/>
<text x="130.6" y="897.5" font-size="25.2" text-anchor="start" fill="#000" >K258</text>
<path d="M135 857.9 V866.6" stroke="#000" stroke-width="1.6"/>
<text x="696.3" y="874.0" font-size="25.2" text-anchor="start" fill="#000" >L429</text>
<path d="M720.6 880 V886.6" stroke="#000" stroke-width="1.6"/>
<text x="813.9" y="901.6" font-size="25.2" text-anchor="start" fill="#000" >K258</text>
<path d="M819.2 861.6 V870" stroke="#000" stroke-width="1.6"/>
<text x="1375.3" y="743.5" font-size="29.4" text-anchor="middle" fill="#000" transform="rotate(-90 1375.3 743.5)" ><tspan font-size="19" dy="-12">15</tspan><tspan dy="12">N chemical shift (p.p.m.)</tspan></text>
</svg></body></html>
